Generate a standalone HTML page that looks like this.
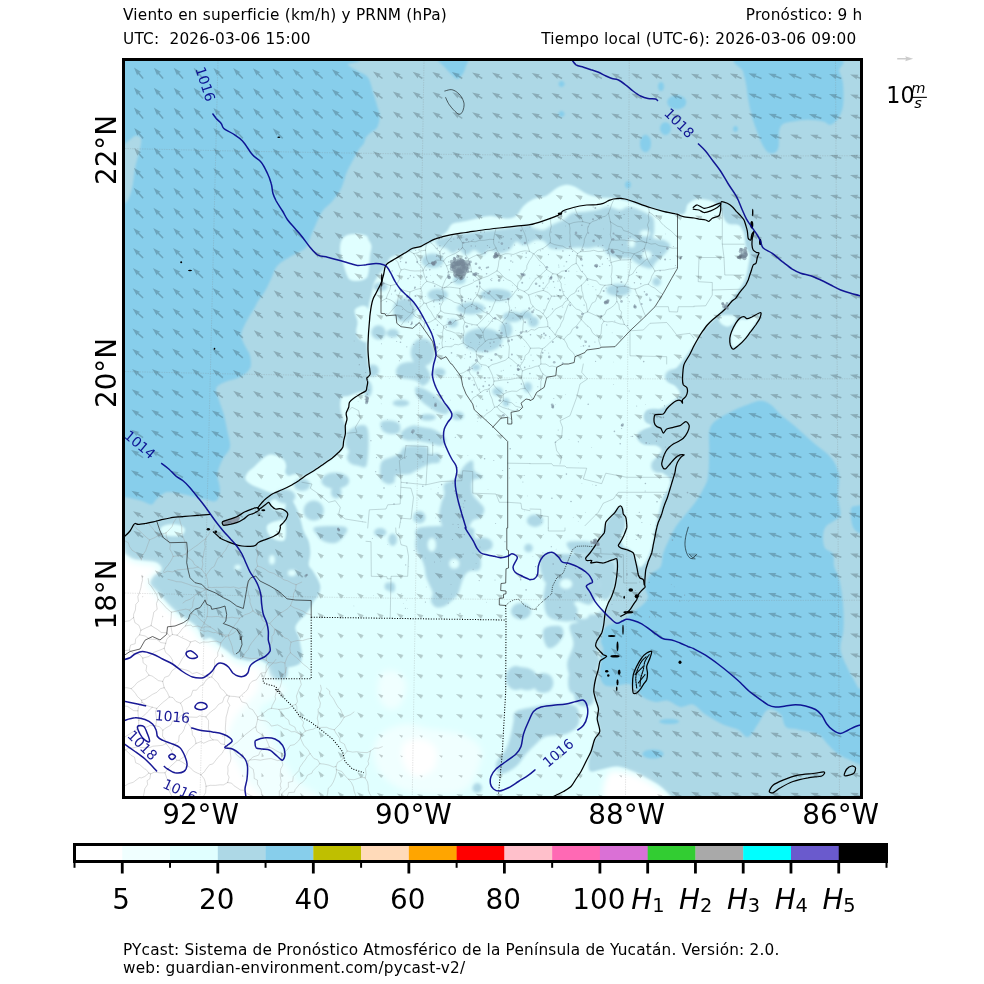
<!DOCTYPE html>
<html lang="es"><head><meta charset="utf-8"><title>PYcast – Viento en superficie y PRNM</title>
<style>
html,body{margin:0;padding:0;background:#fff}
body{width:984px;height:984px;overflow:hidden;position:relative;font-family:"DejaVu Sans","Liberation Sans",sans-serif;color:#000}
svg{position:absolute;left:0;top:0;display:block}
text{font-family:"DejaVu Sans","Liberation Sans",sans-serif}
</style></head>
<body>
<svg width="984" height="984" viewBox="0 0 984 984">
<defs><clipPath id="mc"><rect x="123.5" y="59.5" width="738.0" height="738.0"/></clipPath><filter id="b1" x="-5%" y="-5%" width="110%" height="110%"><feGaussianBlur stdDeviation="1.2"/></filter><filter id="b2" x="-5%" y="-5%" width="110%" height="110%"><feGaussianBlur stdDeviation="1.7"/></filter><filter id="b3" x="-5%" y="-5%" width="110%" height="110%"><feGaussianBlur stdDeviation="3"/></filter></defs>
<g clip-path="url(#mc)">
<rect x="113.5" y="49.5" width="758.0" height="758.0" fill="#add8e6"/>
<g filter="url(#b1)">
<path d="M118.0,54.0C154.9,39.8 303.0,56.7 341.2,58.5C379.5,60.3 344.8,62.7 347.5,64.8C350.2,66.8 354.4,69.2 357.5,71.0C360.6,72.8 364.0,73.8 366.0,75.5C368.0,77.2 368.5,78.0 369.8,81.0C371.0,84.0 372.2,89.3 373.5,93.5C374.8,97.7 376.2,102.2 377.2,106.0C378.3,109.8 379.8,112.5 379.8,116.0C379.8,119.5 378.7,124.5 377.2,127.2C375.8,130.0 372.9,130.6 371.0,132.2C369.1,133.9 367.2,135.4 366.0,137.2C364.8,139.1 365.0,141.4 363.8,143.5C362.5,145.6 360.6,146.8 358.8,149.8C356.9,152.7 354.6,157.0 352.5,161.0C350.4,165.0 348.1,168.9 346.2,173.5C344.4,178.1 343.5,183.9 341.2,188.5C339.0,193.1 335.6,197.2 332.5,201.0C329.4,204.8 325.2,207.2 322.5,211.0C319.8,214.8 318.1,219.5 316.2,223.5C314.4,227.5 312.9,230.8 311.2,234.8C309.6,238.7 308.8,244.1 306.2,247.2C303.8,250.4 299.8,251.4 296.2,253.5C292.7,255.6 288.3,257.5 285.0,259.8C281.7,262.0 278.5,264.1 276.2,267.2C274.0,270.4 273.1,274.5 271.2,278.5C269.4,282.5 267.3,287.1 265.0,291.0C262.7,294.9 259.2,299.3 257.5,302.0C255.8,304.7 256.9,303.7 255.0,307.0C253.1,310.3 248.5,317.4 246.2,322.0C244.0,326.6 241.5,330.5 241.2,334.5C241.0,338.5 243.5,342.2 245.0,345.8C246.5,349.3 249.2,352.0 250.0,355.8C250.8,359.5 251.7,364.7 250.0,368.2C248.3,371.8 244.2,374.7 240.0,377.0C235.8,379.3 229.0,380.1 225.0,382.0C221.0,383.9 217.3,385.3 216.2,388.2C215.2,391.2 217.5,395.1 218.8,399.5C220.0,403.9 222.3,409.1 223.8,414.5C225.2,419.9 226.5,426.6 227.5,432.0C228.5,437.4 230.8,442.4 230.0,447.0C229.2,451.6 224.6,454.9 222.5,459.5C220.4,464.1 217.9,469.5 217.5,474.5C217.1,479.5 220.2,485.1 220.0,489.5C219.8,493.9 218.8,499.1 216.2,500.8C213.8,502.4 210.2,500.5 205.0,499.5C199.8,498.5 191.2,495.8 185.0,494.5C178.8,493.2 172.1,491.4 167.5,492.0C162.9,492.6 160.2,496.2 157.5,498.2C154.8,500.3 154.0,504.1 151.2,504.5C148.5,504.9 145.6,502.0 141.2,500.8C136.9,499.5 128.5,497.6 125.0,497.0C121.5,496.4 120.8,545.5 120.0,497.0C119.2,448.5 119.2,254.9 120.0,206.0C120.8,157.1 123.5,204.8 125.0,203.5C126.5,202.2 127.5,201.4 128.8,198.5C130.0,195.6 131.5,191.0 132.5,186.0C133.5,181.0 134.0,173.9 135.0,168.5C136.0,163.1 137.7,158.3 138.8,153.5C139.8,148.7 141.7,142.8 141.2,139.8C140.8,136.8 138.1,135.5 136.2,135.5C134.4,135.5 131.9,138.4 130.0,139.8C128.1,141.1 126.7,142.9 125.0,143.5C123.3,144.1 121.2,158.4 120.0,143.5C118.8,128.6 81.1,68.2 118.0,54.0Z" fill="#87ceeb"/>
<path d="M438.5,58.5C442.0,57.0 461.5,57.0 466.0,58.5C470.5,60.0 466.1,64.5 465.5,67.2C464.9,70.0 463.6,72.8 462.2,74.8C460.9,76.7 459.1,79.1 457.2,79.0C455.4,78.9 453.1,76.0 451.0,74.0C448.9,72.0 446.8,69.8 444.8,67.2C442.7,64.7 435.0,60.0 438.5,58.5Z" fill="#87ceeb"/>
<path d="M740.0,58.5C755.4,56.4 819.0,56.4 835.5,58.5C852.0,60.6 838.0,66.8 839.2,71.0C840.5,75.2 842.4,77.7 843.0,83.5C843.6,89.3 843.8,100.2 843.0,106.0C842.2,111.8 840.1,115.4 838.0,118.5C835.9,121.6 833.0,124.2 830.5,124.8C828.0,125.2 826.8,122.3 823.0,121.5C819.2,120.7 813.0,119.8 808.0,119.8C803.0,119.8 797.2,120.8 793.0,121.5C788.8,122.2 785.3,122.4 783.0,124.0C780.7,125.6 780.0,127.1 779.2,131.0C778.5,134.9 779.3,143.6 778.5,147.2C777.7,150.9 776.0,152.2 774.2,153.0C772.5,153.8 770.0,153.6 768.0,152.2C766.0,150.9 764.4,148.3 762.5,144.8C760.6,141.2 758.5,135.8 756.8,131.0C755.0,126.2 753.1,121.0 751.8,116.0C750.4,111.0 749.5,106.4 748.5,101.0C747.5,95.6 746.9,88.5 746.0,83.5C745.1,78.5 744.0,75.2 743.0,71.0C742.0,66.8 724.6,60.6 740.0,58.5Z" fill="#87ceeb"/>
<path d="M760.5,400.8C764.2,400.8 767.2,402.2 770.5,404.5C773.8,406.8 776.8,411.2 780.5,414.5C784.2,417.8 789.0,421.2 793.0,424.5C797.0,427.8 800.5,431.2 804.2,434.5C808.0,437.8 811.5,441.2 815.5,444.5C819.5,447.8 824.7,451.2 828.0,454.5C831.3,457.8 833.6,460.8 835.5,464.5C837.4,468.2 838.8,471.6 839.2,477.0C839.7,482.4 837.8,490.8 838.0,497.0C838.2,503.2 841.1,510.5 840.5,514.5C839.9,518.5 836.8,518.7 834.2,520.8C831.8,522.8 827.4,524.3 825.5,527.0C823.6,529.7 823.1,533.5 823.0,537.0C822.9,540.5 823.3,545.2 825.0,548.0C826.7,550.8 831.5,550.9 833.0,554.0C834.5,557.1 833.2,562.3 834.2,566.5C835.3,570.7 837.8,572.8 839.2,579.0C840.7,585.2 842.3,595.7 843.0,604.0C843.7,612.3 843.9,621.5 843.5,629.0C843.1,636.5 840.0,642.8 840.5,649.0C841.0,655.2 844.5,661.3 846.8,666.5C849.0,671.7 852.2,676.5 854.2,680.2C856.3,684.0 857.4,687.5 859.2,689.0C861.1,690.5 864.5,676.5 865.5,689.0C866.5,701.5 866.5,751.5 865.5,764.0C864.5,776.5 861.3,764.4 859.2,764.0C857.2,763.6 856.5,763.2 853.0,761.5C849.5,759.8 842.2,756.8 838.0,754.0C833.8,751.2 831.3,747.8 828.0,744.5C824.7,741.2 823.0,737.0 818.0,734.5C813.0,732.0 803.3,730.8 798.0,729.5C792.7,728.2 788.9,729.5 786.0,727.0C783.1,724.5 783.5,717.4 780.5,714.5C777.5,711.6 771.8,707.9 768.0,709.5C764.2,711.1 761.3,719.4 758.0,724.0C754.7,728.6 751.3,736.1 748.0,737.0C744.7,737.9 742.2,731.6 738.0,729.5C733.8,727.4 728.4,727.0 723.0,724.5C717.6,722.0 710.5,717.8 705.5,714.5C700.5,711.2 697.2,705.8 693.0,704.5C688.8,703.2 684.7,707.6 680.5,707.0C676.3,706.4 672.2,701.6 668.0,700.8C663.8,699.9 659.7,702.6 655.5,702.0C651.3,701.4 647.2,699.9 643.0,697.0C638.8,694.1 635.7,686.2 630.5,684.5C625.3,682.8 616.5,686.6 612.0,686.5C607.5,686.4 605.5,686.1 603.5,684.0C601.5,681.9 600.2,678.2 599.8,674.0C599.3,669.8 600.4,663.2 601.0,659.0C601.6,654.8 603.7,652.3 603.5,649.0C603.3,645.7 599.8,642.3 599.8,639.0C599.8,635.7 601.5,631.5 603.5,629.0C605.5,626.5 608.3,625.6 612.0,624.0C615.7,622.4 622.0,621.5 625.5,619.5C629.0,617.5 630.1,614.5 633.0,612.0C635.9,609.5 640.5,607.0 643.0,604.5C645.5,602.0 647.6,599.9 648.0,597.0C648.4,594.1 645.1,590.8 645.5,587.0C645.9,583.2 648.0,577.8 650.5,574.5C653.0,571.2 658.4,570.4 660.5,567.0C662.6,563.6 661.8,558.2 663.0,554.0C664.2,549.8 665.9,546.5 668.0,542.0C670.1,537.5 672.6,531.6 675.5,527.0C678.4,522.4 682.2,518.7 685.5,514.5C688.8,510.3 692.6,506.2 695.5,502.0C698.4,497.8 700.9,493.7 703.0,489.5C705.1,485.3 707.0,483.2 708.0,477.0C709.0,470.8 709.0,459.5 709.2,452.0C709.5,444.5 708.4,437.0 709.2,432.0C710.1,427.0 710.7,425.3 714.2,422.0C717.8,418.7 724.9,414.9 730.5,412.0C736.1,409.1 743.0,406.4 748.0,404.5C753.0,402.6 756.8,400.8 760.5,400.8Z" fill="#87ceeb"/>
<path d="M686.2,102.2C686.2,103.4 685.8,104.7 685.0,105.8C684.2,106.8 682.9,107.7 681.5,108.3C680.1,108.9 678.3,109.2 676.8,109.2C675.2,109.2 673.4,108.9 672.0,108.3C670.6,107.7 669.3,106.8 668.5,105.8C667.7,104.7 667.2,103.4 667.2,102.2C667.2,101.1 667.7,99.8 668.5,98.8C669.3,97.7 670.6,96.8 672.0,96.2C673.4,95.6 675.2,95.2 676.8,95.2C678.3,95.2 680.1,95.6 681.5,96.2C682.9,96.8 684.2,97.7 685.0,98.8C685.8,99.8 686.2,101.1 686.2,102.2Z" fill="#87ceeb"/>
<path d="M671.0,128.5C671.0,129.5 670.7,130.7 670.3,131.6C669.8,132.5 669.0,133.4 668.2,133.9C667.5,134.4 666.4,134.8 665.5,134.8C664.6,134.8 663.5,134.4 662.8,133.9C662.0,133.4 661.2,132.5 660.7,131.6C660.3,130.7 660.0,129.5 660.0,128.5C660.0,127.5 660.3,126.3 660.7,125.4C661.2,124.5 662.0,123.6 662.8,123.1C663.5,122.6 664.6,122.2 665.5,122.2C666.4,122.2 667.5,122.6 668.2,123.1C669.0,123.6 669.8,124.5 670.3,125.4C670.7,126.3 671.0,127.5 671.0,128.5Z" fill="#87ceeb"/>
<path d="M651.0,143.5C651.0,145.0 650.7,146.6 650.3,147.9C649.8,149.1 649.0,150.3 648.2,151.1C647.5,151.8 646.4,152.2 645.5,152.2C644.6,152.2 643.5,151.8 642.8,151.1C642.0,150.3 641.2,149.1 640.7,147.9C640.3,146.6 640.0,145.0 640.0,143.5C640.0,142.0 640.3,140.4 640.7,139.1C641.2,137.9 642.0,136.7 642.8,135.9C643.5,135.2 644.6,134.8 645.5,134.8C646.4,134.8 647.5,135.2 648.2,135.9C649.0,136.7 649.8,137.9 650.3,139.1C650.7,140.4 651.0,142.0 651.0,143.5Z" fill="#87ceeb"/>
<path d="M664.0,86.5C664.0,87.2 663.8,88.1 663.6,88.8C663.3,89.4 662.9,90.0 662.5,90.4C662.1,90.8 661.5,91.0 661.0,91.0C660.5,91.0 659.9,90.8 659.5,90.4C659.1,90.0 658.7,89.4 658.4,88.8C658.2,88.1 658.0,87.2 658.0,86.5C658.0,85.8 658.2,84.9 658.4,84.2C658.7,83.6 659.1,83.0 659.5,82.6C659.9,82.2 660.5,82.0 661.0,82.0C661.5,82.0 662.1,82.2 662.5,82.6C662.9,83.0 663.3,83.6 663.6,84.2C663.8,84.9 664.0,85.8 664.0,86.5Z" fill="#87ceeb"/>
<path d="M738.0,129.0C738.0,129.5 737.9,130.1 737.7,130.5C737.5,130.9 737.1,131.3 736.8,131.6C736.4,131.8 735.9,132.0 735.5,132.0C735.1,132.0 734.6,131.8 734.2,131.6C733.9,131.3 733.5,130.9 733.3,130.5C733.1,130.1 733.0,129.5 733.0,129.0C733.0,128.5 733.1,127.9 733.3,127.5C733.5,127.1 733.9,126.7 734.2,126.4C734.6,126.2 735.1,126.0 735.5,126.0C735.9,126.0 736.4,126.2 736.8,126.4C737.1,126.7 737.5,127.1 737.7,127.5C737.9,127.9 738.0,128.5 738.0,129.0Z" fill="#87ceeb"/>
<path d="M564.5,84.0C564.5,84.5 564.3,85.1 564.1,85.5C563.8,85.9 563.4,86.3 563.0,86.6C562.6,86.8 562.0,87.0 561.5,87.0C561.0,87.0 560.4,86.8 560.0,86.6C559.6,86.3 559.2,85.9 558.9,85.5C558.7,85.1 558.5,84.5 558.5,84.0C558.5,83.5 558.7,82.9 558.9,82.5C559.2,82.1 559.6,81.7 560.0,81.4C560.4,81.2 561.0,81.0 561.5,81.0C562.0,81.0 562.6,81.2 563.0,81.4C563.4,81.7 563.8,82.1 564.1,82.5C564.3,82.9 564.5,83.5 564.5,84.0Z" fill="#87ceeb"/>
<path d="M564.5,114.0C564.5,114.5 564.3,115.1 564.1,115.5C563.8,115.9 563.4,116.3 563.0,116.6C562.6,116.8 562.0,117.0 561.5,117.0C561.0,117.0 560.4,116.8 560.0,116.6C559.6,116.3 559.2,115.9 558.9,115.5C558.7,115.1 558.5,114.5 558.5,114.0C558.5,113.5 558.7,112.9 558.9,112.5C559.2,112.1 559.6,111.7 560.0,111.4C560.4,111.2 561.0,111.0 561.5,111.0C562.0,111.0 562.6,111.2 563.0,111.4C563.4,111.7 563.8,112.1 564.1,112.5C564.3,112.9 564.5,113.5 564.5,114.0Z" fill="#87ceeb"/>
<path d="M631.0,184.8C631.0,185.4 630.8,186.1 630.6,186.6C630.3,187.2 629.9,187.7 629.5,188.0C629.1,188.3 628.5,188.5 628.0,188.5C627.5,188.5 626.9,188.3 626.5,188.0C626.1,187.7 625.7,187.2 625.4,186.6C625.2,186.1 625.0,185.4 625.0,184.8C625.0,184.1 625.2,183.4 625.4,182.9C625.7,182.3 626.1,181.8 626.5,181.5C626.9,181.2 627.5,181.0 628.0,181.0C628.5,181.0 629.1,181.2 629.5,181.5C629.9,181.8 630.3,182.3 630.6,182.9C630.8,183.4 631.0,184.1 631.0,184.8Z" fill="#87ceeb"/>
<path d="M679.2,721.5C679.2,721.9 678.7,722.4 677.9,722.8C677.1,723.1 675.7,723.5 674.2,723.7C672.8,723.9 670.9,724.0 669.2,724.0C667.6,724.0 665.7,723.9 664.2,723.7C662.8,723.5 661.4,723.1 660.6,722.8C659.8,722.4 659.2,721.9 659.2,721.5C659.2,721.1 659.8,720.6 660.6,720.2C661.4,719.9 662.8,719.5 664.2,719.3C665.7,719.1 667.6,719.0 669.2,719.0C670.9,719.0 672.8,719.1 674.2,719.3C675.7,719.5 677.1,719.9 677.9,720.2C678.7,720.6 679.2,721.1 679.2,721.5Z" fill="#87ceeb"/>
<path d="M663.5,754.0C663.5,754.8 663.0,755.6 662.1,756.2C661.2,756.9 659.8,757.5 658.2,757.9C656.7,758.3 654.8,758.5 653.0,758.5C651.2,758.5 649.3,758.3 647.8,757.9C646.2,757.5 644.8,756.9 643.9,756.2C643.0,755.6 642.5,754.8 642.5,754.0C642.5,753.2 643.0,752.4 643.9,751.8C644.8,751.1 646.2,750.5 647.8,750.1C649.3,749.7 651.2,749.5 653.0,749.5C654.8,749.5 656.7,749.7 658.2,750.1C659.8,750.5 661.2,751.1 662.1,751.8C663.0,752.4 663.5,753.2 663.5,754.0Z" fill="#87ceeb"/>
<path d="M851.0,509.0C851.7,506.0 853.8,506.2 856.0,506.0C858.2,505.8 862.7,503.8 864.0,508.0C865.3,512.2 865.2,527.0 864.0,531.0C862.8,535.0 859.0,533.2 857.0,532.0C855.0,530.8 853.0,527.8 852.0,524.0C851.0,520.2 850.3,512.0 851.0,509.0Z" fill="#87ceeb"/>
<path d="M384.8,267.2C387.5,263.3 387.9,259.5 391.0,257.2C394.1,255.0 399.3,255.0 403.5,253.5C407.7,252.0 411.4,249.9 416.0,248.0C420.6,246.1 426.0,244.9 431.0,242.2C436.0,239.6 442.5,235.3 446.0,232.2C449.5,229.2 448.9,225.9 452.2,224.0C455.6,222.1 461.6,222.0 466.0,221.0C470.4,220.0 474.3,218.8 478.5,218.0C482.7,217.2 486.4,215.9 491.0,216.0C495.6,216.1 501.8,218.5 506.0,218.5C510.2,218.5 513.1,218.1 516.0,216.0C518.9,213.9 520.6,208.8 523.5,206.0C526.4,203.2 529.8,200.7 533.5,199.0C537.2,197.3 542.2,197.8 546.0,196.0C549.8,194.2 552.7,190.4 556.0,188.5C559.3,186.6 562.7,185.0 566.0,184.8C569.3,184.5 572.7,185.8 576.0,187.2C579.3,188.7 582.2,191.8 586.0,193.5C589.8,195.2 594.2,196.5 598.5,197.2C602.8,198.0 607.5,197.5 612.0,198.0C616.5,198.5 620.3,199.2 625.5,200.5C630.7,201.8 635.9,204.0 643.0,206.0C650.1,208.0 661.2,210.9 668.0,212.2C674.8,213.6 680.2,215.4 683.5,214.0C686.8,212.6 685.6,206.5 688.0,204.0C690.4,201.5 693.8,199.4 698.0,199.0C702.2,198.6 709.2,199.8 713.0,201.5C716.8,203.2 718.9,207.6 720.5,209.0C722.1,210.4 721.2,207.9 722.3,210.0C723.5,212.1 724.8,219.4 727.3,221.7C729.8,223.9 734.6,221.4 737.3,223.3C740.1,225.3 742.6,229.4 744.0,233.3C745.4,237.2 744.7,243.1 745.7,246.7C746.6,250.3 749.4,251.7 749.8,255.0C750.2,258.3 748.7,263.3 748.2,266.7C747.6,270.0 747.3,272.2 746.5,275.0C745.7,277.8 744.8,280.3 743.2,283.3C741.5,286.4 738.4,290.6 736.5,293.3C734.6,296.1 733.4,297.8 731.5,300.0C729.6,302.2 727.1,304.2 724.8,306.7C722.6,309.2 720.4,312.5 718.2,315.0C715.9,317.5 713.7,319.4 711.5,321.7C709.3,323.9 706.8,325.8 704.8,328.3C702.9,330.8 701.5,334.0 699.8,336.7C698.2,339.3 698.1,339.6 694.8,344.2C691.5,348.7 683.9,359.3 680.0,364.0C676.1,368.7 673.9,369.8 671.7,372.3C669.4,374.8 666.1,376.8 666.7,379.0C667.2,381.2 672.8,383.2 675.0,385.7C677.2,388.2 680.6,391.2 680.0,394.0C679.4,396.8 675.0,399.8 671.7,402.3C668.3,404.8 664.2,407.6 660.0,409.0C655.8,410.4 649.2,408.7 646.7,410.7C644.2,412.6 644.2,418.2 645.0,420.7C645.8,423.2 651.9,424.0 651.7,425.7C651.4,427.3 645.6,428.7 643.3,430.7C641.1,432.6 638.3,435.1 638.3,437.3C638.3,439.6 640.3,442.6 643.3,444.0C646.4,445.4 653.6,444.6 656.7,445.7C659.7,446.8 661.7,448.7 661.7,450.7C661.7,452.6 657.8,454.8 656.7,457.3C655.6,459.8 654.2,463.2 655.0,465.7C655.8,468.2 659.2,470.1 661.7,472.3C664.2,474.6 668.9,476.2 670.0,479.0C671.1,481.8 669.4,485.9 668.3,489.0C667.2,492.1 664.7,494.0 663.3,497.3C661.9,500.7 661.0,505.4 660.0,509.0C659.0,512.6 658.2,515.8 657.5,519.0C656.8,522.2 656.2,526.2 655.8,528.0C655.4,529.8 655.4,527.4 655.0,529.7C654.6,531.9 654.2,537.4 653.3,541.3C652.5,545.2 651.4,549.4 650.0,553.0C648.6,556.6 646.8,560.6 645.0,563.0C643.2,565.4 640.8,568.0 639.2,567.2C637.6,566.3 636.9,560.9 635.3,558.0C633.8,555.1 632.0,551.6 630.0,549.7C628.0,547.7 624.9,548.3 623.3,546.3C621.8,544.4 620.7,540.8 620.8,538.0C621.0,535.2 623.5,531.7 624.2,529.7C624.9,527.6 624.9,527.7 625.0,525.7C625.1,523.6 625.4,520.1 625.0,517.3C624.6,514.6 623.2,510.8 622.5,509.0C621.8,507.2 621.8,506.5 620.8,506.5C619.9,506.5 618.5,507.2 616.7,509.0C614.9,510.8 611.9,514.6 610.0,517.3C608.1,520.1 606.4,523.6 605.3,525.7C604.2,527.7 604.2,527.6 603.3,529.7C602.4,531.7 601.7,535.2 600.0,538.0C598.3,540.8 595.8,543.3 593.3,546.3C590.8,549.4 586.4,553.8 585.0,556.3C583.6,558.8 583.1,560.1 585.0,561.3C586.9,562.6 591.9,564.0 596.7,563.8C601.4,563.7 610.1,559.5 613.3,560.5C616.6,561.5 616.1,565.4 616.3,569.7C616.6,574.0 616.1,581.3 615.0,586.3C613.9,591.3 611.7,595.5 610.0,599.7C608.3,603.8 606.1,606.6 605.0,611.3C603.9,616.1 604.7,623.0 603.3,628.0C601.9,633.0 597.2,636.9 596.7,641.3C596.1,645.8 599.7,649.9 600.0,654.7C600.3,659.4 599.3,663.4 598.3,669.7C597.4,675.9 594.6,687.1 594.2,692.0C593.7,696.9 594.8,696.2 595.5,699.0C596.2,701.8 598.2,705.7 598.5,709.0C598.8,712.3 597.0,715.2 597.2,719.0C597.5,722.8 600.2,728.2 599.8,731.5C599.3,734.8 596.2,735.7 594.8,739.0C593.3,742.3 592.0,747.3 591.0,751.5C590.0,755.7 588.5,760.7 588.5,764.0C588.5,767.3 588.6,770.7 591.0,771.5C593.4,772.3 598.5,769.8 603.0,769.0C607.5,768.2 613.0,766.1 618.0,766.5C623.0,766.9 628.0,769.4 633.0,771.5C638.0,773.6 643.4,776.5 648.0,779.0C652.6,781.5 656.5,783.4 660.5,786.5C664.5,789.6 669.9,794.8 671.8,797.8C673.6,800.7 722.7,803.0 671.8,804.0C620.8,805.0 458.8,804.0 366.0,804.0C273.2,804.0 156.6,845.6 115.0,804.0C73.4,762.4 115.0,595.9 116.7,554.3C118.3,512.7 122.2,553.5 125.0,554.3C127.8,555.2 130.0,558.2 133.3,559.3C136.7,560.4 141.1,560.4 145.0,561.0C148.9,561.6 153.9,561.3 156.7,562.7C159.4,564.1 162.2,567.1 161.7,569.3C161.1,571.6 155.3,573.5 153.3,576.0C151.4,578.5 149.2,581.6 150.0,584.3C150.8,587.1 155.6,589.6 158.3,592.7C161.1,595.7 163.9,599.6 166.7,602.7C169.4,605.7 172.2,608.5 175.0,611.0C177.8,613.5 180.6,615.7 183.3,617.7C186.1,619.6 189.2,620.7 191.7,622.7C194.2,624.6 196.4,626.4 198.3,629.3C200.3,632.2 201.3,638.6 203.3,640.0C205.3,641.4 207.8,637.2 210.3,638.0C212.9,638.8 215.9,642.4 218.7,644.7C221.4,646.9 224.2,649.1 227.0,651.3C229.8,653.6 232.8,656.6 235.3,658.0C237.8,659.4 239.5,659.1 242.0,659.7C244.5,660.2 247.8,661.3 250.3,661.3C252.8,661.3 254.5,659.4 257.0,659.7C259.5,659.9 263.1,661.3 265.3,663.0C267.6,664.7 268.9,667.4 270.3,669.7C271.7,671.9 271.7,674.9 273.7,676.3C275.6,677.7 280.1,678.3 282.0,678.0C283.9,677.7 284.5,676.3 285.3,674.7C286.2,673.0 285.6,669.4 287.0,668.0C288.4,666.6 291.4,667.2 293.7,666.3C295.9,665.5 298.9,664.9 300.3,663.0C301.7,661.1 302.0,657.7 302.0,654.7C302.0,651.6 300.9,647.7 300.3,644.7C299.8,641.6 299.5,639.1 298.7,636.3C297.8,633.6 295.3,630.5 295.3,628.0C295.3,625.5 297.0,623.6 298.7,621.3C300.3,619.1 303.4,616.9 305.3,614.7C307.3,612.4 308.9,610.2 310.3,608.0C311.7,605.8 312.3,603.6 313.7,601.3C315.1,599.1 317.6,597.2 318.7,594.7C319.8,592.2 320.6,589.1 320.3,586.3C320.1,583.6 318.4,580.8 317.0,578.0C315.6,575.2 313.4,571.9 312.0,569.7C310.6,567.4 308.9,567.4 308.7,564.7C308.4,561.9 310.3,556.9 310.3,553.0C310.3,549.1 309.8,544.9 308.7,541.3C307.6,537.7 305.1,535.1 303.7,531.3C302.3,527.6 301.7,523.3 300.3,519.0C298.9,514.7 297.3,509.6 295.3,505.7C293.4,501.8 290.9,498.1 288.7,495.7C286.4,493.2 284.5,491.4 282.0,491.0C279.5,490.6 276.4,493.2 273.7,493.2C270.9,493.1 268.1,491.6 265.3,490.7C262.6,489.7 259.5,488.4 257.0,487.3C254.5,486.2 252.3,485.4 250.3,484.0C248.4,482.6 245.8,480.9 245.3,479.0C244.9,477.1 246.4,474.3 247.8,472.3C249.2,470.4 251.6,469.3 253.7,467.3C255.8,465.4 257.8,462.8 260.3,460.7C262.8,458.6 265.9,455.7 268.7,454.8C271.4,454.0 274.5,454.8 277.0,455.7C279.5,456.5 282.1,458.2 283.7,459.8C285.2,461.5 285.9,463.6 286.2,465.7C286.4,467.8 284.9,470.7 285.3,472.3C285.8,474.0 287.0,475.4 288.7,475.7C290.3,475.9 293.1,474.0 295.3,474.0C297.6,474.0 300.1,475.5 302.0,475.7C303.9,475.8 304.8,475.8 307.0,474.8C309.2,473.9 312.6,471.6 315.3,469.8C318.1,468.0 320.9,465.9 323.7,464.0C326.4,462.1 329.5,460.1 332.0,458.2C334.5,456.2 336.9,454.1 338.7,452.3C340.5,450.5 342.0,449.3 342.8,447.3C343.7,445.4 343.2,442.9 343.7,440.7C344.1,438.4 345.1,436.5 345.3,434.0C345.6,431.5 345.8,428.2 345.3,425.7C344.9,423.2 343.5,421.2 342.8,419.0C342.1,416.8 341.6,414.8 341.2,412.3C340.7,409.8 340.2,406.5 340.3,404.0C340.5,401.5 340.6,398.7 342.0,397.3C343.4,395.9 345.9,396.5 348.7,395.7C351.4,394.8 355.8,393.4 358.7,392.3C361.6,391.2 364.4,392.0 366.0,389.0C367.6,386.0 368.3,380.7 368.5,374.5C368.7,368.3 367.7,359.9 367.2,352.0C366.8,344.1 365.8,334.5 366.0,327.0C366.2,319.5 367.7,312.2 368.5,307.0C369.3,301.8 370.0,300.3 371.0,296.0C372.0,291.7 372.5,285.8 374.8,281.0C377.0,276.2 382.0,271.2 384.8,267.2Z" fill="#e0ffff"/>
<path d="M341.2,241.0C342.3,238.4 344.0,236.7 346.2,235.5C348.5,234.3 351.7,234.0 355.0,234.0C358.3,234.0 363.8,234.5 366.0,235.5C368.2,236.5 367.6,238.0 368.5,239.8C369.4,241.5 371.2,243.3 371.5,246.0C371.8,248.7 370.5,251.8 370.0,256.0C369.5,260.2 369.4,267.2 368.8,271.0C368.1,274.8 367.9,276.8 366.0,278.5C364.1,280.2 360.2,280.8 357.5,281.0C354.8,281.2 351.9,281.0 350.0,279.8C348.1,278.5 347.5,276.6 346.2,273.5C345.0,270.4 343.5,264.8 342.5,261.0C341.5,257.2 340.2,254.3 340.0,251.0C339.8,247.7 340.2,243.6 341.2,241.0Z" fill="#e0ffff"/>
<path d="M355.0,309.5C356.7,307.2 365.4,303.2 367.5,308.2C369.6,313.2 368.8,334.3 367.5,339.5C366.2,344.7 361.9,340.8 360.0,339.5C358.1,338.2 356.7,334.9 356.2,332.0C355.8,329.1 357.7,325.8 357.5,322.0C357.3,318.2 353.3,311.8 355.0,309.5Z" fill="#e0ffff"/>
<path d="M160.8,527.7C161.9,526.0 166.8,524.8 170.0,524.3C173.2,523.9 177.5,524.3 180.0,525.2C182.5,526.0 184.7,527.7 185.0,529.3C185.3,531.0 183.9,534.0 181.7,535.2C179.4,536.3 174.7,536.5 171.7,536.3C168.6,536.2 165.1,535.8 163.3,534.3C161.5,532.9 159.7,529.3 160.8,527.7Z" fill="#e0ffff"/>
<path d="M268.3,524.3C270.0,522.9 273.9,521.4 276.7,521.0C279.4,520.6 283.6,518.8 285.0,521.8C286.4,524.9 286.4,536.3 285.0,539.3C283.6,542.4 279.2,540.7 276.7,540.2C274.2,539.6 271.7,537.8 270.0,536.0C268.3,534.2 266.9,531.3 266.7,529.3C266.4,527.4 266.7,525.7 268.3,524.3Z" fill="#e0ffff"/>
<path d="M270.8,501.0C271.9,499.5 276.0,498.8 278.3,498.5C280.7,498.2 283.9,497.5 285.0,499.3C286.1,501.1 286.1,507.5 285.0,509.3C283.9,511.1 280.6,510.4 278.3,510.2C276.1,509.9 272.9,509.2 271.7,507.7C270.4,506.1 269.7,502.5 270.8,501.0Z" fill="#e0ffff"/>
<path d="M731.5,333.3C732.3,330.1 734.1,326.5 735.7,324.2C737.2,321.8 738.7,320.0 740.7,319.2C742.6,318.3 744.3,320.0 747.3,319.2C750.4,318.3 757.2,314.2 759.0,314.2C760.8,314.2 759.0,317.2 758.2,319.2C757.3,321.1 755.5,323.5 754.0,325.8C752.5,328.2 750.7,331.0 749.0,333.3C747.3,335.7 745.9,337.9 744.0,340.0C742.1,342.1 739.1,344.6 737.3,345.8C735.5,347.1 734.2,347.9 733.2,347.5C732.1,347.1 731.3,345.7 731.0,343.3C730.7,341.0 730.7,336.5 731.5,333.3Z" fill="#e0ffff"/>
<path d="M719.0,316.7C720.1,315.3 724.6,315.0 727.3,315.0C730.1,315.0 734.6,315.3 735.7,316.7C736.8,318.1 735.4,321.7 734.0,323.3C732.6,325.0 729.6,326.7 727.3,326.7C725.1,326.7 722.1,325.0 720.7,323.3C719.3,321.7 717.9,318.1 719.0,316.7Z" fill="#e0ffff"/>
</g>
<g filter="url(#b2)">
<path d="M436.0,240.0C437.7,238.9 442.7,237.8 446.0,237.0C449.3,236.2 452.7,235.6 456.0,235.0C459.3,234.4 461.6,234.0 466.0,233.3C470.4,232.7 477.1,231.9 482.7,231.2C488.2,230.5 493.8,229.8 499.3,229.2C504.9,228.5 510.7,227.9 516.0,227.3C521.3,226.8 528.5,223.4 531.0,225.8C533.5,228.2 532.4,238.5 531.0,241.7C529.6,244.9 525.2,245.0 522.7,245.0C520.2,245.0 518.2,240.8 516.0,241.7C513.8,242.5 512.1,248.1 509.3,250.0C506.6,251.9 502.7,253.3 499.3,253.3C496.0,253.3 492.1,249.7 489.3,250.0C486.6,250.3 485.2,255.0 482.7,255.0C480.2,255.0 477.1,250.0 474.3,250.0C471.6,250.0 468.5,255.0 466.0,255.0C463.5,255.0 461.6,250.3 459.3,250.0C457.1,249.7 454.9,253.6 452.7,253.3C450.4,253.1 448.2,249.4 446.0,248.3C443.8,247.2 441.0,247.5 439.3,246.7C437.7,245.8 436.6,244.4 436.0,243.3C435.4,242.2 434.3,241.1 436.0,240.0Z" fill="#add8e6"/>
<path d="M528.3,228.3C530.8,226.4 539.4,230.6 543.3,230.0C547.2,229.4 548.3,226.7 551.7,225.0C555.0,223.3 560.0,221.9 563.3,220.0C566.7,218.1 568.1,214.7 571.7,213.3C575.3,211.9 580.8,212.2 585.0,211.7C589.2,211.1 592.8,210.8 596.7,210.0C600.6,209.2 604.4,206.7 608.3,206.7C612.2,206.7 616.4,210.0 620.0,210.0C623.6,210.0 625.6,206.1 630.0,206.7C634.4,207.2 642.8,211.4 646.7,213.3C650.6,215.3 652.1,215.6 653.3,218.3C654.6,221.1 654.2,226.7 654.2,230.0C654.2,233.3 651.8,236.7 653.3,238.3C654.9,240.0 660.6,238.9 663.3,240.0C666.1,241.1 669.4,243.1 670.0,245.0C670.6,246.9 668.1,249.7 666.7,251.7C665.3,253.6 663.6,254.7 661.7,256.7C659.7,258.6 656.7,261.4 655.0,263.3C653.3,265.3 653.6,267.8 651.7,268.3C649.7,268.9 645.8,267.5 643.3,266.7C640.8,265.8 638.9,264.7 636.7,263.3C634.4,261.9 632.2,259.2 630.0,258.3C627.8,257.5 626.1,258.6 623.3,258.3C620.6,258.1 616.1,257.5 613.3,256.7C610.6,255.8 608.3,254.7 606.7,253.3C605.0,251.9 605.0,249.4 603.3,248.3C601.7,247.2 599.2,246.7 596.7,246.7C594.2,246.7 591.1,248.2 588.3,248.3C585.6,248.5 583.1,247.5 580.0,247.5C576.9,247.5 573.3,248.1 570.0,248.3C566.7,248.6 563.3,249.2 560.0,249.2C556.7,249.2 552.5,249.6 550.0,248.3C547.5,247.1 547.2,243.1 545.0,241.7C542.8,240.3 539.4,240.0 536.7,240.0C533.9,240.0 529.7,243.6 528.3,241.7C526.9,239.7 525.8,230.3 528.3,228.3Z" fill="#add8e6"/>
<path d="M722.3,210.0C723.7,207.9 732.1,208.6 735.7,210.0C739.3,211.4 742.6,216.1 744.0,218.3C745.4,220.6 745.1,222.4 744.0,223.3C742.9,224.3 740.1,224.3 737.3,224.2C734.6,224.0 729.8,224.9 727.3,222.5C724.8,220.1 720.9,212.1 722.3,210.0Z" fill="#add8e6"/>
<path d="M396.0,370.7C396.6,368.3 398.5,364.4 402.7,363.2C406.8,361.9 416.6,361.6 421.0,363.2C425.4,364.7 427.9,369.4 429.3,372.3C430.7,375.2 430.4,378.4 429.3,380.7C428.2,382.9 424.9,385.7 422.7,385.7C420.4,385.7 418.5,381.8 416.0,380.7C413.5,379.6 410.4,379.6 407.7,379.0C404.9,378.4 401.3,378.7 399.3,377.3C397.4,375.9 395.4,373.0 396.0,370.7Z" fill="#add8e6"/>
<path d="M416.0,387.3C417.4,386.5 421.6,387.9 424.3,389.0C427.1,390.1 429.9,392.1 432.7,394.0C435.4,395.9 438.2,398.2 441.0,400.7C443.8,403.2 448.5,406.8 449.3,409.0C450.2,411.2 447.9,413.4 446.0,414.0C444.1,414.6 440.4,413.4 437.7,412.3C434.9,411.2 432.1,409.3 429.3,407.3C426.6,405.4 423.2,402.9 421.0,400.7C418.8,398.4 416.8,396.2 416.0,394.0C415.2,391.8 414.6,388.2 416.0,387.3Z" fill="#add8e6"/>
<path d="M381.0,422.3C382.4,420.7 387.9,420.4 391.0,420.7C394.1,420.9 397.9,422.1 399.3,424.0C400.7,425.9 400.7,430.7 399.3,432.3C397.9,434.0 393.8,434.3 391.0,434.0C388.2,433.7 384.3,432.6 382.7,430.7C381.0,428.7 379.6,424.0 381.0,422.3Z" fill="#add8e6"/>
<path d="M402.7,430.7C404.6,428.7 409.3,426.2 412.7,425.7C416.0,425.1 419.3,426.8 422.7,427.3C426.0,427.9 429.6,427.9 432.7,429.0C435.7,430.1 438.8,432.1 441.0,434.0C443.2,435.9 446.0,438.7 446.0,440.7C446.0,442.6 443.2,445.1 441.0,445.7C438.8,446.2 435.2,444.6 432.7,444.0C430.2,443.4 428.8,442.9 426.0,442.3C423.2,441.8 419.1,440.9 416.0,440.7C412.9,440.4 410.2,441.2 407.7,440.7C405.2,440.1 401.8,439.0 401.0,437.3C400.2,435.7 400.7,432.6 402.7,430.7Z" fill="#add8e6"/>
<path d="M404.3,447.3C407.1,445.9 412.1,445.7 416.0,445.7C419.9,445.7 425.4,445.9 427.7,447.3C429.9,448.7 427.4,452.9 429.3,454.0C431.3,455.1 437.7,452.6 439.3,454.0C441.0,455.4 441.0,460.7 439.3,462.3C437.7,464.0 433.2,462.6 429.3,464.0C425.4,465.4 419.3,469.0 416.0,470.7C412.7,472.3 412.7,473.2 409.3,474.0C406.0,474.8 398.5,474.3 396.0,475.7C393.5,477.1 395.7,480.9 394.3,482.3C392.9,483.7 389.9,484.6 387.7,484.0C385.4,483.4 382.2,481.8 381.0,479.0C379.8,476.2 379.9,470.4 380.2,467.3C380.4,464.3 380.9,462.3 382.7,460.7C384.5,459.0 388.2,458.4 391.0,457.3C393.8,456.2 397.1,455.7 399.3,454.0C401.6,452.3 401.6,448.7 404.3,447.3Z" fill="#add8e6"/>
<path d="M466.0,464.0C467.9,462.3 471.3,459.6 472.7,460.7C474.1,461.8 472.7,467.9 474.3,470.7C476.0,473.4 482.9,475.7 482.7,477.3C482.4,479.0 474.3,477.9 472.7,480.7C471.0,483.4 471.6,490.4 472.7,494.0C473.8,497.6 477.4,499.8 479.3,502.3C481.3,504.8 484.1,506.5 484.3,509.0C484.6,511.5 482.9,515.4 481.0,517.3C479.1,519.3 475.2,518.7 472.7,520.7C470.2,522.6 470.4,527.6 466.0,529.0C461.6,530.4 450.4,530.9 446.0,529.0C441.6,527.1 440.2,521.5 439.3,517.3C438.5,513.2 440.2,507.9 441.0,504.0C441.8,500.1 443.8,497.3 444.3,494.0C444.9,490.7 442.4,486.5 444.3,484.0C446.3,481.5 453.2,481.2 456.0,479.0C458.8,476.8 459.3,473.2 461.0,470.7C462.7,468.2 464.1,465.7 466.0,464.0Z" fill="#add8e6"/>
<path d="M348.7,430.7C352.3,427.9 363.9,421.8 367.0,427.3C370.1,432.9 368.4,457.6 367.0,464.0C365.6,470.4 361.2,466.2 358.7,465.7C356.2,465.1 353.7,463.2 352.0,460.7C350.3,458.2 349.8,453.4 348.7,450.7C347.6,447.9 345.3,447.3 345.3,444.0C345.3,440.7 345.1,433.4 348.7,430.7Z" fill="#add8e6"/>
<path d="M315.3,527.2C320.1,525.9 340.6,525.6 345.3,527.2C350.1,528.7 345.3,533.7 343.7,536.3C342.0,539.0 338.7,542.2 335.3,543.0C332.0,543.8 326.7,542.7 323.7,541.3C320.6,539.9 318.4,537.0 317.0,534.7C315.6,532.3 310.6,528.4 315.3,527.2Z" fill="#add8e6"/>
<path d="M270.3,663.8C272.7,661.3 282.7,660.8 285.3,663.0C288.0,665.2 288.5,674.7 286.2,677.2C283.8,679.7 273.8,680.2 271.2,678.0C268.5,675.8 268.0,666.3 270.3,663.8Z" fill="#add8e6"/>
<path d="M421.0,527.2C429.9,525.4 460.4,525.6 469.3,527.2C478.2,528.7 472.7,532.6 474.3,536.3C476.0,540.1 478.2,545.5 479.3,549.7C480.4,553.8 481.0,558.0 481.0,561.3C481.0,564.7 481.3,568.0 479.3,569.7C477.4,571.3 471.8,570.2 469.3,571.3C466.8,572.4 465.7,574.1 464.3,576.3C462.9,578.6 462.1,581.6 461.0,584.7C459.9,587.7 459.3,591.9 457.7,594.7C456.0,597.4 453.2,599.4 451.0,601.3C448.8,603.3 446.8,605.4 444.3,606.3C441.8,607.3 438.2,608.0 436.0,607.2C433.8,606.3 431.6,603.7 431.0,601.3C430.4,599.0 432.9,595.8 432.7,593.0C432.4,590.2 430.4,587.4 429.3,584.7C428.2,581.9 426.8,579.4 426.0,576.3C425.2,573.3 425.2,569.4 424.3,566.3C423.5,563.3 422.4,560.8 421.0,558.0C419.6,555.2 416.8,553.0 416.0,549.7C415.2,546.3 415.2,541.8 416.0,538.0C416.8,534.2 412.1,529.0 421.0,527.2Z" fill="#add8e6"/>
<path d="M540.0,558.0C541.7,554.4 547.8,552.7 551.7,553.0C555.6,553.3 560.3,557.4 563.3,559.7C566.4,561.9 569.4,563.6 570.0,566.3C570.6,569.1 568.6,573.6 566.7,576.3C564.7,579.1 561.7,581.9 558.3,583.0C555.0,584.1 549.4,584.4 546.7,583.0C543.9,581.6 542.8,578.8 541.7,574.7C540.6,570.5 538.3,561.6 540.0,558.0Z" fill="#add8e6"/>
<path d="M566.7,543.0C567.8,541.1 575.0,541.3 580.0,541.3C585.0,541.3 592.8,541.9 596.7,543.0C600.6,544.1 602.8,546.1 603.3,548.0C603.9,549.9 602.8,553.6 600.0,554.7C597.2,555.8 591.1,554.9 586.7,554.7C582.2,554.4 576.7,554.9 573.3,553.0C570.0,551.1 565.6,544.9 566.7,543.0Z" fill="#add8e6"/>
<path d="M546.7,601.3C549.7,599.7 558.9,599.4 563.3,599.7C567.8,599.9 570.6,601.1 573.3,603.0C576.1,604.9 576.7,609.4 580.0,611.3C583.3,613.3 589.2,614.7 593.3,614.7C597.5,614.7 603.3,609.1 605.0,611.3C606.7,613.6 605.3,624.7 603.3,628.0C601.4,631.3 596.4,631.3 593.3,631.3C590.3,631.3 587.8,629.7 585.0,628.0C582.2,626.3 580.3,622.4 576.7,621.3C573.1,620.2 567.8,621.9 563.3,621.3C558.9,620.8 553.1,619.9 550.0,618.0C546.9,616.1 545.6,612.4 545.0,609.7C544.4,606.9 543.6,603.0 546.7,601.3Z" fill="#add8e6"/>
<path d="M585.0,631.3C587.2,630.8 595.0,631.9 596.7,634.7C598.3,637.4 594.4,643.8 595.0,648.0C595.6,652.2 599.7,655.8 600.0,659.7C600.3,663.6 597.8,665.8 596.7,671.3C595.6,676.9 597.5,689.4 593.3,693.0C589.2,696.6 575.8,695.5 571.7,693.0C567.5,690.5 568.1,682.4 568.3,678.0C568.6,673.6 571.7,669.7 573.3,666.3C575.0,663.0 576.4,661.1 578.3,658.0C580.3,654.9 584.2,651.3 585.0,648.0C585.8,644.7 583.3,640.8 583.3,638.0C583.3,635.2 582.8,631.9 585.0,631.3Z" fill="#add8e6"/>
<path d="M545.0,628.0C547.8,626.1 556.9,625.2 560.0,626.3C563.1,627.4 563.9,631.6 563.3,634.7C562.8,637.7 559.2,642.4 556.7,644.7C554.2,646.9 550.6,649.1 548.3,648.0C546.1,646.9 543.9,641.3 543.3,638.0C542.8,634.7 542.2,629.9 545.0,628.0Z" fill="#add8e6"/>
<path d="M593.3,564.7C596.7,562.2 609.6,559.1 613.3,561.3C617.1,563.6 615.8,573.0 615.8,578.0C615.8,583.0 614.9,587.7 613.3,591.3C611.8,594.9 609.4,599.1 606.7,599.7C603.9,600.2 597.8,597.4 596.7,594.7C595.6,591.9 600.6,586.1 600.0,583.0C599.4,579.9 594.4,579.4 593.3,576.3C592.2,573.3 590.0,567.2 593.3,564.7Z" fill="#add8e6"/>
<path d="M511.0,669.0C513.1,666.3 521.8,666.9 526.0,667.8C530.2,668.6 534.3,670.9 536.0,674.0C537.7,677.1 537.7,683.8 536.0,686.5C534.3,689.2 529.8,690.7 526.0,690.2C522.2,689.8 516.0,687.5 513.5,684.0C511.0,680.5 508.9,671.7 511.0,669.0Z" fill="#add8e6"/>
<path d="M516.0,711.5C519.8,709.0 529.3,707.8 536.0,706.5C542.7,705.2 549.3,704.0 556.0,704.0C562.7,704.0 572.2,703.2 576.0,706.5C579.8,709.8 580.2,719.4 578.5,724.0C576.8,728.6 571.4,731.9 566.0,734.0C560.6,736.1 551.0,734.8 546.0,736.5C541.0,738.2 539.3,741.1 536.0,744.0C532.7,746.9 529.3,750.2 526.0,754.0C522.7,757.8 520.2,763.2 516.0,766.5C511.8,769.8 504.3,774.4 501.0,774.0C497.7,773.6 495.2,768.2 496.0,764.0C496.8,759.8 503.5,754.0 506.0,749.0C508.5,744.0 509.8,738.6 511.0,734.0C512.2,729.4 512.7,725.2 513.5,721.5C514.3,717.8 512.2,714.0 516.0,711.5Z" fill="#add8e6"/>
<path d="M571.0,624.0C575.6,621.1 596.6,621.5 601.0,626.5C605.4,631.5 598.3,644.4 597.2,654.0C596.2,663.6 595.6,675.7 594.8,684.0C593.9,692.3 595.2,700.7 592.2,704.0C589.3,707.3 580.6,707.3 577.2,704.0C573.9,700.7 573.9,690.7 572.2,684.0C570.6,677.3 567.0,670.7 567.2,664.0C567.5,657.3 572.9,650.7 573.5,644.0C574.1,637.3 566.4,626.9 571.0,624.0Z" fill="#add8e6"/>
<path d="M541.0,559.0C544.3,554.8 557.7,554.0 566.0,554.0C574.3,554.0 585.4,554.0 591.0,559.0C596.6,564.0 599.8,576.5 599.8,584.0C599.8,591.5 595.0,601.1 591.0,604.0C587.0,606.9 580.2,600.2 576.0,601.5C571.8,602.8 570.2,609.4 566.0,611.5C561.8,613.6 554.8,616.1 551.0,614.0C547.2,611.9 544.3,604.8 543.5,599.0C542.7,593.2 546.4,585.7 546.0,579.0C545.6,572.3 537.7,563.2 541.0,559.0Z" fill="#add8e6"/>
<ellipse cx="432.7" cy="260.8" rx="11.0" ry="7.2" fill="#add8e6"/>
<ellipse cx="437.7" cy="295.0" rx="10.1" ry="6.2" fill="#add8e6"/>
<ellipse cx="404.3" cy="310.0" rx="11.0" ry="12.0" fill="#add8e6"/>
<ellipse cx="471.0" cy="308.3" rx="13.9" ry="6.2" fill="#add8e6"/>
<ellipse cx="496.0" cy="295.0" rx="15.8" ry="6.2" fill="#add8e6"/>
<ellipse cx="482.7" cy="340.0" rx="19.7" ry="12.0" fill="#add8e6"/>
<ellipse cx="422.7" cy="352.5" rx="12.0" ry="13.9" fill="#add8e6"/>
<ellipse cx="380.2" cy="286.7" rx="7.2" ry="4.3" fill="#add8e6"/>
<ellipse cx="378.5" cy="332.5" rx="7.2" ry="7.2" fill="#add8e6"/>
<ellipse cx="392.7" cy="333.3" rx="6.2" ry="4.3" fill="#add8e6"/>
<ellipse cx="459.3" cy="280.0" rx="6.2" ry="4.3" fill="#add8e6"/>
<ellipse cx="512.7" cy="316.7" rx="10.1" ry="5.3" fill="#add8e6"/>
<ellipse cx="526.0" cy="315.0" rx="6.2" ry="4.3" fill="#add8e6"/>
<ellipse cx="452.7" cy="323.3" rx="5.3" ry="4.3" fill="#add8e6"/>
<ellipse cx="506.0" cy="330.0" rx="6.2" ry="8.2" fill="#add8e6"/>
<ellipse cx="618.3" cy="290.0" rx="12.0" ry="6.2" fill="#add8e6"/>
<ellipse cx="656.7" cy="281.7" rx="4.3" ry="4.3" fill="#add8e6"/>
<ellipse cx="533.3" cy="321.7" rx="5.3" ry="5.3" fill="#add8e6"/>
<ellipse cx="653.3" cy="416.5" rx="9.1" ry="7.2" fill="#add8e6"/>
<ellipse cx="649.2" cy="436.5" rx="12.0" ry="7.2" fill="#add8e6"/>
<ellipse cx="658.3" cy="465.7" rx="7.2" ry="7.2" fill="#add8e6"/>
<ellipse cx="673.3" cy="376.5" rx="8.2" ry="7.2" fill="#add8e6"/>
<ellipse cx="535.0" cy="520.7" rx="8.2" ry="6.2" fill="#add8e6"/>
<ellipse cx="401.0" cy="403.2" rx="8.2" ry="3.4" fill="#add8e6"/>
<ellipse cx="427.7" cy="417.3" rx="8.2" ry="3.4" fill="#add8e6"/>
<ellipse cx="439.3" cy="372.3" rx="6.2" ry="4.3" fill="#add8e6"/>
<ellipse cx="457.7" cy="415.7" rx="6.2" ry="4.3" fill="#add8e6"/>
<ellipse cx="419.3" cy="517.3" rx="6.2" ry="6.2" fill="#add8e6"/>
<ellipse cx="476.0" cy="367.3" rx="4.3" ry="3.4" fill="#add8e6"/>
<ellipse cx="497.7" cy="391.5" rx="5.3" ry="4.3" fill="#add8e6"/>
<ellipse cx="506.0" cy="402.3" rx="3.4" ry="4.3" fill="#add8e6"/>
<ellipse cx="527.7" cy="387.3" rx="4.3" ry="5.3" fill="#add8e6"/>
<ellipse cx="367.7" cy="389.0" rx="4.3" ry="8.2" fill="#add8e6"/>
<ellipse cx="372.7" cy="370.7" rx="6.2" ry="6.2" fill="#add8e6"/>
<ellipse cx="335.3" cy="480.7" rx="13.9" ry="8.2" fill="#add8e6"/>
<ellipse cx="285.3" cy="496.5" rx="10.1" ry="7.2" fill="#add8e6"/>
<ellipse cx="313.7" cy="510.7" rx="10.1" ry="10.1" fill="#add8e6"/>
<ellipse cx="336.2" cy="492.3" rx="5.3" ry="6.2" fill="#add8e6"/>
<ellipse cx="357.0" cy="457.3" rx="10.1" ry="8.2" fill="#add8e6"/>
<ellipse cx="302.0" cy="484.8" rx="8.2" ry="6.2" fill="#add8e6"/>
<ellipse cx="482.7" cy="544.7" rx="10.1" ry="7.2" fill="#add8e6"/>
<ellipse cx="392.7" cy="539.7" rx="4.3" ry="6.2" fill="#add8e6"/>
<ellipse cx="391.8" cy="587.2" rx="3.4" ry="5.3" fill="#add8e6"/>
<ellipse cx="380.2" cy="532.2" rx="6.2" ry="4.3" fill="#add8e6"/>
<ellipse cx="521.0" cy="611.3" rx="10.1" ry="8.2" fill="#add8e6"/>
<ellipse cx="516.0" cy="678.0" rx="10.1" ry="12.0" fill="#add8e6"/>
<ellipse cx="528.5" cy="548.0" rx="4.3" ry="4.3" fill="#add8e6"/>
<ellipse cx="543.3" cy="683.0" rx="10.1" ry="10.1" fill="#add8e6"/>
<ellipse cx="477.2" cy="787.8" rx="4.8" ry="4.8" fill="#add8e6"/>
<ellipse cx="388.5" cy="586.5" rx="3.9" ry="3.9" fill="#add8e6"/>
<ellipse cx="645.0" cy="233.3" rx="5.0" ry="3.3" fill="#e0ffff"/>
<ellipse cx="631.7" cy="243.3" rx="3.3" ry="4.2" fill="#e0ffff"/>
<ellipse cx="646.7" cy="255.0" rx="5.0" ry="4.2" fill="#e0ffff"/>
<ellipse cx="272.0" cy="559.7" rx="3.0" ry="4.7" fill="#e0ffff"/>
<ellipse cx="237.8" cy="567.2" rx="3.3" ry="2.5" fill="#e0ffff"/>
<ellipse cx="292.0" cy="573.0" rx="4.2" ry="3.3" fill="#e0ffff"/>
<ellipse cx="454.3" cy="563.8" rx="5.0" ry="5.0" fill="#e0ffff"/>
<ellipse cx="431.8" cy="544.7" rx="4.2" ry="6.7" fill="#e0ffff"/>
<ellipse cx="583.5" cy="612.8" rx="6.2" ry="6.2" fill="#e0ffff"/>
<ellipse cx="566.0" cy="584.0" rx="6.2" ry="5.0" fill="#e0ffff"/>
</g>
<g filter="url(#b3)">
<path d="M116.7,556.0C118.3,514.7 122.2,555.2 125.0,556.0C127.8,556.8 130.0,559.9 133.3,561.0C136.7,562.1 141.2,562.1 145.0,562.7C148.8,563.2 153.3,563.2 155.8,564.3C158.3,565.4 160.7,567.4 160.0,569.3C159.3,571.3 153.6,573.5 151.7,576.0C149.7,578.5 147.5,581.4 148.3,584.3C149.2,587.2 153.9,590.3 156.7,593.5C159.4,596.7 162.2,600.4 165.0,603.5C167.8,606.6 170.6,609.3 173.3,611.8C176.1,614.3 178.9,616.4 181.7,618.5C184.4,620.6 187.5,622.2 190.0,624.3C192.5,626.4 194.7,628.4 196.7,631.0C198.6,633.6 199.7,638.6 201.7,640.0C203.7,641.4 205.8,638.5 208.7,639.7C211.5,640.9 215.6,644.8 218.7,647.2C221.7,649.5 224.2,651.6 227.0,653.8C229.8,656.1 232.8,659.1 235.3,660.5C237.8,661.9 239.5,661.6 242.0,662.2C244.5,662.7 247.8,663.8 250.3,663.8C252.8,663.8 254.8,662.0 257.0,662.2C259.2,662.3 261.7,663.1 263.7,664.7C265.6,666.2 267.3,669.1 268.7,671.3C270.1,673.6 270.3,676.1 272.0,678.0C273.7,679.9 276.4,680.7 278.7,683.0C280.9,685.3 288.4,687.7 285.3,692.0C282.2,696.3 262.6,702.8 260.0,709.0C257.4,715.2 266.7,721.5 270.0,729.0C273.3,736.5 275.8,745.7 280.0,754.0C284.2,762.3 290.0,770.7 295.0,779.0C300.0,787.3 340.0,799.8 310.0,804.0C280.0,808.2 147.2,845.3 115.0,804.0C82.8,762.7 115.0,597.3 116.7,556.0Z" fill="#f0ffff"/>
<path d="M116.7,559.3C118.3,518.4 122.2,557.9 125.0,558.5C127.8,559.1 130.0,561.6 133.3,562.7C136.7,563.8 141.7,564.5 145.0,565.2C148.3,565.9 151.2,565.9 153.3,566.8C155.4,567.8 158.1,569.3 157.5,571.0C156.9,572.7 151.8,574.6 150.0,576.8C148.2,579.1 145.8,581.3 146.7,584.3C147.5,587.4 152.2,591.7 155.0,595.2C157.8,598.6 160.6,602.1 163.3,605.2C166.1,608.2 168.9,611.0 171.7,613.5C174.4,616.0 177.2,618.1 180.0,620.2C182.8,622.2 185.8,623.9 188.3,626.0C190.8,628.1 193.1,630.3 195.0,632.7C196.9,635.0 198.0,638.3 200.0,640.0C202.0,641.7 204.2,641.4 207.0,643.0C209.8,644.6 213.9,647.4 217.0,649.7C220.1,651.9 222.6,654.1 225.3,656.3C228.1,658.6 230.9,661.3 233.7,663.0C236.4,664.7 239.2,665.6 242.0,666.3C244.8,667.0 247.8,667.2 250.3,667.2C252.8,667.2 255.3,665.6 257.0,666.3C258.7,667.0 260.1,668.8 260.3,671.3C260.6,673.8 259.2,677.9 258.7,681.3C258.1,684.8 260.5,686.6 257.0,692.0C253.5,697.4 242.0,707.8 237.5,714.0C233.0,720.2 231.7,724.0 230.0,729.0C228.3,734.0 226.7,739.0 227.5,744.0C228.3,749.0 232.1,753.2 235.0,759.0C237.9,764.8 241.7,771.5 245.0,779.0C248.3,786.5 276.7,799.8 255.0,804.0C233.3,808.2 138.1,844.8 115.0,804.0C91.9,763.2 115.0,600.2 116.7,559.3Z" fill="#ffffff"/>
<path d="M381.0,674.0C383.9,669.8 391.8,669.8 396.0,671.5C400.2,673.2 405.2,678.6 406.0,684.0C406.8,689.4 403.9,699.8 401.0,704.0C398.1,708.2 392.2,710.2 388.5,709.0C384.8,707.8 379.8,702.3 378.5,696.5C377.2,690.7 378.1,678.2 381.0,674.0Z" fill="#f0ffff"/>
<path d="M381.0,734.0C386.4,729.0 397.7,724.8 406.0,724.0C414.3,723.2 421.8,727.3 431.0,729.0C440.2,730.7 452.7,730.7 461.0,734.0C469.3,737.3 478.5,742.3 481.0,749.0C483.5,755.7 479.3,766.9 476.0,774.0C472.7,781.1 468.5,788.2 461.0,791.5C453.5,794.8 441.0,794.4 431.0,794.0C421.0,793.6 409.3,792.3 401.0,789.0C392.7,785.7 385.6,779.8 381.0,774.0C376.4,768.2 373.5,760.7 373.5,754.0C373.5,747.3 375.6,739.0 381.0,734.0Z" fill="#f0ffff"/>
<path d="M403.5,744.0C406.4,739.8 415.6,738.2 421.0,739.0C426.4,739.8 433.9,744.0 436.0,749.0C438.1,754.0 436.8,764.4 433.5,769.0C430.2,773.6 421.0,777.3 416.0,776.5C411.0,775.7 405.6,769.4 403.5,764.0C401.4,758.6 400.6,748.2 403.5,744.0Z" fill="#ffffff"/>
<path d="M608.0,774.0C610.9,768.8 620.1,772.1 625.5,772.8C630.9,773.4 635.5,775.5 640.5,777.8C645.5,780.0 650.9,783.2 655.5,786.5C660.1,789.8 665.9,794.8 668.0,797.8C670.1,800.7 678.0,803.0 668.0,804.0C658.0,805.0 618.0,809.0 608.0,804.0C598.0,799.0 605.1,779.2 608.0,774.0Z" fill="#ffffff"/>
</g>
</g>
<g clip-path="url(#mc)" fill="none" stroke-linejoin="round" stroke-linecap="round">
<g stroke="#62727a" stroke-opacity="0.7" stroke-width="0.4">
<path d="M677.5,248.1L672.1,248.2L668.9,247.1L663.3,246.4L658.8,245.6L655.3,243.6L651.1,244.1L646.5,242.3M677.5,237.3L673.8,233.7L671.3,231.1L667.2,228.2L663.9,225.5L661.4,223.0L659.2,220.1L655.5,217.1L652.0,214.0L649.2,212.3M649.2,212.3L648.3,215.5L649.0,221.0L647.4,225.1L648.6,228.6L648.0,233.6L646.9,238.8L646.5,242.3M494.6,407.2L492.9,402.7L492.2,399.2L490.0,394.3L489.0,389.0M494.6,407.2L491.1,411.0L486.6,413.8L482.9,417.5M471.0,401.5L473.2,397.7L476.4,396.0L480.5,392.5M480.5,392.5L484.2,390.0L489.0,389.0M469.0,369.1L470.0,373.8L473.6,377.3L474.2,380.2L476.2,384.6L477.8,388.5L480.5,392.5M459.3,374.1L463.6,372.6L469.0,369.1M488.5,367.1L485.9,365.3L480.7,364.4L477.7,361.5M476.2,351.5L476.5,356.2L477.7,361.5M476.2,351.5L478.2,347.8L482.2,344.7L485.3,341.3M506.7,336.9L501.7,337.8L497.0,338.1L493.0,339.3L488.6,339.4L485.3,341.3M506.7,336.9L508.0,337.7M488.5,367.1L492.1,364.6L496.8,363.3L501.2,361.7L505.2,360.3L508.7,357.5M508.0,337.7L507.9,342.3L509.4,346.8L509.0,352.9L508.7,357.5M677.5,267.4L672.0,268.9L669.3,269.1L664.4,270.2L658.6,270.3L654.9,271.0M646.3,242.6L644.4,248.4M644.4,248.4L645.9,254.4L647.3,259.0M654.9,271.0L653.0,267.7L650.0,263.8L647.3,259.0M662.8,294.3L659.5,292.2L654.9,288.2L651.1,286.4L648.3,284.2M654.9,271.0L651.8,276.1L650.6,280.1L648.3,284.2M644.4,248.4L639.5,251.5L634.1,253.9M634.1,253.9L630.6,259.6M630.6,259.6L630.1,262.6L630.4,268.2L629.3,271.8L628.9,275.8M647.3,259.0L644.6,260.8L641.7,264.0L637.2,266.9L635.5,269.5L632.5,274.0L628.9,275.8M634.1,253.9L629.8,252.8L625.6,252.7L622.0,251.7L617.5,249.7L612.2,249.2L608.7,249.0M630.6,259.6L626.2,259.9L620.9,260.0L614.9,261.3L611.0,262.5M611.0,262.5L610.3,258.8L609.3,253.8L607.8,250.2M608.7,249.0L607.8,250.2M469.0,369.1L473.4,365.2L477.7,361.5M435.7,353.8L439.0,349.9L442.5,347.6M476.2,351.5L472.8,348.0L468.7,346.7L463.3,342.9M442.5,347.6L445.6,346.6L451.5,346.8L454.9,344.3L458.5,344.8L463.3,342.9M400.5,326.3L402.7,323.1L405.3,319.7L409.9,315.5L411.8,313.0M423.6,328.7L424.8,323.1M424.8,323.1L422.4,320.6L419.5,318.4L415.0,316.3L412.4,312.8M420.9,288.3L421.9,292.2L421.8,298.1L423.9,303.0M409.9,292.0L415.3,289.7L420.9,288.3M409.9,292.0L409.6,295.7L410.5,300.9L410.4,304.8L412.8,307.5L412.6,312.5M423.9,303.0L421.1,306.6L417.2,308.8L412.6,312.5M567.9,299.8L570.1,302.2M567.9,299.8L564.5,302.2L562.8,305.3L558.4,307.5L555.1,309.3L551.7,313.7L549.0,316.5L546.4,318.2M570.1,302.2L567.7,305.8L566.4,309.7L564.2,315.4L563.5,319.2L561.1,323.5L559.9,326.8L557.6,329.7L555.2,334.8M546.4,318.2L547.7,322.3L547.9,326.6M547.9,326.6L552.1,331.0L555.2,334.8M522.3,316.7L525.4,312.2L530.4,309.0L533.1,306.4M543.1,313.8L539.7,311.0L536.0,309.4L533.1,306.4M522.3,316.7L523.5,321.2L522.9,326.3L522.7,331.8M543.1,313.8L546.4,318.2M547.9,326.6L543.8,327.2L538.8,327.6L534.7,330.1L531.1,329.5L527.8,332.1L522.7,331.8M630.2,330.7L627.1,326.7L624.3,324.4M645.6,316.1L643.4,311.3L642.2,307.5L640.5,304.0L639.7,301.5L638.6,296.6L636.4,293.0L635.1,289.1M624.3,324.4L622.8,320.2L620.8,316.3L621.6,312.1L619.4,309.3L618.9,304.6L616.9,301.4M616.9,301.4L616.4,296.1L616.8,291.7L617.1,287.1M635.1,289.1L630.8,288.4L624.5,286.2M617.1,287.1L624.5,286.2M648.3,284.2L644.7,284.8L638.5,287.9L635.1,289.1M628.9,275.8L627.6,280.9L624.5,286.2M611.6,284.5L617.1,287.1M611.6,284.5L611.6,279.0L611.1,276.6L611.9,272.1L612.1,266.3L611.0,262.5M603.9,321.3L601.8,324.6L601.4,329.8L601.0,333.9L598.7,337.4M603.9,321.3L600.6,317.1M600.6,317.1L596.6,315.9L591.8,313.7L587.6,311.8M598.7,337.4L594.8,335.0L592.3,332.4L590.4,328.1L586.3,325.0L584.6,323.0L581.4,319.7M581.4,319.7L583.4,313.7M583.4,313.7L587.5,311.9M601.1,347.4L599.0,341.5L598.7,337.4M624.3,324.4L620.2,324.0L615.9,322.6L612.3,321.5L607.5,321.9L603.9,321.3M616.9,301.4L614.6,304.8L611.2,307.6L606.5,310.3L604.8,314.4L600.6,317.1M611.6,284.5L605.0,285.4M605.0,285.4L602.1,288.1L600.0,293.3L597.4,296.2L595.4,301.4L592.0,303.2L589.8,307.9L587.6,311.8M556.6,336.7L555.2,334.8M563.9,339.3L556.6,336.7M563.9,339.3L567.2,335.4L570.4,333.3L572.6,328.8L576.6,325.8L579.2,322.3L581.4,319.7M570.1,302.2L572.8,305.7L576.3,309.0L580.0,310.2L583.4,313.7M567.6,298.6L570.5,295.1L574.9,292.9L577.2,288.3L581.5,285.2M581.5,285.2L581.8,290.7L582.7,293.1L583.5,298.3L586.3,303.8L587.0,308.5L587.5,311.9M567.9,299.8L567.6,298.6M581.5,285.2L585.2,281.4L587.1,278.4M605.0,285.4L599.8,284.6L596.6,280.9L591.9,279.9L587.1,278.4M396.8,305.5L397.7,301.1L398.3,296.3L399.7,293.0L401.3,289.3M396.7,305.5L394.2,302.3L390.8,300.1L386.3,298.4M386.3,298.4L387.5,294.8L389.9,289.7L390.7,285.6M401.3,289.3L396.9,284.1M390.7,285.6L396.9,284.1M409.9,292.0L404.6,290.6L401.3,289.3M411.8,313.0L407.8,312.0L403.6,308.9L401.4,306.3L396.8,305.5M386.5,315.8L389.7,313.1L393.9,307.9L396.7,305.5M381.0,301.4L386.3,298.4M381.0,283.6L384.8,283.6L390.7,285.6M394.7,259.1L397.8,262.2L399.5,267.2L401.1,269.9M401.1,269.9L399.3,274.1L399.3,279.6L396.9,284.1M408.7,250.7L413.8,253.6M413.8,253.6L417.2,253.0L421.2,250.9L425.5,250.2M426.4,243.3L425.5,250.2M552.9,273.7L557.6,274.3M552.9,273.7L549.4,278.5L549.0,282.4L546.6,285.2L543.2,290.4M557.6,274.3L558.3,278.4L561.2,283.7L561.2,286.3L562.5,291.1L564.0,295.3M543.2,290.4L548.3,292.6L551.4,296.1M551.4,296.1L556.3,296.3L560.5,296.1L564.0,295.3M524.2,291.5L528.7,295.0M528.7,295.0L533.8,293.1L538.0,291.7L543.2,290.4M546.6,269.5L544.0,271.7L539.5,276.3L536.4,278.0L532.8,282.2L530.2,286.3L528.3,289.5L524.2,291.5M546.6,269.5L552.9,273.7M576.2,263.3L578.4,266.2L580.8,270.9L584.8,274.5L587.1,278.4M567.6,298.6L564.0,295.3M576.2,263.3L571.9,265.3L569.0,268.1L565.6,270.7L561.7,271.2L557.6,274.3M543.1,313.8L545.9,308.9L547.4,304.6L549.9,299.8L551.4,296.1M528.7,295.0L529.6,298.2L530.9,303.4L533.1,306.4M508.0,337.7L513.7,336.1L519.2,335.3M522.3,316.7L517.7,316.2L513.6,312.9L509.2,312.0M506.7,336.9L505.9,332.4L504.8,326.4L502.3,322.5M522.7,331.8L519.2,335.3M502.3,322.5L504.5,319.7L507.7,316.4L509.2,312.0M644.9,242.3L640.4,239.8L637.1,237.5L635.6,236.3L632.0,233.8L628.4,231.9L623.7,230.6L621.7,227.1L617.5,226.2L613.2,223.6L610.4,221.8M644.9,242.3L639.9,241.3L636.0,241.9L632.7,240.8L627.1,240.7L624.4,240.1L619.5,239.9L616.4,240.3L611.6,239.9M611.6,239.9L610.3,234.5L610.8,231.0L611.0,225.5L610.4,221.8M646.3,242.6L644.9,242.3M608.7,249.0L609.4,244.9L611.6,239.9M610.4,221.8L609.3,217.1L608.5,213.2M649.2,212.3L648.7,207.0M608.5,213.2L609.9,209.7L611.7,204.3L613.8,199.7M443.6,326.2L447.1,324.5L452.1,324.3L454.9,321.0L459.6,319.5L462.9,318.6M443.6,326.2L443.7,327.8M443.7,327.8L446.5,330.1L451.4,331.5L455.2,333.1L459.3,333.0L463.3,335.2M462.9,318.6L464.9,322.2M464.9,322.2L463.3,326.7L464.1,331.8L463.3,335.2M463.3,342.9L463.3,335.2M442.5,347.6L441.9,342.9L442.8,337.7L442.6,332.2L443.7,327.8M424.8,323.1L430.1,322.0L435.2,319.0M423.9,303.0L426.1,303.4M426.1,303.4L427.5,307.3L431.3,312.2L432.3,314.3L435.2,319.0M443.6,326.2L440.6,323.6L435.7,318.9M519.2,335.3L521.9,337.5L525.7,341.5L528.5,345.2L530.4,348.2M556.6,336.7L553.8,339.0L550.2,342.2L545.8,346.6L542.4,348.9M542.4,348.9L539.1,348.0L533.8,348.2L530.4,348.2M508.7,357.5L512.5,360.2L515.4,362.8L519.9,366.3M530.4,348.2L528.8,352.7L525.2,355.6L524.7,358.0L522.8,361.8L519.9,366.3M521.4,377.9L523.4,383.2L525.0,388.3M521.4,377.9L517.1,378.0L512.1,379.1L507.5,379.8L503.0,379.9L497.5,380.8L494.0,381.1M525.0,388.3L520.6,388.9L516.9,391.3L511.9,391.1L507.6,392.1L503.3,394.2M503.3,394.2L499.1,390.7L495.7,387.5L493.3,384.4M494.0,381.1L493.3,384.4M519.9,366.3L522.4,371.0M522.4,371.0L521.4,377.9M488.5,367.1L490.4,370.8L492.5,375.5L494.0,381.1M489.0,389.0L493.3,384.4M532.9,399.2L530.8,396.2L527.6,391.0L525.0,388.3M503.3,394.2L503.3,400.7M503.3,400.7L507.0,401.9L511.8,402.8L515.4,406.1L518.9,407.1L522.1,407.9M542.9,373.9L546.2,376.3L550.9,376.6M542.9,373.9L540.9,370.9L538.9,365.9M540.9,364.0L538.9,365.9M540.9,364.0L545.9,364.1L549.6,366.5L552.1,366.0L557.1,367.1M522.4,371.0L527.1,369.0L531.5,368.0L535.5,366.4L538.9,365.9M540.1,390.1L540.8,387.0L540.8,381.5L542.2,377.6L542.9,373.9M542.4,348.9L540.9,353.2L540.7,359.9L540.9,364.0M563.9,339.3L566.6,343.6L567.7,346.8L569.8,349.7L573.3,352.8L575.2,356.6M429.4,241.6L433.7,245.1L436.6,249.2L439.9,251.8M439.9,251.8L441.5,249.4L445.2,244.6L448.1,240.9L451.0,238.2L452.5,234.5M496.0,228.4L494.5,234.5L493.6,239.5M521.2,225.6L522.5,229.2L524.5,233.2L526.0,237.9L527.0,243.8L528.3,247.4L529.4,251.3M529.4,251.3L524.9,250.8L520.2,251.7L517.4,252.9L513.1,254.5L508.2,253.7L505.2,253.8L500.8,255.5M493.6,239.5L493.7,243.4L496.0,248.0M500.8,255.5L497.5,251.4L496.0,248.0M485.3,341.3L483.5,337.1L482.9,332.6M502.3,322.5L498.0,319.7L493.3,318.3M493.3,318.3L491.0,321.8L487.3,326.4L485.0,328.2L482.9,332.6M464.9,322.2L468.0,323.4L473.8,324.7L477.0,325.0M482.9,332.6L479.7,328.2L477.0,325.0M462.9,318.6L462.9,316.7M435.7,318.9L437.2,315.2L440.7,310.9M462.9,316.7L458.6,315.2L454.4,314.3L450.6,313.8L444.6,313.0L440.7,310.9M426.1,303.4L429.2,302.1L434.1,300.1L437.5,299.9L442.6,297.9M440.7,310.9L440.3,306.7L443.0,301.4L442.6,297.9M500.8,255.5L498.9,260.9L498.3,266.1L497.0,270.9M533.3,253.7L532.2,256.7L529.3,260.7L526.9,265.6L526.7,268.9L523.2,272.9L523.0,275.8L521.2,279.4L518.3,282.3L517.1,286.9M529.4,251.3L533.3,253.7M497.0,270.9L499.8,272.6L503.4,276.8L507.5,279.7L510.9,281.1L513.9,284.1L517.1,286.9M509.2,312.0L509.7,307.7L508.4,303.6L508.7,298.9M524.2,291.5L517.8,288.7M508.7,298.9L512.8,294.9L515.6,291.0L517.8,288.7M534.0,253.8L536.0,256.4L539.6,261.0L542.1,262.8L544.9,266.0L546.6,269.5M517.1,286.9L517.8,288.7M497.0,406.8L498.7,405.4M497.0,406.8L500.1,410.8L504.6,413.5L508.4,417.3L511.7,419.4M498.7,405.4L503.1,407.6L508.0,409.1L511.8,410.3L516.4,411.3M494.6,407.2L497.0,406.8M503.3,400.7L498.7,405.4M439.9,251.8L440.4,255.5L440.6,260.1M425.5,250.2L426.0,254.9L426.9,259.9L428.9,263.5M440.6,260.1L435.9,260.2L432.0,263.3L428.9,263.5M420.9,288.3L423.6,284.1L426.9,281.4M401.1,269.9L404.4,269.1L410.3,270.6L414.7,271.0L417.7,270.9L423.0,270.9M426.9,281.4L424.7,276.9L423.0,270.9M413.8,253.6L416.8,258.7L417.5,262.8L421.8,267.2L423.2,270.4M428.9,263.5L425.2,266.3L423.2,270.4M440.6,260.1L443.5,261.1M462.4,242.8L462.5,247.3M457.2,233.7L458.9,237.2L462.4,242.8M462.5,247.3L459.5,250.8L455.2,253.5L451.4,255.1L446.5,257.4L443.5,261.1M493.6,239.5L489.7,239.3L484.3,240.3L479.2,240.4L475.3,241.8L471.0,241.4L467.9,242.3L462.4,242.8M496.0,248.0L492.9,249.9L487.1,251.0L484.1,253.4L480.0,254.8L476.4,255.3L473.2,256.6L468.5,259.1M462.5,247.3L465.2,250.5L465.4,254.5L468.5,259.1M608.5,213.2L605.4,216.3L599.9,217.3L597.3,220.0L592.9,221.3L589.8,223.4M607.8,250.2L603.0,251.2L598.3,251.6L593.8,250.3L590.2,251.1L584.4,251.6L580.7,251.6M589.8,223.4L587.6,228.0L587.7,232.1L586.2,235.1L584.4,239.3L584.2,242.6L582.9,246.5L580.7,251.6M534.0,253.8L537.4,250.5L543.0,248.3L545.9,246.4L550.2,242.8M576.2,263.3L576.3,258.3L577.6,253.5M550.2,242.8L554.5,244.6L559.3,245.6L562.6,246.1L566.5,248.4L571.5,248.9M571.5,248.9L577.6,253.5M577.6,253.5L580.7,251.6M462.9,316.7L464.5,313.1L465.2,308.4M443.5,296.4L446.6,298.2L451.7,300.5L454.1,302.2L459.6,303.7L462.6,306.2M442.6,297.9L443.5,296.4M465.2,308.4L462.6,306.2M443.5,261.1L446.5,265.9M468.6,260.0L463.5,260.7L460.2,263.1L454.6,262.8L450.4,264.4L446.5,265.9M582.8,221.7L578.3,221.8L573.4,222.6L569.2,224.1M582.8,221.7L581.8,218.6L577.8,215.5L575.8,210.6L574.6,207.3M569.2,224.1L565.9,222.0L561.0,218.5L556.1,215.9M589.8,223.4L582.8,221.7M571.5,248.9L570.5,245.0L569.9,239.9L570.1,235.4L569.8,233.0L570.0,228.2L569.2,224.1M550.2,242.8L550.5,238.6L549.5,234.9L550.2,231.1L551.3,226.3L550.7,222.9L550.6,218.2M472.1,304.3L473.9,299.3L476.5,296.3L478.5,291.5L479.9,286.6M472.1,304.3L476.8,307.1L480.2,308.9L483.4,311.7L487.8,313.7M479.9,286.6L482.2,289.1L486.9,292.4L489.7,294.1L492.5,297.2L495.8,300.0M495.8,300.0L493.8,304.4L491.6,310.1L488.9,313.8M487.8,313.7L488.9,313.8M459.9,288.4L459.9,293.2L461.9,297.0L461.9,302.8L462.6,306.2M459.9,288.4L462.7,286.7L466.8,285.5L472.4,283.1L474.4,281.5L479.1,279.5M479.1,279.5L479.9,286.6M465.2,308.4L472.1,304.3M477.0,325.0L480.7,321.7L484.2,317.8L487.8,313.7M497.0,270.9L493.3,273.1L487.9,276.2L483.0,277.8L479.1,279.5M508.7,298.9L504.2,299.9L499.3,300.7L495.8,300.0M493.3,318.3L488.9,313.8M471.4,271.6L467.2,272.9L463.2,276.0L458.7,278.3L455.8,281.2L451.7,282.6L447.6,285.9L444.3,287.7M471.4,271.5L467.8,271.6L461.6,272.3L457.4,271.0L452.3,272.3L448.5,271.7M448.5,271.7L447.7,276.0L445.4,279.7L443.3,284.6L442.3,287.5M442.6,287.9L444.3,287.7M479.1,279.5L474.9,275.9L471.4,271.6M468.6,260.0L470.7,266.4L471.4,271.5M459.9,288.4L454.6,287.7L449.6,287.1L444.3,287.7M446.5,265.9L448.5,271.7M426.9,281.4L431.5,282.6L435.4,284.0L438.2,285.4L442.3,287.5M443.5,296.4L442.9,291.5L442.6,287.9M722.3,208.3L722.3,244.2L744.0,244.2M722.3,244.2L724.0,257.5L699.0,257.5L698.2,281.7L712.3,282.5L712.3,295.0L705.7,305.8L694.0,306.2M724.0,257.5L724.8,275.0L744.0,275.0M712.3,290.0L740.7,289.2M655.8,306.7L668.3,306.7L669.2,311.7L677.5,312.0L678.3,306.7L694.0,306.7M630.0,330.8L643.3,330.0L650.0,323.3L666.7,322.5L671.7,328.3L676.7,335.0L690.0,333.3L694.0,338.3M630.0,331.7L630.0,355.8L666.7,356.7L666.7,364.0M583.3,364.0L581.7,372.3L587.5,379.0L580.0,384.0L576.7,397.3L570.0,415.7L560.0,420.7L562.5,427.3L561.7,437.3L555.0,442.3L556.7,450.7L561.7,457.3L560.0,464.0M530.0,463.7L551.7,463.7L553.3,465.7L565.0,466.0L566.7,467.7L586.7,468.2L583.3,479.0L601.7,483.7L605.8,473.2L626.7,477.3L673.3,477.3M666.7,492.3L618.3,492.3L613.3,499.0L603.3,503.2L598.3,512.3L585.0,525.7M530.0,509.0L540.8,509.3L540.8,515.7L548.3,516.5L548.3,528.0M366.0,541.3L371.0,541.7L371.3,576.3L386.8,576.7L387.3,578.8L391.0,578.8L391.0,576.3L407.7,576.3L408.5,556.3L406.8,546.3L401.0,544.7L399.3,536.3L396.0,533.0L395.7,528.0M391.0,578.8L390.2,618.0M548.3,528.0L548.3,531.0L565.0,531.0L565.0,528.0M596.7,548.0L600.8,548.3L600.8,553.8L623.3,554.7L623.7,583.0L636.7,583.0M406.0,445.7L427.7,446.5L427.7,454.8L432.7,455.3L432.7,442.3M406.0,445.7L404.3,457.3L399.3,460.7L401.0,482.3L426.0,484.8L426.8,470.7L427.7,454.8M426.0,484.8L441.0,481.5L461.8,480.7L462.7,470.7L472.7,471.5L472.7,493.2L496.0,494.0L499.3,502.3L507.7,502.3M401.0,482.3L400.2,504.0L387.7,504.8L386.0,509.0L369.3,509.8L367.7,528.0M401.0,487.3L411.0,488.2L413.5,497.3L411.0,519.0L401.0,518.2L399.3,528.0M507.7,463.2L530.0,463.5M507.7,502.3L521.0,503.2L521.8,509.0L530.0,510.7M302.0,482.3L312.0,484.0L310.3,488.2L318.7,494.0L328.7,502.3L335.3,500.7L340.3,507.3L338.7,514.0L345.3,519.0L366.0,522.3M345.3,414.0L352.0,407.3L358.7,410.7L360.3,419.0L355.3,427.3L357.0,432.3L347.0,433.2"/>
</g>
<g stroke="#9a9a9a" stroke-opacity="0.8" stroke-width="0.45">
<path d="M301.7,675.9L299.9,678.9L301.3,684.6L298.9,689.4L297.7,692.8L296.4,696.1L297.5,701.8L295.7,704.5M320.5,685.2L321.4,689.0L320.2,693.0L318.5,697.7L320.4,703.0L319.7,707.4L318.1,709.1L318.3,713.6L317.3,718.2L318.3,722.6L317.6,726.8M317.6,726.8L312.9,729.3L311.0,729.5L305.3,731.1M305.3,731.1L302.6,725.8L303.7,722.0L301.8,719.9L299.2,716.8L296.9,710.9L296.9,706.8L295.7,704.5M326.4,688.2L329.7,691.0L329.7,694.0L333.5,698.9L335.7,703.2L338.5,707.8L340.3,709.0L341.8,712.5L344.1,717.2M317.6,726.8L320.2,727.4L326.7,727.3L329.4,728.6L334.3,729.8M344.1,717.2L342.3,720.4L339.6,724.3L336.4,727.6L334.3,729.8M336.4,769.7L336.0,766.4M336.4,769.7L341.8,771.5L345.9,776.8L348.5,779.2M336.0,766.4L337.6,762.4L342.0,760.0L344.0,755.1L347.2,751.0M348.5,779.2L353.9,779.8L358.2,778.4L361.4,777.2L365.1,777.8M347.2,751.0L352.6,752.1L356.9,751.7L360.1,752.3L367.2,752.6L370.3,751.1M370.3,751.1L369.5,756.5L368.0,761.3L368.8,764.0L365.5,768.7L366.1,774.2L365.1,777.8M356.1,797.0L354.1,791.0L353.3,786.7L351.4,782.6L348.5,779.2M326.7,797.0L327.5,794.0L328.3,788.1L330.9,786.0L333.3,782.0L335.1,777.5L336.5,772.3L336.4,769.7M371.7,797.0L369.5,793.3L368.4,790.1L368.2,785.6L367.5,781.9L365.1,777.8M334.3,729.8L335.9,733.0L339.7,738.2L339.8,741.6L344.4,744.1L345.3,746.6L347.2,751.0M382.3,746.7L378.4,748.2L374.6,748.1L370.3,751.1M354.0,712.0L350.6,714.6L344.1,717.2M191.8,613.7L189.3,618.8L187.7,621.9L185.4,626.0M191.8,613.7L196.1,615.0L199.4,618.8L204.4,623.1L205.9,624.4L210.4,627.1M210.4,627.1L205.0,626.7L203.1,628.1L197.8,626.0L192.7,626.8L190.9,625.0L185.4,626.0M189.5,610.1L191.8,613.7M189.5,610.1L185.9,609.1L179.5,610.3L176.5,611.1L171.4,612.2M171.4,612.2L171.2,617.0L170.6,621.9L170.8,625.6L171.4,629.1L172.4,634.5M172.4,634.5L177.1,635.2M177.1,635.2L180.0,632.0L182.2,628.8L185.4,626.0M271.5,708.3L268.1,709.4L263.5,713.1L261.4,715.0L257.5,717.1M257.5,717.1L255.6,714.2L252.6,709.6L249.2,708.2L246.7,703.3L241.8,701.9L239.4,697.2M271.5,708.3L272.1,705.8L275.7,699.0L275.1,696.7L276.7,690.6L280.0,687.6L281.4,682.5L281.6,680.2L281.9,674.6L285.5,672.7L286.4,667.3M239.4,697.2L243.7,693.1L245.0,692.3L247.8,689.1L249.6,684.2L252.2,681.2L256.4,679.8L259.3,675.8L260.9,673.0L265.8,672.6L268.8,666.9L268.9,666.7L273.0,663.2L275.9,659.4M177.1,635.2L181.0,637.4L186.1,639.6L190.5,642.0M190.5,642.0L195.2,640.6L199.8,643.3L202.5,642.2L208.6,642.1L211.2,641.5L216.5,641.1L220.8,642.8M210.4,627.1L215.5,630.5L218.8,633.1L222.4,634.1L225.8,636.8M225.8,636.8L220.8,642.8M194.3,597.9L193.0,602.0L192.6,607.0L189.5,610.1M225.8,636.8L228.8,635.7L234.1,632.9L237.1,629.7M295.7,704.5L292.5,705.4L288.6,708.2L283.7,709.0L278.9,709.4M271.5,708.3L278.9,709.4M211.7,676.9L213.7,672.3L214.7,667.0L214.6,664.0L214.7,659.4L217.8,656.0L217.7,652.7L220.2,646.5L220.8,642.8M211.7,676.9L209.6,677.4M190.5,642.0L189.1,645.9L186.7,648.9L186.3,653.4L183.3,657.4L182.3,658.7L179.1,664.6L176.8,667.4M209.6,677.4L204.7,675.8L200.0,673.9L196.9,672.4L192.4,673.7L189.3,671.2L186.5,670.1L182.5,669.1L176.8,667.4M213.0,739.8L217.7,740.1L220.8,743.8L224.3,744.5M213.0,739.8L210.3,737.4L209.5,732.1L208.4,728.3L208.6,723.1L208.5,720.5L205.9,716.9M224.3,744.5L224.8,740.8L224.7,735.8L226.0,732.6L225.3,729.1L225.7,722.8L226.0,718.8L226.1,717.1L227.2,713.5L228.8,706.7L230.0,705.6L227.4,701.4L229.2,696.1M205.9,716.9L208.7,713.7L213.4,709.8L215.0,708.9L218.6,704.3L222.5,702.3L224.3,697.0L227.0,695.1M229.2,696.1L227.0,695.1M239.4,697.2L234.7,696.5L229.2,696.1M211.7,676.9L213.8,679.1L217.9,683.0L220.7,688.4L223.8,690.7L227.0,695.1M319.9,763.7L324.2,764.1L328.9,765.1L333.6,767.1L336.0,766.4M319.9,763.7L317.7,765.9L312.7,771.0L311.9,773.2L307.5,775.1L305.6,779.1L302.3,782.3L299.8,783.9L295.2,789.5L294.4,792.2L288.6,792.6L287.0,797.0M310.1,753.6L307.1,756.7L305.9,759.0L303.4,762.2L299.7,767.5L298.9,770.7L296.1,773.5L293.3,776.5L292.7,781.4L288.3,782.4L288.4,787.4L286.0,789.4L282.6,792.9L280.6,797.0M319.9,763.7L317.7,759.9L313.9,758.5L310.1,753.6M171.4,612.2L167.5,609.1L165.6,607.1L161.2,602.2L158.1,599.4M148.2,578.6L148.9,584.0L150.8,585.6L154.4,591.1L156.7,594.6L158.1,599.4M169.8,636.3L166.9,632.8L161.4,632.5L157.2,629.3L155.6,628.4L151.1,625.6M169.8,636.3L167.0,638.7L165.7,643.3M165.7,643.3L160.8,642.6L156.5,639.2L153.2,639.3L149.5,639.0L145.2,636.0L139.5,634.8M151.1,625.6L147.0,627.4L140.9,630.3M139.5,634.8L140.9,630.3M158.1,599.4L156.4,603.5L157.2,609.4L153.8,612.1L153.0,616.5L152.0,620.9L151.1,625.6M172.4,634.5L169.8,636.3M164.2,648.3L165.7,643.3M164.2,648.3L165.6,652.4L170.0,656.1L172.5,660.0L172.9,664.5L176.3,667.5M164.2,648.3L161.1,649.6L154.1,652.3L151.5,654.4L148.5,656.6L142.7,658.1M142.7,658.1L139.3,654.0L134.0,653.7L129.4,650.1M129.4,650.1L130.6,645.0L135.2,643.7L135.6,639.0L139.5,634.8M133.6,617.6L134.9,622.7L138.9,625.3L140.9,630.3M133.6,617.6L133.6,614.3L135.4,610.0L135.8,604.4L138.5,601.3L137.8,596.6L139.4,592.9L140.9,587.7L141.4,584.3L142.4,580.5L142.1,575.3M123.0,650.7L129.4,650.1M123.0,621.6L129.4,620.8L133.6,617.6M138.5,726.7L138.8,720.6M138.5,726.7L136.1,730.0L130.8,733.1L127.9,735.1L123.0,738.3M138.8,720.6L138.1,714.5L137.9,710.8M137.9,710.8L133.7,710.7L127.6,706.4L123.0,705.8M176.3,667.5L172.0,670.7L168.9,675.9L164.7,677.3L162.7,681.4M142.7,658.1L143.1,662.8L146.8,665.6L146.0,670.8L149.0,675.2M162.7,681.4L158.4,680.6L152.1,676.0L149.0,675.2M123.0,688.5L126.1,687.6L131.2,688.6M149.0,675.2L144.6,678.5L142.2,679.6L137.3,682.5L133.7,686.7L131.2,688.6M227.1,747.2L224.3,744.5M227.1,747.2L223.6,750.4L222.3,753.2L217.7,757.6L216.8,758.9L212.8,764.0L209.6,764.7L205.4,770.0L204.9,771.3L201.0,774.7M213.0,739.8L208.8,740.8L203.7,743.2L200.7,741.7L196.0,743.5M201.0,774.7L195.7,772.3L193.2,770.9L190.6,767.9L185.2,764.0L182.0,762.0L178.9,760.3M178.9,760.3L183.5,757.0L186.2,755.2L188.4,750.3L191.4,747.7L196.0,743.5M185.9,715.7L189.3,717.0L197.0,717.3L199.5,715.8L205.9,716.9M185.9,715.7L187.1,722.4M196.0,743.5L194.9,738.0L192.4,734.9L192.1,731.1L190.1,726.0L187.1,722.4M269.3,747.0L268.0,743.4L266.1,739.0L263.6,736.1L260.4,733.7L256.9,731.4L255.8,727.0M269.3,747.0L273.0,748.7L276.5,750.9L282.1,753.8M282.1,753.8L285.1,751.8L287.8,749.1L290.0,745.5L294.2,744.7L298.4,741.1L300.4,737.9M257.7,719.2L260.0,720.2L266.0,721.0L269.3,723.1L271.3,726.1L277.6,724.9L280.8,726.5L283.8,728.7L287.4,729.4L291.5,731.8L294.8,731.6L299.4,733.9M257.7,719.2L255.8,727.0M300.4,737.9L301.4,735.0M299.4,733.9L301.4,735.0M249.9,760.0L255.1,759.5L260.4,760.2L264.2,759.4L269.0,758.7L271.4,758.6L277.6,760.6L281.6,759.9M281.6,759.9L282.1,753.8M249.9,760.0L252.7,757.1L258.7,755.1L260.2,751.3L264.3,748.4L269.3,747.0M279.3,797.0L279.3,791.5L281.2,788.5L280.1,785.1L281.2,781.5L280.2,775.9L280.5,770.7L280.8,768.8L282.9,765.0L281.6,759.9M310.1,753.6L308.2,750.0L303.7,745.2L302.3,742.3L300.4,737.9M278.9,709.4L280.6,712.5L284.8,717.3L288.7,720.3L289.5,724.3L294.8,727.0L296.0,730.4L299.4,733.9M257.5,717.1L257.7,719.2M305.3,731.1L301.4,735.0M248.0,761.2L248.7,765.8L253.2,769.2L254.1,774.2L254.2,778.5L257.4,780.1L257.5,784.2L260.9,789.7L261.9,794.4L264.2,797.0M248.0,761.2L244.1,758.4L239.9,757.5L236.4,754.7L234.3,751.0L230.7,748.2M230.4,748.2L230.2,751.8L231.0,758.4L230.4,761.4L227.8,766.4L228.0,770.9L227.6,774.2L229.1,777.2L227.7,782.5M227.7,782.5L231.7,783.2L233.8,785.6L240.7,790.1L243.4,790.2L247.3,793.6L250.1,795.2L254.3,797.0M249.9,760.0L248.0,761.2M255.8,727.0L253.6,728.1L248.5,732.2L245.2,734.6L243.5,736.5L240.2,739.5L237.2,742.4L234.3,744.1L230.7,748.2M206.1,786.3L205.0,781.3L204.2,778.9L201.0,774.7M206.1,786.3L210.3,785.3L215.2,785.4L219.9,784.8L223.4,784.9L227.7,782.5M227.1,747.2L230.4,748.2M206.1,786.3L205.6,792.8L203.0,797.0M185.9,715.7L183.5,713.8M209.6,677.4L206.1,680.0L203.4,684.4L200.0,686.1L196.5,690.2L192.9,690.3L191.0,695.9L187.8,697.8L184.6,699.7L180.6,703.2M183.5,713.8L182.3,707.1L180.6,703.2M177.0,760.4L173.1,755.4L171.5,750.7M177.0,760.4L174.0,763.2L169.6,767.2L168.1,768.9L165.0,772.8M165.0,772.8L159.5,772.8L154.5,772.1L150.6,773.9M166.0,743.5L170.1,748.6L171.5,750.7M166.0,743.5L162.5,745.3L157.6,745.8L152.9,746.2L150.0,747.4L144.4,747.7L140.5,747.5L139.1,746.4L132.8,748.0L129.0,747.9L125.5,749.9M125.5,749.9L129.7,753.8L131.0,755.3L134.5,757.2L135.7,762.8L139.5,764.4L144.4,768.8L145.9,769.3L148.9,773.1M148.9,773.1L150.6,773.9M178.9,760.3L177.0,760.4M187.1,722.4L184.5,727.3L184.5,728.5L182.4,732.5L179.2,735.5L178.6,741.7L174.5,744.0L172.5,748.4L171.5,750.7M172.2,797.0L169.5,791.7L170.5,788.3L169.8,786.1L168.0,779.7L166.8,778.3L165.0,772.8M143.3,797.0L144.3,791.8L144.8,788.7L147.6,784.5L147.1,780.7L149.9,778.7L150.6,773.9M162.8,730.2L165.8,728.0L170.9,725.0L172.3,721.3L178.0,719.8L179.3,717.0L183.5,713.8M162.8,730.2L162.5,736.2L164.7,739.2L166.0,743.5M155.7,725.9L159.4,726.6L162.8,730.2M123.0,748.5L125.5,749.9M138.5,726.7L143.2,725.8L146.3,727.2L150.1,725.4L155.7,725.9M123.0,787.1L127.5,784.3L129.7,783.3L133.1,782.4L139.4,777.6L141.4,777.9L144.8,776.5L148.9,773.1M164.2,687.7L160.4,688.7L156.8,692.3L152.4,694.4L150.0,696.1L145.3,699.2L141.5,700.2M164.2,687.7L167.3,692.4L169.3,697.0M169.3,697.0L167.6,698.8L163.9,701.6L160.3,704.7L156.8,708.4M142.0,702.2L141.5,700.2M142.0,702.2L146.9,705.6L152.2,707.3M152.2,707.3L156.8,708.4M162.7,681.4L164.2,687.7M131.2,688.6L135.5,693.4L137.2,696.3L141.5,700.2M180.6,703.2L175.9,701.4L173.0,697.6L169.3,697.0M155.7,725.9L156.3,722.2L156.5,718.3L155.5,711.7L156.8,708.4M137.9,710.8L138.4,706.5L142.0,702.2M138.8,720.6L141.9,717.1L144.8,714.9L147.5,711.9L152.2,707.3M141.3,560.0L141.3,558.7M141.3,558.7L138.8,556.3L135.7,552.4L132.2,550.4L129.4,546.4L128.3,542.7L125.3,541.2L122.1,537.3M301.7,582.1L296.1,584.7M296.1,584.7L292.5,583.4L287.6,580.8L283.9,579.8L280.3,577.1L277.8,576.1L273.9,573.4L269.1,572.1L265.2,569.4L261.2,567.2L257.6,566.1M256.8,543.4L256.7,548.9L258.0,552.7L257.3,556.7L256.6,561.1L257.6,566.1M296.1,584.7L295.6,589.6L293.6,593.6L293.3,597.6L291.9,601.9L290.5,605.6M290.5,605.6L294.3,607.8L298.3,609.2L303.4,611.4L306.6,613.7L311.2,614.7M159.3,535.1L154.7,537.6L149.5,539.9M159.3,535.1L155.5,532.0L153.1,529.0L150.7,526.2L147.9,522.4M149.5,539.9L146.7,537.6L143.0,534.3L140.7,531.8L136.8,528.9L134.0,525.3M166.0,532.8L169.3,529.7L172.0,526.7L173.6,522.3L176.1,518.7M166.0,532.8L159.3,535.1M141.3,558.7L142.3,555.6L145.5,551.1L146.6,547.9L148.4,543.0L149.5,539.9M284.9,678.8L285.4,673.7L285.2,668.1L284.9,663.0M263.3,678.8L264.8,675.3L266.1,671.1L266.1,665.9L268.4,662.5M268.4,662.5L272.4,662.9L276.0,663.1L281.0,661.9L284.9,663.0M311.2,671.0L307.6,667.4L303.3,664.2L300.4,661.2L296.7,657.8L293.8,655.5L290.4,652.7M311.2,638.1L307.4,639.1L302.6,640.6L298.0,640.4L294.6,641.2L291.0,642.2M291.0,642.2L289.9,648.1L290.4,652.7M290.4,652.7L287.3,656.9L284.9,663.0M232.5,539.6L230.3,542.0L227.8,545.8L225.5,550.2L223.5,552.4L221.1,556.1L217.8,558.3L215.9,562.4L214.2,566.4L211.1,568.4L209.3,570.9L206.1,575.2M246.2,587.6L247.3,584.1L250.2,579.7L252.2,577.6L253.5,573.1L255.1,569.3L257.6,566.1M246.2,587.6L243.0,587.3L238.7,588.3L233.8,587.0L230.3,587.4L225.0,587.1L221.9,587.4L216.3,587.3L211.7,587.6L208.3,587.3M208.3,587.3L207.4,582.9L207.4,579.9L206.1,575.2M183.0,603.0L185.8,600.8L190.1,599.3L194.9,595.6L197.7,593.1L202.9,591.1L205.7,589.3M168.0,579.3L172.4,580.4L176.7,581.7L181.1,581.9L185.3,583.3L189.0,584.5L192.8,586.0L197.3,586.8L202.0,588.3L205.7,589.3M166.0,532.8L166.3,536.3L168.3,541.5L170.4,544.7L169.8,549.1L171.8,552.6L173.2,556.4M173.2,556.4L171.1,560.6L168.2,565.0L165.6,567.9L163.4,572.0M205.6,538.8L202.6,540.9L197.7,544.9L193.5,547.7L191.1,549.6L186.9,552.4M205.6,538.8L204.6,543.8L205.3,546.8L203.9,552.0L203.4,556.0L202.2,560.8L202.9,564.2L201.7,569.4M201.7,569.4L198.0,567.1M198.0,567.1L194.4,564.5L192.6,560.9L188.0,557.7L186.0,554.0M186.9,552.4L186.0,554.0M214.5,525.0L213.2,529.4L210.4,531.0L208.5,534.8L205.6,538.8M179.3,518.3L180.6,523.5L181.7,526.1L181.8,531.9L182.4,535.6L183.9,539.0L185.3,543.0L185.2,547.9L186.9,552.4M206.1,575.2L201.7,569.4M208.3,587.3L206.5,589.2M163.9,572.8L167.3,571.2L172.6,571.9L177.4,569.9L180.8,569.6L185.4,569.2L190.3,568.3L192.8,568.2L198.0,567.1M173.2,556.4L176.8,555.9L181.7,555.7L186.0,554.0M239.6,618.2L237.5,621.9L234.7,625.1L232.4,628.9L230.7,631.0L228.5,635.1M239.6,618.2L235.0,617.8L231.9,617.2L227.8,617.9L222.5,617.7L218.5,616.5L215.4,616.5L211.9,616.8L207.1,616.6M228.5,635.1L224.1,635.0L219.5,634.2L215.6,632.4L213.3,632.7L207.9,630.9L205.3,631.3L200.4,630.3M207.1,616.6L205.5,620.4L202.9,625.4L200.4,630.3M206.5,589.2L206.1,593.4L207.0,598.0L206.6,602.1L207.6,607.7L207.6,611.9L207.1,616.6M246.2,587.6L248.1,591.5L248.7,595.5L250.1,599.0L249.9,602.2L251.3,606.1L253.0,610.9M253.0,610.9L249.3,613.3L244.6,614.8L239.6,618.2M234.3,654.7L233.1,651.6L232.2,646.7L230.7,642.2L229.0,638.4L228.5,635.1M242.9,656.8L245.0,653.2L248.4,649.3L249.5,646.2L251.7,642.8L254.2,639.8L256.2,637.2L259.3,633.9L262.3,629.9L264.2,627.1L266.7,622.8M242.9,656.8L246.8,657.9L251.9,658.6L257.4,658.2L261.0,658.7L266.3,660.3M266.3,660.3L266.8,655.6L268.2,653.5L269.2,648.2L270.5,644.3L272.0,641.2L271.9,636.4L274.0,633.9L274.7,629.1M266.7,622.8L269.8,623.5M269.8,623.5L274.7,629.1M253.0,610.9L256.7,613.7L260.8,615.8L262.4,620.3L266.7,622.8M240.4,658.7L242.9,656.8M268.4,662.5L266.3,660.3M291.0,642.2L287.5,638.7L284.6,637.9L281.2,634.0L277.1,630.9L274.7,629.1M290.5,605.6L287.8,608.6L284.5,610.7L279.6,613.6L276.5,616.6L272.8,620.3L269.8,623.5"/>
</g>
<g stroke="#222" stroke-width="0.7">
<path d="M381.0,283.3L381.0,313.3L385.2,313.8L386.0,315.8L396.0,315.0L396.8,323.3L401.0,326.7L412.7,328.3L419.3,322.5L432.7,341.7L436.0,355.0L441.0,359.2L446.0,356.7L451.0,364.0L451.8,364.0L461.0,376.5L462.7,385.7L466.0,394.0L472.7,404.0L474.3,409.8L482.7,417.3L492.7,426.5L507.7,441.5L507.7,528.0L506.8,528.0L506.8,549.7L508.5,550.5L508.5,568.0L506.0,568.8L505.7,583.0L501.0,583.5L500.7,590.5L506.0,591.0L506.0,593.8L503.5,594.3L503.5,598.0L499.3,598.3L499.3,605.0L505.7,605.5"/>
<path d="M492.7,427.3L501.0,418.2L507.7,417.3L507.7,424.0L511.8,424.0L511.8,420.7L511.0,412.3L519.3,410.7L522.7,407.3L521.0,403.2L526.0,399.0L530.0,399.8L530.0,400.7L533.3,399.0L536.7,392.3L544.2,387.3L546.7,377.3L555.8,375.7L556.7,367.3L563.3,364.0L568.3,364.0L574.2,362.5L575.0,356.7L585.0,352.5L586.7,350.0L599.2,348.3L601.7,347.2L615.0,346.7L630.0,330.8L643.3,318.3L655.0,306.7L663.3,293.3L671.7,278.3L677.5,268.3L677.5,214.2"/>
<path d="M156.7,521.0L160.0,531.0L163.3,537.7L170.0,542.7L186.7,542.3L187.5,551.0L186.7,562.7L188.3,571.0L190.0,577.7L195.0,582.7L201.7,584.3L206.7,589.3L215.0,592.7L223.3,597.7L230.0,601.0L236.7,606.0L243.3,608.5L245.0,599.3L246.7,589.3L248.3,581.0L250.8,577.7L255.8,576.0L260.0,581.0L270.0,586.0L278.3,591.0L284.0,596.0L287.0,598.8L295.3,600.0L311.2,600.5L311.2,617.2"/>
<path d="M205.0,600.2L206.7,604.3L210.8,606.0L211.7,609.3L220.0,607.7L225.0,606.0L226.7,614.3L225.8,621.0L223.3,623.5L230.0,626.0L236.7,629.3L240.0,634.3L240.3,640.0L241.2,636.3L242.0,644.7L239.5,651.3L236.2,653.8"/>
<path d="M205.0,600.2L200.0,607.7L195.0,609.3L190.0,614.3L188.3,619.3L183.3,622.7L175.0,626.0L167.5,626.8L166.7,634.3L160.0,640.0L152.5,636.5L145.0,640.2L140.0,649.0L130.0,651.5L122.5,656.5"/>
</g>
<g stroke="#000" stroke-width="1.05" stroke-dasharray="1.05 1.55" stroke-linecap="butt">
<path d="M311.2,617.2L366.0,618.0L366.0,618.0L506.0,620.0"/>
<path d="M505.7,605.5L506.0,620.0L505.7,692.0L505.0,704.0L502.2,754.0L498.5,794.0"/>
<path d="M505.7,605.5L509.3,602.2L514.3,599.7L518.5,599.3L521.8,602.2L524.3,605.5L530.0,608.0L530.0,608.8L536.7,609.7L535.8,608.0L540.0,603.8L546.7,598.0L551.7,593.8L552.5,586.3L556.7,578.0L563.3,573.0L565.8,566.3L569.2,558.0L572.5,549.7L576.7,546.3L585.0,546.0L593.3,546.7" stroke-width="0.8" stroke-dasharray="0.8 1.2"/>
<path d="M311.2,617.2L311.2,678.8L262.8,678.8L263.7,683.0L268.7,684.7L275.3,686.3L280.3,692.0L275.0,689.0L282.5,696.5L292.5,706.5L300.0,716.5L310.0,721.5L320.0,729.0L332.5,739.0L342.5,751.5L345.0,761.5L352.5,769.0L363.8,772.8"/>
</g>
<g stroke="#000" stroke-width="1.25">
<path d="M118.3,541.0C119.2,540.3 123.4,537.3 125.0,536.0C126.6,534.7 128.9,532.4 130.0,531.0C131.1,529.6 132.7,526.2 133.3,525.2C134.0,524.2 134.3,523.6 135.0,523.5C135.7,523.4 137.0,524.3 138.3,524.3C139.7,524.3 143.0,523.8 145.0,523.5C147.0,523.2 151.1,522.3 153.3,521.8C155.6,521.3 159.4,520.2 161.7,519.7C163.9,519.2 167.6,518.4 170.0,518.0C172.4,517.6 177.3,517.1 180.0,516.8C182.7,516.6 187.3,516.2 190.0,516.0C192.7,515.8 197.3,515.4 200.0,515.2C202.7,514.9 208.7,514.4 210.0,514.3"/>
<path d="M213.3,531.8C214.3,532.7 219.0,537.2 220.8,538.5C222.7,539.8 225.3,540.6 227.0,541.3C228.7,542.0 231.7,543.2 233.7,543.8C235.7,544.5 239.8,545.7 242.0,546.0C244.2,546.3 248.6,546.4 250.3,546.3C252.1,546.3 254.2,546.1 255.3,545.5C256.4,544.9 257.3,542.9 258.7,542.2C260.0,541.4 263.3,540.4 265.3,539.7C267.3,538.9 271.9,537.2 273.7,536.3C275.4,535.4 277.8,534.1 278.7,533.0C279.6,531.9 280.1,529.0 280.3,528.0C280.6,527.0 279.9,526.4 280.3,525.7C280.8,524.9 282.9,523.2 283.7,522.3C284.4,521.4 285.6,520.1 286.2,519.0C286.7,517.9 287.9,515.1 287.8,514.0C287.7,512.9 286.3,511.4 285.3,510.7C284.3,510.0 281.7,508.9 280.3,508.7C279.0,508.4 276.6,509.4 275.3,509.0C274.1,508.6 272.1,506.6 271.2,505.7C270.3,504.8 269.3,502.6 268.7,502.3C268.0,502.1 267.4,503.1 266.2,504.0C264.9,504.9 260.6,508.4 259.5,509.0C258.4,509.6 257.8,508.6 257.8,508.2C257.8,507.7 258.7,506.7 259.5,505.7C260.3,504.7 262.4,501.9 263.7,500.7C264.9,499.4 267.3,497.5 268.7,496.5C270.0,495.5 271.9,494.1 273.7,493.2C275.4,492.3 279.8,490.8 282.0,489.8C284.2,488.8 288.1,486.9 290.3,485.7C292.6,484.4 296.4,482.1 298.7,480.7C300.9,479.2 304.8,476.3 307.0,474.8C309.2,473.4 313.1,471.3 315.3,469.8C317.6,468.4 321.4,465.6 323.7,464.0C325.9,462.4 330.0,459.7 332.0,458.2C334.0,456.6 337.2,453.8 338.7,452.3C340.1,450.9 342.2,448.9 342.8,447.3C343.5,445.8 343.3,442.4 343.7,440.7C344.0,438.9 345.1,436.0 345.3,434.0C345.6,432.0 345.1,427.7 345.3,425.7C345.6,423.7 346.9,420.7 347.0,419.0C347.1,417.3 345.9,414.7 346.2,413.2C346.4,411.6 348.2,408.8 348.7,407.3C349.1,405.9 348.8,403.6 349.5,402.3C350.2,401.1 352.2,399.3 353.7,398.2C355.1,397.1 358.7,395.0 360.3,394.0C362.0,393.0 365.1,391.6 366.0,390.7C366.9,389.8 366.6,388.4 366.8,387.3C367.1,386.2 367.7,383.6 367.7,382.3C367.7,381.1 366.7,378.9 366.8,378.2C366.9,377.4 368.1,377.1 368.5,376.5C368.9,375.9 370.0,375.0 370.2,374.0C370.3,373.0 369.8,370.3 369.7,369.0C369.5,367.7 369.2,366.5 369.0,364.0C368.8,361.5 368.1,354.1 368.0,350.0C367.9,345.9 368.3,336.9 368.5,333.3C368.7,329.8 369.1,326.0 369.3,323.3C369.6,320.7 369.7,316.4 370.2,313.3C370.6,310.2 371.9,302.7 372.7,300.0C373.4,297.3 375.2,294.9 376.0,293.3C376.8,291.8 377.8,289.7 378.5,288.3C379.2,287.0 380.3,285.1 381.0,283.3C381.7,281.6 382.9,277.2 383.5,275.0C384.1,272.8 384.6,268.2 385.2,266.7C385.7,265.1 386.2,264.4 387.7,263.3C389.1,262.2 393.8,259.7 396.0,258.3C398.2,257.0 402.1,254.7 404.3,253.3C406.6,252.0 410.4,249.3 412.7,248.3C414.9,247.4 418.8,247.2 421.0,246.3C423.2,245.4 427.3,242.7 429.3,241.7C431.3,240.6 433.8,239.4 436.0,238.7C438.2,237.9 443.3,236.5 446.0,235.8C448.7,235.2 453.3,234.3 456.0,233.8C458.7,233.4 462.4,233.0 466.0,232.5C469.6,232.0 478.2,230.6 482.7,230.0C487.1,229.4 494.9,228.5 499.3,228.0C503.8,227.5 511.9,226.6 516.0,226.2C520.1,225.7 526.4,225.4 530.0,224.7C533.6,224.0 540.0,221.9 543.3,220.8C546.7,219.8 552.8,217.6 555.0,216.7C557.2,215.8 558.9,214.9 560.0,214.2C561.1,213.4 561.6,211.7 563.3,210.8C565.1,209.9 570.2,208.3 573.3,207.5C576.4,206.7 583.6,205.4 586.7,205.0C589.8,204.6 594.4,204.9 596.7,204.7C598.9,204.4 601.8,203.8 603.3,203.3C604.9,202.8 607.0,201.4 608.3,200.8C609.7,200.3 611.8,199.3 613.3,199.0C614.9,198.7 618.4,198.3 620.0,198.3C621.6,198.3 623.7,198.7 625.0,199.0C626.3,199.3 628.2,199.9 630.0,200.5C631.8,201.1 635.7,202.4 638.3,203.3C641.0,204.3 646.7,206.4 650.0,207.5C653.3,208.6 659.8,210.4 663.3,211.3C666.9,212.2 674.0,213.5 676.7,214.2C679.3,214.9 681.0,216.2 683.3,216.7C685.6,217.2 691.9,217.7 694.0,218.0C696.1,218.3 697.4,218.9 699.0,219.2C700.6,219.4 704.3,219.7 705.7,220.0C707.0,220.3 708.1,221.6 709.0,221.3C709.9,221.1 711.0,219.1 712.3,218.3C713.7,217.6 717.9,216.9 719.0,215.8C720.1,214.7 720.4,211.4 720.7,210.0C720.9,208.6 720.6,206.1 720.7,205.0C720.8,203.9 720.6,201.9 721.5,201.7C722.4,201.4 725.9,202.7 727.3,203.3C728.8,204.0 731.1,205.6 732.3,206.7C733.6,207.8 735.4,210.4 736.5,211.7C737.6,212.9 739.7,214.7 740.7,215.8C741.7,216.9 743.3,218.8 744.0,220.0C744.7,221.2 745.2,223.6 745.7,225.0C746.1,226.4 747.0,229.1 747.3,230.8C747.7,232.6 747.7,237.1 748.2,238.3C748.6,239.6 750.2,240.3 750.7,240.0C751.1,239.7 751.3,236.7 751.5,235.8C751.7,234.9 752.0,233.9 752.3,233.3C752.7,232.8 754.0,231.0 754.0,231.7C754.0,232.3 752.6,236.6 752.3,238.3C752.1,240.1 751.9,243.4 752.0,245.0C752.1,246.6 752.6,249.0 753.2,250.0C753.8,251.0 755.7,252.1 756.5,252.5C757.3,252.9 758.9,252.3 759.0,253.0C759.1,253.7 757.7,256.1 757.3,257.5C756.9,258.9 756.6,262.3 756.0,263.3C755.4,264.3 753.8,264.1 753.2,265.0C752.6,265.9 751.9,268.7 751.5,270.0C751.1,271.3 750.3,273.7 749.8,275.0C749.4,276.3 748.7,278.7 748.2,280.0C747.6,281.3 746.4,283.8 745.7,285.0C744.9,286.2 743.2,288.1 742.3,289.2C741.4,290.3 739.9,292.1 739.0,293.3C738.1,294.6 736.6,297.3 735.7,298.3C734.8,299.3 733.4,299.7 732.3,300.8C731.2,301.9 728.7,305.2 727.3,306.7C726.0,308.1 723.7,310.4 722.3,311.7C721.0,312.9 718.7,314.7 717.3,315.8C716.0,316.9 713.7,318.8 712.3,320.0C711.0,321.2 708.7,323.4 707.3,325.0C706.0,326.6 703.6,329.9 702.3,331.7C701.1,333.4 699.3,336.4 698.2,338.3C697.1,340.2 695.1,343.7 694.0,345.8C692.9,347.9 691.3,351.6 690.0,354.0C688.7,356.4 685.1,361.8 684.2,364.0C683.2,366.2 683.2,368.7 683.0,370.7C682.8,372.7 682.5,377.1 682.5,379.0C682.5,380.9 682.8,383.7 683.3,384.8C683.9,385.9 686.1,386.4 686.7,387.3C687.2,388.2 687.6,390.3 687.5,391.5C687.4,392.7 686.5,395.4 685.8,396.5C685.2,397.6 682.9,398.9 682.5,399.8C682.1,400.7 682.7,403.1 682.5,403.2C682.3,403.3 681.6,401.0 680.8,400.7C680.1,400.3 677.9,400.2 676.7,400.7C675.4,401.1 673.0,402.9 671.7,404.0C670.3,405.1 667.8,407.7 666.7,409.0C665.6,410.3 664.9,413.2 663.3,414.0C661.8,414.8 656.2,413.7 655.0,414.8C653.8,415.9 653.9,420.8 654.2,422.3C654.4,423.9 655.8,425.7 656.7,426.5C657.6,427.3 659.9,427.3 660.8,428.2C661.7,429.1 662.6,433.1 663.3,433.2C664.1,433.3 665.3,429.8 666.7,429.0C668.0,428.2 671.6,427.8 673.3,427.3C675.1,426.9 678.3,426.4 680.0,425.7C681.7,424.9 684.6,421.5 685.8,421.5C687.1,421.5 688.9,424.2 689.2,425.7C689.4,427.1 688.3,430.7 687.5,432.3C686.7,434.0 684.6,436.9 683.3,438.2C682.1,439.4 679.7,440.7 678.3,441.5C677.0,442.3 674.6,443.2 673.3,444.0C672.1,444.8 670.2,446.3 669.2,447.3C668.2,448.3 666.6,450.2 665.8,451.5C665.1,452.8 663.9,455.7 663.3,457.3C662.8,459.0 661.7,462.6 661.7,464.0C661.7,465.4 662.8,467.5 663.3,468.2C663.9,468.8 664.9,469.2 665.8,468.7C666.7,468.1 668.8,465.4 670.0,464.0C671.2,462.6 673.7,459.4 675.0,458.2C676.3,456.9 678.8,455.3 680.0,454.8C681.2,454.4 684.1,454.5 684.2,454.8C684.3,455.2 681.7,456.3 680.8,457.3C679.9,458.3 678.2,461.0 677.5,462.3C676.8,463.7 676.2,466.0 675.8,467.3C675.5,468.7 675.4,470.6 675.0,472.3C674.6,474.1 673.2,478.4 672.5,480.7C671.8,482.9 670.7,486.8 670.0,489.0C669.3,491.2 668.3,495.1 667.5,497.3C666.7,499.6 664.9,503.4 664.2,505.7C663.4,507.9 662.4,511.8 661.7,514.0C660.9,516.2 659.0,520.5 658.3,522.3C657.7,524.2 657.1,526.1 656.7,528.0C656.2,529.9 655.4,534.1 655.0,536.3C654.6,538.6 653.8,542.4 653.3,544.7C652.9,546.9 652.3,550.8 651.7,553.0C651.0,555.2 649.1,559.1 648.3,561.3C647.6,563.6 646.3,567.4 645.8,569.7C645.4,571.9 645.2,576.0 645.0,578.0C644.8,580.0 644.7,583.4 644.7,584.7C644.7,585.9 645.4,586.4 645.0,587.2C644.6,587.9 642.6,589.5 641.7,590.5C640.8,591.5 639.0,593.4 638.3,594.7C637.7,595.9 637.3,598.3 636.7,599.7C636.0,601.0 634.2,603.3 633.3,604.7C632.4,606.0 630.9,608.6 630.0,609.7C629.1,610.8 627.9,612.1 626.7,613.0C625.4,613.9 621.6,615.9 620.8,616.3"/>
<path d="M644.2,584.7C644.1,584.0 643.9,580.6 643.3,579.7C642.8,578.8 640.7,578.7 640.0,578.0C639.3,577.3 638.8,576.2 638.3,574.7C637.9,573.1 637.1,568.4 636.7,566.3C636.2,564.2 635.4,560.6 635.0,558.8C634.6,557.1 634.4,554.2 633.3,553.0C632.2,551.8 628.3,550.3 626.7,549.7C625.0,549.0 621.9,548.6 620.8,548.0C619.7,547.4 618.3,546.4 618.3,545.5C618.3,544.6 620.1,542.8 620.8,541.3C621.6,539.9 623.4,536.4 624.2,534.7C624.9,532.9 626.3,529.4 626.7,528.0C627.0,526.6 626.8,525.4 626.7,524.0C626.6,522.6 626.3,518.7 625.8,517.3C625.4,516.0 623.8,515.1 623.3,514.0C622.9,512.9 622.8,510.1 622.5,509.0C622.2,507.9 621.4,506.2 620.8,506.0C620.3,505.8 619.1,506.5 618.3,507.3C617.6,508.2 616.1,511.0 615.0,512.3C613.9,513.7 611.2,516.0 610.0,517.3C608.8,518.7 606.5,520.9 605.8,522.3C605.2,523.8 605.2,526.6 605.0,528.0C604.8,529.4 604.8,531.7 604.2,533.0C603.5,534.3 601.0,536.7 600.0,538.0C599.0,539.3 597.4,541.8 596.7,543.0C595.9,544.2 595.1,545.8 594.2,547.2C593.3,548.5 591.1,551.6 590.0,553.0C588.9,554.4 586.3,557.0 585.8,558.0C585.4,559.0 585.9,560.2 586.7,560.5C587.4,560.8 591.1,560.2 591.7,560.5C592.2,560.8 590.2,562.8 590.8,563.0C591.5,563.2 595.0,562.2 596.7,562.2C598.3,562.2 601.8,563.1 603.3,563.0C604.9,562.9 607.0,561.8 608.3,561.3C609.7,560.9 612.2,560.0 613.3,559.7C614.4,559.3 616.1,557.9 616.7,558.8C617.2,559.7 617.5,564.0 617.5,566.3C617.5,568.7 617.0,573.7 616.7,576.3C616.3,579.0 615.7,583.7 615.0,586.3C614.3,589.0 612.6,594.1 611.7,596.3C610.8,598.6 609.1,601.2 608.3,603.0C607.6,604.8 606.3,607.9 605.8,609.7C605.3,611.4 605.0,614.3 604.7,616.3C604.4,618.3 604.1,622.4 603.7,624.7C603.3,626.9 602.6,630.8 601.7,633.0C600.7,635.2 597.4,639.6 596.7,641.3C595.9,643.1 595.4,645.0 595.8,646.3C596.3,647.7 599.0,650.2 600.0,651.3C601.0,652.4 602.4,654.0 603.3,654.7C604.2,655.3 606.7,655.8 606.7,656.3C606.7,656.9 604.2,658.2 603.3,658.8C602.4,659.5 600.7,659.9 600.0,661.3C599.3,662.8 598.9,667.4 598.3,669.7C597.8,671.9 596.4,675.8 595.8,678.0C595.3,680.2 594.4,684.5 594.2,686.3C593.9,688.2 593.7,690.3 593.8,692.0C594.0,693.7 594.9,696.7 595.5,699.0C596.1,701.3 598.3,706.3 598.5,709.0C598.7,711.7 597.1,716.0 597.2,719.0C597.4,722.0 600.1,728.8 599.8,731.5C599.4,734.2 595.9,736.3 594.8,739.0C593.6,741.7 592.2,748.5 591.0,751.5C589.8,754.5 587.3,758.8 586.0,761.5C584.7,764.2 582.3,769.2 581.0,771.5C579.7,773.8 577.3,777.0 576.0,779.0C574.7,781.0 572.7,784.8 571.0,786.5C569.3,788.2 565.5,790.3 563.5,791.5C561.5,792.7 557.7,794.4 556.0,795.2C554.3,796.1 551.7,797.4 551.0,797.8"/>
<path d="M693.2,207.5C693.7,207.2 695.9,204.9 697.3,205.0C698.8,205.1 702.2,208.1 704.0,208.3C705.8,208.6 708.7,207.3 710.7,206.7C712.7,206.0 717.7,203.7 719.0,203.3C720.3,203.0 720.9,203.6 720.7,204.2C720.4,204.7 718.7,206.6 717.3,207.5C716.0,208.4 712.4,210.2 710.7,210.8C708.9,211.5 705.6,212.6 704.0,212.5C702.4,212.4 700.4,210.4 699.0,210.0C697.6,209.6 693.9,209.3 693.2,209.2"/>
<path d="M729.8,338.3C730.0,336.6 730.7,333.7 731.5,331.7C732.3,329.7 734.6,325.1 735.7,323.3C736.8,321.6 738.7,319.2 739.8,318.3C740.9,317.4 743.0,316.6 744.0,316.7C745.0,316.7 746.2,318.7 747.3,318.7C748.4,318.7 750.6,317.5 752.3,316.7C754.1,315.8 759.7,312.3 760.7,312.5C761.7,312.7 760.5,316.7 759.8,318.3C759.2,320.0 756.9,323.2 755.7,325.0C754.4,326.8 752.0,329.9 750.7,331.7C749.3,333.4 747.2,336.6 745.7,338.3C744.1,340.1 740.7,343.6 739.0,345.0C737.3,346.4 734.3,349.2 733.2,349.2C732.0,349.2 730.8,346.4 730.3,345.0C729.9,343.6 729.7,340.1 729.8,338.3Z"/>
<path d="M222.5,521.8C223.2,521.1 226.4,520.3 228.3,519.7C230.2,519.0 235.1,517.1 236.7,516.8C238.2,516.6 240.0,516.9 240.0,517.7C240.0,518.4 238.2,521.7 236.7,522.7C235.1,523.6 230.1,524.3 228.3,524.7C226.6,525.0 224.1,525.5 223.3,525.2C222.6,524.8 221.8,522.6 222.5,521.8Z" fill="#8d99a6" stroke="none"/>
<path d="M222.5,521.8C223.2,521.1 226.4,520.3 228.3,519.7C230.2,519.0 234.4,517.9 236.7,516.8C238.9,515.8 242.8,512.9 245.0,511.8C247.2,510.7 251.7,509.1 253.3,508.5C255.0,507.9 256.7,507.4 257.5,507.7C258.3,507.9 259.7,509.4 259.2,510.2C258.6,510.9 254.8,512.8 253.3,513.5C251.9,514.2 249.7,514.4 248.3,515.2C247.0,515.9 244.9,518.3 243.3,519.3C241.8,520.3 238.7,522.0 236.7,522.7C234.7,523.4 230.1,524.3 228.3,524.7C226.6,525.0 224.1,525.5 223.3,525.2C222.6,524.8 221.8,522.6 222.5,521.8Z"/>
<path d="M769.2,791.5C769.2,790.5 771.2,786.8 773.0,785.2C774.8,783.8 779.7,781.6 783.0,780.2C786.3,778.9 794.0,776.1 798.0,775.2C802.0,774.4 809.5,773.9 813.0,773.5C816.5,773.1 823.1,771.7 824.2,772.0C825.4,772.3 823.9,775.2 821.8,776.0C819.6,776.8 811.8,777.0 808.0,777.8C804.2,778.5 796.7,780.2 793.0,781.5C789.3,782.8 783.2,786.2 780.5,787.8C777.8,789.2 774.5,792.2 773.0,792.8C771.5,793.2 769.2,792.5 769.2,791.5Z"/>
<path d="M844.2,775.2C843.9,774.4 845.8,770.2 846.8,769.0C847.8,767.8 850.6,766.2 851.8,766.0C852.9,765.8 855.2,766.9 855.5,767.8C855.8,768.6 855.1,771.8 854.2,772.8C853.4,773.8 850.6,774.9 849.2,775.2C847.9,775.6 844.6,776.1 844.2,775.2Z"/>
<path d="M633.3,693.0C632.8,691.9 632.5,687.1 632.5,684.7C632.5,682.2 632.8,677.1 633.3,674.7C633.9,672.2 635.6,668.6 636.7,666.3C637.8,664.1 640.3,659.8 641.7,658.0C643.0,656.2 645.3,653.9 646.7,653.0C648.0,652.1 651.2,650.7 651.7,651.3C652.1,652.0 650.7,656.0 650.0,658.0C649.3,660.0 647.0,664.3 646.7,666.3C646.3,668.3 647.5,671.2 647.5,673.0C647.5,674.8 647.2,678.1 646.7,679.7C646.1,681.2 644.2,683.3 643.3,684.7C642.4,686.0 640.9,688.6 640.0,689.7C639.1,690.8 637.6,692.6 636.7,693.0C635.8,693.4 633.9,694.1 633.3,693.0Z"/>
</g>
<g stroke="#000" stroke-width="1.1" stroke-dasharray="1.5 1">
<path d="M636.7,688.0C636.5,686.3 635.7,681.1 635.8,678.0C636.0,674.9 636.5,672.4 637.5,669.7C638.5,666.9 640.1,663.6 641.7,661.3C643.2,659.1 645.8,657.2 646.7,656.3"/>
<path d="M640.0,686.3C640.1,684.9 640.3,680.8 640.8,678.0C641.4,675.2 642.6,672.4 643.3,669.7C644.0,666.9 644.0,663.8 645.0,661.3C646.0,658.8 648.5,655.8 649.2,654.7"/>
<path d="M638.3,683.0 L645.0,674.7"/>
<path d="M635.0,674.7 L643.3,666.3"/>
</g>
<g stroke="#000" stroke-width="0.6" stroke-dasharray="2 0.8">
<path d="M444.8,91.0C446.0,90.8 449.8,89.1 452.2,89.8C454.8,90.4 457.8,92.5 459.8,94.8C461.7,97.0 463.6,100.6 464.0,103.5C464.4,106.4 463.2,110.5 462.2,112.2C461.3,114.0 460.0,114.4 458.5,114.0C457.0,113.6 455.2,111.5 453.5,109.8C451.8,108.0 449.8,105.6 448.5,103.5C447.2,101.4 446.0,98.3 445.5,97.2"/>
<path d="M688.3,527.2C687.9,528.7 686.4,533.4 685.8,536.3C685.3,539.2 684.9,541.9 685.0,544.7C685.1,547.4 685.8,550.8 686.7,553.0C687.5,555.2 688.6,557.0 690.0,558.0C691.4,559.0 694.2,558.7 695.0,558.8"/>
<path d="M689.2,554.0C689.9,554.6 691.8,557.8 693.0,557.8C694.2,557.8 696.1,554.6 696.8,554.0"/>
</g>
<g fill="#000" stroke="none">
<ellipse cx="752.7" cy="212.5" rx="0.7" ry="3.7"/>
<ellipse cx="751.8" cy="224.7" rx="1.5" ry="3.7"/>
<ellipse cx="760.2" cy="242.0" rx="1.2" ry="3.3"/>
<ellipse cx="381.8" cy="280.0" rx="0.8" ry="6.7"/>
<ellipse cx="630.8" cy="590.0" rx="2.3" ry="1.7"/>
<ellipse cx="624.2" cy="597.2" rx="0.8" ry="1.5"/>
<ellipse cx="611.7" cy="636.0" rx="3.7" ry="1.0"/>
<ellipse cx="617.5" cy="646.3" rx="1.0" ry="4.7"/>
<ellipse cx="615.0" cy="656.3" rx="4.7" ry="1.3"/>
<ellipse cx="619.2" cy="672.2" rx="1.3" ry="2.7"/>
<ellipse cx="606.7" cy="671.3" rx="1.7" ry="1.2"/>
<ellipse cx="608.3" cy="675.5" rx="1.2" ry="1.2"/>
<ellipse cx="617.5" cy="682.2" rx="1.0" ry="3.0"/>
<ellipse cx="616.7" cy="688.8" rx="0.8" ry="2.3"/>
<ellipse cx="623.0" cy="629.7" rx="0.7" ry="5.0"/>
<ellipse cx="680.0" cy="662.2" rx="1.5" ry="1.7"/>
<ellipse cx="636.7" cy="596.3" rx="2.0" ry="2.0"/>
<ellipse cx="628.3" cy="612.2" rx="5.0" ry="1.2"/>
<ellipse cx="208.3" cy="529.3" rx="1.7" ry="1.3"/>
<ellipse cx="215.8" cy="531.8" rx="1.3" ry="1.2"/>
<ellipse cx="220.0" cy="537.7" rx="0.8" ry="0.8"/>
<ellipse cx="263.3" cy="510.2" rx="2.0" ry="1.0"/>
<ellipse cx="259.2" cy="515.2" rx="1.0" ry="0.7"/>
<ellipse cx="560.0" cy="213.7" rx="2.3" ry="1.2"/>
<ellipse cx="278.8" cy="137.2" rx="1.5" ry="0.8"/>
<ellipse cx="181.2" cy="262.2" rx="1.0" ry="1.0"/>
<ellipse cx="190.0" cy="270.5" rx="2.0" ry="0.8"/>
<ellipse cx="214.5" cy="348.8" rx="0.8" ry="1.0"/>
</g>
</g>
<g clip-path="url(#mc)" fill="#778899" fill-opacity="0.55">
<ellipse cx="459.8" cy="267.2" rx="6.0" ry="6.9"/>
<ellipse cx="459.8" cy="267.2" rx="8.0" ry="9.2"/>
<circle cx="460.2" cy="274.5" r="1.6"/>
<circle cx="454.2" cy="262.4" r="1.1"/>
<circle cx="468.4" cy="268.1" r="1.4"/>
<circle cx="460.7" cy="278.7" r="1.8"/>
<circle cx="462.8" cy="261.5" r="2.0"/>
<circle cx="463.9" cy="273.9" r="2.4"/>
<circle cx="451.9" cy="265.9" r="2.1"/>
<circle cx="467.2" cy="270.9" r="2.0"/>
<circle cx="459.0" cy="269.7" r="2.4"/>
<circle cx="452.1" cy="268.8" r="2.4"/>
<circle cx="457.7" cy="256.7" r="1.6"/>
<circle cx="461.5" cy="261.2" r="2.5"/>
<circle cx="461.8" cy="265.0" r="1.2"/>
<circle cx="461.8" cy="278.2" r="1.7"/>
<circle cx="456.7" cy="263.6" r="1.8"/>
<circle cx="456.1" cy="270.9" r="1.9"/>
<circle cx="451.8" cy="261.9" r="2.1"/>
<circle cx="467.7" cy="262.9" r="2.6"/>
<circle cx="458.2" cy="263.9" r="2.4"/>
<circle cx="468.8" cy="264.9" r="1.9"/>
<circle cx="458.9" cy="263.1" r="2.4"/>
<circle cx="455.9" cy="265.1" r="1.1"/>
<circle cx="465.8" cy="258.2" r="1.1"/>
<circle cx="461.4" cy="261.5" r="1.2"/>
<circle cx="457.5" cy="276.3" r="2.4"/>
<circle cx="466.4" cy="269.4" r="1.0"/>
<circle cx="458.8" cy="262.0" r="2.4"/>
<circle cx="465.7" cy="266.4" r="2.6"/>
<circle cx="458.8" cy="270.0" r="2.0"/>
<circle cx="463.3" cy="268.1" r="1.6"/>
<circle cx="457.3" cy="264.9" r="1.0"/>
<circle cx="462.8" cy="263.4" r="2.6"/>
<circle cx="463.7" cy="263.8" r="1.7"/>
<circle cx="452.7" cy="266.2" r="2.0"/>
<circle cx="453.3" cy="264.3" r="2.5"/>
<circle cx="454.3" cy="267.0" r="2.2"/>
<circle cx="460.1" cy="272.3" r="2.6"/>
<circle cx="453.4" cy="266.3" r="1.0"/>
<circle cx="454.0" cy="271.1" r="1.0"/>
<circle cx="454.5" cy="261.9" r="1.1"/>
<circle cx="455.8" cy="262.5" r="2.1"/>
<circle cx="455.2" cy="274.3" r="2.2"/>
<circle cx="462.2" cy="267.6" r="2.1"/>
<circle cx="463.7" cy="266.2" r="1.7"/>
<circle cx="455.9" cy="264.4" r="1.6"/>
<circle cx="457.8" cy="272.5" r="2.0"/>
<circle cx="458.2" cy="272.7" r="2.3"/>
<circle cx="466.2" cy="268.5" r="2.2"/>
<circle cx="458.4" cy="271.3" r="2.3"/>
<circle cx="460.0" cy="271.3" r="1.7"/>
<circle cx="458.8" cy="264.2" r="1.5"/>
<circle cx="455.4" cy="275.9" r="1.7"/>
<circle cx="461.8" cy="264.2" r="1.5"/>
<circle cx="454.4" cy="258.8" r="1.7"/>
<circle cx="460.2" cy="270.6" r="1.8"/>
<circle cx="462.8" cy="276.3" r="2.4"/>
<circle cx="461.5" cy="271.7" r="2.3"/>
<circle cx="454.4" cy="259.7" r="1.5"/>
<circle cx="462.7" cy="270.9" r="2.3"/>
<circle cx="459.1" cy="272.7" r="1.7"/>
<ellipse cx="496.0" cy="256.0" rx="2.1" ry="1.8"/>
<circle cx="494.4" cy="256.8" r="1.7"/>
<circle cx="496.4" cy="256.5" r="1.7"/>
<circle cx="498.5" cy="254.0" r="1.1"/>
<circle cx="499.1" cy="255.1" r="0.9"/>
<circle cx="495.9" cy="253.4" r="1.4"/>
<circle cx="494.5" cy="255.8" r="1.0"/>
<ellipse cx="433.5" cy="263.5" rx="1.5" ry="1.5"/>
<circle cx="433.6" cy="264.1" r="1.3"/>
<circle cx="433.0" cy="265.6" r="0.7"/>
<circle cx="435.1" cy="262.4" r="1.7"/>
<circle cx="435.3" cy="262.1" r="1.3"/>
<ellipse cx="476.0" cy="273.5" rx="1.8" ry="1.5"/>
<circle cx="478.4" cy="273.7" r="0.8"/>
<circle cx="475.3" cy="275.2" r="1.2"/>
<circle cx="473.6" cy="274.7" r="1.3"/>
<circle cx="475.3" cy="274.3" r="1.6"/>
<circle cx="473.5" cy="273.8" r="1.0"/>
<ellipse cx="448.5" cy="276.0" rx="1.2" ry="1.2"/>
<circle cx="448.9" cy="277.2" r="1.6"/>
<circle cx="449.3" cy="277.5" r="1.7"/>
<circle cx="449.1" cy="274.4" r="0.6"/>
<ellipse cx="744.2" cy="253.5" rx="3.3" ry="4.5"/>
<circle cx="740.9" cy="248.7" r="1.0"/>
<circle cx="743.9" cy="256.6" r="1.8"/>
<circle cx="741.4" cy="255.5" r="2.3"/>
<circle cx="745.6" cy="253.5" r="1.2"/>
<circle cx="745.2" cy="254.8" r="2.6"/>
<circle cx="745.2" cy="251.9" r="1.8"/>
<circle cx="743.3" cy="256.6" r="1.6"/>
<circle cx="742.0" cy="249.5" r="1.6"/>
<circle cx="745.2" cy="256.7" r="1.2"/>
<circle cx="740.3" cy="251.5" r="1.6"/>
<circle cx="745.9" cy="254.7" r="1.6"/>
<circle cx="740.6" cy="249.7" r="1.6"/>
<circle cx="745.5" cy="248.5" r="1.7"/>
<circle cx="742.0" cy="256.7" r="2.1"/>
<circle cx="740.6" cy="256.2" r="1.7"/>
<circle cx="744.4" cy="258.2" r="2.1"/>
<ellipse cx="739.2" cy="257.2" rx="1.8" ry="1.5"/>
<circle cx="740.7" cy="257.8" r="1.1"/>
<circle cx="741.3" cy="255.6" r="1.1"/>
<circle cx="741.3" cy="256.0" r="0.9"/>
<circle cx="738.4" cy="257.4" r="1.6"/>
<ellipse cx="724.8" cy="306.2" rx="2.7" ry="2.1"/>
<circle cx="722.6" cy="303.5" r="1.5"/>
<circle cx="723.0" cy="303.9" r="1.3"/>
<circle cx="727.2" cy="307.7" r="0.6"/>
<circle cx="727.0" cy="308.5" r="0.7"/>
<circle cx="725.8" cy="306.8" r="1.6"/>
<circle cx="725.2" cy="306.9" r="1.6"/>
<circle cx="727.6" cy="308.4" r="1.4"/>
<circle cx="727.0" cy="303.4" r="1.3"/>
<ellipse cx="367.2" cy="399.5" rx="1.5" ry="3.3"/>
<circle cx="367.4" cy="398.3" r="1.5"/>
<circle cx="365.3" cy="399.2" r="0.8"/>
<circle cx="367.2" cy="394.3" r="0.7"/>
<circle cx="366.5" cy="402.7" r="1.6"/>
<circle cx="367.3" cy="401.4" r="0.9"/>
<circle cx="365.8" cy="396.6" r="1.1"/>
<circle cx="366.4" cy="401.6" r="1.0"/>
<circle cx="366.7" cy="400.2" r="1.2"/>
<ellipse cx="596.0" cy="543.2" rx="2.1" ry="1.5"/>
<circle cx="597.8" cy="543.0" r="1.5"/>
<circle cx="597.4" cy="544.8" r="1.5"/>
<circle cx="595.0" cy="541.9" r="1.2"/>
<circle cx="594.0" cy="541.5" r="0.8"/>
<circle cx="598.3" cy="544.4" r="1.7"/>
<circle cx="594.1" cy="543.1" r="1.4"/>
<ellipse cx="612.5" cy="252.0" rx="1.4" ry="1.4"/>
<circle cx="612.9" cy="252.9" r="0.9"/>
<circle cx="611.6" cy="251.5" r="0.9"/>
<circle cx="611.7" cy="249.9" r="1.0"/>
<circle cx="612.2" cy="250.8" r="1.6"/>
<circle cx="611.7" cy="251.5" r="0.9"/>
<circle cx="613.8" cy="252.2" r="1.1"/>
<ellipse cx="607.2" cy="302.0" rx="1.4" ry="1.2"/>
<circle cx="607.7" cy="302.9" r="1.0"/>
<circle cx="607.3" cy="301.4" r="1.8"/>
<circle cx="605.6" cy="302.2" r="1.2"/>
<circle cx="608.2" cy="300.5" r="1.3"/>
<circle cx="605.4" cy="302.2" r="1.6"/>
<circle cx="605.7" cy="302.9" r="1.7"/>
<ellipse cx="596.7" cy="266.7" rx="0.8" ry="1.0"/>
<circle cx="596.2" cy="266.8" r="0.9"/>
<circle cx="596.5" cy="265.5" r="1.7"/>
<circle cx="597.0" cy="266.1" r="0.9"/>
<ellipse cx="550.8" cy="278.0" rx="0.8" ry="0.8"/>
<circle cx="550.8" cy="278.5" r="1.4"/>
<circle cx="551.6" cy="277.0" r="0.9"/>
<circle cx="551.2" cy="277.5" r="1.1"/>
<ellipse cx="565.8" cy="271.3" rx="0.7" ry="0.7"/>
<circle cx="565.8" cy="271.0" r="0.7"/>
<circle cx="566.1" cy="270.9" r="1.0"/>
<ellipse cx="635.0" cy="306.2" rx="0.8" ry="0.8"/>
<circle cx="634.1" cy="305.7" r="0.6"/>
<circle cx="634.6" cy="306.8" r="1.2"/>
<circle cx="635.2" cy="307.0" r="1.7"/>
<ellipse cx="680.8" cy="257.5" rx="0.9" ry="0.9"/>
<circle cx="680.1" cy="258.1" r="0.8"/>
<circle cx="680.7" cy="258.6" r="0.8"/>
<circle cx="681.9" cy="256.6" r="0.7"/>
<ellipse cx="496.0" cy="255.8" rx="1.4" ry="1.4"/>
<circle cx="497.1" cy="255.4" r="1.5"/>
<circle cx="496.0" cy="254.8" r="1.4"/>
<circle cx="494.9" cy="254.2" r="0.9"/>
<circle cx="496.1" cy="253.6" r="1.4"/>
<circle cx="495.3" cy="255.7" r="1.2"/>
<circle cx="494.9" cy="257.3" r="1.4"/>
<ellipse cx="433.5" cy="263.7" rx="1.4" ry="1.2"/>
<circle cx="432.8" cy="263.4" r="1.4"/>
<circle cx="433.0" cy="263.2" r="1.6"/>
<circle cx="433.1" cy="263.2" r="1.7"/>
<circle cx="434.2" cy="264.4" r="1.4"/>
<circle cx="432.3" cy="262.9" r="1.4"/>
<ellipse cx="522.7" cy="274.2" rx="1.2" ry="1.0"/>
<circle cx="521.8" cy="274.4" r="0.8"/>
<circle cx="524.1" cy="274.7" r="1.5"/>
<circle cx="521.1" cy="273.8" r="1.0"/>
<circle cx="522.6" cy="275.0" r="1.6"/>
<ellipse cx="450.2" cy="322.5" rx="1.0" ry="1.0"/>
<circle cx="451.1" cy="322.8" r="0.9"/>
<circle cx="450.3" cy="321.7" r="1.0"/>
<circle cx="449.3" cy="323.1" r="1.5"/>
<ellipse cx="411.8" cy="323.3" rx="0.9" ry="1.0"/>
<circle cx="411.0" cy="324.5" r="0.8"/>
<circle cx="411.8" cy="323.8" r="0.8"/>
<circle cx="412.0" cy="322.1" r="0.8"/>
<ellipse cx="435.2" cy="404.8" rx="0.9" ry="0.9"/>
<circle cx="435.5" cy="405.6" r="1.5"/>
<circle cx="435.6" cy="403.7" r="1.3"/>
<circle cx="435.6" cy="405.5" r="0.9"/>
<ellipse cx="412.7" cy="432.3" rx="0.9" ry="0.9"/>
<circle cx="411.7" cy="432.2" r="0.9"/>
<circle cx="412.7" cy="433.6" r="0.7"/>
<circle cx="413.1" cy="431.0" r="1.7"/>
<ellipse cx="553.3" cy="406.0" rx="1.0" ry="1.0"/>
<circle cx="552.5" cy="406.7" r="1.3"/>
<circle cx="552.2" cy="404.8" r="1.4"/>
<circle cx="552.9" cy="407.4" r="1.2"/>
<ellipse cx="622.5" cy="425.7" rx="1.0" ry="1.0"/>
<circle cx="621.5" cy="424.9" r="0.6"/>
<circle cx="622.7" cy="424.5" r="1.2"/>
<circle cx="621.6" cy="425.5" r="0.9"/>
<ellipse cx="518.5" cy="369.8" rx="0.9" ry="1.0"/>
<circle cx="518.2" cy="369.8" r="1.2"/>
<circle cx="518.0" cy="369.1" r="1.3"/>
<circle cx="519.8" cy="369.4" r="0.8"/>
<ellipse cx="594.2" cy="542.2" rx="2.0" ry="1.6"/>
<circle cx="594.8" cy="540.4" r="0.7"/>
<circle cx="593.3" cy="543.0" r="0.7"/>
<circle cx="591.1" cy="541.6" r="1.0"/>
<circle cx="595.9" cy="540.7" r="0.8"/>
<circle cx="595.6" cy="540.8" r="1.7"/>
<circle cx="593.6" cy="540.1" r="1.0"/>
<circle cx="595.3" cy="539.8" r="1.6"/>
<circle cx="591.7" cy="543.0" r="1.2"/>
<ellipse cx="338.7" cy="529.7" rx="1.4" ry="1.0"/>
<circle cx="339.1" cy="529.9" r="0.7"/>
<circle cx="338.9" cy="530.2" r="1.2"/>
<circle cx="338.2" cy="528.7" r="1.1"/>
<circle cx="338.1" cy="529.1" r="1.2"/>
<ellipse cx="306.2" cy="575.5" rx="0.8" ry="0.8"/>
<circle cx="306.2" cy="574.8" r="0.8"/>
<circle cx="307.0" cy="574.9" r="1.1"/>
<circle cx="305.6" cy="576.1" r="1.3"/>
<ellipse cx="228.7" cy="522.3" rx="3.0" ry="1.2"/>
<circle cx="228.8" cy="522.7" r="0.9"/>
<circle cx="229.0" cy="521.7" r="1.2"/>
<circle cx="229.3" cy="523.0" r="0.8"/>
<circle cx="227.3" cy="522.7" r="0.7"/>
<circle cx="230.0" cy="522.8" r="1.2"/>
<circle cx="229.7" cy="522.5" r="1.1"/>
<circle cx="225.5" cy="523.2" r="0.7"/>
<circle cx="226.5" cy="522.9" r="0.7"/>
<circle cx="667.3" cy="248.5" r="1.3"/>
<circle cx="437.5" cy="274.6" r="0.5"/>
<circle cx="386.7" cy="313.5" r="0.6"/>
<circle cx="415.0" cy="287.6" r="1.0"/>
<circle cx="488.6" cy="293.3" r="1.3"/>
<circle cx="483.3" cy="386.3" r="1.0"/>
<circle cx="576.9" cy="271.6" r="0.4"/>
<circle cx="479.9" cy="283.1" r="1.0"/>
<circle cx="481.4" cy="269.6" r="0.6"/>
<circle cx="446.3" cy="327.1" r="0.8"/>
<circle cx="614.8" cy="320.9" r="0.5"/>
<circle cx="413.3" cy="309.5" r="0.8"/>
<circle cx="512.6" cy="285.2" r="0.4"/>
<circle cx="518.6" cy="365.0" r="0.8"/>
<circle cx="489.1" cy="377.9" r="0.6"/>
<circle cx="511.2" cy="255.8" r="0.6"/>
<circle cx="595.2" cy="265.7" r="1.3"/>
<circle cx="462.8" cy="297.4" r="0.6"/>
<circle cx="602.4" cy="264.1" r="0.7"/>
<circle cx="650.4" cy="300.0" r="1.3"/>
<circle cx="640.8" cy="283.7" r="0.7"/>
<circle cx="491.7" cy="280.6" r="0.6"/>
<circle cx="486.2" cy="419.5" r="0.4"/>
<circle cx="526.3" cy="253.0" r="0.8"/>
<circle cx="621.5" cy="301.4" r="1.3"/>
<circle cx="505.0" cy="258.0" r="1.0"/>
<circle cx="503.3" cy="370.2" r="0.5"/>
<circle cx="463.9" cy="237.0" r="0.4"/>
<circle cx="622.4" cy="336.3" r="0.5"/>
<circle cx="512.7" cy="262.1" r="0.7"/>
<circle cx="665.4" cy="233.9" r="0.4"/>
<circle cx="544.0" cy="310.0" r="0.7"/>
<circle cx="434.7" cy="286.1" r="0.8"/>
<circle cx="392.2" cy="270.9" r="0.7"/>
<circle cx="391.5" cy="293.9" r="0.5"/>
<circle cx="466.8" cy="326.5" r="1.3"/>
<circle cx="581.0" cy="346.5" r="0.4"/>
<circle cx="434.5" cy="341.8" r="0.5"/>
<circle cx="539.5" cy="285.9" r="1.0"/>
<circle cx="383.2" cy="283.3" r="1.3"/>
<circle cx="524.8" cy="359.4" r="0.4"/>
<circle cx="512.2" cy="291.6" r="0.7"/>
<circle cx="630.1" cy="236.8" r="0.6"/>
<circle cx="433.7" cy="329.6" r="0.5"/>
<circle cx="408.4" cy="322.1" r="0.5"/>
<circle cx="556.1" cy="248.4" r="0.8"/>
<circle cx="483.0" cy="356.4" r="0.7"/>
<circle cx="529.5" cy="366.0" r="0.6"/>
<circle cx="515.3" cy="307.8" r="0.5"/>
<circle cx="511.9" cy="339.8" r="1.0"/>
<circle cx="544.0" cy="338.1" r="0.6"/>
<circle cx="489.7" cy="247.5" r="0.5"/>
<circle cx="488.2" cy="267.2" r="1.0"/>
<circle cx="411.9" cy="311.7" r="0.4"/>
<circle cx="491.0" cy="339.1" r="0.5"/>
<circle cx="443.0" cy="298.0" r="0.4"/>
<circle cx="511.9" cy="354.6" r="1.0"/>
<circle cx="471.9" cy="324.9" r="0.5"/>
<circle cx="558.6" cy="217.8" r="0.8"/>
<circle cx="521.1" cy="230.4" r="1.0"/>
<circle cx="469.3" cy="264.0" r="0.5"/>
<circle cx="448.0" cy="272.2" r="0.5"/>
<circle cx="498.4" cy="277.1" r="0.6"/>
<circle cx="441.0" cy="266.7" r="0.5"/>
<circle cx="553.5" cy="281.8" r="0.8"/>
<circle cx="509.3" cy="269.8" r="0.6"/>
<circle cx="477.9" cy="254.9" r="0.4"/>
<circle cx="451.2" cy="282.4" r="0.7"/>
<circle cx="455.3" cy="258.6" r="0.8"/>
<circle cx="598.1" cy="245.9" r="0.5"/>
<circle cx="548.5" cy="254.6" r="0.6"/>
<circle cx="621.4" cy="281.9" r="1.0"/>
<circle cx="558.4" cy="295.6" r="0.7"/>
<circle cx="526.3" cy="330.9" r="1.0"/>
<circle cx="481.5" cy="366.0" r="0.5"/>
<circle cx="484.5" cy="231.9" r="0.5"/>
<circle cx="606.7" cy="324.9" r="0.7"/>
<circle cx="485.0" cy="308.0" r="0.6"/>
<circle cx="468.6" cy="241.6" r="0.5"/>
<circle cx="525.1" cy="322.3" r="1.0"/>
<circle cx="560.8" cy="359.1" r="0.5"/>
<circle cx="416.3" cy="324.7" r="1.0"/>
<circle cx="400.6" cy="261.6" r="0.7"/>
<circle cx="522.4" cy="297.7" r="0.5"/>
<circle cx="454.2" cy="257.5" r="0.8"/>
<circle cx="603.5" cy="249.9" r="0.5"/>
<circle cx="477.9" cy="372.9" r="1.3"/>
<circle cx="460.9" cy="314.8" r="1.3"/>
<circle cx="507.8" cy="382.5" r="0.7"/>
<circle cx="554.6" cy="287.2" r="0.5"/>
<circle cx="442.5" cy="358.2" r="0.7"/>
<circle cx="524.7" cy="367.4" r="0.8"/>
<circle cx="579.3" cy="336.6" r="0.5"/>
<circle cx="544.9" cy="350.2" r="0.5"/>
<circle cx="464.5" cy="358.3" r="0.4"/>
<circle cx="594.9" cy="342.0" r="0.6"/>
<circle cx="618.3" cy="277.4" r="1.0"/>
<circle cx="501.4" cy="333.1" r="1.3"/>
<circle cx="535.7" cy="296.0" r="0.5"/>
<circle cx="433.7" cy="301.8" r="0.7"/>
<circle cx="565.9" cy="298.8" r="0.5"/>
<circle cx="448.0" cy="318.8" r="0.5"/>
<circle cx="529.1" cy="308.2" r="1.0"/>
<circle cx="565.3" cy="211.7" r="1.3"/>
<circle cx="471.4" cy="306.6" r="0.7"/>
<circle cx="501.3" cy="347.1" r="0.6"/>
<circle cx="532.5" cy="311.9" r="1.3"/>
<circle cx="547.2" cy="287.8" r="0.4"/>
<circle cx="476.7" cy="308.5" r="1.3"/>
<circle cx="602.7" cy="245.4" r="0.7"/>
<circle cx="522.4" cy="244.8" r="0.4"/>
<circle cx="395.4" cy="290.4" r="0.8"/>
<circle cx="548.5" cy="276.2" r="0.4"/>
<circle cx="489.1" cy="385.3" r="1.0"/>
<circle cx="461.8" cy="248.6" r="0.6"/>
<circle cx="608.0" cy="205.4" r="0.5"/>
<circle cx="560.2" cy="290.2" r="1.0"/>
<circle cx="562.7" cy="307.0" r="0.5"/>
<circle cx="649.7" cy="298.0" r="0.6"/>
<circle cx="585.7" cy="341.8" r="1.3"/>
<circle cx="544.0" cy="333.6" r="1.0"/>
<circle cx="439.9" cy="245.7" r="0.6"/>
<circle cx="623.0" cy="253.3" r="0.7"/>
<circle cx="624.1" cy="214.5" r="0.6"/>
<circle cx="467.2" cy="277.2" r="0.6"/>
<circle cx="415.5" cy="296.1" r="1.0"/>
<circle cx="459.7" cy="264.3" r="0.6"/>
<circle cx="514.7" cy="245.1" r="0.5"/>
<circle cx="499.2" cy="277.3" r="0.6"/>
<circle cx="639.4" cy="277.1" r="0.8"/>
<circle cx="439.7" cy="303.9" r="0.8"/>
<circle cx="478.8" cy="327.6" r="0.4"/>
<circle cx="521.1" cy="362.2" r="0.5"/>
<circle cx="529.8" cy="278.1" r="0.4"/>
<circle cx="593.2" cy="207.0" r="0.6"/>
<circle cx="471.1" cy="272.0" r="0.6"/>
<circle cx="589.2" cy="346.2" r="1.0"/>
<circle cx="513.0" cy="317.9" r="0.5"/>
<circle cx="470.8" cy="342.4" r="0.5"/>
<circle cx="539.8" cy="265.2" r="0.5"/>
<circle cx="508.7" cy="247.9" r="0.8"/>
<circle cx="451.5" cy="352.9" r="0.8"/>
<circle cx="511.3" cy="310.3" r="0.8"/>
<circle cx="613.1" cy="239.2" r="1.3"/>
<circle cx="522.2" cy="253.4" r="0.4"/>
<circle cx="488.8" cy="321.2" r="0.4"/>
<circle cx="434.1" cy="306.8" r="0.5"/>
<circle cx="451.7" cy="361.1" r="0.4"/>
<circle cx="582.3" cy="271.4" r="0.6"/>
<circle cx="484.6" cy="378.0" r="1.0"/>
<circle cx="425.2" cy="296.5" r="0.4"/>
<circle cx="518.4" cy="290.6" r="0.5"/>
<circle cx="670.1" cy="259.5" r="0.5"/>
<circle cx="617.6" cy="291.6" r="1.0"/>
<circle cx="631.5" cy="208.1" r="0.8"/>
<circle cx="484.2" cy="293.0" r="0.6"/>
<circle cx="587.4" cy="280.0" r="1.0"/>
<circle cx="490.7" cy="279.7" r="0.6"/>
<circle cx="488.8" cy="367.0" r="0.5"/>
<circle cx="525.0" cy="243.0" r="1.3"/>
<circle cx="537.9" cy="386.7" r="0.5"/>
<circle cx="603.7" cy="291.0" r="1.0"/>
<circle cx="606.2" cy="288.1" r="0.5"/>
<circle cx="486.7" cy="267.7" r="1.0"/>
<circle cx="426.6" cy="277.1" r="0.8"/>
<circle cx="463.5" cy="242.8" r="1.0"/>
<circle cx="536.1" cy="283.8" r="1.3"/>
<circle cx="473.5" cy="280.0" r="0.5"/>
<circle cx="495.1" cy="318.2" r="1.3"/>
<circle cx="474.2" cy="384.8" r="1.0"/>
<circle cx="634.7" cy="304.6" r="0.7"/>
<circle cx="510.8" cy="365.8" r="0.5"/>
<circle cx="552.8" cy="341.9" r="1.0"/>
<circle cx="551.1" cy="232.1" r="0.5"/>
<circle cx="504.0" cy="249.2" r="0.5"/>
<circle cx="439.4" cy="300.2" r="0.8"/>
<circle cx="402.5" cy="309.6" r="0.5"/>
<circle cx="451.1" cy="345.9" r="0.4"/>
<circle cx="643.1" cy="251.2" r="0.8"/>
<circle cx="514.0" cy="374.6" r="0.5"/>
<circle cx="587.8" cy="326.0" r="0.4"/>
<circle cx="468.4" cy="298.6" r="0.6"/>
<circle cx="665.1" cy="259.6" r="1.0"/>
<circle cx="521.4" cy="384.0" r="0.8"/>
<circle cx="660.1" cy="270.7" r="0.7"/>
<circle cx="584.7" cy="340.5" r="0.4"/>
<circle cx="592.9" cy="286.4" r="0.5"/>
<circle cx="469.8" cy="369.4" r="1.0"/>
<circle cx="457.0" cy="356.0" r="0.5"/>
<circle cx="438.9" cy="316.9" r="1.3"/>
<circle cx="577.1" cy="327.5" r="1.3"/>
<circle cx="491.4" cy="359.9" r="1.0"/>
<circle cx="601.3" cy="315.9" r="1.0"/>
<circle cx="539.1" cy="379.3" r="0.8"/>
<circle cx="561.9" cy="257.8" r="0.5"/>
<circle cx="550.0" cy="338.1" r="0.5"/>
<circle cx="554.2" cy="362.2" r="1.3"/>
<circle cx="469.5" cy="367.2" r="0.7"/>
<circle cx="582.2" cy="265.2" r="0.6"/>
<circle cx="595.3" cy="208.0" r="1.0"/>
<circle cx="613.5" cy="233.6" r="1.0"/>
<circle cx="583.5" cy="345.9" r="0.8"/>
<circle cx="631.1" cy="262.3" r="0.4"/>
<circle cx="454.3" cy="272.3" r="0.4"/>
<circle cx="503.5" cy="415.2" r="1.3"/>
<circle cx="650.0" cy="239.3" r="0.5"/>
<circle cx="471.3" cy="304.6" r="0.5"/>
<circle cx="498.9" cy="242.2" r="0.6"/>
<circle cx="440.8" cy="237.5" r="0.5"/>
<circle cx="439.3" cy="343.8" r="0.6"/>
<circle cx="479.6" cy="267.7" r="1.3"/>
<circle cx="410.4" cy="275.7" r="0.7"/>
<circle cx="552.5" cy="308.9" r="0.7"/>
<circle cx="528.6" cy="240.1" r="0.4"/>
<circle cx="479.6" cy="389.2" r="0.6"/>
<circle cx="434.1" cy="299.9" r="0.5"/>
<circle cx="533.8" cy="310.1" r="0.8"/>
<circle cx="464.7" cy="263.7" r="0.5"/>
<circle cx="595.1" cy="235.1" r="0.6"/>
<circle cx="462.0" cy="341.1" r="0.4"/>
<circle cx="627.5" cy="325.4" r="0.7"/>
<circle cx="561.2" cy="215.5" r="1.0"/>
<circle cx="608.0" cy="253.3" r="0.7"/>
<circle cx="430.6" cy="275.6" r="0.4"/>
<circle cx="455.5" cy="320.3" r="0.5"/>
<circle cx="409.2" cy="300.2" r="1.3"/>
<circle cx="406.0" cy="262.4" r="1.0"/>
<circle cx="482.6" cy="399.2" r="0.8"/>
<circle cx="545.6" cy="335.2" r="1.0"/>
<circle cx="588.1" cy="284.6" r="0.4"/>
<circle cx="629.0" cy="295.4" r="0.6"/>
<circle cx="426.1" cy="270.1" r="0.7"/>
<circle cx="529.9" cy="373.6" r="0.8"/>
<circle cx="386.5" cy="301.6" r="0.7"/>
<circle cx="627.1" cy="297.4" r="0.5"/>
<circle cx="471.2" cy="245.9" r="0.7"/>
<circle cx="566.5" cy="261.8" r="0.8"/>
<circle cx="518.5" cy="357.9" r="0.4"/>
<circle cx="508.2" cy="299.0" r="1.3"/>
<circle cx="486.8" cy="410.1" r="0.7"/>
<circle cx="465.3" cy="301.6" r="0.8"/>
<circle cx="499.1" cy="280.4" r="1.3"/>
<circle cx="660.4" cy="252.6" r="0.6"/>
<circle cx="469.2" cy="378.6" r="1.3"/>
<circle cx="646.6" cy="294.6" r="1.3"/>
<circle cx="603.3" cy="228.9" r="0.4"/>
<circle cx="461.8" cy="333.4" r="0.6"/>
<circle cx="492.6" cy="321.2" r="0.5"/>
<circle cx="479.5" cy="342.3" r="0.5"/>
<circle cx="470.5" cy="261.9" r="1.3"/>
<circle cx="487.5" cy="245.6" r="0.6"/>
<circle cx="531.6" cy="322.0" r="0.4"/>
<circle cx="485.0" cy="252.8" r="1.0"/>
<circle cx="501.9" cy="243.6" r="1.3"/>
<circle cx="475.5" cy="246.0" r="0.6"/>
<circle cx="460.5" cy="272.2" r="1.0"/>
<circle cx="578.5" cy="291.0" r="0.7"/>
<circle cx="564.0" cy="265.9" r="0.5"/>
<circle cx="609.2" cy="260.7" r="0.5"/>
<circle cx="436.9" cy="347.4" r="1.3"/>
<circle cx="588.4" cy="233.0" r="0.8"/>
<circle cx="542.5" cy="223.1" r="0.8"/>
<circle cx="510.9" cy="261.0" r="0.8"/>
<circle cx="489.9" cy="291.4" r="1.0"/>
<circle cx="634.4" cy="282.8" r="0.7"/>
<circle cx="622.3" cy="244.8" r="0.7"/>
<circle cx="543.0" cy="288.4" r="0.6"/>
<circle cx="415.7" cy="250.4" r="0.5"/>
<circle cx="444.7" cy="253.1" r="0.5"/>
<circle cx="473.2" cy="239.4" r="0.5"/>
<circle cx="565.0" cy="284.6" r="0.4"/>
<circle cx="500.8" cy="400.7" r="0.5"/>
<circle cx="420.3" cy="260.4" r="0.5"/>
<circle cx="516.9" cy="374.5" r="0.5"/>
<circle cx="549.6" cy="336.5" r="0.5"/>
<circle cx="530.6" cy="319.0" r="0.5"/>
<circle cx="521.0" cy="313.8" r="0.5"/>
<circle cx="448.7" cy="261.9" r="0.6"/>
<circle cx="506.2" cy="323.4" r="0.6"/>
<circle cx="595.9" cy="289.8" r="0.5"/>
<circle cx="485.2" cy="351.0" r="1.3"/>
<circle cx="437.2" cy="248.3" r="0.7"/>
<circle cx="472.1" cy="380.4" r="0.4"/>
<circle cx="480.0" cy="238.5" r="0.8"/>
<circle cx="531.0" cy="354.9" r="0.5"/>
<circle cx="457.6" cy="237.9" r="0.8"/>
<circle cx="482.1" cy="236.6" r="0.7"/>
<circle cx="495.7" cy="354.4" r="1.3"/>
<circle cx="675.5" cy="265.6" r="0.5"/>
<circle cx="471.9" cy="241.0" r="0.7"/>
<circle cx="486.6" cy="273.8" r="0.8"/>
<circle cx="501.2" cy="371.0" r="0.5"/>
<circle cx="540.4" cy="250.8" r="0.5"/>
<circle cx="558.7" cy="265.0" r="0.5"/>
<circle cx="526.0" cy="257.4" r="0.6"/>
<circle cx="467.1" cy="347.7" r="0.8"/>
<circle cx="582.8" cy="249.9" r="1.0"/>
<circle cx="576.0" cy="232.9" r="1.3"/>
<circle cx="407.4" cy="296.8" r="1.3"/>
<circle cx="569.4" cy="255.4" r="0.6"/>
<circle cx="511.2" cy="238.9" r="0.7"/>
<circle cx="441.1" cy="332.5" r="0.4"/>
<circle cx="576.7" cy="291.1" r="0.5"/>
<circle cx="585.7" cy="345.6" r="0.4"/>
<circle cx="436.5" cy="256.3" r="0.7"/>
<circle cx="521.1" cy="332.6" r="1.3"/>
<circle cx="470.6" cy="353.0" r="0.5"/>
<circle cx="503.2" cy="236.7" r="0.7"/>
<circle cx="548.3" cy="298.8" r="1.0"/>
<circle cx="491.9" cy="360.7" r="0.4"/>
<circle cx="540.3" cy="235.3" r="0.5"/>
<circle cx="466.6" cy="239.6" r="1.3"/>
<circle cx="530.5" cy="334.8" r="0.8"/>
<circle cx="593.0" cy="219.2" r="1.0"/>
<circle cx="628.5" cy="238.6" r="0.6"/>
<circle cx="582.3" cy="314.0" r="1.3"/>
<circle cx="522.2" cy="282.8" r="1.0"/>
<circle cx="503.6" cy="280.3" r="0.5"/>
<circle cx="506.0" cy="390.8" r="0.8"/>
<circle cx="479.9" cy="281.2" r="0.5"/>
<circle cx="593.6" cy="240.9" r="1.3"/>
<circle cx="414.4" cy="288.2" r="0.5"/>
<circle cx="517.3" cy="409.4" r="0.7"/>
<circle cx="581.3" cy="259.4" r="1.3"/>
<circle cx="409.1" cy="277.3" r="0.4"/>
<circle cx="607.4" cy="258.6" r="0.6"/>
<circle cx="535.1" cy="278.2" r="0.4"/>
<circle cx="465.2" cy="354.6" r="0.6"/>
<circle cx="479.1" cy="344.5" r="0.4"/>
<circle cx="476.2" cy="360.4" r="1.3"/>
<circle cx="461.9" cy="300.4" r="1.3"/>
<circle cx="441.6" cy="289.1" r="0.5"/>
<circle cx="549.3" cy="356.9" r="1.3"/>
<circle cx="641.7" cy="304.0" r="1.0"/>
<circle cx="557.9" cy="281.0" r="0.6"/>
<circle cx="489.6" cy="247.1" r="0.4"/>
<circle cx="408.0" cy="278.6" r="0.8"/>
<circle cx="558.9" cy="267.0" r="0.5"/>
<circle cx="508.7" cy="340.9" r="1.3"/>
<circle cx="425.4" cy="320.8" r="0.4"/>
<circle cx="437.4" cy="325.1" r="0.8"/>
<circle cx="652.9" cy="255.6" r="0.7"/>
<circle cx="439.5" cy="252.9" r="0.5"/>
<circle cx="453.3" cy="339.3" r="0.6"/>
<circle cx="562.7" cy="363.3" r="1.0"/>
<circle cx="534.9" cy="243.6" r="0.4"/>
<circle cx="521.2" cy="337.7" r="0.5"/>
<circle cx="413.8" cy="277.3" r="0.7"/>
<circle cx="470.4" cy="356.9" r="0.8"/>
<circle cx="476.7" cy="306.2" r="0.6"/>
<circle cx="490.6" cy="346.5" r="0.5"/>
<circle cx="443.1" cy="253.7" r="0.7"/>
<circle cx="588.2" cy="226.7" r="0.5"/>
<circle cx="487.4" cy="351.4" r="1.0"/>
<circle cx="581.9" cy="225.3" r="0.8"/>
<circle cx="445.4" cy="341.5" r="0.4"/>
<circle cx="502.5" cy="299.3" r="0.4"/>
<circle cx="612.2" cy="332.8" r="0.4"/>
<circle cx="433.2" cy="281.8" r="0.8"/>
<circle cx="468.1" cy="370.6" r="1.0"/>
<circle cx="525.8" cy="230.9" r="0.4"/>
<circle cx="485.2" cy="381.6" r="0.7"/>
<circle cx="506.0" cy="302.1" r="0.7"/>
<circle cx="529.9" cy="227.1" r="0.5"/>
<circle cx="395.0" cy="291.4" r="0.5"/>
<circle cx="484.3" cy="296.7" r="0.5"/>
<circle cx="500.2" cy="345.4" r="1.0"/>
<circle cx="453.8" cy="239.0" r="0.6"/>
<circle cx="562.9" cy="251.0" r="0.8"/>
<circle cx="417.2" cy="262.0" r="1.0"/>
<circle cx="609.6" cy="265.6" r="0.7"/>
<circle cx="491.9" cy="278.6" r="0.5"/>
<circle cx="524.3" cy="346.7" r="0.4"/>
<circle cx="548.7" cy="352.9" r="0.5"/>
<circle cx="584.1" cy="305.1" r="0.7"/>
<circle cx="629.3" cy="301.7" r="0.5"/>
<circle cx="572.6" cy="251.4" r="0.6"/>
<circle cx="464.2" cy="317.2" r="0.5"/>
<circle cx="507.7" cy="404.1" r="0.5"/>
<circle cx="476.0" cy="263.8" r="1.3"/>
<circle cx="451.0" cy="241.4" r="0.5"/>
<circle cx="617.5" cy="287.8" r="0.6"/>
<circle cx="542.9" cy="249.0" r="0.5"/>
<circle cx="636.6" cy="272.3" r="0.6"/>
<circle cx="568.8" cy="271.1" r="0.7"/>
<circle cx="470.7" cy="299.2" r="0.8"/>
<circle cx="559.7" cy="289.6" r="0.6"/>
<circle cx="472.1" cy="368.5" r="0.8"/>
<circle cx="564.4" cy="277.9" r="0.6"/>
<circle cx="489.7" cy="306.7" r="0.8"/>
<circle cx="419.1" cy="249.9" r="0.6"/>
<circle cx="549.7" cy="328.0" r="0.8"/>
<circle cx="546.9" cy="267.3" r="1.3"/>
<circle cx="499.9" cy="400.5" r="1.3"/>
<circle cx="565.3" cy="226.0" r="0.4"/>
<circle cx="477.1" cy="286.5" r="1.0"/>
<circle cx="570.2" cy="305.3" r="1.0"/>
<circle cx="599.8" cy="266.4" r="0.6"/>
<circle cx="658.9" cy="237.1" r="0.4"/>
<circle cx="542.5" cy="352.7" r="1.0"/>
<circle cx="587.8" cy="349.2" r="0.5"/>
<circle cx="458.7" cy="249.3" r="0.8"/>
<circle cx="480.7" cy="232.0" r="0.8"/>
<circle cx="404.7" cy="299.8" r="0.5"/>
<circle cx="475.8" cy="292.8" r="0.6"/>
<circle cx="619.3" cy="212.5" r="0.5"/>
<circle cx="498.4" cy="378.7" r="0.8"/>
<circle cx="656.5" cy="215.9" r="0.6"/>
<circle cx="429.8" cy="269.7" r="0.8"/>
<circle cx="554.2" cy="296.1" r="0.7"/>
<circle cx="582.7" cy="265.8" r="0.6"/>
<circle cx="487.0" cy="312.1" r="0.8"/>
<circle cx="421.2" cy="275.3" r="0.6"/>
<circle cx="543.3" cy="283.0" r="0.7"/>
<circle cx="456.0" cy="320.8" r="0.4"/>
<circle cx="438.8" cy="239.5" r="0.4"/>
<circle cx="569.7" cy="246.7" r="1.0"/>
<circle cx="673.4" cy="246.5" r="0.5"/>
<circle cx="644.4" cy="291.7" r="0.7"/>
<circle cx="563.9" cy="291.6" r="0.5"/>
<circle cx="452.5" cy="539.6" r="0.5"/>
<circle cx="462.5" cy="510.0" r="0.4"/>
<circle cx="541.6" cy="522.7" r="0.35"/>
<circle cx="541.6" cy="334.7" r="0.8"/>
<circle cx="614.4" cy="431.4" r="0.8"/>
<circle cx="480.1" cy="356.3" r="0.4"/>
<circle cx="645.4" cy="483.5" r="0.8"/>
<circle cx="436.6" cy="538.2" r="0.4"/>
<circle cx="679.8" cy="600.9" r="0.6"/>
<circle cx="636.2" cy="539.5" r="0.5"/>
<circle cx="560.4" cy="337.5" r="0.35"/>
<circle cx="646.2" cy="442.9" r="0.8"/>
<circle cx="368.8" cy="389.9" r="0.6"/>
<circle cx="396.1" cy="469.8" r="0.6"/>
<circle cx="365.0" cy="389.9" r="0.35"/>
<circle cx="673.4" cy="442.5" r="0.4"/>
<circle cx="664.8" cy="454.8" r="0.5"/>
<circle cx="495.0" cy="580.1" r="0.5"/>
<circle cx="420.8" cy="339.4" r="0.35"/>
<circle cx="597.6" cy="579.0" r="0.6"/>
<circle cx="578.3" cy="441.8" r="0.5"/>
<circle cx="440.5" cy="561.1" r="0.35"/>
<circle cx="649.2" cy="582.4" r="0.6"/>
<circle cx="510.2" cy="448.8" r="0.8"/>
<circle cx="476.1" cy="563.7" r="0.4"/>
<circle cx="627.0" cy="574.9" r="0.6"/>
<circle cx="481.1" cy="334.4" r="0.35"/>
<circle cx="635.5" cy="590.5" r="0.6"/>
<circle cx="574.6" cy="619.0" r="0.5"/>
<circle cx="413.8" cy="344.3" r="0.6"/>
<circle cx="560.3" cy="555.4" r="0.6"/>
<circle cx="450.6" cy="338.3" r="0.6"/>
<circle cx="581.9" cy="483.4" r="0.4"/>
<circle cx="451.0" cy="584.5" r="0.4"/>
<circle cx="566.4" cy="474.1" r="0.8"/>
<circle cx="551.9" cy="498.2" r="0.8"/>
<circle cx="425.4" cy="602.1" r="0.6"/>
<circle cx="615.5" cy="535.8" r="0.35"/>
<circle cx="460.0" cy="613.4" r="0.6"/>
<circle cx="405.7" cy="564.9" r="0.6"/>
<circle cx="631.5" cy="554.6" r="0.4"/>
<circle cx="526.1" cy="589.9" r="0.8"/>
<circle cx="384.0" cy="488.0" r="0.8"/>
<circle cx="674.2" cy="586.8" r="0.35"/>
<circle cx="486.4" cy="602.2" r="0.4"/>
<circle cx="401.8" cy="593.6" r="0.35"/>
<circle cx="475.1" cy="494.6" r="0.35"/>
<circle cx="463.2" cy="554.2" r="0.6"/>
<circle cx="585.5" cy="512.7" r="0.4"/>
<circle cx="436.9" cy="385.6" r="0.4"/>
<circle cx="365.7" cy="372.4" r="0.5"/>
<circle cx="398.8" cy="533.3" r="0.5"/>
<circle cx="454.6" cy="491.0" r="0.8"/>
<circle cx="406.2" cy="456.6" r="0.5"/>
<circle cx="370.9" cy="440.7" r="0.6"/>
<circle cx="639.7" cy="581.9" r="0.5"/>
<circle cx="354.1" cy="341.0" r="0.4"/>
<circle cx="484.6" cy="458.8" r="0.8"/>
<circle cx="438.3" cy="487.3" r="0.35"/>
<circle cx="521.4" cy="359.5" r="0.8"/>
<circle cx="535.5" cy="566.6" r="0.6"/>
<circle cx="488.0" cy="489.3" r="0.4"/>
<circle cx="585.6" cy="595.3" r="0.8"/>
<circle cx="645.2" cy="491.0" r="0.5"/>
<circle cx="515.8" cy="330.3" r="0.4"/>
<circle cx="578.6" cy="462.5" r="0.35"/>
<circle cx="431.0" cy="489.0" r="0.35"/>
<circle cx="366.1" cy="616.9" r="0.4"/>
<circle cx="639.3" cy="512.3" r="0.6"/>
<circle cx="578.2" cy="441.8" r="0.35"/>
<circle cx="649.5" cy="616.9" r="0.6"/>
<circle cx="665.3" cy="447.0" r="0.5"/>
<circle cx="663.4" cy="417.4" r="0.8"/>
<circle cx="468.5" cy="346.0" r="0.6"/>
<circle cx="487.2" cy="391.3" r="0.8"/>
<circle cx="627.0" cy="574.1" r="0.8"/>
<circle cx="451.4" cy="594.1" r="0.35"/>
<circle cx="458.1" cy="524.5" r="0.6"/>
<circle cx="651.4" cy="611.0" r="0.4"/>
<circle cx="687.5" cy="492.6" r="0.8"/>
<circle cx="512.7" cy="422.7" r="0.4"/>
<circle cx="658.3" cy="428.6" r="0.4"/>
<circle cx="453.3" cy="562.5" r="0.4"/>
<circle cx="621.6" cy="428.5" r="0.5"/>
<circle cx="377.4" cy="496.2" r="0.4"/>
<circle cx="591.7" cy="447.6" r="0.4"/>
<circle cx="394.0" cy="504.0" r="0.8"/>
<circle cx="426.9" cy="342.4" r="0.4"/>
<circle cx="439.9" cy="521.5" r="0.5"/>
<circle cx="463.8" cy="507.2" r="0.5"/>
<circle cx="381.3" cy="403.8" r="0.4"/>
<circle cx="612.5" cy="590.9" r="0.8"/>
<circle cx="443.3" cy="447.1" r="0.4"/>
<circle cx="359.3" cy="364.7" r="0.6"/>
<circle cx="596.0" cy="485.4" r="0.6"/>
<circle cx="613.4" cy="362.0" r="0.35"/>
<circle cx="597.6" cy="396.7" r="0.5"/>
<circle cx="636.7" cy="406.0" r="0.5"/>
<circle cx="458.6" cy="513.8" r="0.8"/>
<circle cx="551.3" cy="546.7" r="0.6"/>
<circle cx="524.1" cy="475.5" r="0.5"/>
<circle cx="592.7" cy="484.8" r="0.4"/>
<circle cx="663.8" cy="494.4" r="0.5"/>
<circle cx="657.0" cy="501.8" r="0.8"/>
<circle cx="426.2" cy="586.9" r="0.4"/>
<circle cx="479.2" cy="580.6" r="0.6"/>
<circle cx="573.2" cy="517.7" r="0.4"/>
<circle cx="527.3" cy="495.9" r="0.4"/>
<circle cx="404.8" cy="457.9" r="0.8"/>
<circle cx="543.3" cy="534.6" r="0.35"/>
<circle cx="450.2" cy="400.1" r="0.4"/>
<circle cx="427.1" cy="332.7" r="0.35"/>
<circle cx="373.4" cy="595.6" r="0.4"/>
<circle cx="620.2" cy="443.7" r="0.8"/>
<circle cx="473.1" cy="405.0" r="0.4"/>
<circle cx="676.7" cy="575.7" r="0.6"/>
<circle cx="659.2" cy="518.3" r="0.6"/>
<circle cx="473.1" cy="569.3" r="0.5"/>
<circle cx="613.7" cy="384.5" r="0.4"/>
<circle cx="389.2" cy="378.6" r="0.35"/>
<circle cx="631.1" cy="436.4" r="0.5"/>
<circle cx="362.6" cy="521.8" r="0.4"/>
<circle cx="441.6" cy="484.6" r="0.8"/>
<circle cx="464.8" cy="500.7" r="0.8"/>
<circle cx="629.1" cy="391.1" r="0.5"/>
<circle cx="375.7" cy="471.7" r="0.6"/>
<circle cx="658.0" cy="433.7" r="0.35"/>
<circle cx="524.3" cy="510.9" r="0.35"/>
<circle cx="520.7" cy="579.7" r="0.8"/>
<circle cx="636.1" cy="575.8" r="0.4"/>
<circle cx="645.5" cy="404.3" r="0.4"/>
<circle cx="659.0" cy="556.2" r="0.4"/>
<circle cx="688.4" cy="601.3" r="0.35"/>
<circle cx="433.7" cy="397.6" r="0.6"/>
<circle cx="612.0" cy="604.5" r="0.4"/>
<circle cx="503.1" cy="345.7" r="0.6"/>
<circle cx="387.5" cy="419.7" r="0.35"/>
<circle cx="559.9" cy="607.5" r="0.8"/>
<circle cx="381.5" cy="343.7" r="0.5"/>
<circle cx="509.4" cy="468.5" r="0.6"/>
<circle cx="359.2" cy="533.0" r="0.35"/>
<circle cx="439.2" cy="552.5" r="0.35"/>
<circle cx="437.8" cy="362.1" r="0.35"/>
<circle cx="400.8" cy="522.2" r="0.35"/>
<circle cx="478.1" cy="417.9" r="0.6"/>
<circle cx="467.9" cy="455.3" r="0.4"/>
<circle cx="452.8" cy="483.0" r="0.6"/>
<circle cx="464.2" cy="534.6" r="0.6"/>
<circle cx="406.3" cy="600.1" r="0.4"/>
<circle cx="387.8" cy="544.6" r="0.4"/>
<circle cx="553.8" cy="398.4" r="0.5"/>
<circle cx="425.2" cy="558.0" r="0.35"/>
<circle cx="655.4" cy="616.8" r="0.6"/>
<circle cx="408.8" cy="566.6" r="0.35"/>
<circle cx="499.2" cy="330.4" r="0.6"/>
<circle cx="396.7" cy="341.6" r="0.5"/>
<circle cx="564.5" cy="592.0" r="0.35"/>
<circle cx="670.2" cy="480.4" r="0.4"/>
<circle cx="659.8" cy="553.6" r="0.5"/>
<circle cx="627.2" cy="487.8" r="0.4"/>
<circle cx="656.4" cy="441.2" r="0.6"/>
<circle cx="556.1" cy="549.2" r="0.35"/>
<circle cx="505.0" cy="541.7" r="0.6"/>
<circle cx="395.3" cy="486.2" r="0.4"/>
<circle cx="398.8" cy="421.5" r="0.8"/>
<circle cx="403.3" cy="603.3" r="0.35"/>
<circle cx="461.0" cy="506.6" r="0.4"/>
<circle cx="399.4" cy="360.7" r="0.5"/>
<circle cx="489.1" cy="358.4" r="0.4"/>
<circle cx="522.9" cy="482.1" r="0.5"/>
<circle cx="448.2" cy="602.9" r="0.5"/>
<circle cx="463.3" cy="503.8" r="0.4"/>
<circle cx="429.3" cy="439.8" r="0.8"/>
<circle cx="542.9" cy="552.7" r="0.5"/>
<circle cx="595.6" cy="361.3" r="0.6"/>
<circle cx="533.0" cy="360.6" r="0.6"/>
<circle cx="578.2" cy="521.6" r="0.35"/>
<circle cx="555.5" cy="442.2" r="0.8"/>
<circle cx="423.0" cy="461.7" r="0.5"/>
<circle cx="684.6" cy="595.1" r="0.6"/>
<circle cx="477.3" cy="421.4" r="0.4"/>
<circle cx="391.9" cy="337.7" r="0.35"/>
<circle cx="638.1" cy="436.4" r="0.6"/>
<circle cx="650.6" cy="524.6" r="0.35"/>
<circle cx="689.4" cy="364.6" r="0.4"/>
<circle cx="623.8" cy="534.3" r="0.6"/>
<circle cx="650.1" cy="413.3" r="0.5"/>
<circle cx="434.5" cy="562.0" r="0.5"/>
<circle cx="643.7" cy="361.6" r="0.8"/>
<circle cx="372.4" cy="538.6" r="0.5"/>
<circle cx="400.8" cy="518.7" r="0.5"/>
<circle cx="418.3" cy="499.1" r="0.35"/>
<circle cx="436.2" cy="592.5" r="0.5"/>
<circle cx="376.5" cy="457.6" r="0.6"/>
<circle cx="664.5" cy="405.8" r="0.6"/>
<circle cx="585.4" cy="559.5" r="0.6"/>
<circle cx="455.3" cy="437.3" r="0.6"/>
<circle cx="473.0" cy="552.9" r="0.4"/>
<circle cx="500.9" cy="603.4" r="0.4"/>
<circle cx="565.4" cy="394.6" r="0.35"/>
<circle cx="574.4" cy="617.8" r="0.5"/>
<circle cx="497.8" cy="354.1" r="0.35"/>
<circle cx="517.6" cy="365.9" r="0.8"/>
<circle cx="493.9" cy="342.1" r="0.8"/>
<circle cx="455.3" cy="479.7" r="0.35"/>
<circle cx="453.0" cy="524.3" r="0.5"/>
<circle cx="555.3" cy="404.6" r="0.35"/>
<circle cx="609.1" cy="610.3" r="0.4"/>
<circle cx="493.8" cy="460.4" r="0.5"/>
<circle cx="490.1" cy="343.1" r="0.8"/>
<circle cx="672.4" cy="540.1" r="0.8"/>
<circle cx="499.2" cy="400.3" r="0.5"/>
<circle cx="638.2" cy="534.9" r="0.8"/>
<circle cx="558.2" cy="430.0" r="0.5"/>
<circle cx="429.7" cy="378.1" r="0.35"/>
<circle cx="461.2" cy="512.1" r="0.4"/>
<circle cx="625.4" cy="610.7" r="0.35"/>
<circle cx="407.4" cy="608.6" r="0.35"/>
<circle cx="671.3" cy="584.4" r="0.4"/>
<circle cx="480.0" cy="547.0" r="0.5"/>
<circle cx="509.5" cy="477.9" r="0.35"/>
<circle cx="502.7" cy="470.5" r="0.5"/>
<circle cx="569.0" cy="439.3" r="0.4"/>
<circle cx="422.8" cy="486.2" r="0.8"/>
<circle cx="353.9" cy="605.9" r="0.4"/>
<circle cx="649.3" cy="443.3" r="0.4"/>
<circle cx="588.2" cy="404.2" r="0.8"/>
<circle cx="406.9" cy="483.0" r="0.8"/>
<circle cx="406.8" cy="346.8" r="0.6"/>
<circle cx="414.1" cy="550.5" r="0.6"/>
<circle cx="435.7" cy="517.9" r="0.35"/>
<circle cx="476.5" cy="406.1" r="0.6"/>
<circle cx="686.2" cy="426.0" r="0.35"/>
<circle cx="641.9" cy="522.5" r="0.5"/>
<circle cx="433.0" cy="445.2" r="0.5"/>
<circle cx="367.6" cy="380.6" r="0.8"/>
<circle cx="495.6" cy="523.4" r="0.5"/>
<circle cx="400.5" cy="342.2" r="0.8"/>
<circle cx="431.3" cy="408.2" r="0.35"/>
<circle cx="405.3" cy="608.3" r="0.5"/>
<circle cx="616.8" cy="552.8" r="0.4"/>
<circle cx="508.7" cy="408.4" r="0.4"/>
<circle cx="575.4" cy="568.6" r="0.6"/>
<circle cx="457.1" cy="467.3" r="0.6"/>
<circle cx="662.1" cy="400.5" r="0.5"/>
<circle cx="458.5" cy="527.6" r="0.5"/>
<circle cx="358.1" cy="401.6" r="0.4"/>
<circle cx="553.2" cy="564.0" r="0.8"/>
<circle cx="482.4" cy="351.9" r="0.35"/>
<circle cx="571.0" cy="501.5" r="0.8"/>
<circle cx="532.9" cy="556.3" r="0.35"/>
<circle cx="438.0" cy="493.0" r="0.8"/>
<circle cx="655.5" cy="525.1" r="0.35"/>
<circle cx="381.7" cy="426.5" r="0.4"/>
<circle cx="516.1" cy="402.7" r="0.35"/>
<circle cx="472.2" cy="391.9" r="0.8"/>
<circle cx="632.6" cy="436.4" r="0.6"/>
<circle cx="519.8" cy="416.1" r="0.35"/>
<circle cx="546.6" cy="598.4" r="0.6"/>
<circle cx="558.8" cy="618.7" r="0.6"/>
</g>
<g clip-path="url(#mc)" fill="none" stroke="#808080" stroke-opacity="0.6" stroke-width="0.6" stroke-dasharray="0.6 1.1">
<line x1="218" y1="60" x2="200" y2="797"/>
<line x1="424" y1="60" x2="412.25" y2="797"/>
<line x1="629.25" y1="60" x2="625.5" y2="797"/>
<line x1="835.5" y1="60" x2="839.5" y2="797"/>
<path d="M120,148.4L140,148.9L160,149.3L180,149.8L200,150.2L220,150.7L240,151.1L260,151.5L280,151.8L300,152.2L320,152.6L340,152.9L360,153.2L380,153.5L400,153.8L420,154.0L440,154.3L460,154.5L480,154.7L500,154.9L520,155.1L540,155.3L560,155.4L580,155.5L600,155.7L620,155.8L640,155.8L660,155.9L680,155.9L700,156.0L720,156.0L740,156.0L760,156.0L780,155.9L800,155.9L820,155.8L840,155.8L860,155.7"/>
<path d="M120,371.4L140,371.9L160,372.3L180,372.8L200,373.2L220,373.7L240,374.1L260,374.5L280,374.8L300,375.2L320,375.6L340,375.9L360,376.2L380,376.5L400,376.8L420,377.0L440,377.3L460,377.5L480,377.7L500,377.9L520,378.1L540,378.3L560,378.4L580,378.5L600,378.7L620,378.8L640,378.8L660,378.9L680,378.9L700,379.0L720,379.0L740,379.0L760,379.0L780,378.9L800,378.9L820,378.8L840,378.8L860,378.7"/>
<path d="M120,592.9L140,593.4L160,593.8L180,594.3L200,594.7L220,595.2L240,595.6L260,596.0L280,596.3L300,596.7L320,597.1L340,597.4L360,597.7L380,598.0L400,598.3L420,598.5L440,598.8L460,599.0L480,599.2L500,599.4L520,599.6L540,599.8L560,599.9L580,600.0L600,600.2L620,600.3L640,600.3L660,600.4L680,600.4L700,600.5L720,600.5L740,600.5L760,600.5L780,600.4L800,600.4L820,600.3L840,600.3L860,600.2"/>
</g>
<g clip-path="url(#mc)" fill="#000" fill-opacity="0.2">
<path d="M143.7,78.0L139.2,72.6L141.1,72.1L134.0,67.6L137.2,75.4L138.0,73.7L142.5,79.0ZM163.7,78.0L159.1,72.7L161.0,72.1L153.9,67.7L157.1,75.4L157.9,73.7L162.4,79.0ZM183.6,78.0L179.0,72.7L180.9,72.1L173.7,67.8L177.0,75.5L177.8,73.7L182.4,79.0ZM203.6,78.0L198.9,72.7L200.8,72.2L193.6,67.8L196.9,75.5L197.7,73.8L202.3,79.0ZM223.5,78.0L218.8,72.8L220.7,72.2L213.4,67.9L216.9,75.6L217.6,73.8L222.3,79.0ZM243.4,78.0L238.7,72.8L240.5,72.2L233.2,68.1L236.8,75.7L237.5,73.9L242.3,79.0ZM263.4,77.9L258.5,72.9L260.4,72.3L253.0,68.3L256.7,75.8L257.4,74.0L262.2,79.1ZM283.3,77.9L278.4,73.0L280.2,72.3L272.7,68.5L276.6,75.9L277.2,74.1L282.2,79.1ZM303.3,77.9L298.2,73.1L300.0,72.4L292.5,68.7L296.5,76.1L297.1,74.2L302.1,79.1ZM323.2,77.9L318.0,73.2L319.8,72.4L312.2,69.0L316.3,76.2L316.9,74.4L322.1,79.1ZM343.1,77.9L337.8,73.4L339.6,72.5L331.9,69.3L336.3,76.4L336.8,74.6L342.1,79.1ZM363.1,77.9L358.3,74.0L360.0,73.2L352.1,70.2L356.8,77.2L357.3,75.3L362.0,79.1ZM383.0,77.9L379.2,75.0L380.9,74.1L373.0,71.4L377.9,78.2L378.3,76.3L382.0,79.1ZM402.9,77.8L399.2,75.2L400.8,74.2L392.8,71.6L397.8,78.4L398.2,76.5L402.0,79.2ZM422.9,77.8L419.0,75.2L420.7,74.2L412.6,71.8L417.8,78.4L418.1,76.5L421.9,79.2ZM442.8,77.8L438.8,75.2L440.4,74.1L432.3,71.9L437.6,78.4L437.9,76.5L441.9,79.2ZM462.7,77.8L458.4,75.1L460.0,74.0L451.8,71.9L457.2,78.3L457.5,76.4L461.9,79.2ZM482.7,77.8L478.7,75.4L480.3,74.3L472.1,72.4L477.6,78.7L477.9,76.8L481.8,79.2ZM502.6,77.8L498.6,75.5L500.2,74.4L491.9,72.6L497.6,78.8L497.8,76.9L501.8,79.2ZM522.5,77.8L518.5,75.6L520.0,74.4L511.8,72.8L517.6,78.9L517.7,77.0L521.8,79.2ZM542.5,77.8L538.4,75.6L539.9,74.4L531.7,72.9L537.5,79.0L537.6,77.0L541.7,79.2ZM562.4,77.8L558.2,75.6L559.7,74.4L551.4,73.0L557.4,78.9L557.5,77.0L561.7,79.2ZM582.4,77.8L578.2,75.7L579.8,74.5L571.5,73.1L577.4,79.0L577.5,77.1L581.6,79.2ZM602.3,77.8L598.2,75.7L599.7,74.5L591.4,73.2L597.4,79.1L597.5,77.1L601.6,79.2ZM622.3,77.8L618.1,75.7L619.6,74.5L611.3,73.3L617.3,79.1L617.4,77.2L621.5,79.2ZM642.2,77.8L638.0,75.8L639.5,74.5L631.2,73.3L637.3,79.1L637.3,77.2L641.5,79.2ZM662.1,77.8L657.8,75.7L659.3,74.5L651.0,73.4L657.1,79.1L657.1,77.2L661.5,79.2ZM682.1,77.8L677.9,75.8L679.3,74.6L671.0,73.6L677.2,79.2L677.2,77.3L681.4,79.2ZM702.0,77.8L697.8,75.9L699.2,74.6L690.9,73.7L697.2,79.3L697.1,77.4L701.4,79.2ZM722.0,77.8L717.7,75.9L719.1,74.6L710.8,73.9L717.1,79.4L717.1,77.4L721.3,79.2ZM741.9,77.8L736.8,75.6L738.2,74.3L729.8,73.6L736.2,79.0L736.2,77.1L741.3,79.2ZM761.8,77.8L755.4,75.2L756.8,73.8L748.4,73.2L754.9,78.6L754.8,76.6L761.3,79.2ZM781.8,77.8L775.3,75.2L776.7,73.9L768.3,73.4L774.8,78.6L774.7,76.7L781.2,79.2ZM801.7,77.8L795.2,75.3L796.6,73.9L788.2,73.5L794.8,78.7L794.6,76.8L801.2,79.2ZM821.7,77.7L815.1,75.3L816.5,74.0L808.1,73.6L814.7,78.8L814.6,76.8L821.1,79.3ZM841.6,77.7L836.1,75.8L837.5,74.4L829.1,74.1L835.7,79.2L835.6,77.3L841.1,79.3ZM861.6,77.7L857.2,76.2L858.5,74.8L850.1,74.6L856.8,79.6L856.7,77.7L861.0,79.3ZM143.7,97.9L139.2,92.6L141.1,92.1L133.9,87.6L137.1,95.4L138.0,93.6L142.5,99.0ZM163.7,97.9L159.1,92.6L161.0,92.1L153.8,87.7L157.1,95.4L157.9,93.7L162.4,99.0ZM183.6,97.9L179.0,92.6L180.9,92.1L173.7,87.7L177.0,95.4L177.8,93.7L182.4,99.0ZM203.6,97.9L198.9,92.7L200.8,92.1L193.6,87.8L196.9,95.5L197.7,93.7L202.3,99.0ZM223.5,97.9L218.8,92.7L220.7,92.1L213.4,87.9L216.9,95.6L217.6,93.8L222.3,99.0ZM243.4,97.9L238.7,92.8L240.5,92.2L233.2,88.0L236.8,95.6L237.5,93.9L242.3,99.0ZM263.4,97.9L258.5,92.8L260.4,92.2L253.0,88.2L256.7,95.8L257.4,94.0L262.2,99.0ZM283.3,97.9L278.4,92.9L280.2,92.3L272.7,88.4L276.6,95.9L277.2,94.1L282.2,99.0ZM303.3,97.9L298.2,93.0L300.0,92.3L292.5,88.6L296.5,96.0L297.1,94.2L302.1,99.0ZM323.2,97.9L318.0,93.1L319.8,92.4L312.2,88.9L316.4,96.2L316.9,94.3L322.1,99.0ZM343.1,97.8L337.8,93.3L339.6,92.5L331.8,89.2L336.2,96.4L336.8,94.5L342.1,99.1ZM363.1,97.8L357.7,93.5L359.4,92.7L351.6,89.6L356.2,96.6L356.7,94.8L362.0,99.1ZM383.0,97.8L379.0,94.8L380.7,93.9L372.8,91.1L377.6,98.0L378.0,96.1L382.0,99.1ZM402.9,97.8L399.2,95.1L400.8,94.1L392.8,91.6L397.8,98.3L398.2,96.4L402.0,99.1ZM422.9,97.8L419.0,95.2L420.7,94.2L412.7,91.8L417.8,98.4L418.1,96.5L421.9,99.1ZM442.8,97.8L438.9,95.2L440.6,94.2L432.5,91.9L437.7,98.5L438.0,96.6L441.9,99.1ZM462.7,97.8L458.8,95.3L460.4,94.2L452.3,92.2L457.7,98.6L458.0,96.7L461.9,99.1ZM482.7,97.8L478.7,95.4L480.3,94.3L472.1,92.4L477.7,98.7L477.9,96.8L481.8,99.1ZM502.6,97.8L498.6,95.5L500.2,94.3L491.9,92.6L497.6,98.8L497.8,96.8L501.8,99.1ZM522.5,97.7L518.5,95.5L520.0,94.4L511.8,92.8L517.6,98.9L517.7,96.9L521.8,99.2ZM542.5,97.7L538.4,95.6L539.9,94.4L531.7,92.9L537.5,98.9L537.6,97.0L541.7,99.2ZM562.4,97.7L558.3,95.6L559.8,94.4L551.5,93.0L557.4,99.0L557.5,97.0L561.7,99.2ZM582.4,97.7L578.2,95.7L579.7,94.4L571.4,93.1L577.4,99.0L577.5,97.1L581.6,99.2ZM602.3,97.7L598.2,95.7L599.7,94.5L591.3,93.2L597.4,99.1L597.4,97.1L601.6,99.2ZM622.2,97.7L618.1,95.7L619.6,94.5L611.3,93.3L617.3,99.1L617.4,97.2L621.6,99.2ZM642.2,97.7L638.0,95.8L639.5,94.5L631.2,93.4L637.3,99.1L637.3,97.2L641.5,99.2ZM662.1,97.7L657.6,95.7L659.1,94.4L650.7,93.4L657.0,99.0L657.0,97.1L661.5,99.2ZM682.1,97.7L677.1,95.5L678.5,94.2L670.2,93.3L676.5,98.9L676.4,97.0L681.4,99.2ZM702.0,97.7L697.8,95.9L699.2,94.6L690.8,93.8L697.2,99.3L697.1,97.4L701.4,99.2ZM722.0,97.7L717.7,95.9L719.1,94.6L710.7,93.9L717.1,99.4L717.1,97.4L721.3,99.2ZM741.9,97.7L737.1,95.8L738.5,94.5L730.1,93.9L736.6,99.2L736.5,97.3L741.3,99.2ZM761.8,97.7L755.4,95.2L756.7,93.9L748.4,93.4L754.9,98.6L754.8,96.7L761.3,99.2ZM781.8,97.7L775.2,95.3L776.6,93.9L768.2,93.5L774.8,98.7L774.7,96.8L781.2,99.2ZM801.7,97.7L795.2,95.3L796.5,93.9L788.1,93.6L794.8,98.7L794.6,96.8L801.2,99.2ZM821.7,97.7L815.1,95.4L816.4,94.0L808.0,93.7L814.7,98.8L814.5,96.9L821.1,99.2ZM841.6,97.7L835.9,95.7L837.3,94.3L828.9,94.1L835.6,99.2L835.4,97.2L841.1,99.2ZM861.6,97.7L857.2,96.2L858.5,94.8L850.1,94.6L856.8,99.6L856.6,97.7L861.0,99.2ZM143.7,117.9L139.2,112.6L141.0,112.0L133.9,107.6L137.1,115.3L138.0,113.6L142.5,118.9ZM163.7,117.9L159.1,112.6L161.0,112.0L153.8,107.6L157.1,115.4L157.9,113.6L162.4,118.9ZM183.6,117.9L179.0,112.6L180.9,112.1L173.7,107.7L177.0,115.4L177.8,113.7L182.4,118.9ZM203.5,117.9L198.9,112.6L200.8,112.1L193.5,107.8L196.9,115.5L197.7,113.7L202.4,118.9ZM223.5,117.9L218.8,112.7L220.6,112.1L213.4,107.9L216.8,115.5L217.6,113.8L222.3,118.9ZM243.4,117.9L238.7,112.7L240.5,112.1L233.2,108.0L236.8,115.6L237.5,113.8L242.3,118.9ZM263.4,117.8L258.5,112.8L260.4,112.2L253.0,108.2L256.7,115.7L257.4,113.9L262.2,119.0ZM283.3,117.8L278.4,112.9L280.2,112.2L272.7,108.4L276.6,115.8L277.2,114.0L282.2,119.0ZM303.3,117.8L298.2,113.0L300.0,112.3L292.5,108.6L296.5,116.0L297.1,114.1L302.1,119.0ZM323.2,117.8L318.0,113.1L319.8,112.3L312.2,108.8L316.4,116.1L316.9,114.3L322.1,119.0ZM343.1,117.8L337.8,113.2L339.6,112.4L331.8,109.1L336.2,116.3L336.8,114.4L342.1,119.0ZM363.1,117.8L357.7,113.4L359.4,112.6L351.6,109.5L356.2,116.5L356.7,114.7L362.0,119.0ZM383.0,117.8L378.8,114.5L380.5,113.6L372.6,110.8L377.4,117.7L377.8,115.8L382.0,119.0ZM402.9,117.8L399.2,115.0L400.8,114.1L392.9,111.5L397.8,118.2L398.2,116.3L402.0,119.0ZM422.9,117.7L419.0,115.1L420.7,114.1L412.7,111.7L417.8,118.3L418.1,116.4L421.9,119.1ZM442.8,117.7L438.9,115.2L440.6,114.2L432.5,111.9L437.7,118.4L438.0,116.5L441.9,119.1ZM462.7,117.7L458.8,115.3L460.4,114.2L452.3,112.1L457.7,118.5L458.0,116.6L461.9,119.1ZM482.7,117.7L478.7,115.3L480.3,114.2L472.1,112.3L477.7,118.6L477.9,116.7L481.8,119.1ZM502.6,117.7L498.6,115.4L500.2,114.3L491.9,112.5L497.6,118.7L497.8,116.8L501.8,119.1ZM522.5,117.7L518.5,115.5L520.0,114.3L511.8,112.7L517.6,118.8L517.7,116.9L521.8,119.1ZM542.5,117.7L538.4,115.5L539.9,114.3L531.6,112.9L537.5,118.9L537.6,116.9L541.7,119.1ZM562.4,117.7L558.2,115.5L559.7,114.3L551.4,112.9L557.3,118.9L557.4,116.9L561.7,119.1ZM582.4,117.7L578.2,115.6L579.7,114.4L571.4,113.1L577.4,119.0L577.5,117.1L581.6,119.1ZM602.3,117.7L598.1,115.7L599.6,114.4L591.3,113.3L597.4,119.0L597.4,117.1L601.6,119.1ZM622.2,117.7L618.1,115.7L619.5,114.5L611.2,113.4L617.3,119.1L617.4,117.2L621.6,119.1ZM642.2,117.7L638.0,115.7L639.4,114.5L631.1,113.5L637.3,119.1L637.3,117.2L641.5,119.1ZM662.1,117.7L657.6,115.7L659.1,114.4L650.7,113.5L657.0,119.1L657.0,117.1L661.5,119.1ZM682.1,117.7L677.7,115.8L679.1,114.5L670.8,113.7L677.1,119.2L677.1,117.3L681.4,119.1ZM702.0,117.7L697.7,115.9L699.1,114.6L690.8,113.9L697.2,119.3L697.1,117.4L701.4,119.1ZM721.9,117.7L717.6,116.0L719.0,114.6L710.6,114.0L717.1,119.4L717.0,117.4L721.4,119.1ZM741.9,117.7L737.4,115.9L738.7,114.6L730.3,114.1L736.9,119.4L736.8,117.4L741.3,119.1ZM761.8,117.6L755.5,115.3L756.8,113.9L748.4,113.6L755.1,118.7L754.9,116.8L761.3,119.2ZM781.8,117.6L775.5,115.4L776.9,114.0L768.5,113.8L775.2,118.9L775.0,116.9L781.2,119.2ZM801.7,117.6L796.0,115.7L797.3,114.3L788.9,114.1L795.6,119.1L795.4,117.2L801.2,119.2ZM821.7,117.6L815.8,115.7L817.1,114.2L808.7,114.1L815.5,119.1L815.3,117.2L821.1,119.2ZM841.6,117.6L836.6,116.0L837.9,114.6L829.5,114.5L836.3,119.4L836.1,117.5L841.1,119.2ZM861.5,117.6L857.1,116.2L858.4,114.8L850.1,114.7L856.9,119.6L856.6,117.7L861.1,119.2ZM143.7,137.8L139.5,132.9L141.3,132.3L134.2,127.9L137.4,135.7L138.2,133.9L142.5,138.9ZM163.7,137.8L159.1,132.5L160.9,132.0L153.8,127.6L157.1,135.3L157.9,133.6L162.4,138.9ZM183.6,137.8L179.0,132.6L180.8,132.0L173.6,127.7L177.0,135.4L177.8,133.6L182.4,138.9ZM203.5,137.8L198.9,132.6L200.7,132.0L193.5,127.8L196.9,135.4L197.7,133.7L202.4,138.9ZM223.5,137.8L218.8,132.7L220.6,132.1L213.3,127.9L216.8,135.5L217.6,133.7L222.3,138.9ZM243.4,137.8L238.6,132.7L240.5,132.1L233.1,128.0L236.7,135.6L237.5,133.8L242.3,138.9ZM263.4,137.8L258.5,132.8L260.3,132.1L252.9,128.2L256.7,135.7L257.4,133.9L262.2,138.9ZM283.3,137.8L278.4,132.9L280.2,132.2L272.7,128.3L276.6,135.8L277.2,134.0L282.2,138.9ZM303.3,137.8L298.2,132.9L300.0,132.2L292.4,128.6L296.5,135.9L297.1,134.1L302.1,138.9ZM323.2,137.8L318.0,133.1L319.8,132.3L312.1,128.8L316.3,136.1L316.9,134.2L322.1,138.9ZM343.1,137.7L337.8,133.2L339.6,132.4L331.8,129.1L336.2,136.3L336.8,134.4L342.1,139.0ZM363.1,137.7L358.3,133.9L360.0,133.0L352.2,130.0L356.8,137.0L357.3,135.1L362.0,139.0ZM383.0,137.7L379.2,134.9L380.9,133.9L373.0,131.1L377.8,138.0L378.3,136.1L382.0,139.0ZM402.9,137.7L399.2,135.0L400.8,134.0L392.9,131.4L397.9,138.2L398.2,136.3L402.0,139.0ZM422.9,137.7L419.0,135.1L420.7,134.1L412.7,131.7L417.8,138.3L418.1,136.4L421.9,139.0ZM442.8,137.7L438.9,135.1L440.6,134.1L432.5,131.9L437.7,138.4L438.0,136.5L441.9,139.0ZM462.7,137.7L458.8,135.2L460.4,134.1L452.3,132.0L457.7,138.5L458.0,136.6L461.9,139.0ZM482.7,137.7L478.7,135.3L480.3,134.2L472.1,132.2L477.7,138.6L477.9,136.6L481.8,139.0ZM502.6,137.7L498.6,135.3L500.2,134.2L492.0,132.4L497.6,138.7L497.8,136.7L501.8,139.0ZM522.5,137.6L518.5,135.4L520.0,134.3L511.8,132.6L517.6,138.7L517.7,136.8L521.8,139.1ZM542.5,137.6L538.4,135.5L539.9,134.3L531.6,132.8L537.5,138.8L537.6,136.9L541.7,139.1ZM562.4,137.6L558.3,135.5L559.8,134.3L551.5,133.0L557.5,138.9L557.6,137.0L561.7,139.1ZM582.4,137.6L578.2,135.6L579.7,134.4L571.4,133.1L577.4,139.0L577.5,137.0L581.6,139.1ZM602.3,137.6L598.1,135.6L599.6,134.4L591.3,133.3L597.4,139.0L597.4,137.1L601.6,139.1ZM622.2,137.6L618.0,135.7L619.5,134.4L611.2,133.4L617.3,139.1L617.4,137.1L621.6,139.1ZM642.2,137.6L637.3,135.5L638.8,134.2L630.4,133.3L636.7,138.9L636.7,136.9L641.5,139.1ZM662.1,137.6L657.6,135.7L659.0,134.4L650.6,133.5L657.0,139.1L656.9,137.1L661.5,139.1ZM682.1,137.6L677.8,135.8L679.2,134.5L670.8,133.8L677.2,139.2L677.1,137.3L681.4,139.1ZM702.0,137.6L697.7,135.9L699.1,134.6L690.7,134.0L697.2,139.3L697.1,137.4L701.4,139.1ZM721.9,137.6L717.6,136.0L719.0,134.6L710.6,134.1L717.2,139.4L717.0,137.4L721.4,139.1ZM741.9,137.6L737.5,136.0L738.8,134.6L730.4,134.3L737.1,139.4L736.9,137.5L741.3,139.1ZM761.8,137.6L756.1,135.6L757.4,134.2L749.0,134.0L755.7,139.0L755.5,137.1L761.3,139.1ZM781.8,137.6L776.7,135.9L778.0,134.5L769.6,134.3L776.4,139.3L776.2,137.4L781.2,139.1ZM801.7,137.6L797.3,136.1L798.6,134.7L790.2,134.6L797.0,139.6L796.8,137.7L801.2,139.1ZM821.6,137.6L817.2,136.2L818.5,134.7L810.1,134.7L817.0,139.6L816.7,137.7L821.2,139.1ZM841.6,137.6L837.2,136.2L838.5,134.8L830.1,134.8L836.9,139.6L836.7,137.7L841.1,139.1ZM861.5,137.6L857.1,136.2L858.4,134.8L850.0,134.8L856.9,139.7L856.6,137.7L861.1,139.1ZM143.7,157.8L139.4,152.9L141.3,152.3L134.1,147.9L137.4,155.7L138.2,153.9L142.5,158.8ZM163.7,157.8L159.0,152.5L160.9,152.0L153.7,147.6L157.0,155.3L157.8,153.6L162.4,158.8ZM183.6,157.8L179.0,152.5L180.8,152.0L173.6,147.7L177.0,155.4L177.8,153.6L182.4,158.8ZM203.5,157.8L198.9,152.6L200.7,152.0L193.4,147.8L196.9,155.4L197.7,153.7L202.4,158.8ZM223.5,157.8L218.7,152.6L220.6,152.0L213.3,147.9L216.8,155.5L217.6,153.7L222.3,158.8ZM243.4,157.7L238.6,152.7L240.4,152.1L233.1,148.0L236.7,155.6L237.5,153.8L242.3,158.9ZM263.4,157.7L258.5,152.8L260.3,152.1L252.9,148.2L256.6,155.7L257.3,153.9L262.2,158.9ZM283.3,157.7L278.3,152.8L280.1,152.1L272.6,148.4L276.5,155.8L277.2,154.0L282.2,158.9ZM303.2,157.7L298.2,152.9L300.0,152.2L292.4,148.6L296.4,155.9L297.1,154.1L302.2,158.9ZM323.2,157.7L318.0,153.0L319.8,152.3L312.1,148.8L316.3,156.1L316.9,154.2L322.1,158.9ZM343.1,157.7L338.0,153.3L339.7,152.5L332.0,149.2L336.4,156.4L336.9,154.5L342.1,158.9ZM363.1,157.7L359.2,154.6L360.9,153.7L353.1,150.7L357.7,157.7L358.2,155.9L362.0,158.9ZM383.0,157.7L379.3,154.9L381.0,154.0L373.0,151.2L377.9,158.0L378.3,156.2L382.0,158.9ZM402.9,157.6L399.1,155.0L400.8,154.0L392.8,151.4L397.8,158.2L398.2,156.3L402.0,159.0ZM422.8,157.6L419.0,155.0L420.7,154.0L412.6,151.7L417.8,158.3L418.1,156.4L422.0,159.0ZM442.8,157.6L438.9,155.1L440.5,154.1L432.5,151.8L437.7,158.3L438.0,156.4L441.9,159.0ZM462.7,157.6L458.8,155.2L460.4,154.1L452.3,152.0L457.7,158.4L458.0,156.5L461.9,159.0ZM482.7,157.6L478.7,155.2L480.3,154.1L472.1,152.2L477.7,158.5L477.9,156.6L481.8,159.0ZM502.6,157.6L498.6,155.3L500.2,154.2L492.0,152.4L497.6,158.6L497.8,156.7L501.8,159.0ZM522.5,157.6L518.5,155.4L520.0,154.2L511.8,152.6L517.6,158.7L517.7,156.8L521.8,159.0ZM542.5,157.6L538.4,155.4L539.9,154.2L531.6,152.8L537.5,158.8L537.6,156.8L541.7,159.0ZM562.4,157.6L558.3,155.5L559.8,154.3L551.5,153.0L557.5,158.9L557.6,156.9L561.7,159.0ZM582.4,157.6L578.2,155.6L579.7,154.3L571.4,153.1L577.4,158.9L577.5,157.0L581.6,159.0ZM602.3,157.6L598.1,155.6L599.6,154.4L591.2,153.3L597.4,159.0L597.4,157.1L601.6,159.0ZM622.2,157.6L618.0,155.7L619.5,154.4L611.1,153.4L617.4,159.1L617.4,157.1L621.6,159.0ZM642.2,157.6L637.8,155.7L639.2,154.4L630.9,153.5L637.2,159.1L637.1,157.1L641.5,159.0ZM662.1,157.6L657.8,155.8L659.3,154.5L650.9,153.7L657.3,159.2L657.2,157.2L661.5,159.0ZM682.0,157.6L677.8,155.8L679.2,154.5L670.8,153.9L677.2,159.2L677.2,157.3L681.5,159.0ZM702.0,157.6L697.7,155.9L699.1,154.5L690.7,154.0L697.2,159.3L697.1,157.4L701.4,159.0ZM721.9,157.5L717.6,156.0L718.9,154.6L710.6,154.2L717.2,159.4L717.0,157.5L721.4,159.1ZM741.9,157.5L737.5,156.0L738.8,154.6L730.4,154.4L737.1,159.4L737.0,157.5L741.3,159.1ZM761.8,157.5L757.3,156.0L758.6,154.6L750.2,154.5L757.0,159.5L756.8,157.5L761.3,159.1ZM781.7,157.5L777.2,156.1L778.5,154.7L770.1,154.6L777.0,159.5L776.7,157.6L781.3,159.1ZM801.7,157.5L797.3,156.1L798.6,154.7L790.2,154.8L797.0,159.6L796.8,157.7L801.2,159.1ZM821.6,157.5L817.2,156.2L818.5,154.7L810.1,154.8L817.0,159.6L816.7,157.7L821.2,159.1ZM841.6,157.5L837.2,156.2L838.4,154.7L830.0,154.9L836.9,159.6L836.7,157.7L841.1,159.1ZM861.5,157.5L857.1,156.2L858.4,154.7L850.0,154.9L856.9,159.7L856.6,157.7L861.1,159.1ZM143.7,177.7L139.2,172.6L141.1,172.1L133.8,167.7L137.2,175.4L138.0,173.7L142.5,178.8ZM163.6,177.7L159.0,172.5L160.8,171.9L153.6,167.6L157.0,175.3L157.8,173.6L162.5,178.8ZM183.6,177.7L178.9,172.5L180.8,171.9L173.5,167.7L177.0,175.4L177.7,173.6L182.4,178.8ZM203.5,177.7L198.8,172.6L200.6,172.0L193.3,167.8L196.9,175.4L197.6,173.6L202.4,178.8ZM223.5,177.7L218.7,172.6L220.5,172.0L213.2,167.9L216.8,175.5L217.5,173.7L222.3,178.8ZM243.4,177.7L238.6,172.7L240.4,172.0L233.0,168.1L236.7,175.6L237.4,173.8L242.3,178.8ZM263.4,177.7L258.4,172.7L260.2,172.1L252.8,168.2L256.6,175.7L257.3,173.9L262.2,178.8ZM283.3,177.7L278.3,172.8L280.1,172.1L272.5,168.4L276.5,175.8L277.2,174.0L282.2,178.8ZM303.2,177.7L298.1,172.9L299.9,172.2L292.3,168.6L296.4,175.9L297.0,174.1L302.2,178.8ZM323.2,177.7L317.9,173.0L319.7,172.2L312.0,168.9L316.3,176.1L316.9,174.2L322.1,178.8ZM343.1,177.6L338.5,173.8L340.3,173.0L332.5,169.8L337.0,176.9L337.5,175.0L342.1,178.9ZM363.0,177.6L359.4,174.8L361.1,173.9L353.2,171.0L357.9,177.9L358.4,176.0L362.1,178.9ZM383.0,177.6L379.2,174.9L380.9,173.9L372.9,171.3L377.9,178.1L378.3,176.2L382.0,178.9ZM402.9,177.6L399.1,175.0L400.8,174.0L392.7,171.5L397.8,178.2L398.2,176.3L402.0,178.9ZM422.8,177.6L419.0,175.0L420.6,174.0L412.5,171.7L417.8,178.3L418.1,176.4L422.0,178.9ZM442.8,177.6L438.9,175.1L440.5,174.0L432.4,171.8L437.7,178.3L438.0,176.4L441.9,178.9ZM462.7,177.6L458.8,175.1L460.4,174.1L452.3,172.0L457.7,178.4L458.0,176.5L461.9,178.9ZM482.7,177.6L478.7,175.2L480.3,174.1L472.1,172.1L477.7,178.5L477.9,176.5L481.8,178.9ZM502.6,177.6L498.6,175.2L500.2,174.1L492.0,172.3L497.6,178.5L497.8,176.6L501.8,178.9ZM522.5,177.6L518.5,175.3L520.1,174.2L511.8,172.5L517.6,178.6L517.7,176.7L521.8,178.9ZM542.5,177.5L538.4,175.4L540.0,174.2L531.7,172.7L537.6,178.7L537.7,176.8L541.7,179.0ZM562.4,177.5L558.8,175.7L560.3,174.5L552.0,173.2L558.0,179.1L558.1,177.1L561.7,179.0ZM582.3,177.5L578.4,175.6L579.9,174.4L571.6,173.2L577.7,179.0L577.7,177.1L581.7,179.0ZM602.3,177.5L598.1,175.6L599.6,174.3L591.2,173.3L597.4,179.0L597.4,177.0L601.6,179.0ZM622.2,177.5L617.9,175.6L619.3,174.3L611.0,173.4L617.3,179.0L617.2,177.0L621.6,179.0ZM642.2,177.5L637.9,175.7L639.3,174.4L631.0,173.6L637.3,179.1L637.3,177.1L641.5,179.0ZM662.1,177.5L657.8,175.7L659.2,174.4L650.9,173.7L657.3,179.2L657.2,177.2L661.5,179.0ZM682.0,177.5L677.7,175.8L679.1,174.5L670.8,173.9L677.3,179.2L677.2,177.3L681.5,179.0ZM702.0,177.5L697.7,175.9L699.0,174.5L690.6,174.1L697.2,179.3L697.1,177.4L701.4,179.0ZM721.9,177.5L717.6,175.9L718.9,174.5L710.5,174.3L717.2,179.4L717.0,177.4L721.4,179.0ZM741.9,177.5L737.5,176.0L738.8,174.6L730.4,174.4L737.2,179.4L737.0,177.5L741.3,179.0ZM761.8,177.5L757.4,176.1L758.7,174.6L750.3,174.6L757.1,179.5L756.9,177.6L761.3,179.0ZM781.7,177.5L777.3,176.1L778.6,174.7L770.2,174.7L777.1,179.6L776.8,177.6L781.3,179.0ZM801.7,177.5L797.3,176.1L798.5,174.7L790.1,174.8L797.0,179.6L796.8,177.7L801.2,179.0ZM821.6,177.5L817.2,176.2L818.5,174.7L810.1,174.9L817.0,179.6L816.7,177.7L821.2,179.0ZM841.6,177.5L837.1,176.2L838.4,174.7L830.0,174.9L837.0,179.6L836.7,177.7L841.1,179.0ZM861.5,177.5L857.1,176.2L858.3,174.7L849.9,174.9L856.9,179.6L856.6,177.7L861.1,179.0ZM143.7,197.7L139.1,192.5L140.9,191.9L133.6,187.7L137.1,195.3L137.9,193.6L142.5,198.7ZM163.6,197.7L158.9,192.5L160.8,191.9L153.5,187.7L157.0,195.3L157.8,193.6L162.5,198.7ZM183.6,197.7L178.9,192.5L180.7,191.9L173.4,187.8L176.9,195.4L177.7,193.6L182.4,198.7ZM203.5,197.7L198.8,192.5L200.6,191.9L193.3,187.8L196.9,195.4L197.6,193.6L202.4,198.7ZM223.5,197.6L218.6,192.6L220.5,192.0L213.1,187.9L216.8,195.5L217.5,193.7L222.3,198.8ZM243.4,197.6L238.5,192.7L240.3,192.0L232.9,188.1L236.7,195.6L237.4,193.8L242.3,198.8ZM263.4,197.6L258.4,192.7L260.2,192.0L252.7,188.3L256.6,195.7L257.2,193.9L262.2,198.8ZM283.3,197.6L278.2,192.8L280.0,192.1L272.4,188.5L276.5,195.8L277.1,194.0L282.2,198.8ZM303.2,197.6L298.0,192.9L299.8,192.2L292.2,188.7L296.4,196.0L297.0,194.1L302.2,198.8ZM323.2,197.6L318.1,193.2L319.8,192.4L312.1,189.2L316.5,196.3L317.0,194.5L322.1,198.8ZM343.1,197.6L339.2,194.5L341.0,193.6L333.1,190.6L337.8,197.6L338.2,195.7L342.1,198.8ZM363.0,197.6L359.3,194.8L361.0,193.9L353.1,191.2L358.0,198.0L358.4,196.1L362.1,198.8ZM383.0,197.5L379.1,194.9L380.8,193.9L372.7,191.5L377.9,198.2L378.2,196.2L382.0,198.9ZM402.9,197.5L399.0,195.0L400.6,194.0L392.5,191.8L397.8,198.3L398.1,196.3L402.0,198.9ZM422.8,197.5L418.9,195.0L420.5,194.0L412.4,191.9L417.8,198.3L418.1,196.4L422.0,198.9ZM442.8,197.5L438.9,195.1L440.5,194.0L432.3,191.9L437.7,198.3L438.0,196.4L441.9,198.9ZM462.7,197.5L458.8,195.1L460.4,194.0L452.2,192.0L457.7,198.4L457.9,196.5L461.9,198.9ZM482.7,197.5L478.7,195.1L480.3,194.0L472.1,192.1L477.7,198.4L477.9,196.5L481.8,198.9ZM502.6,197.5L498.6,195.2L500.2,194.1L492.0,192.3L497.6,198.5L497.8,196.6L501.8,198.9ZM522.5,197.5L519.2,195.6L520.7,194.5L512.5,192.8L518.2,198.9L518.4,197.0L521.8,198.9ZM542.5,197.5L540.9,196.7L542.5,195.5L534.2,194.0L540.1,200.0L540.2,198.1L541.7,198.9ZM562.4,197.5L561.7,197.2L563.1,196.1L555.5,194.8L561.0,200.3L561.1,198.5L561.7,198.9ZM582.3,197.5L581.6,197.1L583.1,195.9L574.9,194.7L580.9,200.5L580.9,198.6L581.7,198.9ZM602.3,197.5L600.4,196.6L601.8,195.3L593.5,194.3L599.7,200.0L599.7,198.0L601.6,198.9ZM622.2,197.5L619.6,196.3L621.1,195.0L612.7,194.1L619.0,199.7L619.0,197.8L621.6,198.9ZM642.2,197.5L638.5,195.9L640.0,194.6L631.6,193.8L637.9,199.3L637.9,197.4L641.5,198.9ZM662.1,197.5L658.0,195.8L659.4,194.4L651.0,193.8L657.5,199.2L657.4,197.2L661.5,198.9ZM682.0,197.5L678.2,195.9L679.6,194.6L671.2,194.0L677.7,199.3L677.6,197.4L681.5,198.9ZM702.0,197.5L699.5,196.5L700.9,195.1L692.5,194.7L699.1,199.9L698.9,198.0L701.4,198.9ZM721.9,197.4L718.0,196.1L719.3,194.7L710.9,194.4L717.6,199.5L717.5,197.6L721.4,199.0ZM741.9,197.4L737.5,196.0L738.8,194.6L730.4,194.4L737.2,199.4L737.0,197.5L741.3,199.0ZM761.8,197.4L757.4,196.0L758.7,194.6L750.3,194.6L757.1,199.5L756.9,197.6L761.3,199.0ZM781.7,197.4L777.3,196.1L778.6,194.6L770.2,194.8L777.1,199.5L776.8,197.6L781.3,199.0ZM801.7,197.4L797.2,196.1L798.5,194.7L790.1,194.8L797.1,199.6L796.8,197.7L801.2,199.0ZM821.6,197.4L817.2,196.1L818.4,194.7L810.0,194.9L817.0,199.6L816.7,197.7L821.2,199.0ZM841.6,197.4L837.1,196.2L838.4,194.7L830.0,194.9L837.0,199.6L836.7,197.7L841.1,199.0ZM861.5,197.4L857.1,196.2L858.3,194.7L849.9,195.0L856.9,199.6L856.6,197.7L861.1,199.0ZM143.7,217.6L138.9,212.5L140.8,211.9L133.5,207.7L137.0,215.3L137.8,213.6L142.5,218.7ZM163.6,217.6L158.9,212.5L160.7,211.9L153.4,207.8L157.0,215.4L157.7,213.6L162.5,218.7ZM183.6,217.6L178.8,212.5L180.6,211.9L173.3,207.8L176.9,215.4L177.6,213.6L182.4,218.7ZM203.5,217.6L198.7,212.5L200.5,211.9L193.2,207.9L196.8,215.4L197.5,213.6L202.4,218.7ZM223.5,217.6L218.6,212.6L220.4,211.9L213.0,208.0L216.7,215.5L217.5,213.7L222.3,218.7ZM243.4,217.6L238.5,212.6L240.3,212.0L232.8,208.1L236.7,215.6L237.3,213.8L242.3,218.7ZM263.4,217.6L258.3,212.7L260.1,212.0L252.6,208.3L256.6,215.7L257.2,213.9L262.2,218.7ZM283.3,217.6L278.1,212.8L279.9,212.1L272.3,208.6L276.5,215.9L277.1,214.0L282.2,218.7ZM303.2,217.5L298.0,213.0L299.7,212.2L292.0,208.9L296.4,216.1L296.9,214.2L302.2,218.8ZM323.2,217.5L319.0,214.2L320.8,213.3L312.9,210.3L317.6,217.3L318.0,215.5L322.1,218.8ZM343.1,217.5L339.4,214.8L341.1,213.8L333.1,211.1L338.0,217.9L338.4,216.0L342.1,218.8ZM363.0,217.5L359.2,214.9L360.8,213.9L352.8,211.5L358.0,218.1L358.3,216.2L362.1,218.8ZM382.9,217.5L379.0,215.0L380.6,214.0L372.5,211.9L377.9,218.3L378.2,216.4L382.1,218.8ZM402.9,217.5L398.9,215.1L400.5,214.0L392.3,212.1L397.9,218.4L398.1,216.5L402.0,218.8ZM422.8,217.5L418.8,215.1L420.4,214.0L412.2,212.1L417.8,218.4L418.0,216.5L422.0,218.8ZM442.8,217.5L439.0,215.2L440.6,214.1L432.4,212.2L437.9,218.5L438.2,216.6L441.9,218.8ZM462.7,217.5L460.1,215.9L461.7,214.8L453.5,212.8L459.0,219.2L459.2,217.2L461.9,218.8ZM482.7,217.5L480.9,216.4L482.5,215.3L474.3,213.4L479.9,219.7L480.1,217.8L481.8,218.8ZM502.6,217.5L500.8,216.4L502.4,215.3L494.2,213.5L499.8,219.7L500.0,217.8L501.8,218.8ZM522.5,217.5L521.8,217.1L523.4,215.9L515.2,214.2L520.9,220.4L521.1,218.5L521.8,218.8ZM542.4,217.5L541.8,217.2L543.2,216.1L535.7,214.7L541.0,220.2L541.1,218.4L541.8,218.8ZM562.4,217.4L561.7,217.1L563.2,215.9L555.0,214.5L560.9,220.4L561.0,218.5L561.7,218.9ZM582.4,217.4L581.0,216.8L582.5,215.5L574.2,214.3L580.2,220.1L580.3,218.2L581.6,218.9ZM602.3,217.4L600.8,216.7L602.3,215.5L593.9,214.4L600.1,220.1L600.1,218.2L601.6,218.9ZM622.2,217.4L620.7,216.7L622.1,215.4L613.8,214.5L620.0,220.1L620.0,218.2L621.6,218.9ZM642.2,217.4L640.7,216.8L642.2,215.5L633.8,214.6L640.1,220.2L640.1,218.3L641.5,218.9ZM662.1,217.4L661.4,217.1L662.8,215.8L654.5,215.1L660.8,220.5L660.8,218.6L661.5,218.9ZM682.0,217.4L681.3,217.1L682.7,215.8L674.4,215.2L680.8,220.5L680.7,218.6L681.5,218.9ZM702.0,217.5L701.3,217.2L702.5,216.0L695.0,215.6L700.9,220.3L700.8,218.6L701.4,218.8ZM721.9,217.4L720.6,216.9L722.0,215.6L713.6,215.3L720.3,220.4L720.1,218.5L721.4,218.9ZM741.9,217.4L737.9,216.1L739.2,214.7L730.8,214.6L737.6,219.5L737.4,217.6L741.3,218.9ZM761.8,217.4L757.4,216.0L758.7,214.6L750.3,214.6L757.1,219.4L756.9,217.5L761.3,218.9ZM781.7,217.4L777.3,216.0L778.6,214.6L770.2,214.7L777.1,219.5L776.8,217.6L781.3,218.9ZM801.7,217.4L797.2,216.1L798.5,214.6L790.1,214.8L797.1,219.5L796.8,217.6L801.2,218.9ZM821.6,217.4L817.2,216.1L818.4,214.6L810.0,214.9L817.0,219.5L816.7,217.6L821.2,218.9ZM841.6,217.4L837.1,216.1L838.4,214.6L830.0,214.9L837.0,219.6L836.7,217.6L841.1,218.9ZM861.5,217.4L857.1,216.1L858.3,214.6L849.9,214.9L856.9,219.6L856.6,217.7L861.1,218.9ZM143.7,237.5L138.8,232.5L140.7,231.9L133.3,227.9L137.0,235.4L137.7,233.6L142.5,238.7ZM163.6,237.5L158.8,232.5L160.6,231.9L153.2,227.9L156.9,235.4L157.6,233.6L162.5,238.7ZM183.6,237.5L178.7,232.5L180.6,231.9L173.2,227.9L176.9,235.4L177.6,233.6L182.4,238.7ZM203.5,237.5L198.7,232.5L200.5,231.9L193.1,227.9L196.8,235.4L197.5,233.6L202.4,238.7ZM223.5,237.5L218.6,232.6L220.4,231.9L212.9,228.0L216.7,235.5L217.4,233.7L222.3,238.7ZM243.4,237.5L238.4,232.6L240.2,231.9L232.7,228.2L236.6,235.6L237.3,233.8L242.3,238.7ZM263.3,237.5L258.3,232.7L260.1,232.0L252.5,228.4L256.5,235.7L257.2,233.9L262.3,238.7ZM283.3,237.5L278.1,232.9L279.8,232.1L272.2,228.6L276.4,235.9L277.0,234.0L282.2,238.7ZM303.2,237.5L298.2,233.3L300.0,232.5L292.2,229.3L296.7,236.4L297.2,234.6L302.2,238.7ZM323.1,237.5L319.4,234.6L321.1,233.7L313.2,230.9L318.0,237.8L318.4,235.9L322.2,238.7ZM343.1,237.4L340.9,235.9L342.5,234.9L334.5,232.5L339.6,239.2L339.9,237.3L342.1,238.8ZM363.0,237.4L361.3,236.4L362.9,235.3L354.7,233.3L360.2,239.7L360.5,237.8L362.1,238.8ZM382.9,237.4L379.0,235.2L380.5,234.0L372.3,232.4L378.0,238.5L378.2,236.6L382.1,238.8ZM402.8,237.4L398.9,235.2L400.4,234.1L392.2,232.4L398.0,238.5L398.1,236.6L402.1,238.8ZM422.8,237.4L419.5,235.5L421.0,234.4L412.8,232.7L418.5,238.8L418.7,236.9L422.0,238.8ZM442.8,237.4L440.8,236.3L442.4,235.2L434.2,233.4L439.9,239.6L440.0,237.7L441.9,238.8ZM462.7,237.4L461.6,236.7L463.1,235.6L454.9,233.8L460.5,240.0L460.7,238.1L461.9,238.8ZM482.7,237.4L481.4,236.7L482.9,235.5L474.7,233.7L480.4,240.0L480.6,238.0L481.8,238.8ZM502.6,237.4L501.2,236.6L502.8,235.5L494.6,233.7L500.2,239.9L500.4,238.0L501.8,238.8ZM522.5,237.4L521.4,236.8L523.0,235.6L514.7,233.9L520.5,240.1L520.6,238.2L521.8,238.8ZM542.5,237.4L541.5,236.9L543.0,235.7L534.8,234.1L540.6,240.2L540.7,238.3L541.7,238.8ZM562.4,237.4L560.9,236.6L562.5,235.4L554.2,234.0L560.1,240.0L560.2,238.0L561.7,238.8ZM582.4,237.4L580.9,236.6L582.4,235.4L574.1,234.1L580.1,240.0L580.2,238.1L581.6,238.8ZM602.3,237.4L600.8,236.6L602.3,235.4L593.9,234.2L600.0,240.0L600.1,238.1L601.6,238.8ZM622.2,237.4L620.7,236.6L622.1,235.4L613.8,234.3L620.0,240.0L620.0,238.1L621.6,238.8ZM642.2,237.4L640.8,236.8L642.3,235.5L633.9,234.6L640.2,240.2L640.2,238.2L641.5,238.8ZM662.1,237.4L661.4,237.1L662.8,235.8L654.6,235.0L660.8,240.4L660.8,238.5L661.5,238.8ZM682.0,237.4L681.4,237.2L682.6,236.0L675.1,235.5L680.9,240.2L680.8,238.5L681.5,238.8ZM702.0,237.4L701.3,237.2L702.5,236.0L695.1,235.6L700.9,240.2L700.8,238.5L701.4,238.8ZM721.9,237.4L721.2,237.2L722.4,236.0L714.9,235.7L720.9,240.2L720.7,238.5L721.4,238.8ZM741.9,237.3L740.3,236.8L741.6,235.4L733.2,235.3L739.9,240.2L739.7,238.3L741.3,238.9ZM761.8,237.3L757.4,235.9L758.7,234.5L750.3,234.5L757.2,239.4L756.9,237.5L761.3,238.9ZM781.7,237.3L777.3,236.0L778.6,234.5L770.2,234.6L777.1,239.4L776.8,237.5L781.3,238.9ZM801.7,237.3L797.2,236.0L798.5,234.6L790.1,234.7L797.1,239.5L796.8,237.6L801.2,238.9ZM821.6,237.3L817.2,236.0L818.4,234.6L810.0,234.8L817.0,239.5L816.7,237.6L821.2,238.9ZM841.6,237.3L837.1,236.1L838.4,234.6L830.0,234.8L837.0,239.5L836.7,237.6L841.1,238.9ZM861.5,237.3L857.1,236.1L858.3,234.6L849.9,234.9L856.9,239.5L856.6,237.6L861.1,238.9ZM143.7,257.5L138.7,252.5L140.5,251.9L133.1,248.0L136.9,255.5L137.6,253.7L142.5,258.6ZM163.6,257.5L158.7,252.5L160.5,251.9L153.1,248.0L156.9,255.5L157.6,253.6L162.5,258.6ZM183.6,257.5L178.7,252.5L180.5,251.8L173.0,248.0L176.8,255.4L177.5,253.6L182.4,258.6ZM203.5,257.5L198.6,252.5L200.4,251.9L193.0,248.0L196.8,255.5L197.5,253.7L202.4,258.6ZM223.5,257.5L218.5,252.6L220.3,251.9L212.8,248.0L216.7,255.5L217.4,253.7L222.3,258.6ZM243.4,257.5L238.4,252.6L240.2,251.9L232.7,248.2L236.6,255.6L237.3,253.8L242.3,258.6ZM263.3,257.5L258.2,252.7L260.0,252.0L252.4,248.4L256.5,255.7L257.1,253.9L262.3,258.6ZM283.3,257.4L278.7,253.4L280.4,252.6L272.7,249.3L277.1,256.5L277.6,254.6L282.2,258.7ZM303.2,257.4L299.4,254.3L301.1,253.5L293.3,250.4L297.9,257.5L298.4,255.6L302.2,258.7ZM323.1,257.4L319.4,254.7L321.1,253.7L313.1,251.1L318.1,257.9L318.5,256.0L322.2,258.7ZM343.0,257.4L341.5,256.4L343.1,255.3L335.0,253.1L340.3,259.6L340.6,257.7L342.2,258.7ZM362.9,257.4L362.3,257.0L363.8,255.8L355.6,254.1L361.3,260.3L361.5,258.3L362.2,258.7ZM382.9,257.3L379.6,255.6L381.2,254.5L372.9,253.0L378.8,259.0L378.9,257.1L382.1,258.8ZM402.8,257.3L401.9,256.8L403.4,255.6L395.1,254.2L401.0,260.2L401.1,258.2L402.1,258.8ZM422.8,257.4L422.1,257.0L423.6,255.8L415.5,254.3L421.2,260.3L421.3,258.4L422.0,258.7ZM442.7,257.4L442.1,257.0L443.6,255.9L435.6,254.2L441.1,260.2L441.3,258.3L442.0,258.7ZM462.7,257.4L462.0,257.0L463.5,256.0L455.8,254.3L461.1,260.1L461.3,258.3L461.9,258.7ZM482.6,257.4L482.0,257.0L483.5,256.0L475.8,254.3L481.0,260.1L481.2,258.3L481.9,258.7ZM502.6,257.4L501.9,257.0L503.4,256.0L495.8,254.3L501.0,260.1L501.2,258.3L501.8,258.7ZM522.5,257.4L521.9,257.1L523.3,256.1L515.9,254.5L521.0,260.0L521.2,258.3L521.8,258.7ZM542.4,257.4L541.8,257.1L543.2,256.1L535.9,254.6L541.0,260.0L541.1,258.3L541.8,258.7ZM562.4,257.4L561.8,257.1L563.1,256.0L555.7,254.6L561.0,260.1L561.1,258.3L561.7,258.7ZM582.3,257.4L581.7,257.1L583.1,256.0L575.6,254.7L580.9,260.1L581.0,258.4L581.7,258.7ZM602.3,257.4L601.6,257.1L603.0,255.9L595.3,254.8L600.9,260.2L601.0,258.4L601.6,258.7ZM622.2,257.3L621.5,257.0L623.0,255.7L614.7,254.6L620.8,260.4L620.8,258.4L621.6,258.8ZM642.2,257.3L641.1,256.8L642.6,255.6L634.2,254.6L640.4,260.2L640.4,258.3L641.5,258.8ZM662.1,257.3L661.4,257.0L662.8,255.8L654.6,255.0L660.8,260.3L660.8,258.5L661.5,258.8ZM682.0,257.4L681.4,257.1L682.6,255.9L675.2,255.4L680.9,260.2L680.8,258.4L681.5,258.7ZM702.0,257.4L701.3,257.1L702.5,255.9L695.1,255.5L700.9,260.2L700.8,258.5L701.4,258.7ZM721.9,257.4L721.2,257.1L722.4,255.9L715.0,255.6L720.9,260.2L720.7,258.5L721.4,258.7ZM741.9,257.3L741.1,257.0L742.4,255.6L734.1,255.5L740.8,260.5L740.6,258.5L741.3,258.8ZM761.8,257.3L757.5,255.9L758.8,254.5L750.4,254.4L757.2,259.3L757.0,257.4L761.3,258.8ZM781.7,257.3L777.3,255.9L778.6,254.5L770.2,254.5L777.1,259.4L776.8,257.4L781.3,258.8ZM801.7,257.3L797.2,256.0L798.5,254.5L790.1,254.7L797.1,259.4L796.8,257.5L801.2,258.8ZM821.6,257.3L817.2,256.0L818.5,254.5L810.1,254.7L817.0,259.4L816.7,257.5L821.2,258.8ZM841.6,257.3L837.1,256.0L838.4,254.5L830.0,254.8L837.0,259.4L836.7,257.5L841.1,258.8ZM861.5,257.3L857.1,256.0L858.3,254.5L849.9,254.8L856.9,259.5L856.6,257.6L861.1,258.8ZM143.7,277.4L138.6,272.6L140.4,271.9L132.9,268.1L136.9,275.5L137.5,273.7L142.5,278.6ZM163.6,277.4L158.6,272.6L160.4,271.8L152.9,268.1L156.8,275.5L157.5,273.7L162.5,278.6ZM183.6,277.4L178.6,272.5L180.4,271.8L172.9,268.1L176.8,275.5L177.5,273.7L182.4,278.6ZM203.5,277.4L198.5,272.5L200.3,271.8L192.8,268.0L196.7,275.5L197.4,273.7L202.4,278.6ZM223.5,277.4L218.5,272.5L220.3,271.8L212.8,268.1L216.7,275.5L217.3,273.7L222.3,278.6ZM243.4,277.4L238.3,272.6L240.1,271.9L232.6,268.2L236.6,275.6L237.2,273.8L242.3,278.6ZM263.3,277.4L258.5,273.0L260.2,272.2L252.6,268.7L256.8,276.0L257.4,274.1L262.3,278.6ZM283.3,277.4L279.7,274.3L281.4,273.5L273.7,270.2L278.1,277.4L278.6,275.5L282.2,278.6ZM303.2,277.4L299.6,274.5L301.3,273.6L293.4,270.7L298.1,277.6L298.6,275.8L302.2,278.6ZM323.1,277.3L319.3,274.7L321.0,273.7L313.0,271.2L318.1,277.9L318.4,276.0L322.2,278.7ZM343.0,277.3L339.9,275.4L341.5,274.3L333.4,272.2L338.8,278.6L339.0,276.7L342.2,278.7ZM362.9,277.3L360.8,276.1L362.4,275.0L354.2,273.3L359.9,279.4L360.1,277.5L362.2,278.7ZM382.9,277.3L381.8,276.7L383.3,275.5L375.0,274.1L380.9,280.1L381.0,278.1L382.1,278.7ZM402.8,277.4L402.2,277.0L403.5,276.0L396.2,274.7L401.4,280.0L401.5,278.3L402.1,278.6ZM422.7,277.4L422.1,277.0L423.5,276.0L416.1,274.6L421.3,280.0L421.4,278.3L422.1,278.6ZM442.7,277.4L442.1,277.0L443.5,276.0L436.0,274.4L441.2,280.0L441.4,278.3L442.0,278.6ZM462.7,277.4L462.0,277.0L463.5,275.9L455.8,274.2L461.1,280.1L461.3,278.3L461.9,278.6ZM482.6,277.4L482.0,277.0L483.4,276.0L476.1,274.4L481.1,280.0L481.3,278.3L481.9,278.6ZM502.6,277.4L501.9,277.0L503.4,276.0L496.0,274.4L501.0,280.0L501.2,278.3L501.8,278.6ZM522.5,277.4L521.9,277.0L523.3,276.0L516.0,274.5L521.0,280.0L521.2,278.3L521.8,278.6ZM542.4,277.4L541.8,277.0L543.2,276.0L535.9,274.5L541.0,280.0L541.1,278.3L541.8,278.6ZM562.4,277.4L561.8,277.0L563.1,276.0L555.8,274.6L561.0,280.0L561.1,278.3L561.7,278.6ZM582.3,277.4L581.7,277.0L583.1,276.0L575.7,274.7L580.9,280.0L581.0,278.3L581.7,278.6ZM602.3,277.4L601.6,277.0L603.0,276.0L595.6,274.7L600.9,280.0L601.0,278.3L601.6,278.6ZM622.2,277.3L621.6,277.0L622.9,275.9L615.3,274.7L620.9,280.1L620.9,278.3L621.6,278.7ZM642.2,277.3L641.5,277.0L642.8,275.9L635.3,275.0L640.9,280.1L640.9,278.3L641.5,278.7ZM662.1,277.3L661.4,277.0L662.7,275.9L655.1,275.1L660.9,280.1L660.8,278.4L661.5,278.7ZM682.0,277.3L681.4,277.1L682.6,275.9L675.2,275.3L680.9,280.1L680.8,278.4L681.5,278.7ZM702.0,277.3L701.3,277.1L702.5,275.9L695.1,275.4L700.9,280.1L700.8,278.4L701.4,278.7ZM721.9,277.3L721.2,277.1L722.4,275.9L715.0,275.6L720.9,280.1L720.7,278.4L721.4,278.7ZM741.9,277.2L740.3,276.7L741.7,275.3L733.3,275.1L740.0,280.2L739.8,278.2L741.3,278.8ZM761.8,277.2L757.4,275.8L758.8,274.4L750.4,274.3L757.2,279.3L756.9,277.3L761.3,278.8ZM781.7,277.2L777.3,275.9L778.6,274.4L770.2,274.5L777.1,279.3L776.8,277.4L781.3,278.8ZM801.7,277.2L797.3,275.9L798.5,274.4L790.1,274.6L797.0,279.3L796.8,277.4L801.2,278.8ZM821.6,277.2L817.2,275.9L818.5,274.5L810.1,274.7L817.0,279.4L816.7,277.5L821.2,278.8ZM841.6,277.2L837.1,275.9L838.4,274.5L830.0,274.7L837.0,279.4L836.7,277.5L841.1,278.8ZM861.5,277.2L857.1,276.0L858.3,274.5L849.9,274.8L856.9,279.4L856.6,277.5L861.1,278.8ZM143.6,297.4L138.5,292.6L140.3,291.9L132.7,288.3L136.8,295.6L137.4,293.8L142.6,298.5ZM163.6,297.4L158.5,292.6L160.3,291.8L152.7,288.2L156.8,295.6L157.4,293.7L162.5,298.5ZM183.6,297.4L178.5,292.5L180.3,291.8L172.7,288.1L176.8,295.5L177.4,293.7L182.4,298.5ZM203.5,297.4L198.5,292.5L200.3,291.8L192.7,288.1L196.7,295.5L197.4,293.7L202.4,298.5ZM223.5,297.4L218.4,292.5L220.2,291.8L212.7,288.1L216.7,295.5L217.3,293.7L222.3,298.5ZM243.4,297.4L238.3,292.6L240.1,291.9L232.5,288.3L236.6,295.6L237.2,293.8L242.3,298.5ZM263.3,297.4L259.3,293.7L261.1,293.0L253.4,289.5L257.6,296.8L258.2,294.9L262.3,298.5ZM283.3,297.3L279.7,294.4L281.5,293.5L273.7,290.3L278.2,297.4L278.7,295.6L282.2,298.6ZM303.2,297.3L299.5,294.5L301.2,293.6L293.3,290.7L298.1,297.6L298.5,295.8L302.2,298.6ZM323.1,297.3L319.3,294.7L320.9,293.7L312.9,291.2L318.0,297.9L318.4,296.0L322.2,298.6ZM343.0,297.3L339.1,294.9L340.7,293.8L332.6,291.8L338.0,298.1L338.3,296.2L342.2,298.6ZM362.9,297.3L359.9,295.6L361.5,294.4L353.3,292.7L359.0,298.9L359.1,296.9L362.2,298.6ZM382.9,297.3L382.2,296.9L383.6,295.8L375.9,294.4L381.4,300.1L381.5,298.3L382.1,298.6ZM402.8,297.3L402.1,296.9L403.6,295.7L395.6,294.2L401.3,300.2L401.4,298.3L402.1,298.6ZM422.8,297.3L422.1,297.0L423.5,295.9L416.0,294.4L421.3,300.0L421.4,298.2L422.0,298.6ZM442.7,297.3L442.1,296.9L443.6,295.8L435.6,294.1L441.1,300.1L441.3,298.2L442.0,298.6ZM462.7,297.3L462.0,296.9L463.5,295.9L455.9,294.2L461.1,300.0L461.3,298.2L461.9,298.6ZM482.6,297.3L482.0,296.9L483.5,295.8L475.5,294.0L481.0,300.1L481.2,298.2L481.9,298.6ZM502.6,297.3L501.9,296.9L503.5,295.8L495.3,293.9L500.9,300.1L501.1,298.2L501.8,298.6ZM522.5,297.3L521.9,297.0L523.3,296.0L515.9,294.4L521.0,299.9L521.2,298.2L521.8,298.6ZM542.4,297.3L541.8,297.0L543.2,296.0L535.9,294.5L541.0,299.9L541.1,298.2L541.8,298.6ZM562.4,297.3L561.8,297.0L563.1,296.0L555.8,294.5L561.0,299.9L561.1,298.2L561.7,298.6ZM582.3,297.3L581.7,297.0L583.1,296.0L575.8,294.6L580.9,299.9L581.0,298.2L581.7,298.6ZM602.3,297.3L601.6,297.0L603.0,295.9L595.6,294.6L600.9,300.0L601.0,298.3L601.6,298.6ZM622.2,297.3L621.6,296.9L623.0,295.8L615.1,294.6L620.8,300.1L620.9,298.3L621.6,298.6ZM642.2,297.3L641.5,297.0L642.8,295.9L635.4,294.9L640.9,300.0L640.9,298.3L641.5,298.6ZM662.1,297.3L661.4,297.0L662.7,295.9L655.3,295.0L660.9,300.0L660.9,298.3L661.5,298.6ZM682.0,297.3L681.4,297.0L682.6,295.9L675.2,295.2L680.9,300.0L680.8,298.3L681.5,298.6ZM702.0,297.3L701.3,297.0L702.5,295.8L695.1,295.3L700.9,300.1L700.8,298.4L701.4,298.6ZM721.9,297.2L721.2,297.0L722.5,295.6L714.4,295.3L720.8,300.3L720.7,298.4L721.4,298.7ZM741.9,297.2L738.1,295.9L739.4,294.5L731.0,294.3L737.8,299.3L737.6,297.4L741.3,298.7ZM761.8,297.2L757.4,295.8L758.7,294.3L750.3,294.3L757.1,299.2L756.9,297.3L761.3,298.7ZM781.7,297.2L777.3,295.8L778.6,294.4L770.2,294.4L777.1,299.3L776.8,297.3L781.3,298.7ZM801.7,297.2L797.2,295.9L798.5,294.4L790.1,294.6L797.1,299.3L796.8,297.4L801.2,298.7ZM821.6,297.2L817.2,295.9L818.4,294.4L810.0,294.7L817.0,299.3L816.7,297.4L821.2,298.7ZM841.6,297.2L837.1,295.9L838.4,294.4L830.0,294.7L837.0,299.4L836.7,297.4L841.1,298.7ZM861.5,297.2L857.1,295.9L858.3,294.4L849.9,294.7L856.9,299.4L856.6,297.5L861.1,298.7ZM143.6,317.3L138.4,312.7L140.2,311.9L132.5,308.5L136.8,315.7L137.4,313.8L142.6,318.5ZM163.6,317.3L158.4,312.6L160.2,311.8L152.6,308.4L156.7,315.6L157.3,313.8L162.5,318.5ZM183.5,317.3L178.4,312.6L180.2,311.8L172.6,308.2L176.7,315.6L177.3,313.7L182.5,318.5ZM203.5,317.3L198.4,312.5L200.2,311.8L192.6,308.2L196.7,315.5L197.3,313.7L202.4,318.5ZM223.4,317.3L218.4,312.5L220.1,311.8L212.6,308.2L216.6,315.5L217.3,313.7L222.4,318.5ZM243.4,317.3L238.7,313.0L240.5,312.3L232.9,308.7L237.0,316.0L237.6,314.2L242.3,318.5ZM263.3,317.3L259.8,314.2L261.6,313.4L253.8,310.1L258.2,317.3L258.7,315.4L262.3,318.5ZM283.3,317.3L279.7,314.4L281.4,313.5L273.6,310.4L278.2,317.5L278.7,315.6L282.2,318.5ZM303.2,317.3L299.5,314.5L301.1,313.6L293.2,310.9L298.1,317.7L298.5,315.8L302.2,318.5ZM323.1,317.2L319.2,314.7L320.9,313.7L312.8,311.4L318.0,317.9L318.4,316.0L322.2,318.6ZM343.0,317.2L339.2,314.9L340.8,313.8L332.6,311.9L338.1,318.2L338.4,316.3L342.2,318.6ZM362.9,317.2L362.2,316.8L363.8,315.7L355.6,314.0L361.3,320.1L361.5,318.2L362.2,318.6ZM382.8,317.3L382.2,316.9L383.6,315.8L376.1,314.4L381.4,320.0L381.5,318.2L382.2,318.5ZM402.8,317.2L402.0,316.8L403.6,315.6L395.4,314.0L401.1,320.1L401.3,318.2L402.1,318.6ZM422.8,317.3L422.1,316.9L423.5,315.9L416.1,314.3L421.3,319.9L421.4,318.2L422.0,318.5ZM442.7,317.3L442.1,316.9L443.5,315.9L436.1,314.2L441.2,319.9L441.4,318.2L442.0,318.5ZM462.7,317.3L462.0,316.9L463.5,315.8L455.8,314.0L461.1,320.0L461.3,318.2L461.9,318.5ZM482.6,317.3L482.0,316.9L483.5,315.8L475.8,314.1L481.0,320.0L481.2,318.2L481.9,318.5ZM502.6,317.2L501.9,316.8L503.5,315.7L495.5,314.0L500.9,320.1L501.1,318.2L501.8,318.6ZM522.5,317.2L521.9,316.8L523.4,315.7L515.2,313.9L520.9,320.1L521.1,318.2L521.8,318.6ZM542.5,317.3L541.8,316.9L543.2,315.9L535.7,314.3L541.0,319.9L541.1,318.2L541.7,318.5ZM562.4,317.3L561.8,316.9L563.1,315.9L555.8,314.5L561.0,319.9L561.1,318.2L561.7,318.5ZM582.3,317.3L581.7,316.9L583.1,315.9L575.8,314.5L580.9,319.9L581.0,318.2L581.7,318.5ZM602.3,317.3L601.7,316.9L603.0,315.9L595.7,314.6L600.9,319.9L601.0,318.2L601.6,318.5ZM622.2,317.3L621.6,316.9L622.9,315.9L615.6,314.7L620.9,319.9L620.9,318.2L621.6,318.5ZM642.2,317.3L641.5,317.0L642.8,315.9L635.5,314.8L640.9,319.9L640.9,318.2L641.5,318.5ZM662.1,317.3L661.4,317.0L662.7,315.8L655.3,315.0L660.9,320.0L660.9,318.3L661.5,318.5ZM682.0,317.2L681.4,317.0L682.6,315.8L675.2,315.1L680.9,320.0L680.8,318.3L681.5,318.6ZM702.0,317.2L701.3,316.9L702.6,315.7L694.7,315.1L700.8,320.1L700.7,318.3L701.4,318.6ZM721.9,317.1L720.0,316.5L721.4,315.1L713.0,314.7L719.6,319.9L719.5,318.0L721.4,318.7ZM741.9,317.1L739.5,316.3L740.8,314.9L732.4,314.7L739.2,319.8L739.0,317.8L741.3,318.7ZM761.8,317.1L757.9,315.9L759.2,314.5L750.8,314.4L757.7,319.3L757.4,317.4L761.3,318.7ZM781.7,317.1L777.3,315.8L778.6,314.3L770.2,314.5L777.1,319.2L776.8,317.3L781.3,318.7ZM801.7,317.1L797.2,315.9L798.5,314.4L790.1,314.7L797.1,319.3L796.8,317.4L801.2,318.7ZM821.6,317.1L817.2,315.9L818.4,314.4L810.0,314.8L817.0,319.4L816.7,317.4L821.2,318.7ZM841.6,317.1L837.1,315.9L838.3,314.4L829.9,314.8L837.0,319.4L836.7,317.4L841.1,318.7ZM861.5,317.1L857.1,315.9L858.3,314.4L849.9,314.8L856.9,319.4L856.6,317.5L861.1,318.7ZM143.6,337.2L138.3,332.7L140.1,331.9L132.4,328.6L136.7,335.7L137.3,333.9L142.6,338.5ZM163.6,337.2L158.3,332.6L160.1,331.8L152.4,328.5L156.7,335.7L157.3,333.8L162.5,338.5ZM183.5,337.3L178.3,332.6L180.1,331.8L172.4,328.4L176.7,335.6L177.3,333.8L182.5,338.4ZM203.5,337.3L198.3,332.5L200.1,331.8L192.5,328.3L196.7,335.6L197.3,333.7L202.4,338.4ZM223.4,337.3L218.3,332.5L220.1,331.8L212.4,328.3L216.6,335.6L217.2,333.7L222.4,338.4ZM243.4,337.3L239.1,333.4L240.8,332.6L233.2,329.2L237.4,336.5L238.0,334.6L242.3,338.4ZM263.3,337.2L259.8,334.3L261.5,333.4L253.8,330.2L258.2,337.3L258.7,335.5L262.3,338.5ZM283.2,337.2L279.6,334.4L281.3,333.5L273.4,330.6L278.2,337.5L278.6,335.6L282.3,338.5ZM303.2,337.2L299.4,334.6L301.0,333.6L293.0,331.1L298.1,337.8L298.4,335.9L302.2,338.5ZM323.1,337.2L319.2,334.7L320.8,333.7L312.6,331.6L318.0,338.0L318.3,336.1L322.2,338.5ZM343.0,337.2L339.1,334.9L340.6,333.8L332.4,332.0L338.1,338.2L338.3,336.3L342.2,338.5ZM362.9,337.1L361.4,336.3L363.0,335.1L354.7,333.5L360.5,339.6L360.6,337.7L362.2,338.6ZM382.9,337.2L382.2,336.8L383.7,335.7L375.7,334.1L381.3,340.0L381.4,338.2L382.1,338.5ZM402.8,337.2L402.2,336.9L403.6,335.8L396.1,334.3L401.3,339.9L401.5,338.1L402.1,338.5ZM422.8,337.2L422.1,336.8L423.6,335.7L415.7,334.0L421.2,340.0L421.3,338.1L422.0,338.5ZM442.7,337.2L442.1,336.9L443.5,335.9L436.2,334.2L441.2,339.8L441.4,338.1L442.0,338.5ZM462.7,337.2L462.0,336.8L463.6,335.7L455.7,333.9L461.0,340.0L461.2,338.1L461.9,338.5ZM482.7,337.2L481.3,336.4L482.9,335.2L474.7,333.4L480.3,339.7L480.5,337.7L481.8,338.5ZM502.6,337.2L501.8,336.7L503.3,335.5L495.1,333.8L500.8,340.0L501.0,338.1L501.8,338.5ZM522.5,337.2L521.9,336.9L523.3,335.9L515.9,334.4L521.0,339.8L521.2,338.1L521.8,338.5ZM542.4,337.2L541.8,336.9L543.2,335.9L535.9,334.4L541.0,339.8L541.1,338.1L541.8,338.5ZM562.4,337.2L561.8,336.9L563.1,335.9L555.8,334.5L561.0,339.8L561.1,338.1L561.7,338.5ZM582.3,337.2L581.7,336.9L583.1,335.8L575.7,334.5L580.9,339.9L581.0,338.1L581.7,338.5ZM602.3,337.2L601.6,336.9L603.0,335.8L595.7,334.6L600.9,339.9L601.0,338.2L601.6,338.5ZM622.2,337.2L621.6,336.9L622.9,335.8L615.6,334.7L620.9,339.9L620.9,338.2L621.6,338.5ZM642.2,337.2L641.5,336.9L642.8,335.8L635.5,334.8L640.9,339.9L640.9,338.2L641.5,338.5ZM662.1,337.2L661.4,336.9L662.7,335.8L655.3,334.9L660.9,339.9L660.9,338.2L661.5,338.5ZM682.0,337.2L681.4,336.9L682.7,335.7L675.1,335.0L680.8,340.0L680.8,338.2L681.5,338.5ZM702.0,337.1L699.1,336.0L700.5,334.6L692.1,334.0L698.6,339.4L698.5,337.4L701.4,338.6ZM721.9,337.1L718.1,335.7L719.4,334.3L711.0,333.9L717.6,339.1L717.5,337.2L721.4,338.6ZM741.9,337.1L739.8,336.4L741.1,335.0L732.7,334.8L739.5,339.8L739.3,337.9L741.3,338.6ZM761.8,337.1L757.5,335.7L758.8,334.3L750.4,334.3L757.2,339.2L757.0,337.2L761.3,338.6ZM781.7,337.1L777.3,335.8L778.5,334.3L770.1,334.5L777.1,339.2L776.8,337.3L781.3,338.6ZM801.7,337.1L797.2,335.9L798.4,334.4L790.0,334.8L797.1,339.3L796.8,337.4L801.2,338.6ZM821.6,337.1L817.1,335.9L818.3,334.4L810.0,334.9L817.1,339.4L816.7,337.5L821.2,338.6ZM841.6,337.1L837.1,335.9L838.3,334.4L829.9,334.9L837.0,339.4L836.7,337.5L841.1,338.6ZM861.5,337.1L857.0,335.9L858.3,334.4L849.9,334.8L856.9,339.3L856.6,337.4L861.1,338.6ZM143.6,357.2L138.2,352.7L140.0,351.9L132.2,348.7L136.7,355.8L137.2,353.9L142.6,358.4ZM163.6,357.2L158.2,352.7L160.0,351.9L152.2,348.7L156.7,355.8L157.2,353.9L162.5,358.4ZM183.5,357.2L178.2,352.6L180.0,351.8L172.2,348.6L176.6,355.7L177.2,353.9L182.5,358.4ZM203.5,357.2L198.2,352.6L200.0,351.8L192.3,348.5L196.6,355.6L197.2,353.8L202.4,358.4ZM223.4,357.2L218.2,352.6L219.9,351.8L212.2,348.5L216.6,355.6L217.1,353.8L222.4,358.4ZM243.4,357.2L238.4,353.0L240.2,352.2L232.4,348.9L236.8,356.1L237.4,354.2L242.3,358.4ZM263.3,357.2L259.7,354.2L261.4,353.4L253.5,350.3L258.2,357.4L258.6,355.5L262.3,358.4ZM283.2,357.2L279.5,354.4L281.2,353.5L273.2,350.8L278.2,357.6L278.6,355.7L282.3,358.4ZM303.1,357.1L299.3,354.6L300.9,353.6L292.8,351.3L298.1,357.9L298.4,355.9L302.3,358.5ZM323.1,357.1L319.1,354.8L320.6,353.7L312.4,351.8L318.1,358.1L318.3,356.2L322.2,358.5ZM343.0,357.1L338.9,354.9L340.5,353.7L332.2,352.1L338.0,358.2L338.2,356.3L342.2,358.5ZM362.9,357.1L360.0,355.5L361.5,354.4L353.3,352.8L359.1,358.9L359.2,356.9L362.2,358.5ZM382.8,357.2L382.2,356.8L383.6,355.8L376.1,354.3L381.4,359.8L381.5,358.1L382.2,358.4ZM402.8,357.1L402.2,356.8L403.6,355.7L395.8,354.1L401.3,359.9L401.4,358.1L402.1,358.5ZM422.8,357.1L421.5,356.3L423.0,355.2L414.8,353.4L420.5,359.6L420.7,357.7L422.0,358.5ZM442.7,357.2L442.1,356.8L443.5,355.8L436.1,354.1L441.2,359.8L441.3,358.1L442.0,358.4ZM462.7,357.2L462.1,356.8L463.5,355.8L456.1,354.1L461.1,359.8L461.3,358.0L461.9,358.4ZM482.6,357.2L482.0,356.8L483.5,355.7L475.8,354.0L481.0,359.9L481.2,358.1L481.9,358.4ZM502.6,357.2L501.9,356.8L503.3,355.8L496.0,354.3L501.1,359.8L501.2,358.1L501.8,358.4ZM522.5,357.2L521.9,356.8L523.2,355.8L515.9,354.4L521.1,359.8L521.2,358.1L521.8,358.4ZM542.4,357.2L541.8,356.8L543.2,355.8L535.8,354.5L541.0,359.8L541.1,358.1L541.8,358.4ZM562.4,357.2L561.7,356.8L563.1,355.8L555.8,354.5L561.0,359.8L561.1,358.1L561.7,358.4ZM582.3,357.2L581.7,356.8L583.0,355.8L575.7,354.6L581.0,359.8L581.0,358.1L581.7,358.4ZM602.3,357.2L601.6,356.8L603.0,355.8L595.6,354.6L600.9,359.8L601.0,358.1L601.6,358.4ZM622.2,357.2L621.6,356.8L622.9,355.8L615.5,354.7L620.9,359.8L620.9,358.1L621.6,358.4ZM642.2,357.2L641.5,356.9L642.8,355.7L635.4,354.8L640.9,359.9L640.9,358.1L641.5,358.4ZM662.1,357.1L661.4,356.9L662.7,355.7L655.3,354.9L660.9,359.9L660.9,358.2L661.5,358.5ZM682.1,357.1L680.4,356.4L681.8,355.0L673.4,354.3L679.8,359.8L679.8,357.8L681.4,358.5ZM702.0,357.1L697.8,355.4L699.2,354.0L690.8,353.5L697.3,358.8L697.2,356.9L701.4,358.5ZM721.9,357.0L717.6,355.5L719.0,354.1L710.6,353.7L717.2,358.9L717.1,357.0L721.4,358.6ZM741.9,357.0L737.5,355.6L738.9,354.2L730.5,354.0L737.2,359.0L737.0,357.1L741.3,358.6ZM761.8,357.0L757.4,355.7L758.7,354.2L750.3,354.3L757.1,359.1L756.9,357.2L761.3,358.6ZM781.7,357.0L777.3,355.8L778.5,354.3L770.1,354.6L777.1,359.2L776.8,357.3L781.3,358.6ZM801.7,357.0L797.2,355.9L798.4,354.4L790.0,354.8L797.1,359.3L796.8,357.4L801.2,358.6ZM821.6,357.0L817.1,355.9L818.3,354.4L809.9,354.9L817.1,359.4L816.7,357.5L821.2,358.6ZM841.5,357.0L837.1,355.9L838.3,354.4L829.9,354.9L837.0,359.3L836.7,357.4L841.2,358.6ZM861.5,357.0L857.0,355.9L858.3,354.4L849.9,354.8L857.0,359.3L856.6,357.4L861.1,358.6ZM143.6,377.1L138.1,372.8L139.8,371.9L132.0,368.9L136.7,375.9L137.1,374.0L142.6,378.4ZM163.5,377.1L158.1,372.8L159.8,371.9L151.9,368.9L156.6,375.9L157.1,374.0L162.6,378.4ZM183.5,377.1L178.0,372.8L179.8,371.9L171.9,368.9L176.6,375.9L177.0,374.0L182.5,378.4ZM203.5,377.1L198.0,372.7L199.8,371.9L192.0,368.8L196.5,375.8L197.0,374.0L202.4,378.4ZM223.4,377.1L218.5,373.1L220.2,372.2L212.4,369.2L217.0,376.2L217.4,374.3L222.4,378.4ZM243.3,377.1L239.2,373.8L240.9,372.9L233.0,370.0L237.7,377.0L238.2,375.1L242.4,378.4ZM263.3,377.1L259.6,374.3L261.3,373.4L253.4,370.6L258.2,377.5L258.6,375.6L262.3,378.4ZM283.2,377.1L279.4,374.4L281.1,373.5L273.1,371.0L278.1,377.7L278.5,375.8L282.3,378.4ZM303.1,377.1L299.2,374.6L300.8,373.6L292.6,371.6L298.1,377.9L298.3,376.0L302.3,378.4ZM323.0,377.0L319.0,374.8L320.5,373.7L312.3,372.1L318.1,378.2L318.2,376.2L322.3,378.5ZM343.0,377.0L338.9,374.9L340.4,373.7L332.2,372.2L338.0,378.2L338.2,376.3L342.2,378.5ZM362.9,377.0L359.9,375.4L361.4,374.2L353.1,372.8L359.0,378.8L359.1,376.8L362.2,378.5ZM382.8,377.1L382.2,376.8L383.6,375.7L376.0,374.3L381.4,379.8L381.5,378.0L382.2,378.4ZM402.8,377.1L402.1,376.7L403.7,375.6L395.6,373.9L401.2,379.9L401.4,378.1L402.1,378.4ZM422.8,377.1L421.8,376.5L423.3,375.3L415.1,373.5L420.8,379.8L421.0,377.8L422.0,378.4ZM442.7,377.1L442.1,376.7L443.6,375.7L436.0,374.0L441.1,379.8L441.3,378.0L442.0,378.4ZM462.7,377.1L462.1,376.8L463.5,375.8L456.2,374.1L461.1,379.7L461.3,378.0L461.9,378.4ZM482.6,377.1L482.0,376.8L483.4,375.8L476.1,374.2L481.1,379.7L481.3,378.0L481.9,378.4ZM502.5,377.1L501.9,376.8L503.3,375.7L495.9,374.3L501.1,379.8L501.2,378.0L501.9,378.4ZM522.5,377.1L521.8,376.8L523.2,375.7L515.7,374.4L521.1,379.8L521.2,378.1L521.8,378.4ZM542.4,377.1L541.8,376.8L543.1,375.7L535.7,374.5L541.1,379.8L541.1,378.1L541.8,378.4ZM562.4,377.1L561.7,376.8L563.1,375.7L555.7,374.6L561.0,379.8L561.1,378.1L561.7,378.4ZM582.3,377.1L581.7,376.8L583.0,375.7L575.7,374.6L581.0,379.8L581.0,378.1L581.7,378.4ZM602.3,377.1L601.6,376.8L603.0,375.7L595.6,374.6L600.9,379.8L601.0,378.1L601.6,378.4ZM622.2,377.1L621.6,376.8L622.9,375.7L615.5,374.7L620.9,379.8L621.0,378.1L621.6,378.4ZM642.2,377.1L641.5,376.8L642.8,375.7L635.4,374.7L640.9,379.8L640.9,378.1L641.5,378.4ZM662.1,377.0L661.4,376.7L662.8,375.5L654.7,374.6L660.8,380.0L660.8,378.1L661.5,378.5ZM682.1,377.0L678.2,375.4L679.6,374.1L671.3,373.3L677.7,378.8L677.6,376.9L681.4,378.5ZM702.0,377.0L697.7,375.3L699.1,374.0L690.7,373.4L697.2,378.7L697.1,376.8L701.4,378.5ZM721.9,377.0L717.6,375.4L719.0,374.0L710.6,373.6L717.2,378.8L717.0,376.9L721.4,378.5ZM741.9,377.0L737.5,375.5L738.8,374.1L730.4,373.9L737.1,378.9L737.0,377.0L741.3,378.5ZM761.8,377.0L757.4,375.6L758.7,374.2L750.3,374.2L757.1,379.0L756.9,377.1L761.3,378.5ZM781.7,377.0L777.3,375.7L778.5,374.2L770.1,374.4L777.1,379.1L776.8,377.2L781.3,378.5ZM801.7,377.0L797.2,375.8L798.4,374.3L790.0,374.7L797.1,379.2L796.8,377.3L801.2,378.5ZM821.6,377.0L817.1,375.8L818.3,374.3L810.0,374.8L817.1,379.3L816.7,377.4L821.2,378.5ZM841.6,377.0L837.1,375.8L838.3,374.3L829.9,374.7L837.0,379.2L836.7,377.3L841.1,378.5ZM861.5,377.0L857.0,375.8L858.3,374.3L849.9,374.7L856.9,379.2L856.6,377.3L861.1,378.5ZM143.6,397.1L138.0,392.9L139.7,391.9L131.7,389.2L136.6,396.0L137.0,394.2L142.6,398.3ZM163.5,397.1L157.9,392.9L159.6,392.0L151.6,389.3L156.5,396.1L157.0,394.2L162.6,398.3ZM183.5,397.1L177.8,392.9L179.5,392.0L171.5,389.3L176.5,396.1L176.9,394.2L182.5,398.3ZM203.4,397.1L197.8,393.0L199.5,392.0L191.5,389.4L196.5,396.1L196.9,394.3L202.5,398.3ZM223.4,397.1L219.1,394.0L220.8,393.0L212.8,390.4L217.8,397.2L218.2,395.3L222.4,398.3ZM243.3,397.0L239.6,394.4L241.2,393.4L233.2,390.8L238.2,397.6L238.6,395.7L242.4,398.4ZM263.3,397.0L259.5,394.4L261.1,393.4L253.1,391.0L258.2,397.6L258.5,395.7L262.3,398.4ZM283.2,397.0L279.3,394.5L280.9,393.5L272.8,391.2L278.1,397.8L278.4,395.8L282.3,398.4ZM303.1,397.0L299.1,394.6L300.7,393.5L292.5,391.7L298.1,397.9L298.3,396.0L302.3,398.4ZM323.0,397.0L319.0,394.8L320.5,393.6L312.3,392.0L318.1,398.1L318.2,396.2L322.3,398.4ZM343.0,397.0L340.7,395.8L342.2,394.6L333.9,393.1L339.8,399.1L339.9,397.2L342.2,398.4ZM362.9,397.0L362.2,396.6L363.7,395.5L355.6,394.1L361.4,399.9L361.5,398.0L362.2,398.4ZM382.8,397.1L382.2,396.7L383.6,395.7L376.2,394.3L381.4,399.7L381.5,398.0L382.2,398.3ZM402.8,397.0L402.2,396.7L403.6,395.6L395.9,394.1L401.3,399.8L401.4,398.0L402.1,398.4ZM422.8,397.0L422.0,396.6L423.6,395.4L415.4,393.6L421.0,399.9L421.2,397.9L422.0,398.4ZM442.7,397.0L442.1,396.6L443.6,395.6L435.7,393.7L441.1,399.8L441.3,398.0L442.0,398.4ZM462.7,397.1L462.1,396.7L463.5,395.7L456.2,394.1L461.1,399.7L461.3,397.9L461.9,398.3ZM482.6,397.1L482.0,396.7L483.4,395.7L476.1,394.2L481.1,399.7L481.3,398.0L481.9,398.3ZM502.6,397.0L501.9,396.7L503.3,395.6L495.6,394.1L501.1,399.8L501.2,398.0L501.8,398.4ZM522.5,397.1L521.8,396.7L523.2,395.7L515.7,394.4L521.1,399.7L521.2,398.0L521.8,398.3ZM542.4,397.1L541.8,396.7L543.1,395.7L535.7,394.6L541.1,399.7L541.1,398.0L541.8,398.3ZM562.4,397.1L561.7,396.8L563.0,395.7L555.7,394.6L561.1,399.7L561.1,398.0L561.7,398.3ZM582.3,397.1L581.7,396.8L583.0,395.7L575.6,394.6L581.0,399.7L581.1,398.0L581.7,398.3ZM602.3,397.1L601.6,396.8L602.9,395.7L595.6,394.6L601.0,399.7L601.0,398.0L601.6,398.3ZM622.2,397.1L621.6,396.8L622.9,395.7L615.5,394.6L620.9,399.7L621.0,398.0L621.6,398.3ZM642.2,397.0L641.5,396.7L642.8,395.6L635.3,394.7L640.9,399.8L640.9,398.1L641.5,398.4ZM662.1,397.0L661.4,396.7L662.8,395.4L654.7,394.6L660.8,400.0L660.8,398.1L661.5,398.4ZM682.1,397.0L678.5,395.5L680.0,394.2L671.6,393.5L678.0,398.9L677.9,397.0L681.4,398.4ZM702.0,397.0L697.7,395.3L699.1,393.9L690.7,393.4L697.2,398.7L697.1,396.7L701.4,398.4ZM721.9,397.0L717.6,395.3L718.9,394.0L710.5,393.6L717.1,398.8L717.0,396.8L721.4,398.4ZM741.9,396.9L737.2,395.3L738.5,393.9L730.1,393.7L736.8,398.7L736.7,396.8L741.3,398.5ZM761.8,396.9L756.8,395.3L758.1,393.9L749.7,393.8L756.5,398.7L756.3,396.8L761.3,398.5ZM781.7,396.9L777.2,395.5L778.5,394.1L770.1,394.2L777.0,399.0L776.8,397.1L781.3,398.5ZM801.7,396.9L797.2,395.6L798.5,394.2L790.1,394.4L797.1,399.1L796.8,397.2L801.2,398.5ZM821.6,396.9L817.2,395.7L818.4,394.2L810.0,394.5L817.0,399.1L816.7,397.2L821.2,398.5ZM841.6,396.9L837.1,395.7L838.4,394.2L830.0,394.5L837.0,399.1L836.7,397.2L841.1,398.5ZM861.5,396.9L857.1,395.7L858.3,394.2L849.9,394.5L856.9,399.1L856.6,397.2L861.1,398.5ZM143.6,417.0L137.8,413.0L139.5,412.0L131.5,409.5L136.6,416.2L136.9,414.3L142.6,418.3ZM163.5,417.0L157.7,413.1L159.4,412.0L151.3,409.7L156.5,416.3L156.8,414.4L162.6,418.3ZM183.4,417.0L177.6,413.1L179.2,412.1L171.1,409.8L176.4,416.4L176.7,414.5L182.6,418.3ZM203.4,417.0L197.5,413.2L199.1,412.2L191.0,410.0L196.4,416.5L196.6,414.5L202.5,418.3ZM223.3,417.0L218.3,413.8L219.9,412.7L211.8,410.6L217.2,417.0L217.5,415.1L222.5,418.3ZM243.3,417.0L239.4,414.5L241.0,413.4L232.9,411.3L238.2,417.7L238.5,415.8L242.4,418.3ZM263.2,417.0L259.3,414.5L261.0,413.4L252.8,411.3L258.2,417.7L258.5,415.8L262.4,418.3ZM283.2,417.0L279.2,414.5L280.8,413.5L272.7,411.4L278.2,417.8L278.4,415.9L282.3,418.3ZM303.1,417.0L299.1,414.6L300.7,413.5L292.5,411.7L298.1,417.9L298.3,416.0L302.3,418.3ZM323.0,417.0L319.0,414.7L320.6,413.6L312.3,411.9L318.1,418.0L318.2,416.1L322.3,418.3ZM343.0,416.9L341.1,416.0L342.7,414.8L334.4,413.3L340.3,419.3L340.4,417.4L342.2,418.4ZM362.9,417.0L362.2,416.7L363.6,415.6L356.1,414.2L361.5,419.7L361.6,418.0L362.2,418.3ZM382.9,417.0L382.2,416.6L383.6,415.5L375.9,414.1L381.4,419.8L381.5,418.0L382.1,418.3ZM402.8,417.0L402.2,416.6L403.6,415.6L396.0,414.1L401.3,419.7L401.4,417.9L402.1,418.3ZM422.8,417.0L422.1,416.6L423.6,415.5L415.7,413.8L421.2,419.8L421.3,417.9L422.0,418.3ZM442.7,417.0L442.1,416.6L443.6,415.6L435.8,413.8L441.1,419.7L441.3,417.9L442.0,418.3ZM462.7,417.0L462.0,416.6L463.5,415.6L455.9,413.9L461.1,419.7L461.3,417.9L461.9,418.3ZM482.6,417.0L482.0,416.7L483.4,415.7L476.1,414.1L481.1,419.6L481.3,417.9L481.9,418.3ZM502.5,417.0L501.9,416.7L503.3,415.6L495.9,414.3L501.1,419.7L501.2,417.9L501.9,418.3ZM522.5,417.0L521.8,416.7L523.2,415.6L515.8,414.4L521.1,419.7L521.2,418.0L521.8,418.3ZM542.4,417.0L541.8,416.7L543.1,415.6L535.7,414.5L541.1,419.7L541.2,418.0L541.8,418.3ZM562.4,417.0L561.7,416.7L563.0,415.6L555.7,414.5L561.1,419.7L561.1,418.0L561.7,418.3ZM582.3,417.0L581.7,416.7L583.0,415.6L575.6,414.5L581.0,419.7L581.1,418.0L581.7,418.3ZM602.3,417.0L601.6,416.7L602.9,415.6L595.6,414.6L601.0,419.7L601.0,418.0L601.6,418.3ZM622.2,417.0L621.6,416.7L622.9,415.6L615.5,414.6L620.9,419.7L621.0,418.0L621.6,418.3ZM642.2,416.9L641.1,416.4L642.6,415.2L634.2,414.2L640.5,419.8L640.5,417.9L641.5,418.4ZM662.1,416.9L658.2,415.2L659.7,413.9L651.3,413.1L657.6,418.6L657.6,416.7L661.5,418.4ZM682.1,416.9L677.8,415.1L679.2,413.8L670.8,413.1L677.2,418.6L677.2,416.6L681.4,418.4ZM702.0,416.9L697.6,415.2L699.0,413.8L690.6,413.3L697.1,418.6L697.0,416.7L701.4,418.4ZM721.9,416.9L716.3,414.8L717.7,413.4L709.3,413.0L715.9,418.2L715.7,416.3L721.4,418.4ZM741.9,416.9L735.4,414.6L736.8,413.2L728.4,412.9L735.0,418.0L734.9,416.1L741.3,418.4ZM761.8,416.9L755.2,414.6L756.6,413.2L748.2,413.0L754.9,418.1L754.7,416.1L761.3,418.4ZM781.8,416.9L776.0,415.0L777.3,413.6L768.9,413.5L775.7,418.4L775.5,416.5L781.2,418.4ZM801.7,416.9L797.1,415.4L798.4,414.0L790.0,414.0L796.9,418.9L796.6,417.0L801.2,418.4ZM821.6,416.9L817.2,415.5L818.5,414.1L810.1,414.1L817.0,419.0L816.7,417.0L821.2,418.4ZM841.6,416.9L837.2,415.5L838.4,414.1L830.0,414.2L836.9,419.0L836.7,417.1L841.1,418.4ZM861.5,416.9L857.1,415.5L858.4,414.1L850.0,414.2L856.9,419.0L856.6,417.1L861.1,418.4ZM143.5,436.9L137.7,433.1L139.4,432.0L131.3,429.7L136.5,436.3L136.8,434.4L142.7,438.3ZM163.5,436.9L157.6,433.2L159.2,432.1L151.0,430.0L156.4,436.5L156.7,434.5L162.6,438.3ZM183.4,436.9L177.4,433.3L179.0,432.2L170.8,430.3L176.4,436.6L176.6,434.7L182.6,438.3ZM203.3,436.9L197.3,433.4L198.9,432.3L190.6,430.5L196.3,436.7L196.5,434.8L202.6,438.3ZM223.3,436.9L217.7,433.7L219.3,432.6L211.1,430.8L216.7,437.0L216.9,435.1L222.5,438.3ZM243.3,436.9L239.2,434.5L240.8,433.4L232.6,431.6L238.2,437.8L238.4,435.9L242.4,438.3ZM263.2,436.9L259.3,434.5L260.9,433.4L252.7,431.5L258.2,437.8L258.5,435.9L262.4,438.3ZM283.2,436.9L279.2,434.5L280.8,433.4L272.7,431.4L278.2,437.8L278.4,435.9L282.3,438.3ZM303.1,436.9L299.1,434.5L300.7,433.4L292.5,431.5L298.1,437.8L298.3,435.9L302.3,438.3ZM323.0,436.9L319.0,434.6L320.6,433.5L312.4,431.7L318.1,437.9L318.3,436.0L322.3,438.3ZM343.0,436.9L340.4,435.5L341.9,434.3L333.7,432.7L339.5,438.8L339.6,436.9L342.2,438.3ZM362.9,436.9L361.8,436.3L363.3,435.1L355.0,433.6L360.9,439.6L361.0,437.7L362.2,438.3ZM382.8,437.0L382.2,436.6L383.6,435.5L376.0,434.1L381.4,439.7L381.5,437.9L382.2,438.2ZM402.8,436.9L402.1,436.5L403.7,435.4L395.5,433.8L401.2,439.8L401.4,437.9L402.1,438.3ZM422.8,436.9L421.6,436.2L423.2,435.1L415.0,433.4L420.7,439.6L420.8,437.6L422.0,438.3ZM442.7,436.9L442.1,436.5L443.6,435.4L435.6,433.7L441.1,439.8L441.3,437.9L442.0,438.3ZM462.7,437.0L462.0,436.6L463.4,435.6L456.2,434.0L461.2,439.6L461.3,437.9L461.9,438.2ZM482.6,437.0L482.0,436.6L483.4,435.6L476.1,434.1L481.1,439.6L481.3,437.9L481.9,438.2ZM502.5,437.0L501.9,436.6L503.3,435.6L496.0,434.2L501.1,439.6L501.2,437.9L501.9,438.2ZM522.5,437.0L521.8,436.6L523.2,435.6L515.9,434.3L521.1,439.6L521.2,437.9L521.8,438.2ZM542.4,437.0L541.8,436.6L543.1,435.6L535.8,434.4L541.1,439.6L541.1,437.9L541.8,438.2ZM562.4,437.0L561.7,436.6L563.1,435.6L555.7,434.5L561.0,439.6L561.1,437.9L561.7,438.2ZM582.3,437.0L581.7,436.7L583.0,435.6L575.6,434.5L581.0,439.6L581.1,437.9L581.7,438.2ZM602.3,437.0L601.6,436.7L602.9,435.6L595.6,434.5L601.0,439.6L601.0,437.9L601.6,438.2ZM622.2,437.0L621.6,436.7L622.9,435.5L615.5,434.6L620.9,439.7L621.0,437.9L621.6,438.2ZM642.2,436.9L640.3,436.0L641.7,434.7L633.4,433.8L639.6,439.4L639.6,437.5L641.5,438.3ZM662.1,436.9L658.1,435.2L659.6,433.9L651.2,433.1L657.5,438.6L657.5,436.6L661.5,438.3ZM682.1,436.9L677.8,435.1L679.2,433.8L670.8,433.1L677.2,438.5L677.2,436.6L681.4,438.3ZM702.0,436.9L697.3,435.0L698.7,433.7L690.3,433.2L696.8,438.4L696.7,436.5L701.4,438.3ZM721.9,436.9L715.5,434.4L716.8,433.0L708.4,432.6L715.0,437.8L714.9,435.9L721.4,438.3ZM741.9,436.8L735.3,434.4L736.7,433.1L728.3,432.7L734.9,437.9L734.8,435.9L741.3,438.4ZM761.8,436.8L755.2,434.5L756.6,433.1L748.2,432.8L754.9,437.9L754.7,436.0L761.3,438.4ZM781.8,436.8L775.2,434.5L776.5,433.1L768.1,432.9L774.8,438.0L774.7,436.1L781.2,438.4ZM801.7,436.8L795.6,434.8L797.0,433.4L788.6,433.2L795.3,438.2L795.1,436.3L801.2,438.4ZM821.7,436.8L817.0,435.3L818.3,433.9L809.9,433.7L816.7,438.7L816.5,436.8L821.1,438.4ZM841.6,436.8L837.2,435.4L838.5,434.0L830.1,433.9L836.9,438.8L836.7,436.9L841.1,438.4ZM861.5,436.8L857.2,435.4L858.5,434.0L850.1,433.9L856.9,438.8L856.7,436.9L861.1,438.4ZM143.5,456.9L137.6,453.2L139.2,452.1L131.1,450.0L136.5,456.4L136.7,454.5L142.7,458.2ZM163.5,456.9L157.4,453.3L159.0,452.2L150.8,450.3L156.4,456.6L156.6,454.7L162.6,458.2ZM183.4,456.9L177.3,453.4L178.8,452.3L170.6,450.6L176.3,456.8L176.5,454.8L182.6,458.2ZM203.3,456.8L197.2,453.5L198.7,452.4L190.5,450.8L196.3,456.9L196.4,454.9L202.6,458.3ZM223.3,456.8L218.2,454.1L219.7,452.9L211.5,451.3L217.3,457.4L217.4,455.5L222.5,458.3ZM243.3,456.9L239.4,454.6L240.9,453.5L232.7,451.7L238.4,457.9L238.6,456.0L242.4,458.2ZM263.2,456.9L261.2,455.6L262.8,454.5L254.7,452.5L260.1,458.9L260.4,457.0L262.4,458.2ZM283.2,456.9L280.7,455.3L282.3,454.2L274.2,452.1L279.6,458.6L279.8,456.7L282.3,458.2ZM303.1,456.9L299.3,454.5L300.9,453.4L292.7,451.3L298.2,457.7L298.4,455.8L302.3,458.2ZM323.1,456.9L320.1,455.1L321.7,454.0L313.5,452.1L319.1,458.4L319.3,456.5L322.2,458.2ZM343.0,456.9L342.3,456.4L343.8,455.3L335.6,453.6L341.3,459.8L341.5,457.8L342.2,458.2ZM362.9,456.8L362.0,456.3L363.5,455.2L355.3,453.6L361.1,459.7L361.2,457.7L362.2,458.3ZM382.9,456.9L382.2,456.5L383.7,455.4L375.7,453.9L381.3,459.7L381.5,457.9L382.1,458.2ZM402.8,456.8L401.5,456.1L403.1,455.0L394.8,453.4L400.6,459.5L400.8,457.5L402.1,458.3ZM422.8,456.9L421.5,456.1L423.1,455.0L414.8,453.4L420.6,459.5L420.7,457.5L422.0,458.2ZM442.7,456.9L442.1,456.5L443.5,455.5L435.9,453.9L441.2,459.6L441.3,457.8L442.0,458.2ZM462.7,456.9L462.0,456.6L463.5,455.5L456.0,453.9L461.1,459.6L461.3,457.8L461.9,458.2ZM482.6,456.9L482.0,456.6L483.4,455.6L476.0,454.0L481.1,459.5L481.3,457.8L481.9,458.2ZM502.5,456.9L501.9,456.6L503.3,455.6L496.0,454.2L501.1,459.5L501.2,457.8L501.9,458.2ZM522.5,456.9L521.9,456.6L523.2,455.5L515.9,454.3L521.1,459.6L521.2,457.8L521.8,458.2ZM542.4,456.9L541.8,456.6L543.1,455.5L535.8,454.3L541.1,459.6L541.1,457.9L541.8,458.2ZM562.4,456.9L561.7,456.6L563.1,455.5L555.7,454.4L561.0,459.6L561.1,457.9L561.7,458.2ZM582.3,456.9L581.7,456.6L583.0,455.5L575.6,454.4L581.0,459.6L581.0,457.9L581.7,458.2ZM602.3,456.9L601.6,456.6L602.9,455.5L595.6,454.5L601.0,459.6L601.0,457.9L601.6,458.2ZM622.2,456.9L621.6,456.6L622.9,455.5L615.5,454.6L620.9,459.6L621.0,457.9L621.6,458.2ZM642.1,456.9L641.5,456.6L642.8,455.4L635.2,454.6L640.9,459.7L640.9,457.9L641.6,458.2ZM662.1,456.8L658.9,455.5L660.3,454.2L651.9,453.4L658.3,458.9L658.3,456.9L661.5,458.3ZM682.0,456.8L677.7,455.1L679.1,453.8L670.8,453.2L677.3,458.5L677.2,456.6L681.5,458.3ZM702.0,456.8L697.3,455.0L698.6,453.6L690.3,453.2L696.8,458.4L696.7,456.5L701.4,458.3ZM721.9,456.8L715.4,454.4L716.8,453.0L708.4,452.6L715.0,457.8L714.9,455.9L721.4,458.3ZM741.9,456.8L735.3,454.4L736.7,453.0L728.3,452.6L734.9,457.8L734.8,455.9L741.3,458.3ZM761.8,456.8L755.3,454.4L756.6,453.0L748.2,452.6L754.9,457.8L754.7,455.9L761.3,458.3ZM781.8,456.8L775.2,454.4L776.6,453.0L768.2,452.7L774.8,457.8L774.7,455.9L781.2,458.3ZM801.7,456.8L795.1,454.4L796.5,453.1L788.1,452.8L794.8,457.9L794.6,455.9L801.2,458.3ZM821.7,456.8L815.4,454.6L816.8,453.2L808.4,452.9L815.1,458.0L814.9,456.1L821.1,458.3ZM841.6,456.8L837.0,455.2L838.4,453.8L830.0,453.6L836.7,458.6L836.5,456.7L841.1,458.3ZM861.6,456.8L857.2,455.3L858.5,453.9L850.1,453.7L856.9,458.7L856.7,456.8L861.0,458.3ZM143.5,476.8L137.5,473.3L139.0,472.2L130.9,470.3L136.5,476.6L136.7,474.7L142.7,478.2ZM163.4,476.8L157.4,473.4L158.9,472.2L150.7,470.5L156.4,476.7L156.6,474.8L162.7,478.2ZM183.4,476.8L177.3,473.4L178.8,472.3L170.6,470.7L176.4,476.8L176.5,474.8L182.6,478.2ZM203.3,476.8L197.3,473.4L198.8,472.3L190.6,470.7L196.3,476.8L196.5,474.8L202.6,478.2ZM223.3,476.8L218.8,474.2L220.4,473.1L212.2,471.3L217.8,477.5L218.0,475.6L222.5,478.2ZM243.3,476.8L240.3,475.0L241.9,473.9L233.8,471.8L239.2,478.3L239.5,476.3L242.4,478.2ZM263.2,476.9L262.6,476.5L264.1,475.5L256.6,473.3L261.5,479.5L261.8,477.7L262.4,478.1ZM283.2,476.9L282.5,476.4L284.2,475.5L276.4,473.1L281.3,479.5L281.7,477.7L282.3,478.1ZM303.1,476.8L301.7,475.9L303.4,474.9L295.3,472.5L300.5,479.1L300.9,477.2L302.3,478.2ZM323.1,476.8L322.4,476.4L324.0,475.3L315.9,473.2L321.3,479.7L321.5,477.7L322.2,478.2ZM343.0,476.8L342.3,476.4L343.8,475.3L335.7,473.4L341.2,479.7L341.4,477.7L342.2,478.2ZM362.9,476.9L362.3,476.5L363.7,475.5L356.3,474.0L361.4,479.5L361.6,477.8L362.2,478.1ZM382.9,476.8L382.2,476.4L383.7,475.3L375.5,473.8L381.3,479.7L381.4,477.8L382.1,478.2ZM402.8,476.8L402.1,476.5L403.6,475.3L395.6,473.9L401.3,479.7L401.4,477.8L402.1,478.2ZM422.7,476.9L422.1,476.5L423.5,475.5L416.0,474.0L421.3,479.5L421.4,477.8L422.1,478.1ZM442.7,476.9L442.1,476.5L443.5,475.4L435.9,473.9L441.2,479.6L441.3,477.8L442.0,478.1ZM462.7,476.8L461.5,476.1L463.1,475.0L454.9,473.3L460.6,479.5L460.7,477.5L461.9,478.2ZM482.6,476.9L482.0,476.5L483.4,475.4L475.8,473.9L481.1,479.6L481.2,477.8L481.9,478.1ZM502.5,476.9L501.9,476.5L503.3,475.5L496.0,474.1L501.1,479.5L501.2,477.8L501.9,478.1ZM522.5,476.9L521.9,476.5L523.2,475.5L515.9,474.2L521.1,479.5L521.2,477.8L521.8,478.1ZM542.4,476.9L541.8,476.5L543.1,475.5L535.8,474.3L541.1,479.5L541.1,477.8L541.8,478.1ZM562.4,476.9L561.7,476.5L563.1,475.5L555.7,474.3L561.0,479.5L561.1,477.8L561.7,478.1ZM582.3,476.9L581.7,476.6L583.0,475.5L575.6,474.4L581.0,479.5L581.1,477.8L581.7,478.1ZM602.3,476.9L601.6,476.6L602.9,475.4L595.5,474.5L601.0,479.6L601.0,477.8L601.6,478.1ZM622.2,476.9L621.5,476.6L622.8,475.4L615.4,474.6L621.0,479.6L621.0,477.9L621.6,478.1ZM642.1,476.8L641.5,476.6L642.7,475.4L635.3,474.7L641.0,479.6L640.9,477.9L641.6,478.2ZM662.1,476.8L660.8,476.2L662.2,474.9L653.8,474.3L660.3,479.6L660.2,477.7L661.5,478.2ZM682.0,476.8L677.8,475.1L679.2,473.8L670.8,473.3L677.4,478.6L677.2,476.6L681.5,478.2ZM702.0,476.7L697.0,474.9L698.4,473.6L690.0,473.2L696.6,478.4L696.5,476.4L701.4,478.3ZM721.9,476.7L715.4,474.4L716.7,473.0L708.3,472.7L715.0,477.8L714.8,475.9L721.4,478.3ZM741.9,476.7L735.3,474.3L736.7,473.0L728.3,472.6L734.9,477.8L734.8,475.8L741.3,478.3ZM761.8,476.7L755.3,474.3L756.6,473.0L748.2,472.6L754.9,477.8L754.7,475.8L761.3,478.3ZM781.8,476.7L775.2,474.3L776.6,472.9L768.2,472.6L774.8,477.8L774.7,475.8L781.2,478.3ZM801.7,476.7L795.2,474.3L796.5,473.0L788.1,472.6L794.8,477.8L794.6,475.8L801.2,478.3ZM821.7,476.7L815.1,474.4L816.5,473.0L808.1,472.7L814.7,477.8L814.6,475.9L821.1,478.3ZM841.6,476.7L836.5,474.9L837.9,473.5L829.5,473.2L836.1,478.3L836.0,476.4L841.1,478.3ZM861.6,476.7L857.2,475.2L858.5,473.8L850.1,473.6L856.8,478.6L856.7,476.7L861.0,478.3ZM143.5,496.8L138.1,493.6L139.6,492.5L131.4,490.7L137.1,496.9L137.3,495.0L142.7,498.1ZM163.4,496.8L158.7,494.0L160.2,492.9L152.0,491.2L157.7,497.3L157.9,495.4L162.7,498.1ZM183.4,496.8L178.7,494.1L180.3,492.9L172.1,491.2L177.7,497.4L177.9,495.4L182.6,498.1ZM203.4,496.8L198.2,493.7L199.8,492.6L191.6,490.7L197.2,497.0L197.4,495.1L202.5,498.1ZM223.3,496.8L219.1,494.1L220.7,493.0L212.6,490.8L218.0,497.3L218.2,495.4L222.5,498.1ZM243.3,496.8L239.6,494.2L241.2,493.2L233.2,490.7L238.3,497.4L238.7,495.5L242.4,498.1ZM263.3,496.8L260.3,494.6L262.0,493.6L254.1,490.9L258.9,497.7L259.4,495.8L262.3,498.1ZM283.2,496.8L281.2,495.2L282.9,494.3L275.0,491.5L279.8,498.4L280.2,496.5L282.3,498.1ZM303.2,496.8L302.5,496.4L304.2,495.5L296.5,492.8L301.2,499.4L301.6,497.6L302.2,498.1ZM323.1,496.8L322.5,496.4L324.0,495.5L316.5,493.2L321.3,499.4L321.6,497.6L322.2,498.1ZM343.0,496.8L342.4,496.4L343.9,495.4L336.3,493.5L341.3,499.5L341.6,497.7L342.2,498.1ZM362.9,496.8L362.3,496.5L363.7,495.5L356.4,494.0L361.4,499.4L361.6,497.7L362.2,498.1ZM382.8,496.8L382.2,496.5L383.6,495.4L376.2,494.2L381.4,499.5L381.5,497.8L382.2,498.1ZM402.8,496.8L402.1,496.5L403.5,495.4L396.1,494.2L401.4,499.5L401.5,497.8L402.1,498.1ZM422.7,496.8L422.1,496.5L423.5,495.4L416.1,494.1L421.3,499.5L421.4,497.7L422.1,498.1ZM442.7,496.8L442.0,496.3L443.6,495.2L435.3,493.5L441.1,499.7L441.2,497.7L442.0,498.1ZM462.7,496.8L461.2,495.9L462.7,494.8L454.5,493.1L460.2,499.2L460.4,497.3L461.9,498.1ZM482.6,496.8L482.0,496.4L483.4,495.3L475.7,493.8L481.1,499.6L481.2,497.7L481.9,498.1ZM502.5,496.8L501.9,496.5L503.3,495.5L496.0,494.1L501.1,499.4L501.2,497.7L501.9,498.1ZM522.5,496.8L521.9,496.5L523.2,495.4L515.9,494.1L521.1,499.5L521.2,497.7L521.8,498.1ZM542.4,496.8L541.8,496.5L543.1,495.4L535.8,494.2L541.1,499.5L541.1,497.8L541.8,498.1ZM562.4,496.8L561.7,496.5L563.1,495.4L555.7,494.3L561.0,499.5L561.1,497.8L561.7,498.1ZM582.3,496.8L581.7,496.5L583.0,495.4L575.6,494.3L581.0,499.5L581.1,497.8L581.7,498.1ZM602.3,496.8L601.6,496.5L602.9,495.4L595.5,494.4L601.0,499.5L601.0,497.8L601.6,498.1ZM622.2,496.8L621.5,496.5L622.8,495.3L615.3,494.5L621.0,499.6L620.9,497.8L621.6,498.1ZM642.1,496.8L641.5,496.5L642.7,495.3L635.3,494.7L641.0,499.6L640.9,497.8L641.6,498.1ZM662.1,496.7L660.4,496.1L661.8,494.7L653.4,494.2L660.0,499.5L659.8,497.6L661.5,498.2ZM682.0,496.7L677.6,495.1L679.0,493.7L670.6,493.4L677.3,498.6L677.1,496.6L681.5,498.2ZM702.0,496.7L696.0,494.6L697.4,493.2L689.0,493.0L695.7,498.1L695.5,496.2L701.4,498.2ZM721.9,496.7L715.3,494.4L716.6,493.0L708.2,492.8L715.0,497.8L714.8,495.9L721.4,498.2ZM741.9,496.7L735.3,494.4L736.6,493.0L728.2,492.7L734.9,497.8L734.7,495.9L741.3,498.2ZM761.8,496.7L755.3,494.3L756.6,492.9L748.2,492.6L754.9,497.7L754.7,495.8L761.3,498.2ZM781.8,496.7L775.2,494.3L776.6,492.9L768.2,492.5L774.8,497.7L774.7,495.8L781.2,498.2ZM801.7,496.7L795.2,494.3L796.5,492.9L788.1,492.5L794.8,497.7L794.6,495.8L801.2,498.2ZM821.7,496.7L815.1,494.3L816.5,492.9L808.1,492.6L814.7,497.7L814.6,495.8L821.1,498.2ZM841.6,496.7L836.5,494.9L837.9,493.5L829.5,493.2L836.1,498.3L836.0,496.4L841.1,498.2ZM861.6,496.7L856.9,495.1L858.3,493.7L849.9,493.4L856.6,498.5L856.4,496.6L861.0,498.2ZM143.5,516.7L139.6,514.3L141.2,513.2L133.0,511.2L138.5,517.6L138.7,515.6L142.7,518.1ZM163.5,516.7L159.8,514.5L161.4,513.4L153.3,511.5L158.8,517.8L159.0,515.9L162.6,518.1ZM183.4,516.7L179.8,514.5L181.4,513.4L173.2,511.4L178.7,517.7L178.9,515.8L182.6,518.1ZM203.4,516.7L199.5,514.2L201.1,513.2L193.0,510.9L198.3,517.5L198.6,515.5L202.5,518.1ZM223.4,516.8L219.6,514.0L221.3,513.1L213.3,510.5L218.3,517.2L218.7,515.3L222.4,518.0ZM243.4,516.8L239.8,513.9L241.5,513.0L233.7,510.0L238.3,517.0L238.8,515.1L242.3,518.0ZM263.3,516.8L260.1,514.0L261.9,513.2L254.2,509.9L258.5,517.1L259.1,515.2L262.3,518.0ZM283.3,516.8L280.8,514.6L282.5,513.8L274.9,510.4L279.2,517.6L279.7,515.8L282.2,518.0ZM303.2,516.8L301.9,515.7L303.6,514.8L295.9,511.7L300.3,518.8L300.9,516.9L302.2,518.0ZM323.1,516.8L322.5,516.3L324.2,515.4L316.5,512.7L321.1,519.4L321.6,517.5L322.2,518.0ZM343.0,516.8L342.4,516.4L343.9,515.5L336.6,513.4L341.3,519.3L341.6,517.6L342.2,518.0ZM362.9,516.8L362.3,516.4L363.7,515.4L356.4,513.8L361.4,519.4L361.6,517.7L362.2,518.0ZM382.8,516.8L382.2,516.4L383.6,515.4L376.2,514.1L381.4,519.4L381.5,517.7L382.2,518.0ZM402.8,516.8L402.1,516.4L403.5,515.4L396.1,514.1L401.4,519.4L401.5,517.7L402.1,518.0ZM422.8,516.7L422.1,516.3L423.6,515.2L415.6,513.7L421.2,519.6L421.3,517.7L422.0,518.1ZM442.7,516.7L441.7,516.1L443.2,515.0L435.0,513.3L440.7,519.4L440.9,517.5L442.0,518.1ZM462.7,516.7L461.2,515.8L462.7,514.7L454.5,513.0L460.2,519.2L460.4,517.2L461.9,518.1ZM482.6,516.7L482.0,516.4L483.4,515.2L475.5,513.7L481.1,519.6L481.2,517.7L481.9,518.1ZM502.5,516.8L501.9,516.4L503.3,515.4L496.0,514.0L501.1,519.4L501.2,517.7L501.9,518.0ZM522.5,516.8L521.8,516.4L523.2,515.3L515.7,514.0L521.1,519.5L521.2,517.7L521.8,518.0ZM542.4,516.7L541.8,516.4L543.2,515.2L535.4,514.0L541.0,519.6L541.1,517.7L541.8,518.1ZM562.4,516.8L561.7,516.4L563.1,515.4L555.7,514.2L561.0,519.4L561.1,517.7L561.7,518.0ZM582.3,516.8L581.7,516.5L583.0,515.4L575.6,514.3L581.0,519.4L581.1,517.7L581.7,518.0ZM602.3,516.7L601.6,516.4L603.0,515.1L594.9,514.1L600.9,519.7L600.9,517.8L601.6,518.1ZM622.2,516.7L620.2,515.8L621.6,514.5L613.3,513.6L619.5,519.2L619.5,517.2L621.6,518.1ZM642.1,516.7L641.5,516.5L642.7,515.3L635.2,514.7L641.0,519.5L640.9,517.8L641.6,518.1ZM662.1,516.6L659.0,515.5L660.3,514.1L651.9,513.8L658.6,518.9L658.4,517.0L661.5,518.2ZM682.0,516.6L676.5,514.8L677.9,513.4L669.5,513.3L676.2,518.3L676.0,516.3L681.5,518.2ZM701.9,516.6L695.3,514.5L696.6,513.1L688.2,513.1L695.1,518.0L694.8,516.0L701.5,518.2ZM721.9,516.6L715.2,514.5L716.5,513.1L708.1,513.0L715.0,517.9L714.8,516.0L721.4,518.2ZM741.9,516.6L735.2,514.4L736.6,513.0L728.2,512.9L734.9,517.9L734.7,515.9L741.3,518.2ZM761.8,516.6L755.2,514.3L756.6,512.9L748.2,512.7L754.9,517.8L754.7,515.8L761.3,518.2ZM781.8,516.6L775.2,514.3L776.5,512.9L768.2,512.6L774.8,517.7L774.7,515.8L781.2,518.2ZM801.7,516.6L795.2,514.3L796.5,512.9L788.1,512.5L794.8,517.7L794.6,515.8L801.2,518.2ZM821.7,516.6L815.2,514.3L816.6,512.9L808.2,512.6L814.9,517.7L814.7,515.8L821.1,518.2ZM841.6,516.6L836.5,514.8L837.9,513.4L829.5,513.1L836.1,518.2L836.0,516.3L841.1,518.2ZM861.6,516.6L855.4,514.5L856.7,513.1L848.3,512.8L855.0,517.9L854.8,516.0L861.0,518.2ZM143.6,536.7L139.7,534.1L141.4,533.1L133.3,530.7L138.5,537.3L138.8,535.4L142.6,538.0ZM163.5,536.7L160.5,534.7L162.1,533.6L154.0,531.3L159.3,537.9L159.6,536.0L162.6,538.0ZM183.4,536.7L180.3,534.6L182.0,533.6L173.9,531.2L179.1,537.8L179.4,535.9L182.6,538.0ZM203.4,536.7L199.6,534.0L201.3,533.1L193.3,530.6L198.4,537.3L198.7,535.4L202.5,538.0ZM223.4,536.7L219.8,533.9L221.5,533.0L213.6,530.0L218.3,537.0L218.8,535.1L222.4,538.0ZM243.4,536.8L240.0,533.6L241.8,532.9L234.1,529.3L238.3,536.6L238.9,534.8L242.3,537.9ZM263.4,536.8L260.5,533.9L262.4,533.3L254.9,529.4L258.7,536.9L259.4,535.0L262.2,537.9ZM283.3,536.8L281.3,534.8L283.2,534.1L275.7,530.3L279.5,537.8L280.2,535.9L282.2,537.9ZM303.2,536.8L301.1,534.8L302.9,534.0L295.3,530.4L299.4,537.8L300.0,535.9L302.2,537.9ZM323.2,536.7L322.4,536.1L324.2,535.3L316.4,532.1L320.9,539.2L321.4,537.3L322.1,538.0ZM343.1,536.7L342.4,536.3L344.1,535.4L336.4,532.7L341.1,539.3L341.5,537.5L342.1,538.0ZM362.9,536.7L362.3,536.4L363.8,535.4L356.5,533.5L361.3,539.3L361.6,537.6L362.2,538.0ZM382.9,536.7L382.2,536.3L383.7,535.2L375.9,533.7L381.3,539.5L381.5,537.7L382.1,538.0ZM402.8,536.7L402.2,536.4L403.6,535.3L396.0,533.9L401.3,539.4L401.5,537.6L402.1,538.0ZM422.8,536.7L421.7,536.0L423.2,534.9L415.0,533.2L420.7,539.4L420.9,537.4L422.0,538.0ZM442.7,536.7L441.3,535.8L442.9,534.7L434.6,532.9L440.3,539.1L440.5,537.2L442.0,538.0ZM462.7,536.7L461.2,535.8L462.7,534.6L454.5,532.9L460.2,539.1L460.4,537.2L461.9,538.0ZM482.6,536.7L481.9,536.3L483.5,535.1L475.3,533.5L481.0,539.6L481.2,537.7L481.9,538.0ZM502.5,536.7L501.9,536.4L503.3,535.3L495.9,534.0L501.1,539.4L501.2,537.6L501.9,538.0ZM522.5,536.7L521.8,536.4L523.2,535.3L515.8,534.1L521.1,539.4L521.2,537.7L521.8,538.0ZM542.4,536.7L541.8,536.4L543.1,535.3L535.7,534.1L541.1,539.4L541.1,537.7L541.8,538.0ZM562.4,536.7L561.7,536.4L563.1,535.3L555.6,534.2L561.0,539.4L561.1,537.7L561.7,538.0ZM582.3,536.7L581.6,536.3L583.1,535.1L575.1,534.0L580.9,539.6L581.0,537.7L581.7,538.0ZM602.3,536.6L599.7,535.4L601.2,534.1L592.8,533.0L599.0,538.8L599.0,536.8L601.6,538.1ZM622.2,536.6L620.1,535.7L621.6,534.4L613.3,533.4L619.5,539.1L619.5,537.1L621.6,538.1ZM642.1,536.7L641.4,536.4L642.7,535.2L635.0,534.6L641.0,539.5L640.9,537.8L641.6,538.0ZM662.1,536.6L657.9,535.1L659.2,533.7L650.8,533.5L657.5,538.6L657.4,536.6L661.5,538.1ZM682.0,536.6L675.5,534.5L676.7,533.1L668.3,533.2L675.2,538.0L675.0,536.1L681.5,538.1ZM701.9,536.6L695.2,534.6L696.5,533.1L688.1,533.3L695.0,538.1L694.8,536.1L701.5,538.1ZM721.9,536.6L715.2,534.6L716.5,533.1L708.1,533.3L715.0,538.0L714.7,536.1L721.4,538.1ZM741.8,536.6L735.2,534.5L736.5,533.0L728.1,533.1L734.9,537.9L734.7,536.0L741.4,538.1ZM761.8,536.6L755.2,534.4L756.5,533.0L748.1,532.8L754.9,537.8L754.7,535.9L761.3,538.1ZM781.8,536.6L775.2,534.3L776.5,532.9L768.1,532.7L774.8,537.7L774.6,535.8L781.2,538.1ZM801.7,536.6L795.1,534.3L796.5,532.9L788.1,532.6L794.8,537.7L794.6,535.8L801.2,538.1ZM821.7,536.6L815.9,534.5L817.2,533.2L808.8,532.9L815.5,538.0L815.3,536.1L821.1,538.1ZM841.6,536.6L837.2,535.0L838.5,533.6L830.1,533.4L836.8,538.5L836.7,536.6L841.1,538.1ZM861.6,536.6L856.8,534.9L858.1,533.5L849.7,533.3L856.4,538.4L856.2,536.4L861.0,538.1ZM143.6,556.7L142.1,555.5L143.8,554.6L135.9,551.8L140.7,558.7L141.1,556.8L142.6,557.9ZM163.5,556.7L160.2,554.2L161.9,553.3L154.0,550.6L158.9,557.4L159.3,555.5L162.6,557.9ZM183.5,556.7L179.7,554.0L181.4,553.0L173.4,550.4L178.4,557.1L178.8,555.3L182.5,557.9ZM203.4,556.7L199.7,553.9L201.4,553.0L193.4,550.4L198.4,557.1L198.7,555.2L202.5,557.9ZM223.4,556.7L219.9,553.7L221.6,552.9L213.8,549.7L218.3,556.8L218.8,555.0L222.4,557.9ZM243.4,556.7L240.2,553.5L242.0,552.8L234.5,549.0L238.4,556.5L239.1,554.7L242.3,557.9ZM263.4,556.8L260.5,553.5L262.3,552.9L255.0,548.7L258.5,556.4L259.3,554.6L262.2,557.8ZM283.3,556.8L280.3,553.5L282.1,552.9L274.8,548.8L278.4,556.4L279.1,554.6L282.2,557.8ZM303.3,556.7L300.6,554.1L302.4,553.5L294.9,549.7L298.9,557.1L299.5,555.3L302.1,557.9ZM323.1,556.8L322.6,556.3L324.2,555.6L317.3,552.5L321.1,559.0L321.6,557.4L322.2,557.8ZM343.1,556.8L342.5,556.3L344.0,555.5L337.1,552.8L341.2,559.1L341.6,557.4L342.1,557.8ZM363.0,556.7L362.4,556.3L363.9,555.5L356.8,553.1L361.2,559.1L361.6,557.5L362.1,557.9ZM382.9,556.7L382.3,556.3L383.7,555.4L376.5,553.5L381.3,559.2L381.5,557.5L382.1,557.9ZM402.8,556.7L402.2,556.3L403.6,555.3L396.3,553.7L401.3,559.3L401.5,557.6L402.1,557.9ZM422.8,556.6L421.9,556.1L423.5,555.0L415.3,553.2L420.9,559.4L421.1,557.5L422.0,558.0ZM442.8,556.6L441.3,555.8L442.9,554.6L434.6,552.8L440.3,559.1L440.5,557.1L441.9,558.0ZM462.7,556.6L461.3,555.8L462.8,554.7L454.6,552.9L460.3,559.1L460.5,557.2L461.9,558.0ZM482.6,556.6L481.9,556.2L483.5,555.0L475.2,553.4L481.0,559.5L481.1,557.6L481.9,558.0ZM502.5,556.7L501.9,556.3L503.3,555.3L495.9,554.0L501.1,559.3L501.2,557.6L501.9,557.9ZM522.5,556.7L521.8,556.3L523.2,555.2L515.7,554.1L521.1,559.4L521.2,557.6L521.8,557.9ZM542.4,556.6L541.7,556.2L543.2,555.0L535.0,553.8L541.0,559.6L541.0,557.7L541.8,558.0ZM562.4,556.6L561.2,556.0L562.7,554.8L554.4,553.6L560.5,559.4L560.5,557.4L561.7,558.0ZM582.4,556.6L580.3,555.6L581.8,554.4L573.5,553.1L579.6,559.0L579.6,557.0L581.6,558.0ZM602.3,556.6L598.9,554.9L600.4,553.6L592.1,552.4L598.1,558.2L598.1,556.3L601.6,558.0ZM622.3,556.6L618.6,554.8L620.1,553.6L611.8,552.4L617.8,558.2L617.9,556.2L621.5,558.0ZM642.2,556.6L640.6,555.9L642.0,554.6L633.6,553.8L640.0,559.3L639.9,557.3L641.5,558.0ZM662.1,556.5L656.7,554.6L658.1,553.3L649.7,553.0L656.3,558.1L656.2,556.2L661.5,558.1ZM682.0,556.5L675.3,554.5L676.6,553.1L668.2,553.3L675.1,558.0L674.8,556.1L681.5,558.1ZM701.9,556.5L695.2,554.7L696.4,553.2L688.0,553.5L695.1,558.1L694.7,556.2L701.5,558.1ZM721.9,556.5L715.1,554.7L716.4,553.2L708.0,553.5L715.0,558.1L714.7,556.2L721.4,558.1ZM741.8,556.5L735.1,554.6L736.4,553.1L728.0,553.3L734.9,558.0L734.7,556.1L741.4,558.1ZM761.8,556.5L755.1,554.4L756.4,553.0L748.0,553.0L754.9,557.9L754.6,556.0L761.3,558.1ZM781.8,556.5L775.1,554.3L776.4,552.9L768.0,552.8L774.8,557.8L774.6,555.9L781.2,558.1ZM801.7,556.5L795.1,554.3L796.4,552.9L788.0,552.7L794.8,557.7L794.6,555.8L801.2,558.1ZM821.7,556.5L815.2,554.3L816.6,552.9L808.2,552.8L814.9,557.8L814.7,555.9L821.1,558.1ZM841.6,556.5L837.0,555.0L838.3,553.6L829.9,553.4L836.6,558.4L836.5,556.5L841.1,558.1ZM861.6,556.5L857.2,555.1L858.5,553.6L850.1,553.5L856.9,558.5L856.7,556.6L861.0,558.1ZM143.3,577.0L143.1,576.9L143.7,576.6L141.0,575.4L142.5,577.9L142.7,577.3L142.9,577.5ZM163.6,576.6L160.8,574.3L162.6,573.5L154.8,570.3L159.3,577.4L159.8,575.5L162.5,577.9ZM183.5,576.6L179.9,573.8L181.6,572.9L173.7,569.9L178.4,576.9L178.9,575.0L182.5,577.9ZM203.4,576.6L199.8,573.8L201.5,572.9L193.6,570.0L198.4,576.9L198.8,575.0L202.5,577.9ZM223.4,576.7L220.0,573.6L221.7,572.8L214.0,569.4L218.3,576.6L218.9,574.8L222.4,577.8ZM243.4,576.7L240.2,573.5L242.0,572.8L234.6,568.9L238.4,576.4L239.1,574.6L242.3,577.8ZM263.4,576.7L260.2,573.3L262.1,572.7L254.7,568.6L258.3,576.2L259.1,574.4L262.2,577.8ZM283.3,576.7L280.3,573.5L282.1,572.9L274.7,568.9L278.4,576.4L279.1,574.6L282.2,577.8ZM303.3,576.7L300.2,573.7L302.0,573.0L294.5,569.2L298.5,576.7L299.1,574.9L302.1,577.8ZM323.2,576.7L322.6,576.1L324.3,575.4L316.8,571.9L321.0,579.1L321.5,577.3L322.1,577.8ZM343.1,576.7L342.5,576.3L344.1,575.5L337.2,572.7L341.1,579.0L341.6,577.3L342.1,577.8ZM363.0,576.7L362.4,576.3L363.9,575.4L356.9,572.9L361.2,579.1L361.6,577.4L362.1,577.8ZM382.9,576.7L382.3,576.2L383.8,575.3L376.5,573.2L381.2,579.2L381.5,577.4L382.1,577.8ZM402.8,576.6L402.2,576.3L403.7,575.3L396.4,573.5L401.2,579.2L401.5,577.5L402.1,577.9ZM422.8,576.6L422.1,576.2L423.7,575.2L415.9,573.3L421.1,579.3L421.4,577.5L422.0,577.9ZM442.8,576.6L441.2,575.7L442.8,574.5L434.6,572.7L440.2,579.0L440.4,577.0L441.9,577.9ZM462.7,576.6L461.8,576.0L463.3,574.9L455.1,573.2L460.8,579.4L461.0,577.4L461.9,577.9ZM482.6,576.6L482.0,576.3L483.3,575.2L475.9,573.8L481.2,579.3L481.3,577.5L481.9,577.9ZM502.5,576.6L501.9,576.3L503.2,575.2L495.9,574.0L501.2,579.3L501.2,577.6L501.9,577.9ZM522.5,576.6L521.8,576.3L523.2,575.2L515.8,574.1L521.1,579.3L521.2,577.6L521.8,577.9ZM542.4,576.5L541.7,576.2L543.2,574.9L534.9,573.8L541.0,579.5L541.0,577.6L541.8,578.0ZM562.4,576.5L561.0,575.9L562.5,574.6L554.2,573.5L560.3,579.3L560.3,577.3L561.7,578.0ZM582.4,576.5L580.7,575.7L582.2,574.5L573.9,573.3L580.0,579.1L580.0,577.2L581.6,578.0ZM602.3,576.5L600.6,575.6L602.1,574.5L593.9,573.0L599.7,579.0L599.9,577.0L601.6,578.0ZM622.3,576.5L618.7,574.6L620.2,573.4L612.0,571.8L617.8,577.9L617.9,576.0L621.5,578.0ZM642.2,576.5L637.8,574.4L639.2,573.2L630.9,572.0L637.0,577.8L637.1,575.8L641.5,578.0ZM662.1,576.5L655.7,574.1L657.1,572.8L648.7,572.4L655.3,577.6L655.2,575.6L661.5,578.0ZM682.0,576.5L675.3,574.5L676.5,573.1L668.1,573.3L675.1,578.0L674.8,576.1L681.5,578.0ZM701.9,576.5L695.2,574.7L696.4,573.2L688.0,573.6L695.1,578.1L694.7,576.2L701.5,578.0ZM721.9,576.5L715.1,574.6L716.3,573.2L708.0,573.5L715.0,578.1L714.7,576.2L721.4,578.0ZM741.8,576.5L735.1,574.6L736.4,573.1L728.0,573.4L734.9,578.0L734.7,576.1L741.4,578.0ZM761.8,576.5L755.1,574.5L756.4,573.0L748.0,573.1L754.9,577.9L754.6,576.0L761.3,578.0ZM781.7,576.5L775.1,574.4L776.4,572.9L768.0,573.0L774.8,577.8L774.6,575.9L781.3,578.0ZM801.7,576.5L795.1,574.3L796.4,572.9L788.0,572.8L794.8,577.8L794.6,575.8L801.2,578.0ZM821.7,576.5L815.0,574.3L816.4,572.9L808.0,572.8L814.7,577.7L814.5,575.8L821.1,578.0ZM841.6,576.5L836.5,574.8L837.8,573.4L829.4,573.3L836.2,578.2L836.0,576.3L841.1,578.0ZM861.6,576.5L857.2,575.0L858.5,573.6L850.1,573.5L856.9,578.5L856.7,576.5L861.0,578.0ZM143.2,597.1L143.1,597.0L143.5,596.8L141.9,595.9L142.7,597.6L142.9,597.2L143.0,597.3ZM163.6,596.6L163.1,596.1L164.9,595.4L157.5,591.5L161.2,599.0L161.9,597.2L162.5,597.8ZM183.6,596.6L180.3,593.5L182.1,592.8L174.6,589.0L178.6,596.4L179.2,594.6L182.4,597.8ZM203.5,596.6L200.2,593.4L202.0,592.7L194.5,589.0L198.4,596.4L199.1,594.5L202.4,597.8ZM223.5,596.6L220.2,593.3L222.0,592.7L214.6,588.8L218.4,596.3L219.1,594.5L222.3,597.8ZM243.4,596.7L240.3,593.3L242.1,592.7L234.7,588.6L238.4,596.2L239.1,594.4L242.3,597.7ZM263.4,596.6L260.2,593.3L262.0,592.7L254.6,588.6L258.3,596.2L259.0,594.4L262.2,597.8ZM283.3,596.6L280.0,593.4L281.8,592.7L274.4,588.9L278.2,596.3L278.9,594.5L282.2,597.8ZM303.2,596.6L300.1,593.6L301.9,592.9L294.3,589.3L298.4,596.6L299.0,594.8L302.2,597.8ZM323.2,596.6L322.6,596.1L324.3,595.3L316.8,592.0L321.0,599.1L321.5,597.3L322.1,597.8ZM343.1,596.7L342.5,596.2L344.1,595.5L337.2,592.6L341.1,598.9L341.6,597.3L342.1,597.7ZM363.0,596.6L362.4,596.2L363.9,595.4L356.9,592.9L361.2,599.0L361.6,597.3L362.1,597.8ZM382.9,596.6L382.3,596.2L383.8,595.3L376.6,593.1L381.2,599.1L381.5,597.4L382.1,597.8ZM402.8,596.6L402.2,596.2L403.7,595.3L396.5,593.3L401.2,599.1L401.5,597.4L402.1,597.8ZM422.8,596.6L422.2,596.2L423.6,595.2L416.2,593.4L421.2,599.2L421.4,597.4L422.0,597.8ZM442.8,596.5L441.5,595.8L443.1,594.7L434.9,592.8L440.5,599.1L440.7,597.2L441.9,597.9ZM462.7,596.6L462.0,596.2L463.5,595.1L455.8,593.6L461.1,599.3L461.3,597.5L461.9,597.8ZM482.6,596.6L482.0,596.2L483.3,595.2L476.0,593.9L481.2,599.2L481.3,597.5L481.9,597.8ZM502.5,596.6L501.9,596.2L503.2,595.2L495.8,594.0L501.2,599.2L501.2,597.5L501.9,597.8ZM522.5,596.5L521.8,596.2L523.2,595.1L515.5,594.0L521.1,599.3L521.2,597.5L521.8,597.9ZM542.4,596.5L541.7,596.2L543.2,594.9L535.0,593.8L541.0,599.5L541.1,597.6L541.8,597.9ZM562.4,596.5L560.8,595.7L562.3,594.5L554.0,593.3L560.1,599.1L560.2,597.2L561.7,597.9ZM582.4,596.5L581.1,595.8L582.6,594.6L574.3,593.3L580.3,599.2L580.3,597.3L581.6,597.9ZM602.3,596.5L601.0,595.8L602.6,594.6L594.3,593.0L600.1,599.1L600.2,597.2L601.6,597.9ZM622.3,596.5L618.6,594.2L620.2,593.1L612.1,591.0L617.5,597.4L617.7,595.5L621.5,597.9ZM642.2,596.5L637.5,593.8L639.0,592.7L630.8,591.0L636.5,597.2L636.7,595.2L641.5,597.9ZM662.1,596.5L655.7,593.8L657.1,592.4L648.7,591.7L655.1,597.2L655.1,595.2L661.5,597.9ZM682.0,596.4L675.3,594.3L676.6,592.9L668.2,592.9L675.1,597.7L674.9,595.8L681.5,598.0ZM701.9,596.4L695.2,594.5L696.5,593.0L688.1,593.2L695.0,597.9L694.8,596.0L701.5,598.0ZM721.9,596.4L715.2,594.5L716.4,593.0L708.0,593.3L715.0,597.9L714.7,596.0L721.4,598.0ZM741.8,596.4L735.1,594.5L736.4,593.0L728.0,593.2L734.9,597.9L734.7,596.0L741.4,598.0ZM761.8,596.4L755.1,594.4L756.4,593.0L748.0,593.1L754.9,597.9L754.6,595.9L761.3,598.0ZM781.7,596.4L775.1,594.4L776.4,592.9L768.0,593.0L774.8,597.8L774.6,595.9L781.3,598.0ZM801.7,596.4L795.0,594.3L796.3,592.9L787.9,592.9L794.8,597.8L794.5,595.8L801.2,598.0ZM821.6,596.4L815.0,594.3L816.3,592.9L807.9,592.8L814.7,597.7L814.5,595.8L821.2,598.0ZM841.6,596.4L836.0,594.6L837.3,593.2L828.9,593.1L835.7,598.1L835.5,596.1L841.1,598.0ZM861.5,596.4L857.1,595.0L858.4,593.6L850.0,593.5L856.9,598.4L856.6,596.5L861.1,598.0ZM163.2,617.0L163.1,616.9L163.6,616.8L161.9,615.5L162.5,617.5L162.8,617.1L162.9,617.3ZM183.6,616.7L183.1,616.1L184.9,615.7L178.5,611.2L181.1,618.6L182.0,617.0L182.4,617.6ZM203.6,616.7L200.9,613.2L202.8,612.8L195.9,608.0L198.8,615.9L199.7,614.2L202.3,617.6ZM223.5,616.7L220.7,613.0L222.6,612.6L215.6,607.8L218.5,615.7L219.4,614.0L222.3,617.6ZM243.5,616.6L240.5,613.1L242.4,612.6L235.4,608.0L238.4,615.8L239.3,614.1L242.2,617.7ZM263.4,616.6L260.3,613.2L262.1,612.6L254.9,608.4L258.3,616.0L259.1,614.3L262.2,617.7ZM283.3,616.6L280.1,613.4L281.9,612.7L274.4,608.9L278.3,616.3L278.9,614.5L282.2,617.7ZM303.2,616.6L301.8,615.2L303.5,614.4L295.9,610.9L300.1,618.2L300.7,616.3L302.2,617.7ZM323.1,616.6L322.6,616.1L324.2,615.4L317.3,612.4L321.1,618.9L321.6,617.2L322.2,617.7ZM343.1,616.6L342.5,616.2L344.0,615.4L337.1,612.6L341.2,618.9L341.6,617.2L342.1,617.7ZM363.0,616.6L362.4,616.2L363.9,615.3L356.9,612.8L361.2,619.0L361.6,617.3L362.1,617.7ZM382.9,616.6L382.3,616.2L383.8,615.3L376.7,613.1L381.2,619.0L381.5,617.3L382.1,617.7ZM402.8,616.6L402.2,616.2L403.7,615.2L396.5,613.3L401.2,619.1L401.5,617.4L402.1,617.7ZM422.8,616.5L422.2,616.2L423.6,615.2L416.3,613.4L421.2,619.1L421.4,617.4L422.0,617.8ZM442.7,616.5L442.1,616.2L443.5,615.2L436.2,613.5L441.2,619.1L441.4,617.4L442.0,617.8ZM462.6,616.5L462.0,616.2L463.4,615.2L456.1,613.7L461.2,619.1L461.3,617.4L462.0,617.8ZM482.6,616.5L482.0,616.2L483.3,615.1L476.0,613.8L481.2,619.2L481.3,617.4L481.9,617.8ZM502.5,616.5L501.9,616.2L503.2,615.1L495.8,614.0L501.2,619.2L501.2,617.5L501.9,617.8ZM522.5,616.4L521.8,616.1L523.2,614.9L515.0,613.9L521.1,619.4L521.1,617.5L521.8,617.9ZM542.4,616.5L541.7,616.2L543.1,615.0L535.3,614.0L541.1,619.3L541.1,617.5L541.8,617.8ZM562.4,616.4L561.2,615.8L562.7,614.6L554.4,613.4L560.5,619.2L560.5,617.3L561.7,617.9ZM582.4,616.4L581.4,615.9L583.0,614.8L574.7,613.2L580.5,619.3L580.7,617.3L581.6,617.9ZM602.4,616.5L600.2,615.1L601.8,614.0L593.6,612.0L599.1,618.4L599.3,616.5L601.5,617.8ZM622.4,616.5L617.9,613.3L619.5,612.4L611.5,609.9L616.6,616.6L616.9,614.7L621.4,617.8ZM642.3,616.5L636.6,612.7L638.2,611.7L630.1,609.5L635.4,616.0L635.7,614.1L641.4,617.8ZM662.2,616.4L656.0,613.2L657.5,612.0L649.2,610.5L655.1,616.5L655.2,614.6L661.4,617.9ZM682.1,616.4L675.6,613.7L677.0,612.4L668.7,611.7L675.1,617.1L675.0,615.2L681.4,617.9ZM702.0,616.4L695.4,614.0L696.7,612.7L688.3,612.4L695.0,617.5L694.9,615.5L701.4,617.9ZM721.9,616.4L715.3,614.2L716.6,612.8L708.2,612.7L715.0,617.6L714.8,615.7L721.4,617.9ZM741.8,616.4L735.2,614.3L736.5,612.8L728.1,612.8L734.9,617.7L734.7,615.8L741.4,617.9ZM761.8,616.4L755.1,614.3L756.4,612.8L748.0,612.9L754.9,617.7L754.6,615.8L761.3,617.9ZM781.7,616.4L775.1,614.3L776.4,612.8L768.0,612.9L774.8,617.7L774.6,615.8L781.3,617.9ZM801.7,616.4L795.0,614.3L796.3,612.8L787.9,612.9L794.8,617.7L794.5,615.8L801.2,617.9ZM821.6,616.4L815.0,614.3L816.3,612.8L807.9,612.8L814.7,617.7L814.5,615.8L821.2,617.9ZM841.6,616.4L835.8,614.5L837.1,613.1L828.7,613.1L835.5,618.0L835.3,616.1L841.1,617.9ZM861.5,616.4L857.1,615.0L858.4,613.5L850.0,613.5L856.8,618.4L856.6,616.5L861.1,617.9ZM183.1,637.0L183.1,636.9L183.5,636.9L182.2,635.6L182.5,637.3L182.8,637.0L182.9,637.2ZM203.5,636.8L203.2,636.2L204.8,636.1L199.8,631.2L201.1,638.1L202.0,636.8L202.4,637.4ZM223.6,636.7L221.7,633.4L223.7,633.2L217.5,627.5L219.2,635.7L220.3,634.2L222.2,637.5ZM243.5,636.7L241.0,632.8L243.0,632.5L236.5,627.1L238.6,635.3L239.7,633.6L242.2,637.5ZM263.4,636.6L260.6,633.0L262.5,632.5L255.6,627.7L258.4,635.6L259.3,633.9L262.2,637.6ZM283.3,636.6L280.3,633.2L282.1,632.6L274.8,628.5L278.3,636.1L279.1,634.3L282.2,637.6ZM303.3,636.5L302.5,635.8L304.3,635.1L296.8,631.4L300.8,638.8L301.4,637.0L302.1,637.7ZM323.1,636.6L322.6,636.1L324.2,635.4L317.4,632.4L321.1,638.8L321.6,637.2L322.2,637.6ZM343.1,636.6L342.5,636.1L344.1,635.4L337.1,632.6L341.1,638.8L341.6,637.2L342.1,637.6ZM363.0,636.5L362.4,636.1L363.9,635.3L356.9,632.8L361.2,638.9L361.6,637.2L362.1,637.7ZM382.9,636.5L382.3,636.1L383.8,635.2L376.7,633.0L381.2,639.0L381.5,637.3L382.1,637.7ZM402.8,636.5L402.2,636.1L403.7,635.2L396.5,633.3L401.2,639.0L401.5,637.3L402.1,637.7ZM422.8,636.5L422.2,636.1L423.6,635.2L416.3,633.4L421.2,639.0L421.4,637.3L422.0,637.7ZM442.7,636.5L442.1,636.1L443.5,635.1L436.2,633.6L441.2,639.1L441.4,637.4L442.0,637.7ZM462.6,636.5L462.0,636.1L463.4,635.1L456.1,633.7L461.2,639.1L461.3,637.4L462.0,637.7ZM482.6,636.5L482.0,636.1L483.3,635.1L476.0,633.8L481.2,639.1L481.3,637.4L481.9,637.7ZM502.5,636.5L501.9,636.2L503.2,635.1L495.8,634.0L501.2,639.1L501.3,637.4L501.9,637.7ZM522.4,636.5L521.8,636.2L523.1,635.0L515.7,634.2L521.2,639.2L521.2,637.5L521.9,637.7ZM542.4,636.4L541.7,636.1L543.1,634.8L535.0,633.9L541.1,639.4L541.1,637.5L541.8,637.8ZM562.4,636.4L561.7,636.0L563.2,634.8L554.9,633.5L560.9,639.4L561.0,637.5L561.7,637.8ZM582.4,636.4L580.9,635.5L582.5,634.4L574.3,632.6L579.9,638.8L580.1,636.9L581.6,637.8ZM602.4,636.4L598.5,633.8L600.1,632.8L592.1,630.3L597.3,637.0L597.6,635.1L601.5,637.8ZM622.4,636.5L616.9,632.2L618.6,631.3L610.7,628.4L615.5,635.4L615.9,633.5L621.4,637.7ZM642.3,636.5L636.8,632.2L638.5,631.3L630.5,628.5L635.4,635.4L635.8,633.5L641.4,637.7ZM662.2,636.4L656.3,632.7L658.0,631.6L649.8,629.5L655.2,635.9L655.5,634.0L661.4,637.8ZM682.1,636.4L675.9,633.1L677.5,632.0L669.2,630.5L675.1,636.5L675.2,634.6L681.4,637.8ZM702.0,636.4L695.6,633.5L697.1,632.3L688.7,631.4L695.0,636.9L695.0,635.0L701.4,637.8ZM721.9,636.4L715.4,633.8L716.8,632.5L708.4,631.9L715.0,637.2L714.8,635.3L721.4,637.8ZM741.9,636.3L735.3,634.0L736.6,632.6L728.2,632.3L734.9,637.4L734.8,635.5L741.3,637.9ZM761.8,636.3L755.2,634.1L756.5,632.7L748.1,632.5L754.9,637.5L754.7,635.6L761.3,637.9ZM781.7,636.3L775.1,634.2L776.4,632.7L768.0,632.7L774.8,637.6L774.6,635.7L781.3,637.9ZM801.7,636.3L795.0,634.2L796.3,632.8L787.9,632.8L794.8,637.7L794.5,635.7L801.2,637.9ZM821.6,636.3L815.0,634.2L816.3,632.8L807.9,632.8L814.7,637.7L814.5,635.7L821.2,637.9ZM841.6,636.3L836.0,634.6L837.3,633.1L828.9,633.1L835.7,638.0L835.5,636.1L841.1,637.9ZM861.5,636.3L857.1,634.9L858.4,633.5L850.0,633.5L856.9,638.4L856.6,636.5L861.1,637.9ZM223.3,656.9L223.1,656.6L224.1,656.7L221.7,653.4L221.7,657.4L222.4,656.8L222.5,657.2ZM243.6,656.7L243.0,655.3L244.9,655.3L239.4,649.0L240.2,657.4L241.5,655.9L242.1,657.4ZM263.5,656.6L261.9,654.0L263.8,653.7L257.5,648.2L259.4,656.4L260.5,654.8L262.1,657.5ZM283.4,656.5L280.6,653.1L282.5,652.6L275.5,648.0L278.5,655.8L279.3,654.1L282.1,657.6ZM303.3,656.5L302.3,655.5L304.1,654.8L296.8,650.8L300.4,658.4L301.2,656.6L302.1,657.6ZM323.1,656.5L322.6,656.0L324.2,655.4L317.5,652.2L321.1,658.7L321.6,657.1L322.2,657.6ZM343.1,656.5L342.5,656.0L344.1,655.3L337.2,652.4L341.1,658.8L341.6,657.1L342.1,657.6ZM363.0,656.5L362.4,656.1L363.9,655.3L356.9,652.7L361.2,658.8L361.6,657.2L362.1,657.6ZM382.9,656.5L382.3,656.1L383.8,655.2L376.7,653.0L381.2,658.9L381.5,657.2L382.1,657.6ZM402.8,656.5L402.2,656.1L403.7,655.1L396.5,653.3L401.2,659.0L401.5,657.3L402.1,657.6ZM422.8,656.4L422.1,656.1L423.5,655.1L416.3,653.5L421.3,659.0L421.4,657.3L422.0,657.7ZM442.7,656.4L442.1,656.1L443.4,655.1L436.1,653.6L441.3,659.0L441.4,657.3L442.0,657.7ZM462.6,656.4L462.0,656.1L463.4,655.0L456.0,653.7L461.2,659.1L461.3,657.3L462.0,657.7ZM482.6,656.4L481.9,656.1L483.3,655.0L476.0,653.8L481.2,659.1L481.3,657.4L481.9,657.7ZM502.5,656.4L501.9,656.1L503.2,655.0L495.7,654.0L501.2,659.1L501.3,657.4L501.9,657.7ZM522.4,656.4L521.8,656.1L523.1,654.9L515.5,654.1L521.2,659.2L521.2,657.4L521.9,657.7ZM542.4,656.4L541.7,656.1L543.1,655.0L535.6,654.1L541.1,659.1L541.1,657.4L541.8,657.7ZM562.4,656.4L561.7,656.0L563.2,654.9L555.4,653.6L560.9,659.2L561.0,657.4L561.7,657.7ZM582.4,656.4L580.9,655.4L582.5,654.4L574.4,652.3L579.8,658.7L580.1,656.8L581.6,657.7ZM602.4,656.4L598.5,653.5L600.2,652.6L592.2,650.0L597.2,656.7L597.5,654.8L601.5,657.7ZM622.4,656.4L617.0,652.0L618.7,651.2L610.9,648.1L615.5,655.2L616.0,653.3L621.4,657.7ZM642.4,656.4L636.9,652.0L638.6,651.2L630.8,648.1L635.4,655.2L635.9,653.3L641.3,657.7ZM662.3,656.4L656.6,652.3L658.3,651.4L650.3,648.7L655.3,655.5L655.7,653.6L661.3,657.7ZM682.2,656.4L676.2,652.7L677.8,651.6L669.7,649.6L675.1,656.0L675.4,654.1L681.3,657.7ZM702.1,656.3L695.9,653.1L697.4,651.9L689.1,650.5L695.0,656.5L695.1,654.5L701.3,657.8ZM722.0,656.3L715.6,653.4L717.1,652.2L708.7,651.2L715.0,656.8L715.0,654.9L721.3,657.8ZM741.9,656.3L735.4,653.7L736.8,652.4L728.4,651.8L734.9,657.1L734.8,655.2L741.3,657.8ZM761.8,656.3L755.3,653.9L756.6,652.5L748.2,652.2L754.9,657.3L754.7,655.4L761.3,657.8ZM781.8,656.3L775.2,654.0L776.5,652.6L768.1,652.4L774.8,657.5L774.6,655.5L781.2,657.8ZM801.7,656.3L795.1,654.1L796.4,652.7L788.0,652.6L794.8,657.5L794.6,655.6L801.2,657.8ZM821.6,656.3L815.0,654.1L816.3,652.7L807.9,652.7L814.7,657.6L814.5,655.7L821.2,657.8ZM841.6,656.3L835.8,654.5L837.1,653.0L828.7,653.0L835.6,657.9L835.4,656.0L841.1,657.8ZM861.5,656.3L857.1,654.9L858.4,653.4L850.0,653.5L856.8,658.3L856.6,656.4L861.1,657.8ZM263.2,676.8L263.0,676.4L264.1,676.5L261.1,672.9L261.5,677.5L262.2,676.8L262.4,677.2ZM283.4,676.6L282.8,675.6L284.7,675.3L278.2,669.9L280.4,678.1L281.4,676.4L282.1,677.4ZM303.3,676.6L302.8,676.0L304.5,675.6L298.2,671.4L300.9,678.4L301.7,676.9L302.1,677.4ZM323.2,676.5L322.7,676.0L324.3,675.4L317.8,671.8L321.0,678.6L321.6,677.0L322.1,677.5ZM343.1,676.5L342.6,676.0L344.1,675.3L337.4,672.2L341.1,678.7L341.6,677.0L342.1,677.5ZM363.0,676.4L362.4,676.0L364.0,675.2L357.0,672.6L361.1,678.8L361.6,677.1L362.1,677.6ZM382.8,676.5L382.4,676.2L383.5,675.5L377.8,673.8L381.5,678.5L381.7,677.1L382.2,677.5ZM402.8,676.5L402.3,676.2L403.4,675.4L397.4,673.9L401.5,678.6L401.6,677.2L402.1,677.5ZM422.7,676.4L422.1,676.0L423.5,675.0L416.2,673.6L421.3,679.0L421.4,677.3L422.1,677.6ZM442.7,676.4L442.0,676.0L443.4,675.0L436.0,673.8L441.3,679.0L441.4,677.3L442.0,677.6ZM462.6,676.4L462.0,676.1L463.3,675.0L455.9,673.9L461.3,679.0L461.4,677.3L462.0,677.6ZM482.6,676.4L481.9,676.1L483.2,674.9L475.8,674.0L481.3,679.1L481.3,677.3L481.9,677.6ZM502.5,676.3L501.8,676.0L503.2,674.8L495.3,674.0L501.2,679.2L501.2,677.4L501.9,677.7ZM522.5,676.3L521.0,675.7L522.5,674.4L514.1,673.5L520.4,679.1L520.4,677.1L521.8,677.7ZM542.4,676.3L541.4,675.8L542.9,674.5L534.5,673.5L540.7,679.2L540.7,677.2L541.8,677.7ZM562.4,676.3L561.7,676.0L563.2,674.9L555.4,673.4L560.9,679.1L561.0,677.3L561.7,677.7ZM582.4,676.3L580.9,675.3L582.5,674.3L574.4,672.2L579.7,678.6L580.0,676.7L581.6,677.7ZM602.4,676.4L598.3,673.3L600.0,672.3L592.0,669.6L596.9,676.5L597.3,674.6L601.5,677.6ZM622.4,676.4L617.3,672.2L619.0,671.3L611.2,668.2L615.8,675.3L616.3,673.4L621.4,677.6ZM642.4,676.4L637.0,671.9L638.8,671.1L631.0,667.9L635.5,675.0L636.0,673.2L641.3,677.6ZM662.3,676.4L656.8,672.1L658.5,671.2L650.6,668.3L655.3,675.2L655.8,673.4L661.3,677.6ZM682.2,676.3L676.4,672.4L678.1,671.4L670.0,669.1L675.2,675.7L675.5,673.7L681.3,677.7ZM702.1,676.3L696.1,672.8L697.6,671.7L689.4,669.9L695.1,676.1L695.3,674.2L701.3,677.7ZM722.0,676.3L715.8,673.2L717.3,671.9L709.0,670.7L715.0,676.5L715.0,674.6L721.3,677.7ZM741.9,676.3L735.5,673.5L737.0,672.2L728.6,671.3L734.9,676.9L734.9,674.9L741.3,677.7ZM761.8,676.3L755.3,673.7L756.7,672.4L748.3,671.8L754.9,677.1L754.8,675.2L761.3,677.7ZM781.8,676.2L775.2,673.9L776.5,672.5L768.2,672.2L774.8,677.3L774.7,675.4L781.2,677.8ZM801.7,676.2L795.1,674.0L796.4,672.6L788.0,672.4L794.8,677.4L794.6,675.5L801.2,677.8ZM821.6,676.2L815.0,674.1L816.3,672.6L807.9,672.6L814.7,677.5L814.5,675.6L821.2,677.8ZM841.6,676.2L835.1,674.2L836.4,672.7L828.0,672.7L834.9,677.6L834.6,675.7L841.1,677.8ZM861.5,676.2L856.6,674.7L857.9,673.2L849.5,673.3L856.4,678.1L856.1,676.2L861.1,677.8ZM243.0,696.9L243.0,696.8L243.4,696.9L242.7,695.1L242.3,697.0L242.7,696.8L242.7,697.0ZM263.2,696.8L263.1,696.4L264.2,696.6L261.7,692.6L261.4,697.3L262.3,696.6L262.4,697.1ZM283.3,696.7L283.1,696.1L284.7,696.1L280.1,691.0L280.8,697.8L281.9,696.6L282.2,697.2ZM303.3,696.6L302.9,696.0L304.6,695.7L298.9,691.0L300.8,698.2L301.7,696.7L302.1,697.3ZM323.2,696.5L322.7,696.0L324.4,695.5L318.1,691.5L320.9,698.4L321.7,696.9L322.1,697.4ZM343.1,696.4L342.6,695.9L344.2,695.3L337.5,692.0L341.0,698.6L341.6,697.0L342.1,697.5ZM363.0,696.4L362.4,696.0L364.0,695.2L357.1,692.5L361.1,698.7L361.6,697.1L362.1,697.5ZM382.8,696.5L382.4,696.2L383.5,695.5L378.0,693.8L381.5,698.4L381.7,697.1L382.2,697.4ZM402.7,696.5L402.3,696.2L403.4,695.4L397.5,694.0L401.5,698.5L401.7,697.1L402.2,697.4ZM422.7,696.3L422.1,696.0L423.5,694.9L416.1,693.6L421.3,699.0L421.4,697.2L422.1,697.6ZM442.7,696.3L442.0,696.0L443.3,694.9L435.9,693.9L441.4,699.0L441.4,697.3L442.0,697.6ZM462.6,696.3L461.9,696.0L463.2,694.9L455.8,694.1L461.4,699.0L461.4,697.3L462.0,697.6ZM482.5,696.3L481.9,696.0L483.1,694.9L475.7,694.2L481.4,699.0L481.3,697.3L482.0,697.6ZM502.5,696.3L501.8,696.0L503.1,694.8L495.6,694.2L501.3,699.1L501.3,697.3L501.9,697.6ZM522.4,696.3L521.7,696.0L523.1,694.8L515.3,694.1L521.2,699.1L521.2,697.4L521.9,697.6ZM542.4,696.3L541.7,695.9L543.1,694.7L535.1,693.7L541.1,699.2L541.1,697.3L541.8,697.6ZM562.4,696.3L561.7,695.9L563.2,694.8L555.4,693.4L560.9,699.1L561.0,697.3L561.7,697.6ZM582.4,696.3L581.2,695.5L582.8,694.4L574.6,692.3L580.0,698.7L580.3,696.8L581.6,697.6ZM602.4,696.3L599.2,693.9L600.9,693.0L592.9,690.3L597.8,697.1L598.2,695.2L601.5,697.6ZM622.4,696.3L618.8,693.3L620.5,692.5L612.7,689.4L617.2,696.4L617.7,694.6L621.4,697.6ZM642.4,696.3L638.1,692.7L639.8,691.9L632.1,688.7L636.5,695.8L637.1,693.9L641.3,697.6ZM662.3,696.3L657.4,692.4L659.1,691.5L651.2,688.5L655.9,695.5L656.4,693.6L661.3,697.6ZM682.2,696.3L676.7,692.5L678.4,691.5L670.4,689.0L675.5,695.7L675.8,693.8L681.3,697.6ZM702.1,696.3L696.2,692.7L697.8,691.6L689.7,689.6L695.2,696.0L695.4,694.0L701.3,697.6ZM722.0,696.2L715.8,693.0L717.4,691.8L709.1,690.3L715.0,696.3L715.1,694.4L721.3,697.7ZM741.9,696.2L735.6,693.3L737.1,692.0L728.7,691.0L734.9,696.7L734.9,694.7L741.3,697.7ZM761.9,696.2L755.4,693.6L756.8,692.2L748.5,691.6L754.9,697.0L754.8,695.0L761.2,697.7ZM781.8,696.2L775.3,693.8L776.6,692.4L768.2,692.0L774.8,697.2L774.7,695.3L781.2,697.7ZM801.7,696.2L795.1,693.9L796.5,692.5L788.1,692.3L794.8,697.3L794.6,695.4L801.2,697.7ZM821.7,696.2L815.0,694.0L816.3,692.6L807.9,692.4L814.7,697.4L814.5,695.5L821.1,697.7ZM841.6,696.2L835.0,694.0L836.3,692.6L827.9,692.5L834.7,697.5L834.5,695.5L841.1,697.7ZM861.5,696.2L855.0,694.1L856.3,692.7L847.9,692.6L854.8,697.5L854.5,695.6L861.1,697.7ZM243.2,716.9L243.2,716.5L244.1,716.8L242.6,713.1L241.6,717.0L242.5,716.5L242.5,716.9ZM263.4,716.8L263.3,716.2L264.6,716.6L261.8,711.3L261.0,717.2L262.1,716.4L262.2,717.0ZM283.4,716.7L283.2,716.0L284.9,716.2L280.5,710.2L280.6,717.6L281.9,716.5L282.1,717.1ZM303.3,716.6L303.0,715.9L304.7,715.8L299.3,710.7L300.7,718.0L301.7,716.6L302.1,717.2ZM323.2,716.5L322.8,715.9L324.5,715.5L318.4,711.2L320.8,718.3L321.7,716.8L322.1,717.3ZM343.1,716.4L342.6,715.9L344.2,715.3L337.7,711.8L341.0,718.5L341.6,716.9L342.1,717.4ZM363.0,716.4L362.5,715.9L364.0,715.2L357.1,712.3L361.1,718.6L361.6,717.0L362.1,717.4ZM382.9,716.3L382.3,715.9L383.8,715.1L376.8,713.0L381.2,718.7L381.5,717.1L382.1,717.5ZM402.8,716.3L402.2,716.0L403.5,715.1L396.7,713.5L401.4,718.7L401.5,717.1L402.1,717.5ZM422.7,716.3L422.1,716.0L423.4,714.9L416.3,713.8L421.4,718.9L421.5,717.2L422.1,717.5ZM442.6,716.3L442.0,716.0L443.3,714.9L436.0,714.0L441.4,718.9L441.4,717.2L442.1,717.5ZM462.6,716.2L461.9,716.0L463.2,714.8L455.8,714.1L461.4,719.0L461.4,717.3L462.0,717.6ZM482.5,716.2L481.9,716.0L483.1,714.8L475.7,714.2L481.4,719.0L481.3,717.3L482.0,717.6ZM502.5,716.2L501.8,716.0L503.1,714.8L495.5,714.2L501.3,719.0L501.3,717.3L501.9,717.6ZM522.5,716.2L521.1,715.6L522.6,714.3L514.2,713.6L520.6,719.0L520.5,717.1L521.8,717.6ZM542.4,716.2L540.9,715.4L542.3,714.2L534.0,713.1L540.2,718.8L540.2,716.9L541.8,717.6ZM562.4,716.2L560.9,715.4L562.4,714.2L554.2,712.7L560.0,718.7L560.1,716.8L561.7,717.6ZM582.4,716.2L581.8,715.8L583.3,714.8L575.5,712.8L580.7,719.0L580.9,717.1L581.6,717.6ZM602.4,716.2L599.7,714.3L601.4,713.3L593.4,710.7L598.4,717.5L598.8,715.6L601.5,717.6ZM622.4,716.3L618.8,713.4L620.5,712.5L612.6,709.6L617.3,716.5L617.8,714.7L621.4,717.5ZM642.4,716.3L638.8,713.3L640.5,712.5L632.7,709.4L637.3,716.5L637.8,714.6L641.3,717.5ZM662.3,716.3L658.4,713.2L660.1,712.3L652.2,709.5L656.9,716.4L657.4,714.5L661.3,717.5ZM682.2,716.2L678.2,713.5L679.9,712.5L671.8,710.0L677.0,716.7L677.3,714.8L681.3,717.6ZM702.1,716.2L697.7,713.5L699.3,712.4L691.1,710.4L696.6,716.8L696.8,714.9L701.3,717.6ZM722.0,716.2L716.3,713.1L717.8,712.0L709.6,710.4L715.4,716.5L715.5,714.5L721.3,717.6ZM741.9,716.2L735.7,713.2L737.2,712.0L728.8,710.9L735.0,716.6L735.0,714.7L741.3,717.6ZM761.9,716.2L756.5,713.9L757.9,712.6L749.6,711.9L755.9,717.3L755.9,715.4L761.2,717.6ZM781.8,716.2L776.2,714.0L777.6,712.7L769.2,712.2L775.8,717.4L775.6,715.5L781.2,717.6ZM801.7,716.1L795.2,713.8L796.6,712.4L788.2,712.1L794.8,717.3L794.7,715.3L801.2,717.7ZM821.7,716.1L815.1,713.9L816.4,712.5L808.0,712.3L814.7,717.3L814.5,715.4L821.1,717.7ZM841.6,716.1L835.0,713.9L836.3,712.5L827.9,712.4L834.7,717.4L834.5,715.4L841.1,717.7ZM861.6,716.1L854.9,713.9L856.2,712.5L847.8,712.4L854.6,717.4L854.4,715.5L861.0,717.7ZM223.1,736.8L223.1,736.6L223.5,736.8L222.8,734.9L222.3,736.9L222.7,736.7L222.7,736.9ZM243.3,736.8L243.2,736.4L244.2,736.7L242.5,732.6L241.5,737.0L242.4,736.5L242.4,736.9ZM263.3,736.8L263.2,736.3L264.2,736.6L261.9,732.3L261.4,737.1L262.3,736.5L262.3,736.9ZM283.4,736.6L283.2,736.0L284.8,736.1L280.6,730.3L280.7,737.6L281.9,736.4L282.1,737.1ZM303.3,736.5L303.0,735.9L304.7,735.8L299.4,730.5L300.7,737.9L301.7,736.5L302.1,737.2ZM323.2,736.4L322.8,735.9L324.5,735.5L318.5,731.1L320.8,738.2L321.7,736.7L322.1,737.3ZM343.1,736.4L342.6,735.8L344.3,735.3L337.7,731.7L340.9,738.4L341.6,736.8L342.1,737.3ZM363.0,736.3L362.5,735.9L364.0,735.1L357.2,732.3L361.1,738.6L361.6,736.9L362.1,737.4ZM382.8,736.4L382.4,736.1L383.5,735.4L378.1,733.8L381.5,738.3L381.7,737.0L382.2,737.3ZM402.7,736.5L402.3,736.3L403.1,735.7L399.0,734.8L401.8,738.0L401.9,737.0L402.2,737.2ZM422.6,736.5L422.2,736.4L422.9,735.8L419.3,735.3L421.9,737.9L421.9,737.0L422.2,737.2ZM442.5,736.4L442.1,736.2L443.0,735.5L438.1,734.9L441.7,738.2L441.7,737.1L442.2,737.3ZM462.5,736.4L462.0,736.1L463.0,735.3L457.3,734.7L461.6,738.4L461.6,737.1L462.1,737.3ZM482.5,736.2L481.9,736.0L483.1,734.8L475.9,734.3L481.4,738.9L481.4,737.2L482.0,737.5ZM502.5,736.2L501.8,735.9L503.1,734.7L495.4,734.0L501.3,739.0L501.2,737.3L501.9,737.5ZM522.5,736.1L520.9,735.4L522.3,734.1L514.0,733.3L520.3,738.8L520.3,736.9L521.8,737.6ZM542.4,736.1L541.5,735.7L543.0,734.4L534.6,733.3L540.8,739.1L540.8,737.1L541.8,737.6ZM562.4,736.2L561.7,735.8L563.2,734.7L555.3,733.2L560.9,739.0L561.0,737.2L561.7,737.5ZM582.4,736.2L581.8,735.8L583.2,734.8L575.7,733.0L580.8,738.9L581.0,737.1L581.6,737.5ZM602.4,736.2L599.3,734.1L601.0,733.1L592.9,730.7L598.1,737.3L598.4,735.4L601.5,737.5ZM622.4,736.2L618.6,733.5L620.3,732.5L612.3,729.9L617.3,736.7L617.7,734.8L621.4,737.5ZM642.3,736.2L638.6,733.4L640.3,732.5L632.3,729.8L637.2,736.6L637.6,734.7L641.4,737.5ZM662.3,736.2L658.4,733.5L660.1,732.5L652.1,730.0L657.1,736.7L657.5,734.8L661.3,737.5ZM682.2,736.2L678.3,733.7L679.9,732.6L671.8,730.4L677.1,736.9L677.4,735.0L681.3,737.5ZM702.1,736.2L698.1,733.8L699.7,732.7L691.5,730.9L697.1,737.1L697.3,735.2L701.3,737.5ZM722.0,736.1L717.8,734.0L719.4,732.8L711.1,731.3L717.0,737.3L717.1,735.4L721.3,737.6ZM741.9,736.1L737.2,733.9L738.7,732.7L730.3,731.6L736.5,737.3L736.5,735.4L741.3,737.6ZM761.9,736.1L757.5,734.3L758.9,733.0L750.5,732.2L756.9,737.7L756.9,735.8L761.2,737.6ZM781.8,736.1L777.4,734.4L778.8,733.1L770.4,732.6L776.9,737.8L776.8,735.9L781.2,737.6ZM801.7,736.1L797.0,734.4L798.4,733.0L790.0,732.7L796.6,737.8L796.5,735.9L801.2,737.6ZM821.7,736.1L816.1,734.2L817.5,732.8L809.1,732.5L815.8,737.6L815.6,735.7L821.1,737.6ZM841.6,736.1L835.0,733.8L836.4,732.4L828.0,732.2L834.7,737.3L834.5,735.3L841.1,737.6ZM861.6,736.1L854.9,733.8L856.3,732.4L847.9,732.3L854.6,737.3L854.4,735.3L861.0,737.6ZM243.2,756.7L243.2,756.3L244.1,756.6L242.2,752.9L241.6,757.0L242.4,756.5L242.5,756.9ZM263.2,756.7L263.1,756.3L264.1,756.5L261.8,752.6L261.5,757.1L262.3,756.5L262.4,756.9ZM283.3,756.6L283.1,756.0L284.5,756.1L280.7,751.3L281.0,757.5L282.0,756.5L282.2,757.0ZM303.3,756.5L303.0,755.8L304.7,755.7L299.3,750.6L300.7,757.9L301.7,756.5L302.1,757.1ZM323.2,756.4L322.8,755.8L324.5,755.5L318.5,751.1L320.8,758.1L321.7,756.6L322.1,757.2ZM343.1,756.3L342.6,755.8L344.2,755.2L337.7,751.6L341.0,758.4L341.6,756.8L342.1,757.3ZM363.0,756.3L362.5,755.8L364.0,755.1L357.2,752.3L361.1,758.5L361.6,756.9L362.1,757.3ZM382.8,756.4L382.4,756.1L383.3,755.6L378.6,754.1L381.7,758.0L381.8,756.9L382.2,757.2ZM402.6,756.5L402.3,756.4L402.9,756.0L399.9,755.4L402.0,757.6L402.1,756.9L402.3,757.1ZM442.5,756.5L442.2,756.3L442.9,755.7L438.9,755.2L441.8,757.9L441.8,757.0L442.2,757.1ZM462.5,756.4L462.1,756.2L462.8,755.5L458.3,755.1L461.8,758.1L461.7,757.0L462.1,757.2ZM482.5,756.2L481.9,756.0L483.0,755.0L476.6,754.4L481.5,758.6L481.5,757.1L482.0,757.4ZM502.5,756.1L501.6,755.7L503.0,754.4L494.6,753.6L501.0,759.1L501.0,757.1L501.9,757.5ZM522.5,756.1L521.6,755.7L523.1,754.4L514.7,753.5L521.0,759.1L521.0,757.1L521.8,757.5ZM542.4,756.2L541.8,755.8L543.1,754.7L535.7,753.7L541.1,758.9L541.1,757.1L541.8,757.4ZM562.4,756.2L561.8,755.8L563.1,754.8L555.8,753.5L561.0,758.8L561.1,757.1L561.7,757.4ZM582.4,756.1L581.7,755.7L583.2,754.7L575.4,752.9L580.8,758.9L580.9,757.1L581.6,757.5ZM602.4,756.1L598.9,753.9L600.5,752.9L592.4,750.8L597.8,757.2L598.0,755.3L601.5,757.5ZM622.3,756.1L618.9,753.8L620.5,752.8L612.4,750.6L617.7,757.1L618.0,755.2L621.5,757.5ZM642.3,756.1L638.2,753.4L639.8,752.4L631.7,750.2L637.0,756.7L637.3,754.8L641.4,757.5ZM662.2,756.1L657.9,753.4L659.6,752.4L651.4,750.3L656.8,756.7L657.1,754.8L661.4,757.5ZM682.2,756.1L678.2,753.8L679.8,752.7L671.6,750.8L677.2,757.1L677.4,755.1L681.3,757.5ZM702.1,756.1L698.0,753.9L699.6,752.7L691.3,751.1L697.1,757.2L697.3,755.3L701.3,757.5ZM722.0,756.1L717.9,754.0L719.4,752.8L711.1,751.5L717.1,757.4L717.2,755.5L721.3,757.5ZM741.9,756.1L737.7,754.2L739.2,752.9L730.8,751.9L737.1,757.6L737.1,755.6L741.3,757.5ZM761.9,756.1L757.6,754.3L759.0,753.0L750.6,752.3L757.0,757.7L757.0,755.8L761.2,757.5ZM781.8,756.1L777.5,754.4L778.8,753.1L770.4,752.6L777.0,757.8L776.9,755.9L781.2,757.5ZM801.7,756.0L797.4,754.5L798.7,753.1L790.3,752.8L797.0,757.9L796.8,756.0L801.2,757.6ZM821.7,756.0L817.3,754.5L818.6,753.1L810.2,752.8L816.9,757.9L816.7,756.0L821.1,757.6ZM841.6,756.0L836.4,754.2L837.7,752.8L829.3,752.5L836.0,757.6L835.8,755.7L841.1,757.6ZM861.6,756.0L855.5,753.9L856.8,752.5L848.4,752.3L855.1,757.3L854.9,755.4L861.0,757.6ZM243.1,776.7L243.0,776.4L243.7,776.6L242.3,774.2L242.0,776.9L242.5,776.6L242.6,776.8ZM263.2,776.6L263.1,776.2L264.1,776.3L261.5,772.7L261.5,777.2L262.3,776.5L262.4,776.9ZM283.2,776.6L283.0,776.1L284.1,776.2L280.9,772.5L281.4,777.3L282.1,776.5L282.3,776.9ZM303.3,776.4L302.9,775.8L304.5,775.7L299.4,771.1L300.9,777.8L301.8,776.5L302.1,777.1ZM323.2,776.3L322.8,775.8L324.5,775.4L318.3,771.1L320.8,778.1L321.7,776.6L322.1,777.2ZM343.1,776.3L342.6,775.7L344.2,775.2L337.7,771.7L341.0,778.3L341.6,776.7L342.1,777.2ZM363.0,776.2L362.5,775.8L364.0,775.0L357.1,772.2L361.1,778.5L361.6,776.8L362.1,777.3ZM382.8,776.3L382.3,775.9L383.6,775.2L377.5,773.4L381.4,778.3L381.7,776.9L382.2,777.2ZM402.7,776.4L402.3,776.2L403.1,775.6L398.7,774.6L401.8,777.9L401.9,776.9L402.2,777.1ZM422.6,776.4L422.2,776.3L422.9,775.8L419.4,775.2L421.9,777.7L421.9,776.9L422.2,777.1ZM442.5,776.4L442.1,776.2L442.9,775.5L438.5,775.0L441.8,778.0L441.8,777.0L442.2,777.1ZM462.5,776.3L462.1,776.1L462.9,775.4L458.1,774.9L461.7,778.1L461.7,777.0L462.1,777.2ZM482.5,776.1L481.9,775.8L483.1,774.7L476.0,774.0L481.4,778.8L481.3,777.1L482.0,777.4ZM502.5,776.1L501.8,775.8L503.2,774.6L495.4,773.7L501.2,778.9L501.2,777.1L501.9,777.4ZM522.4,776.1L521.8,775.8L523.1,774.7L515.6,773.8L521.2,778.8L521.2,777.1L521.9,777.4ZM542.4,776.1L541.8,775.8L543.1,774.7L535.7,773.7L541.1,778.8L541.2,777.1L541.8,777.4ZM562.4,776.1L561.7,775.8L563.1,774.7L555.8,773.5L561.0,778.8L561.1,777.1L561.7,777.4ZM582.4,776.1L581.7,775.8L583.1,774.7L575.7,773.2L580.9,778.8L581.0,777.0L581.6,777.4ZM602.3,776.2L601.7,775.9L603.0,775.0L596.6,773.6L600.9,778.5L601.1,777.0L601.6,777.3ZM622.1,776.5L621.8,776.3L622.4,775.8L619.0,775.0L621.4,777.7L621.4,776.9L621.7,777.0ZM642.2,776.2L641.6,775.8L642.9,774.9L636.0,773.4L640.8,778.6L640.9,777.0L641.5,777.3ZM662.2,776.1L658.8,774.2L660.4,773.0L652.2,771.4L657.9,777.5L658.1,775.6L661.4,777.4ZM682.1,776.0L678.1,773.9L679.6,772.7L671.3,771.2L677.2,777.2L677.3,775.3L681.4,777.5ZM702.1,776.0L697.9,774.0L699.4,772.7L691.1,771.4L697.1,777.3L697.2,775.4L701.3,777.5ZM722.0,776.0L717.8,774.1L719.3,772.8L710.9,771.7L717.1,777.4L717.1,775.5L721.3,777.5ZM741.9,776.0L737.7,774.2L739.1,772.9L730.7,772.1L737.1,777.6L737.0,775.6L741.3,777.5ZM761.8,776.0L757.6,774.3L759.0,773.0L750.6,772.4L757.0,777.7L757.0,775.8L761.3,777.5ZM781.8,776.0L777.4,774.4L778.8,773.0L770.4,772.6L777.0,777.8L776.9,775.9L781.2,777.5ZM801.7,776.0L797.4,774.4L798.7,773.0L790.3,772.7L797.0,777.9L796.8,775.9L801.2,777.5ZM821.7,776.0L817.3,774.4L818.7,773.0L810.3,772.8L816.9,777.9L816.8,775.9L821.1,777.5ZM841.6,776.0L837.3,774.4L838.6,773.0L830.2,772.7L836.9,777.9L836.7,775.9L841.1,777.5ZM861.6,776.0L857.2,774.4L858.5,773.0L850.1,772.7L856.8,777.8L856.6,775.9L861.0,777.5ZM263.1,796.6L263.0,796.2L263.8,796.3L261.5,793.5L261.8,797.1L262.3,796.5L262.5,796.8ZM283.1,796.5L282.9,796.1L284.0,796.1L280.8,792.9L281.5,797.3L282.2,796.5L282.4,796.9ZM303.1,796.4L302.8,796.1L304.0,795.9L300.2,792.8L301.4,797.5L302.1,796.6L302.3,797.0ZM323.2,796.3L322.8,795.8L324.3,795.4L318.5,791.5L321.0,798.0L321.7,796.6L322.1,797.1ZM343.1,796.2L342.6,795.7L344.2,795.1L337.6,791.7L341.0,798.3L341.6,796.7L342.1,797.2ZM363.0,796.2L362.5,795.7L364.0,794.9L357.1,792.2L361.1,798.5L361.6,796.8L362.1,797.2ZM382.9,796.1L382.3,795.7L383.8,794.8L376.7,792.7L381.2,798.6L381.5,796.9L382.1,797.3ZM402.8,796.1L402.2,795.8L403.5,794.9L396.7,793.4L401.4,798.5L401.5,796.9L402.1,797.3ZM422.7,796.2L422.1,795.9L423.3,795.0L417.0,793.9L421.5,798.4L421.6,797.0L422.1,797.2ZM442.6,796.2L442.1,795.9L443.2,795.0L437.0,794.1L441.5,798.4L441.6,797.0L442.1,797.2ZM462.6,796.1L462.0,795.8L463.2,794.8L456.3,794.0L461.4,798.6L461.4,797.0L462.0,797.3ZM482.5,796.0L481.9,795.7L483.2,794.6L475.6,793.7L481.3,798.8L481.3,797.1L482.0,797.4ZM502.5,796.1L501.8,795.8L503.1,794.6L495.7,793.8L501.3,798.8L501.3,797.1L501.9,797.3ZM522.4,796.1L521.8,795.8L523.1,794.6L515.7,793.7L521.2,798.8L521.2,797.0L521.9,797.3ZM542.4,796.1L541.8,795.8L543.1,794.7L535.7,793.6L541.1,798.7L541.2,797.0L541.8,797.3ZM562.4,796.1L561.7,795.7L563.1,794.7L555.7,793.5L561.0,798.7L561.1,797.0L561.7,797.3ZM582.3,796.1L581.7,795.7L583.1,794.7L575.7,793.4L580.9,798.7L581.0,797.0L581.7,797.3ZM602.2,796.3L601.8,796.1L602.6,795.4L598.0,794.5L601.3,798.0L601.3,796.9L601.7,797.1ZM662.0,796.2L661.6,796.0L662.6,795.2L657.1,794.3L661.0,798.2L661.1,796.9L661.6,797.2ZM682.1,796.0L678.1,794.0L679.6,792.8L671.3,791.5L677.4,797.4L677.4,795.5L681.4,797.4ZM702.0,796.0L697.9,794.0L699.3,792.8L691.0,791.7L697.1,797.4L697.2,795.5L701.4,797.4ZM722.0,796.0L717.7,794.1L719.2,792.8L710.8,791.9L717.1,797.5L717.1,795.6L721.3,797.4ZM741.9,796.0L737.6,794.2L739.1,792.9L730.7,792.1L737.1,797.6L737.0,795.7L741.3,797.4ZM761.8,796.0L757.5,794.3L758.9,792.9L750.5,792.4L757.1,797.7L757.0,795.8L761.3,797.4ZM781.8,796.0L777.4,794.3L778.8,793.0L770.4,792.6L777.0,797.8L776.9,795.8L781.2,797.4ZM801.7,795.9L797.4,794.4L798.7,793.0L790.3,792.7L797.0,797.8L796.8,795.9L801.2,797.5ZM821.7,795.9L817.3,794.4L818.7,793.0L810.3,792.7L816.9,797.8L816.8,795.9L821.1,797.5ZM841.6,795.9L837.3,794.4L838.6,793.0L830.2,792.7L836.9,797.8L836.7,795.9L841.1,797.5ZM861.6,795.9L857.2,794.4L858.6,793.0L850.2,792.7L856.8,797.8L856.7,795.9L861.0,797.5Z"/>
</g>
<g clip-path="url(#mc)">
<g fill="none" stroke="#00008b" stroke-width="1.5" stroke-opacity="0.9" stroke-linejoin="round">
<path d="M212.5,113.5C213.1,114.3 214.8,116.8 216.2,118.5C217.7,120.2 220.0,121.8 221.2,123.5C222.5,125.2 221.9,126.8 223.8,128.5C225.6,130.2 229.4,131.4 232.5,133.5C235.6,135.6 239.2,137.5 242.5,141.0C245.8,144.5 249.4,151.2 252.5,154.8C255.6,158.3 258.8,159.1 261.2,162.2C263.8,165.4 265.8,170.0 267.5,173.5C269.2,177.0 270.3,180.2 271.2,183.5C272.2,186.8 272.2,190.6 273.0,193.5C273.8,196.4 274.7,198.1 276.2,201.0C277.8,203.9 280.6,207.9 282.5,211.0C284.4,214.1 285.4,216.8 287.5,219.8C289.6,222.7 292.5,225.6 295.0,228.5C297.5,231.4 300.0,234.1 302.5,237.2C305.0,240.4 307.5,244.3 310.0,247.2C312.5,250.2 314.6,253.1 317.5,254.8C320.4,256.4 323.8,256.3 327.5,257.2C331.2,258.2 336.2,259.5 340.0,260.5C343.8,261.5 347.1,262.7 350.0,263.5C352.9,264.3 354.8,265.3 357.5,265.5C360.2,265.7 362.9,265.1 366.0,264.8C369.1,264.4 373.1,263.5 376.0,263.5C378.9,263.5 381.6,264.1 383.5,264.8C385.4,265.4 386.0,265.8 387.2,267.2C388.5,268.7 389.8,271.2 391.0,273.5C392.2,275.8 393.3,278.5 394.8,281.0C396.2,283.5 397.9,286.2 399.8,288.5C401.6,290.8 403.7,292.5 406.0,294.8C408.3,297.0 411.2,299.2 413.5,302.0C415.8,304.8 417.7,307.8 419.8,311.2C421.8,314.7 423.9,318.5 426.0,322.5C428.1,326.5 430.8,331.2 432.2,335.0C433.7,338.8 434.1,341.7 434.8,345.0C435.4,348.3 436.2,351.7 436.0,355.0C435.8,358.3 434.1,361.7 433.5,365.0C432.9,368.3 432.4,374.1 432.2,375.0C432.1,375.9 432.6,370.3 432.7,370.7C432.7,371.1 432.2,374.8 432.7,377.3C433.1,379.8 434.1,382.9 435.2,385.7C436.3,388.4 437.8,391.2 439.3,394.0C440.9,396.8 442.7,399.8 444.3,402.3C446.0,404.8 448.1,407.1 449.3,409.0C450.6,410.9 451.6,412.5 451.8,414.0C452.1,415.5 451.7,416.8 451.0,418.2C450.3,419.6 448.8,420.5 447.7,422.3C446.6,424.1 445.0,426.8 444.3,429.0C443.6,431.2 443.5,433.4 443.5,435.7C443.5,437.9 443.6,439.8 444.3,442.3C445.0,444.8 446.4,447.9 447.7,450.7C448.9,453.4 450.4,456.5 451.8,459.0C453.2,461.5 455.2,463.4 456.0,465.7C456.8,467.9 457.0,469.8 456.8,472.3C456.7,474.8 455.3,477.6 455.2,480.7C455.0,483.7 455.4,487.1 456.0,490.7C456.6,494.3 457.5,498.4 458.5,502.3C459.5,506.2 460.9,510.7 461.8,514.0C462.8,517.3 463.6,520.0 464.3,522.3C465.0,524.7 465.9,527.1 466.0,528.0C466.1,528.9 464.6,526.9 465.2,528.0C465.7,529.1 467.9,532.4 469.3,534.7C470.7,536.9 472.2,539.1 473.5,541.3C474.8,543.6 475.6,546.1 476.8,548.0C478.1,549.9 479.2,551.8 481.0,553.0C482.8,554.2 485.4,554.4 487.7,555.0C489.9,555.6 492.1,555.9 494.3,556.3C496.6,556.8 498.8,557.7 501.0,557.7C503.2,557.7 505.9,557.0 507.7,556.3C509.5,555.7 510.4,554.0 511.8,553.8C513.2,553.7 515.1,554.8 516.0,555.5C516.9,556.2 517.5,556.9 517.3,558.0C517.2,559.1 515.9,560.6 515.2,562.2C514.4,563.7 513.0,565.5 513.0,567.2C513.0,568.8 513.8,570.8 515.2,572.2C516.5,573.6 519.2,574.5 521.0,575.5C522.8,576.5 524.5,577.3 526.0,578.0C527.5,578.7 529.3,579.4 530.0,579.7C530.7,579.9 529.3,579.8 530.0,579.7C530.7,579.5 532.9,579.7 534.2,578.8C535.4,578.0 536.8,576.8 537.5,574.7C538.2,572.6 537.8,568.8 538.3,566.3C538.9,563.8 539.7,561.6 540.8,559.7C541.9,557.7 543.3,555.9 545.0,554.7C546.7,553.4 549.2,552.3 550.8,552.2C552.5,552.0 553.6,552.9 555.0,553.8C556.4,554.8 557.9,556.6 559.2,558.0C560.4,559.4 560.7,561.2 562.5,562.2C564.3,563.1 567.4,563.0 570.0,563.8C572.6,564.7 575.8,565.9 578.3,567.2C580.8,568.4 583.1,569.8 585.0,571.3C586.9,572.9 588.8,574.5 590.0,576.3C591.2,578.1 592.6,580.9 592.5,582.2C592.4,583.4 590.2,583.1 589.2,583.8C588.1,584.5 586.2,584.9 586.3,586.3C586.5,587.7 588.6,589.7 590.0,592.2C591.4,594.7 592.8,598.1 595.0,601.3C597.2,604.5 600.8,608.6 603.3,611.3C605.8,614.1 607.8,616.0 610.0,618.0C612.2,620.0 614.6,622.8 616.7,623.3C618.8,623.8 620.8,621.7 622.5,621.0C624.2,620.3 624.9,619.4 626.7,619.3C628.5,619.2 630.8,619.8 633.3,620.5C635.8,621.2 638.9,622.3 641.7,623.8C644.4,625.4 647.5,627.9 650.0,629.7C652.5,631.5 654.4,633.1 656.7,634.7C658.9,636.2 660.8,637.9 663.3,638.8C665.8,639.7 668.9,639.3 671.7,640.0C674.4,640.7 677.2,641.9 680.0,643.0C682.8,644.1 686.0,645.7 688.3,646.7C690.7,647.6 691.1,647.4 694.0,648.8C696.9,650.3 701.5,652.7 705.5,655.2C709.5,657.8 713.8,660.9 718.0,664.0C722.2,667.1 726.8,670.9 730.5,674.0C734.2,677.1 737.6,680.0 740.5,682.8C743.4,685.5 745.1,687.8 748.0,690.2C750.9,692.8 754.7,695.3 758.0,697.8C761.3,700.2 765.1,703.2 768.0,704.8C770.9,706.3 772.6,706.8 775.5,707.0C778.4,707.2 782.2,706.4 785.5,706.0C788.8,705.6 792.2,704.8 795.5,704.8C798.8,704.8 802.2,705.2 805.5,706.0C808.8,706.8 812.8,708.0 815.5,709.5C818.2,711.0 819.9,712.8 821.8,715.2C823.6,717.7 824.9,721.5 826.8,724.0C828.6,726.5 830.7,728.7 833.0,730.2C835.3,731.8 838.0,733.5 840.5,733.5C843.0,733.5 845.5,731.4 848.0,730.2C850.5,729.1 853.2,727.4 855.5,726.5C857.8,725.6 860.7,725.0 861.8,724.8"/>
<path d="M571.0,58.5C571.8,59.5 573.9,63.3 576.0,64.8C578.1,66.2 581.0,66.4 583.5,67.2C586.0,68.1 588.5,68.9 591.0,69.8C593.5,70.6 596.0,71.2 598.5,72.2C601.0,73.3 603.8,75.0 606.0,76.0C608.2,77.0 610.0,77.9 612.0,78.5C614.0,79.1 615.8,78.7 618.0,79.8C620.2,80.8 623.0,82.9 625.5,84.8C628.0,86.6 630.5,89.1 633.0,91.0C635.5,92.9 638.0,94.8 640.5,96.0C643.0,97.2 645.5,98.0 648.0,98.5C650.5,99.0 653.8,98.6 655.5,99.0C657.2,99.4 657.6,100.7 658.0,101.0"/>
<path d="M698.0,143.5C699.2,144.8 703.0,148.1 705.5,151.0C708.0,153.9 710.5,157.7 713.0,161.0C715.5,164.3 718.0,167.2 720.5,171.0C723.0,174.8 725.5,179.5 728.0,183.5C730.5,187.5 733.8,192.0 735.5,194.8C737.2,197.5 737.0,197.5 738.2,200.0C739.3,202.5 740.9,206.8 742.3,210.0C743.7,213.2 745.0,216.4 746.5,219.2C748.0,221.9 749.7,224.0 751.5,226.7C753.3,229.3 755.8,232.5 757.3,235.0C758.9,237.5 759.7,239.5 760.7,241.7C761.6,243.8 761.2,246.1 763.2,248.0C765.1,249.9 769.1,251.1 772.3,253.3C775.5,255.6 779.0,259.0 782.3,261.7C785.7,264.3 789.3,267.2 792.3,269.2C795.4,271.1 797.6,272.2 800.7,273.3C803.7,274.4 807.3,274.7 810.7,275.8C814.0,276.9 817.3,278.5 820.7,280.0C824.0,281.5 827.3,283.3 830.7,285.0C834.0,286.7 837.3,288.6 840.7,290.0C844.0,291.4 847.1,292.3 850.7,293.3C854.3,294.4 860.4,295.8 862.3,296.3"/>
<path d="M161.2,463.2C162.5,464.2 166.3,466.9 168.8,469.0C171.2,471.1 173.4,474.0 175.8,476.0C178.3,478.0 181.0,479.1 183.3,481.0C185.7,482.9 187.8,485.2 190.0,487.7C192.2,490.2 194.4,493.2 196.7,496.0C198.9,498.8 201.1,501.4 203.3,504.3C205.6,507.2 207.8,510.4 210.0,513.5C212.2,516.6 214.4,519.8 216.7,522.7C218.9,525.6 221.0,528.2 223.3,531.0C225.7,533.8 228.6,536.8 230.8,539.3C233.1,541.8 234.9,543.6 236.7,546.0C238.5,548.4 240.1,550.7 241.7,553.5C243.2,556.3 244.4,559.6 245.8,562.7C247.2,565.7 248.5,569.1 250.0,571.8C251.5,574.6 253.6,577.0 255.0,579.3C256.4,581.7 257.4,583.5 258.3,586.0C259.3,588.5 260.3,591.3 260.8,594.3C261.4,597.4 261.2,601.0 261.7,604.3C262.1,607.7 262.5,611.3 263.3,614.3C264.2,617.4 265.8,619.9 266.7,622.7C267.5,625.4 268.1,628.1 268.3,631.0C268.6,633.9 268.1,637.6 268.3,640.0C268.6,642.4 269.4,643.6 269.7,645.5C269.9,647.4 270.7,649.5 270.0,651.3C269.3,653.1 267.2,654.9 265.3,656.3C263.4,657.7 260.9,658.4 258.7,659.7C256.4,660.9 253.5,662.6 252.0,663.8C250.5,665.1 250.2,665.6 249.5,667.2C248.8,668.7 248.8,671.5 247.8,673.0C246.9,674.5 245.2,675.8 243.7,676.3C242.1,676.9 240.5,676.9 238.7,676.3C236.9,675.8 234.5,674.5 232.8,673.0C231.2,671.5 230.2,668.7 228.7,667.2C227.1,665.6 225.3,664.5 223.7,663.8C222.0,663.2 220.1,662.9 218.7,663.3C217.3,663.8 216.4,665.0 215.3,666.3C214.2,667.7 213.4,669.8 212.0,671.3C210.6,672.9 208.7,674.4 207.0,675.5C205.3,676.6 204.4,677.8 202.0,678.0C199.6,678.2 195.8,678.1 192.5,677.0C189.2,675.9 185.8,673.7 182.5,671.5C179.2,669.3 175.8,666.1 172.5,664.0C169.2,661.9 165.8,660.7 162.5,659.0C159.2,657.3 155.8,655.2 152.5,654.0C149.2,652.8 145.4,651.5 142.5,651.5C139.6,651.5 137.1,653.0 135.0,654.0C132.9,655.0 132.1,656.7 130.0,657.8C127.9,658.8 123.8,659.8 122.5,660.2"/>
<path d="M191.2,727.8C192.7,728.2 196.5,729.5 200.0,730.2C203.5,731.0 208.8,731.4 212.5,732.0C216.2,732.6 219.6,733.0 222.5,734.0C225.4,735.0 228.4,736.5 230.0,737.8C231.6,739.0 232.4,740.2 232.0,741.5C231.6,742.8 228.7,744.2 227.5,745.2C226.3,746.3 224.2,747.1 225.0,747.8C225.8,748.4 230.0,748.0 232.5,749.0C235.0,750.0 237.9,752.3 240.0,754.0C242.1,755.7 243.8,756.9 245.0,759.0C246.2,761.1 247.2,763.2 247.5,766.5C247.8,769.8 247.4,775.2 247.0,779.0C246.6,782.8 245.1,785.9 245.0,789.0C244.9,792.1 246.0,796.3 246.2,797.8"/>
<path d="M122.5,701.0C124.6,701.4 131.0,702.7 135.0,703.5C139.0,704.3 144.4,705.6 146.2,706.0"/>
<path d="M122.5,721.0C124.6,720.5 131.2,718.0 135.0,717.8C138.8,717.5 142.1,718.5 145.0,719.5C147.9,720.5 150.6,722.2 152.5,724.0C154.4,725.8 155.4,728.2 156.2,730.2C157.1,732.3 156.5,734.8 157.5,736.5C158.5,738.2 160.0,739.0 162.5,740.2C165.0,741.5 169.6,742.8 172.5,744.0C175.4,745.2 177.9,745.7 180.0,747.8C182.1,749.8 183.8,753.6 185.0,756.5C186.2,759.4 187.2,762.8 187.0,765.2C186.8,767.8 185.8,770.2 183.8,771.5C181.8,772.8 177.7,773.2 175.0,772.8C172.3,772.3 169.4,770.1 167.5,769.0C165.6,767.9 164.4,766.5 163.8,766.0"/>
<path d="M122.5,742.8C124.6,744.2 131.2,748.8 135.0,751.5C138.8,754.2 142.1,756.5 145.0,759.0C147.9,761.5 150.5,764.4 152.5,766.5C154.5,768.6 156.2,770.7 157.0,771.5"/>
<path d="M577.2,730.2C578.3,729.4 581.8,727.5 583.5,725.2C585.2,723.0 586.6,719.6 587.2,716.5C587.9,713.4 587.9,709.2 587.2,706.5C586.6,703.8 585.4,701.1 583.5,700.2C581.6,699.4 578.9,700.9 576.0,701.5C573.1,702.1 569.8,703.4 566.0,704.0C562.2,704.6 557.7,704.8 553.5,705.2C549.3,705.8 544.3,706.0 541.0,707.0C537.7,708.0 535.6,709.1 533.5,711.5C531.4,713.9 530.2,717.8 528.5,721.5C526.8,725.2 524.8,729.8 523.5,734.0C522.2,738.2 522.2,743.2 521.0,746.5C519.8,749.8 518.5,751.5 516.0,754.0C513.5,756.5 509.3,759.0 506.0,761.5C502.7,764.0 498.5,766.5 496.0,769.0C493.5,771.5 491.9,774.0 491.0,776.5C490.1,779.0 490.1,781.9 490.5,784.0C490.9,786.1 492.0,787.8 493.5,789.0C495.0,790.2 497.2,791.2 499.8,791.0C502.2,790.8 505.4,789.3 508.5,787.8C511.6,786.2 515.2,783.6 518.5,781.5C521.8,779.4 525.7,777.2 528.5,775.2C531.3,773.2 534.3,770.5 535.5,769.5"/>
<path d="M186.2,652.8C186.8,651.8 189.4,650.4 191.2,651.0C193.1,651.6 197.3,655.2 197.5,656.5C197.7,657.8 194.1,658.4 192.5,658.5C190.9,658.6 189.0,658.0 188.0,657.0C187.0,656.0 185.7,653.8 186.2,652.8Z"/>
<path d="M195.0,706.5C195.3,705.5 197.1,703.2 198.8,702.8C200.4,702.2 203.6,702.8 205.0,703.5C206.4,704.2 207.4,706.0 207.0,707.0C206.6,708.0 204.2,709.2 202.5,709.5C200.8,709.8 198.2,709.5 197.0,709.0C195.8,708.5 194.7,707.5 195.0,706.5Z"/>
<path d="M137.5,726.5C138.1,725.2 142.1,725.2 143.8,726.5C145.4,727.8 146.5,731.5 147.5,734.0C148.5,736.5 149.9,740.5 149.5,741.5C149.1,742.5 146.6,741.5 145.0,740.2C143.4,739.0 141.2,736.3 140.0,734.0C138.8,731.7 136.9,727.8 137.5,726.5Z"/>
<path d="M168.8,756.5C168.8,755.6 170.9,754.0 172.0,754.0C173.1,754.0 175.5,755.6 175.5,756.5C175.5,757.4 173.1,759.5 172.0,759.5C170.9,759.5 168.8,757.4 168.8,756.5Z"/>
<path d="M256.2,740.2C257.9,739.4 261.9,738.0 265.0,737.8C268.1,737.5 272.1,737.8 275.0,739.0C277.9,740.2 280.8,742.8 282.5,745.2C284.2,747.8 285.0,751.5 285.0,754.0C285.0,756.5 283.8,759.8 282.5,760.2C281.2,760.7 279.6,758.2 277.5,756.5C275.4,754.8 272.5,751.5 270.0,750.2C267.5,749.0 264.8,749.4 262.5,749.0C260.2,748.6 257.5,748.8 256.2,747.8C255.0,746.7 255.0,744.0 255.0,742.8C255.0,741.5 254.6,741.1 256.2,740.2Z"/>
</g>
<g fill="#00008b" fill-opacity="0.9" font-size="13.9" text-anchor="middle">
<text transform="translate(205.5,84.0) rotate(72)" x="0" y="5">1016</text>
<text transform="translate(679.2,123.0) rotate(45)" x="0" y="5">1018</text>
<text transform="translate(140.0,444.5) rotate(40)" x="0" y="5">1014</text>
<text transform="translate(172.5,716.5) rotate(5)" x="0" y="5">1016</text>
<text transform="translate(142.5,745.2) rotate(45)" x="0" y="5">1018</text>
<text transform="translate(180.0,790.2) rotate(25)" x="0" y="5">1016</text>
<text transform="translate(558.0,752.8) rotate(-40)" x="0" y="5">1016</text>
</g></g>
<rect x="123.5" y="59.5" width="738.0" height="738.0" fill="none" stroke="#000" stroke-width="3"/>
<g font-size="15.3" fill="#000" letter-spacing="0.21">
<text x="123" y="20">Viento en superficie (km/h) y PRNM (hPa)</text>
<text x="123" y="44" xml:space="preserve">UTC:  2026-03-06 15:00</text>
<text x="862.5" y="20" text-anchor="end">Pronóstico: 9 h</text>
<text x="856.5" y="44" text-anchor="end">Tiempo local (UTC-6): 2026-03-06 09:00</text>
</g><g font-size="15.3" fill="#000" letter-spacing="0.19">
<text x="123" y="955">PYcast: Sistema de Pronóstico Atmosférico de la Península de Yucatán. Versión: 2.0.</text>
<text x="123" y="973">web: guardian-environment.com/pycast-v2/</text>
</g>
<g font-size="27.8" fill="#000" text-anchor="middle">
<text x="200.6" y="824">92°W</text>
<text x="413.4" y="824">90°W</text>
<text x="626.7" y="824">88°W</text>
<text x="840.7" y="824">86°W</text>
<text transform="translate(116,150) rotate(-90)" x="0" y="0">22°N</text>
<text transform="translate(116,373) rotate(-90)" x="0" y="0">20°N</text>
<text transform="translate(116,594.5) rotate(-90)" x="0" y="0">18°N</text>
</g>
<g shape-rendering="auto">
<rect x="74.50" y="844.5" width="48.06" height="17.0" fill="#ffffff"/>
<rect x="122.26" y="844.5" width="48.06" height="17.0" fill="#f0ffff"/>
<rect x="170.03" y="844.5" width="48.06" height="17.0" fill="#e0ffff"/>
<rect x="217.79" y="844.5" width="48.06" height="17.0" fill="#add8e6"/>
<rect x="265.56" y="844.5" width="48.06" height="17.0" fill="#87ceeb"/>
<rect x="313.32" y="844.5" width="48.06" height="17.0" fill="#bfbf00"/>
<rect x="361.09" y="844.5" width="48.06" height="17.0" fill="#ffdab9"/>
<rect x="408.85" y="844.5" width="48.06" height="17.0" fill="#ffa500"/>
<rect x="456.62" y="844.5" width="48.06" height="17.0" fill="#ff0000"/>
<rect x="504.38" y="844.5" width="48.06" height="17.0" fill="#ffc0cb"/>
<rect x="552.15" y="844.5" width="48.06" height="17.0" fill="#ff69b4"/>
<rect x="599.91" y="844.5" width="48.06" height="17.0" fill="#da70d6"/>
<rect x="647.68" y="844.5" width="48.06" height="17.0" fill="#32cd32"/>
<rect x="695.44" y="844.5" width="48.06" height="17.0" fill="#a9a9a9"/>
<rect x="743.21" y="844.5" width="48.06" height="17.0" fill="#00ffff"/>
<rect x="790.97" y="844.5" width="48.06" height="17.0" fill="#6a5acd"/>
<rect x="838.74" y="844.5" width="48.06" height="17.0" fill="#000000"/>
<rect x="74.5" y="844.5" width="812.0" height="17.0" fill="none" stroke="#000" stroke-width="3"/>
<line x1="74.50" y1="861.5" x2="74.50" y2="867.8" stroke="#000" stroke-width="2"/>
<line x1="122.26" y1="861.5" x2="122.26" y2="873.5" stroke="#000" stroke-width="2.8"/>
<line x1="170.03" y1="861.5" x2="170.03" y2="867.8" stroke="#000" stroke-width="2"/>
<line x1="217.79" y1="861.5" x2="217.79" y2="873.5" stroke="#000" stroke-width="2.8"/>
<line x1="265.56" y1="861.5" x2="265.56" y2="867.8" stroke="#000" stroke-width="2"/>
<line x1="313.32" y1="861.5" x2="313.32" y2="873.5" stroke="#000" stroke-width="2.8"/>
<line x1="361.09" y1="861.5" x2="361.09" y2="867.8" stroke="#000" stroke-width="2"/>
<line x1="408.85" y1="861.5" x2="408.85" y2="873.5" stroke="#000" stroke-width="2.8"/>
<line x1="456.62" y1="861.5" x2="456.62" y2="867.8" stroke="#000" stroke-width="2"/>
<line x1="504.38" y1="861.5" x2="504.38" y2="873.5" stroke="#000" stroke-width="2.8"/>
<line x1="552.15" y1="861.5" x2="552.15" y2="867.8" stroke="#000" stroke-width="2"/>
<line x1="599.91" y1="861.5" x2="599.91" y2="873.5" stroke="#000" stroke-width="2.8"/>
<line x1="647.68" y1="861.5" x2="647.68" y2="873.5" stroke="#000" stroke-width="2.8"/>
<line x1="695.44" y1="861.5" x2="695.44" y2="873.5" stroke="#000" stroke-width="2.8"/>
<line x1="743.21" y1="861.5" x2="743.21" y2="873.5" stroke="#000" stroke-width="2.8"/>
<line x1="790.97" y1="861.5" x2="790.97" y2="873.5" stroke="#000" stroke-width="2.8"/>
<line x1="838.74" y1="861.5" x2="838.74" y2="873.5" stroke="#000" stroke-width="2.8"/>
<line x1="886.50" y1="861.5" x2="886.50" y2="867.8" stroke="#000" stroke-width="2"/>
</g>
<g font-size="27.8" fill="#000" text-anchor="middle">
<text x="121.16" y="908.7">5</text>
<text x="216.69" y="908.7">20</text>
<text x="312.22" y="908.7">40</text>
<text x="407.75" y="908.7">60</text>
<text x="503.28" y="908.7">80</text>
<text x="598.81" y="908.7">100</text>
<text x="647.98" y="908.7"><tspan font-style="italic">H</tspan><tspan font-size="19.4" dy="3.3">1</tspan></text>
<text x="695.74" y="908.7"><tspan font-style="italic">H</tspan><tspan font-size="19.4" dy="3.3">2</tspan></text>
<text x="743.51" y="908.7"><tspan font-style="italic">H</tspan><tspan font-size="19.4" dy="3.3">3</tspan></text>
<text x="791.27" y="908.7"><tspan font-style="italic">H</tspan><tspan font-size="19.4" dy="3.3">4</tspan></text>
<text x="839.04" y="908.7"><tspan font-style="italic">H</tspan><tspan font-size="19.4" dy="3.3">5</tspan></text>
</g>
<path d="M897.20,59.50L906.00,59.50L905.20,61.26L913.20,58.70L905.20,56.14L906.00,57.90L897.20,57.90Z" fill="#000" fill-opacity="0.2"/>
<g fill="#000"><text x="886.3" y="103.2" font-size="22.2">10</text><text x="918.3" y="92.7" font-size="14.6" font-style="italic" text-anchor="middle">m</text><rect x="911.1" y="96.8" width="15.8" height="1.1"/><text x="918" y="107.9" font-size="14.6" font-style="italic" text-anchor="middle">s</text></g>
</svg>
</body></html>
